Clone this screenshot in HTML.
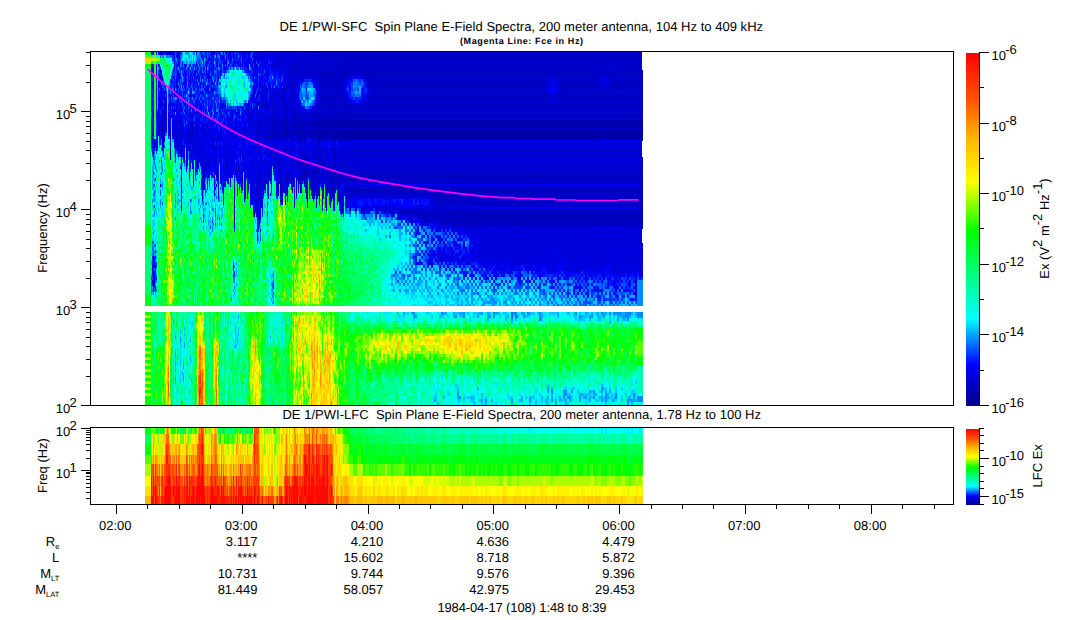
<!DOCTYPE html>
<html><head><meta charset="utf-8"><title>DE 1/PWI Spin Plane E-Field Spectra</title>
<style>html,body{margin:0;padding:0;background:#fff;overflow:hidden}svg{display:block}</style></head>
<body>
<svg width="1083" height="620" viewBox="0 0 1083 620" font-family="Liberation Sans, Arial, Helvetica, sans-serif" font-size="13" fill="#000" shape-rendering="crispEdges">
<rect width="1083" height="620" fill="#fff"/>
<!--DATA-->
<rect x="151" y="130" width="492" height="10" fill="#0000a8"/>
<rect x="151" y="120" width="492" height="8" fill="#0000b0"/>
<rect x="151" y="74" width="492" height="2" fill="#0000b8"/>
<rect x="151" y="84" width="492" height="2" fill="#0000b8"/>
<rect x="151" y="95" width="492" height="2" fill="#0000b8"/>
<rect x="151" y="105" width="492" height="2" fill="#0000b8"/>
<rect x="151" y="115" width="492" height="2" fill="#0000b8"/>
<rect x="151" y="150" width="491" height="1" fill="#0000c0"/>
<rect x="151" y="155" width="491" height="1" fill="#0000c0"/>
<rect x="151" y="165" width="492" height="1" fill="#0000c0"/>
<rect x="151" y="176" width="492" height="1" fill="#0000c0"/>
<rect x="151" y="190" width="492" height="1" fill="#0000c0"/>
<rect x="151" y="196" width="492" height="1" fill="#0000c0"/>
<rect x="151" y="209" width="492" height="17" fill="#0000c0"/>
<rect x="151" y="52" width="491" height="18" fill="#0000c8"/>
<rect x="151" y="70" width="492" height="4" fill="#0000c8"/>
<rect x="151" y="76" width="492" height="3" fill="#0000c8"/>
<rect x="151" y="80" width="492" height="4" fill="#0000c8"/>
<rect x="151" y="86" width="492" height="4" fill="#0000c8"/>
<rect x="151" y="91" width="492" height="4" fill="#0000c8"/>
<rect x="151" y="97" width="492" height="3" fill="#0000c8"/>
<rect x="151" y="101" width="492" height="4" fill="#0000c8"/>
<rect x="151" y="107" width="492" height="3" fill="#0000c8"/>
<rect x="151" y="111" width="492" height="4" fill="#0000c8"/>
<rect x="151" y="117" width="492" height="2" fill="#0000c8"/>
<rect x="151" y="128" width="492" height="2" fill="#0000c8"/>
<rect x="151" y="170" width="492" height="6" fill="#0000c8"/>
<rect x="151" y="177" width="492" height="7" fill="#0000c8"/>
<rect x="151" y="185" width="492" height="5" fill="#0000c8"/>
<rect x="151" y="191" width="492" height="5" fill="#0000c8"/>
<rect x="151" y="197" width="492" height="10" fill="#0000c8"/>
<rect x="151" y="146" width="491" height="4" fill="#0000d8"/>
<rect x="151" y="151" width="491" height="4" fill="#0000d8"/>
<rect x="151" y="156" width="491" height="1" fill="#0000d8"/>
<rect x="151" y="229" width="491" height="14" fill="#0000d8"/>
<rect x="151" y="79" width="492" height="1" fill="#0000d8"/>
<rect x="151" y="90" width="492" height="1" fill="#0000d8"/>
<rect x="151" y="100" width="492" height="1" fill="#0000d8"/>
<rect x="151" y="110" width="492" height="1" fill="#0000d8"/>
<rect x="151" y="119" width="492" height="1" fill="#0000d8"/>
<rect x="151" y="157" width="492" height="1" fill="#0000d8"/>
<rect x="151" y="158" width="492" height="7" fill="#0000d8"/>
<rect x="151" y="166" width="492" height="4" fill="#0000d8"/>
<rect x="151" y="226" width="492" height="3" fill="#0000d8"/>
<rect x="151" y="243" width="492" height="63" fill="#0000d8"/>
<rect x="151" y="141" width="491" height="5" fill="#0000e7"/>
<rect x="151" y="140" width="492" height="1" fill="#0000e7"/>
<rect x="151" y="207" width="492" height="2" fill="#0000ef"/>
<rect x="151" y="184" width="492" height="1" fill="#00f"/>
<path stroke="#000089" stroke-width="1" fill="none" d="M162.5 130v3M318.5 136v3"/>
<path stroke="#000091" stroke-width="1" fill="none" d="M335.5 136v3"/>
<path stroke="#009" stroke-width="1" fill="none" d="M326.5 136v3M338.5 196v3"/>
<path stroke="#0000a1" stroke-width="1" fill="none" d="M170.5 133v3M190.5 130v3M261.5 181v3M286.5 133v3M300.5 175v3M303.5 175v3M306.5 187v3M318.5 130v3M319.5 121v3M319.5 136v3M326.5 133v3M332.5 187v3M334.5 136v3M335.5 133v3M335.5 154v3M335.5 163v3M335.5 172v3M335.5 178v3M338.5 172v3M339.5 133v3M340.5 133v3"/>
<path stroke="#0000a8" stroke-width="1" fill="none" d="M153.5 280v3M161.5 121v3M226.5 160v3M280.5 187v3M291.5 154v3M304.5 154v3M304.5 175v6M309.5 163v3M318.5 124v3M319.5 124v3M324.5 163v3M326.5 127v3M331.5 121v3M332.5 178v3M332.5 193v3M335.5 160v3M335.5 166v3M335.5 190v3M338.5 181v3M341.5 211v3"/>
<path stroke="#0000b0" stroke-width="1" fill="none" d="M153.5 262v3M161.5 115v3M161.5 133v3M162.5 118v3M162.5 127v3M164.5 115v3M182.5 133v3M192.5 127v3M201.5 169v3M203.5 178v3M207.5 130v3M207.5 184v3M226.5 163v3M241.5 187v3M256.5 175v3M261.5 175v3M261.5 190v3M262.5 103v3M268.5 136v3M271.5 130v3M274.5 130v3M278.5 160v3M279.5 133v3M280.5 136v3M281.5 160v3M281.5 184v3M281.5 193v3M282.5 133v3M285.5 133v3M286.5 115v3M286.5 127v3M287.5 148v3M291.5 163v3M293.5 178v3M297.5 136v3M299.5 130v3M299.5 160v3M300.5 130v6M300.5 181v3M301.5 133v3M304.5 163v6M305.5 130v3M306.5 172v3M309.5 130v3M309.5 175v6M310.5 130v3M311.5 133v3M311.5 190v3M312.5 172v3M312.5 193v3M313.5 139v3M313.5 196v3M315.5 175v3M316.5 157v3M316.5 172v3M317.5 133v3M318.5 142v3M321.5 103v3M322.5 115v3M323.5 73v3M323.5 193v3M324.5 130v3M324.5 151v3M325.5 130v3M325.5 202v3M327.5 136v3M330.5 187v3M332.5 169v6M332.5 181v3M333.5 130v3M333.5 154v3M335.5 175v3M335.5 181v3M336.5 130v3M336.5 175v3M337.5 133v3M338.5 190v6M339.5 199v3M340.5 160v6M343.5 154v3"/>
<path stroke="#0000b0" stroke-width="2" fill="none" d="M346 133v3"/>
<path stroke="#0000b8" stroke-width="1" fill="none" d="M161.5 100v3M161.5 118v3M161.5 124v3M162.5 136v3M170.5 130v3M176.5 136v3M182.5 130v3M189.5 145v3M190.5 127v3M192.5 133v3M196.5 130v3M196.5 139v3M196.5 160v3M208.5 157v3M211.5 100v3M231.5 133v3M232.5 127v3M236.5 169v3M242.5 178v3M249.5 124v6M259.5 130v3M259.5 151v3M261.5 184v3M267.5 172v3M271.5 121v9M272.5 112v6M272.5 127v3M274.5 121v3M275.5 130v3M277.5 100v3M280.5 97v3M281.5 127v3M281.5 157v3M281.5 181v3M282.5 127v6M284.5 106v3M284.5 133v3M285.5 106v3M285.5 127v3M286.5 106v3M286.5 124v3M286.5 148v3M288.5 130v3M288.5 172v3M289.5 124v3M290.5 73v3M290.5 121v3M291.5 76v3M291.5 91v3M291.5 121v3M291.5 136v3M291.5 160v3M291.5 166v3M291.5 178v3M293.5 130v9M293.5 175v3M294.5 82v3M294.5 97v3M294.5 112v3M294.5 127v3M295.5 130v3M295.5 160v3M296.5 82v3M297.5 139v3M298.5 130v3M298.5 136v3M299.5 121v3M299.5 127v3M299.5 133v3M300.5 115v3M300.5 136v3M300.5 151v3M301.5 73v3M301.5 136v3M302.5 127v3M302.5 133v3M302.5 139v3M302.5 169v3M303.5 154v3M303.5 163v6M304.5 121v3M304.5 127v6M304.5 136v3M306.5 190v3M307.5 121v3M307.5 130v3M308.5 121v3M308.5 136v3M308.5 151v3M308.5 169v3M309.5 169v3M310.5 121v3M311.5 121v3M312.5 133v3M312.5 178v3M312.5 187v3M313.5 73v3M313.5 169v6M314.5 130v3M314.5 178v3M315.5 187v3M316.5 130v9M316.5 163v3M317.5 124v3M317.5 130v3M318.5 127v3M318.5 145v3M318.5 157v3M318.5 163v3M319.5 82v3M319.5 196v3M321.5 76v3M321.5 82v3M321.5 133v3M322.5 136v3M322.5 148v3M322.5 181v3M323.5 76v3M323.5 85v3M323.5 121v3M323.5 130v3M323.5 136v3M323.5 187v6M324.5 106v3M324.5 160v3M324.5 166v3M326.5 187v3M326.5 193v3M327.5 103v3M327.5 118v3M327.5 130v3M329.5 124v3M329.5 133v3M329.5 199v3M330.5 91v3M330.5 103v3M330.5 133v3M330.5 193v3M331.5 55v3M331.5 133v3M332.5 76v3M332.5 124v3M332.5 154v3M332.5 163v3M332.5 175v3M332.5 190v3M333.5 133v3M334.5 139v3M334.5 196v3M335.5 127v3M335.5 151v3M335.5 157v3M335.5 169v3M336.5 133v3M336.5 181v3M337.5 163v3M337.5 199v3M338.5 175v3M338.5 184v6M338.5 199v3M339.5 127v3M339.5 190v3M340.5 127v3M341.5 139v3M341.5 196v3M341.5 202v3M342.5 115v3M342.5 127v3M343.5 163v3M343.5 196v3M344.5 136v3"/>
<path stroke="#0000b8" stroke-width="2" fill="none" d="M376 211v3M422 217v3M436 217v3M444 214v3M452 211v3M452 217v3M454 211v3M454 217v3M462 217v3M464 220v6M466 214v3M468 214v3"/>
<path stroke="#0000c0" stroke-width="1" fill="none" d="M153.5 265v3M153.5 283v3M160.5 52v3M161.5 127v3M162.5 142v3M163.5 124v3M164.5 136v3M177.5 109v3M180.5 145v3M181.5 133v3M181.5 148v12M181.5 166v3M188.5 133v3M190.5 112v3M196.5 151v3M196.5 169v3M202.5 160v3M209.5 136v3M212.5 145v3M220.5 172v3M226.5 157v3M227.5 139v3M241.5 184v3M242.5 163v3M243.5 160v3M249.5 106v6M249.5 121v3M249.5 133v3M249.5 154v3M251.5 109v3M251.5 121v3M251.5 181v3M252.5 148v3M252.5 163v3M252.5 181v3M256.5 139v3M257.5 232v3M258.5 124v3M258.5 130v3M258.5 148v3M259.5 154v3M259.5 163v3M260.5 142v3M261.5 121v3M261.5 169v3M264.5 184v3M265.5 136v3M266.5 136v3M266.5 151v3M266.5 160v3M267.5 121v3M268.5 118v9M269.5 136v3M271.5 133v6M272.5 97v3M272.5 154v3M273.5 124v3M273.5 169v3M274.5 109v6M274.5 148v3M275.5 91v3M275.5 118v3M275.5 136v3M276.5 121v3M277.5 97v3M277.5 130v3M277.5 169v3M278.5 133v3M279.5 121v6M279.5 148v3M279.5 154v3M280.5 166v3M281.5 163v3M282.5 136v3M282.5 199v3M284.5 121v3M284.5 130v3M285.5 118v3M285.5 130v3M285.5 136v3M285.5 199v6M286.5 100v3M286.5 109v6M286.5 139v3M287.5 127v3M288.5 133v3M288.5 178v3M289.5 133v3M290.5 133v3M291.5 61v3M291.5 79v3M291.5 88v3M291.5 133v3M291.5 175v3M292.5 130v3M292.5 136v3M293.5 181v3M294.5 70v3M294.5 118v3M294.5 139v3M296.5 70v3M296.5 181v3M297.5 118v3M297.5 124v3M297.5 160v3M298.5 139v3M298.5 160v3M299.5 124v3M299.5 136v3M300.5 118v3M300.5 148v3M300.5 163v3M300.5 187v3M301.5 55v3M301.5 118v6M301.5 187v3M302.5 121v3M302.5 151v3M302.5 166v3M302.5 178v3M303.5 130v3M303.5 148v3M303.5 160v3M304.5 124v3M304.5 133v3M304.5 160v3M304.5 169v3M304.5 181v3M305.5 124v3M305.5 133v6M306.5 121v3M306.5 136v3M306.5 160v3M306.5 169v3M307.5 124v3M308.5 124v3M308.5 130v3M308.5 166v3M309.5 121v3M309.5 151v9M309.5 187v3M312.5 136v3M312.5 163v3M313.5 133v3M314.5 124v3M314.5 136v3M314.5 154v3M314.5 175v3M314.5 184v3M315.5 124v3M315.5 136v3M315.5 163v3M316.5 121v6M316.5 181v3M317.5 52v3M317.5 136v3M318.5 148v3M318.5 154v3M318.5 169v3M319.5 58v3M319.5 139v3M320.5 124v3M322.5 160v3M322.5 184v3M323.5 52v3M323.5 67v3M323.5 124v3M324.5 133v3M324.5 157v3M324.5 175v3M326.5 67v6M326.5 76v6M326.5 139v3M326.5 148v3M326.5 169v3M326.5 199v3M327.5 91v3M327.5 139v3M327.5 169v3M328.5 76v3M328.5 130v3M328.5 136v3M329.5 163v3M329.5 169v6M330.5 88v3M330.5 136v3M330.5 184v3M331.5 91v3M331.5 109v3M331.5 136v3M331.5 169v3M332.5 133v3M332.5 148v3M333.5 148v3M333.5 184v3M334.5 148v3M334.5 160v12M335.5 148v3M336.5 172v3M337.5 136v3M337.5 154v3M338.5 76v3M338.5 139v3M338.5 163v3M339.5 139v3M339.5 157v3M339.5 166v3M339.5 181v3M341.5 88v3M341.5 199v3M342.5 208v3M343.5 208v3"/>
<path stroke="#0000c0" stroke-width="2" fill="none" d="M346 163v3M350 73v3M406 211v3M412 214v3M416 214v3M426 211v3M436 220v3M440 259v3M444 247v3M446 220v3M454 220v3M464 217v3M466 211v3M466 217v6M578 268v3M598 73v3M606 73v3"/>
<path stroke="#0000c8" stroke-width="1" fill="none" d="M155.5 265v6M158.5 121v3M159.5 130v3M161.5 94v3M161.5 130v3M162.5 121v3M162.5 133v3M163.5 130v3M164.5 124v3M165.5 106v3M165.5 124v6M170.5 118v3M170.5 136v3M173.5 121v3M175.5 127v3M175.5 136v3M176.5 109v3M176.5 121v6M176.5 130v6M176.5 145v3M178.5 133v3M179.5 118v3M179.5 136v3M180.5 136v6M181.5 160v6M186.5 160v3M187.5 118v3M187.5 130v3M188.5 136v3M189.5 151v3M189.5 163v3M190.5 82v3M190.5 124v3M190.5 133v3M190.5 160v3M192.5 139v3M192.5 145v3M194.5 148v3M195.5 130v3M195.5 151v3M196.5 127v3M196.5 136v3M196.5 145v3M197.5 139v3M198.5 85v3M199.5 124v3M201.5 160v3M202.5 157v3M202.5 163v3M203.5 130v3M203.5 157v9M206.5 157v3M207.5 148v3M207.5 166v6M208.5 160v3M208.5 175v3M209.5 130v6M211.5 124v3M211.5 133v3M212.5 136v6M212.5 157v3M213.5 145v6M215.5 163v3M215.5 169v3M216.5 151v3M216.5 160v3M220.5 160v3M227.5 127v3M227.5 133v3M231.5 136v3M231.5 148v6M231.5 169v3M234.5 205v3M236.5 166v3M242.5 151v3M242.5 166v3M243.5 157v3M246.5 133v3M246.5 169v3M249.5 103v3M249.5 118v3M249.5 130v3M249.5 142v3M249.5 148v6M249.5 169v3M252.5 124v3M252.5 160v3M252.5 184v3M253.5 103v3M254.5 121v3M256.5 124v3M256.5 133v3M256.5 148v3M257.5 220v3M257.5 226v3M258.5 121v3M258.5 127v3M258.5 133v6M259.5 106v3M259.5 124v3M259.5 157v3M259.5 208v3M260.5 124v3M260.5 133v6M261.5 124v9M263.5 130v3M264.5 124v3M265.5 133v3M266.5 139v3M266.5 169v3M267.5 73v3M267.5 106v6M267.5 115v3M267.5 136v3M268.5 103v3M268.5 127v3M268.5 133v3M268.5 139v3M268.5 151v3M269.5 121v6M269.5 130v3M270.5 115v3M270.5 124v3M270.5 133v3M271.5 163v3M272.5 121v6M272.5 130v3M272.5 136v3M272.5 148v3M273.5 133v3M273.5 166v3M274.5 106v3M274.5 115v6M274.5 124v6M274.5 136v6M274.5 145v3M274.5 163v3M275.5 94v3M275.5 100v3M275.5 109v3M275.5 124v6M275.5 133v3M275.5 151v3M275.5 157v3M276.5 133v3M277.5 94v3M277.5 127v3M277.5 145v3M277.5 163v3M278.5 121v9M278.5 136v3M278.5 166v3M279.5 106v3M279.5 118v3M279.5 127v3M279.5 142v3M280.5 94v3M280.5 127v3M280.5 184v3M281.5 94v3M281.5 124v3M281.5 130v6M281.5 151v3M281.5 169v3M282.5 100v3M282.5 169v3M283.5 106v3M283.5 157v3M284.5 88v3M284.5 94v3M284.5 103v3M284.5 115v3M284.5 124v3M285.5 115v3M285.5 145v3M287.5 115v3M287.5 130v9M287.5 154v3M287.5 160v3M288.5 124v6M288.5 136v3M289.5 85v3M289.5 118v3M289.5 136v3M289.5 160v3M290.5 85v3M290.5 94v3M290.5 106v3M290.5 115v3M290.5 136v3M291.5 106v6M291.5 118v3M291.5 151v3M291.5 157v3M292.5 118v12M292.5 133v3M292.5 160v6M293.5 94v3M293.5 166v3M293.5 184v3M294.5 79v3M294.5 85v3M294.5 100v3M294.5 115v3M294.5 163v3M295.5 73v3M295.5 94v3M295.5 121v9M295.5 169v3M296.5 115v3M296.5 130v3M297.5 127v3M297.5 133v3M297.5 151v3M297.5 163v3M298.5 115v3M298.5 133v3M298.5 163v9M299.5 73v3M299.5 106v3M299.5 115v3M299.5 139v3M299.5 166v3M300.5 121v3M300.5 127v3M300.5 139v3M300.5 157v3M300.5 184v3M301.5 127v3M301.5 163v3M302.5 115v3M302.5 136v3M302.5 154v6M303.5 73v3M303.5 124v3M303.5 133v6M303.5 145v3M303.5 157v3M303.5 169v3M304.5 73v3M304.5 115v3M304.5 142v3M304.5 157v3M305.5 115v3M306.5 130v6M306.5 163v6M306.5 196v3M307.5 73v3M307.5 115v3M307.5 127v3M307.5 133v3M308.5 73v3M308.5 115v3M308.5 127v3M308.5 133v3M309.5 115v3M309.5 127v3M309.5 133v3M310.5 73v3M310.5 124v3M310.5 184v3M311.5 73v3M311.5 115v3M311.5 127v3M311.5 136v3M311.5 163v3M311.5 169v3M312.5 73v3M312.5 169v3M313.5 163v3M314.5 127v3M314.5 133v3M314.5 166v3M315.5 148v3M315.5 160v3M315.5 169v3M315.5 184v3M316.5 73v3M316.5 106v3M316.5 154v3M316.5 169v3M317.5 73v3M317.5 106v6M317.5 115v3M317.5 157v3M318.5 103v3M318.5 139v3M318.5 166v3M319.5 85v3M319.5 94v3M319.5 106v3M319.5 145v3M320.5 82v3M320.5 106v3M320.5 139v3M321.5 73v3M321.5 109v3M322.5 73v3M322.5 82v3M322.5 103v3M322.5 163v3M322.5 205v3M323.5 103v3M324.5 73v3M324.5 94v3M324.5 154v3M325.5 94v3M325.5 106v3M325.5 115v3M325.5 160v3M326.5 103v3M326.5 205v3M328.5 73v3M328.5 106v3M328.5 115v3M328.5 127v3M328.5 160v3M328.5 166v3M329.5 94v3M329.5 115v3M329.5 127v3M329.5 151v3M331.5 82v6M332.5 103v3M332.5 118v3M332.5 157v3M332.5 166v3M333.5 94v3M333.5 151v3M333.5 163v6M334.5 73v3M334.5 85v3M334.5 94v3M334.5 157v3M335.5 184v3M336.5 73v3M336.5 94v3M336.5 106v3M336.5 184v3M337.5 115v3M338.5 169v3M339.5 103v3M340.5 82v3M341.5 82v3M341.5 166v3M342.5 73v3M342.5 82v3M342.5 205v3M343.5 106v3M343.5 151v3M343.5 157v6M343.5 166v3M344.5 73v3M344.5 106v3M344.5 115v3"/>
<path stroke="#0000c8" stroke-width="2" fill="none" d="M346 196v3M352 73v3M352 106v3M354 73v3M356 106v3M358 73v3M362 73v3M362 103v3M366 76v3M370 82v6M370 94v3M392 211v3M398 214v3M400 211v3M404 214v3M408 211v3M412 217v6M418 214v3M422 220v3M424 211v3M426 220v3M428 211v3M428 217v3M430 220v3M432 196v3M432 211v6M434 214v3M436 208v3M438 211v3M438 217v6M442 214v6M444 211v3M444 229v3M446 196v3M446 214v3M446 223v3M448 196v3M448 214v3M448 223v3M456 214v3M460 220v6M462 196v3M466 199v6M476 208v3M548 94v3M556 94v3M558 94v3M560 82v6M568 268v3M598 85v3M600 73v3M600 85v3M604 265v3M608 73v3M608 85v3M610 82v3M612 268v3M614 265v3"/>
<path stroke="#0000d0" stroke-width="1" fill="none" d="M158.5 115v3M158.5 124v3M159.5 127v3M161.5 76v3M161.5 88v3M161.5 136v3M162.5 109v3M162.5 115v3M162.5 145v3M163.5 112v3M163.5 127v3M163.5 142v3M164.5 127v6M166.5 121v3M166.5 127v3M170.5 103v3M170.5 145v3M172.5 127v3M172.5 133v3M173.5 124v3M173.5 133v3M174.5 76v3M174.5 109v3M175.5 121v3M175.5 139v3M177.5 133v6M178.5 94v3M178.5 127v3M179.5 55v3M179.5 127v6M180.5 133v3M181.5 121v3M181.5 145v3M181.5 199v3M183.5 124v3M183.5 154v3M185.5 133v3M186.5 166v6M187.5 124v3M188.5 79v3M188.5 142v3M188.5 148v3M189.5 130v9M189.5 160v3M189.5 169v3M190.5 136v6M190.5 154v3M191.5 124v3M192.5 124v3M192.5 136v3M193.5 121v3M195.5 121v3M195.5 127v3M195.5 136v3M195.5 154v3M195.5 163v3M196.5 106v3M196.5 124v3M196.5 163v6M197.5 130v3M197.5 142v3M198.5 148v3M199.5 136v6M201.5 91v3M201.5 136v3M201.5 142v6M201.5 157v3M202.5 124v3M202.5 133v3M203.5 133v3M203.5 145v3M203.5 151v3M203.5 169v3M203.5 184v3M204.5 130v3M204.5 166v3M205.5 127v6M206.5 163v3M207.5 160v3M208.5 148v3M208.5 163v3M209.5 121v3M212.5 130v3M213.5 127v3M213.5 139v3M214.5 163v3M214.5 175v3M214.5 187v6M216.5 142v3M216.5 172v3M217.5 130v3M217.5 175v3M218.5 145v3M220.5 127v3M220.5 133v6M223.5 172v3M223.5 190v3M225.5 148v3M226.5 148v3M226.5 169v6M227.5 130v3M227.5 142v3M227.5 157v3M228.5 181v3M229.5 52v3M229.5 133v6M229.5 148v3M230.5 133v3M231.5 139v3M231.5 160v3M231.5 166v3M233.5 163v3M234.5 142v3M234.5 202v3M234.5 223v3M236.5 124v3M236.5 175v3M237.5 190v3M238.5 163v3M239.5 118v3M239.5 127v3M239.5 181v3M239.5 187v3M242.5 130v9M242.5 142v3M242.5 154v6M244.5 124v3M244.5 178v3M244.5 196v3M245.5 130v3M245.5 166v3M246.5 115v3M246.5 130v3M246.5 172v3M249.5 136v6M249.5 163v3M251.5 103v3M251.5 130v3M251.5 136v3M251.5 160v3M251.5 187v3M251.5 199v3M252.5 127v15M252.5 166v3M252.5 175v3M253.5 163v3M254.5 61v3M254.5 214v3M255.5 64v3M256.5 118v3M256.5 127v6M256.5 136v3M256.5 145v3M257.5 106v3M257.5 112v3M257.5 118v9M257.5 130v3M257.5 136v3M257.5 145v3M257.5 151v3M258.5 175v3M258.5 196v3M259.5 118v3M259.5 142v6M259.5 172v6M259.5 187v6M260.5 64v3M260.5 85v3M260.5 121v3M260.5 130v3M260.5 139v3M260.5 166v3M260.5 175v3M260.5 184v6M261.5 97v3M261.5 136v3M262.5 85v3M263.5 85v3M263.5 121v3M264.5 94v3M264.5 115v3M264.5 130v3M264.5 136v3M264.5 175v3M264.5 187v3M265.5 61v3M265.5 94v3M265.5 106v3M265.5 121v12M265.5 157v3M266.5 103v3M266.5 148v3M267.5 52v3M267.5 58v3M267.5 76v3M267.5 103v3M267.5 127v3M267.5 145v3M267.5 184v3M268.5 175v3M269.5 118v3M269.5 172v3M270.5 55v3M270.5 94v3M270.5 106v3M270.5 118v3M270.5 130v3M271.5 55v3M271.5 148v3M272.5 103v6M272.5 139v3M273.5 121v3M273.5 151v3M274.5 67v3M274.5 91v3M274.5 157v3M275.5 52v3M275.5 61v3M275.5 115v3M275.5 121v3M275.5 139v3M276.5 64v3M276.5 112v3M276.5 127v6M277.5 118v9M277.5 133v6M278.5 97v3M278.5 115v3M278.5 130v3M278.5 175v3M278.5 187v3M279.5 112v6M279.5 139v3M279.5 166v3M279.5 175v3M280.5 55v3M280.5 67v3M280.5 106v6M280.5 121v3M280.5 130v3M280.5 190v3M280.5 199v3M281.5 103v3M281.5 118v6M281.5 136v9M282.5 91v6M282.5 139v6M282.5 172v3M282.5 181v3M282.5 193v6M282.5 202v3M283.5 73v3M283.5 85v3M283.5 94v3M283.5 103v3M283.5 115v3M283.5 121v3M283.5 130v3M284.5 52v3M284.5 67v3M284.5 190v3M285.5 103v3M285.5 193v6M286.5 82v6M286.5 91v3M286.5 145v3M286.5 190v3M287.5 52v3M287.5 61v3M287.5 85v3M287.5 91v3M287.5 103v6M287.5 118v9M287.5 172v3M288.5 64v3M288.5 73v6M288.5 85v3M288.5 118v3M288.5 151v3M289.5 73v3M289.5 94v15M289.5 115v3M289.5 121v3M289.5 127v3M289.5 139v3M289.5 151v3M289.5 175v3M290.5 103v3M290.5 118v3M290.5 124v9M290.5 178v3M291.5 58v3M291.5 82v3M291.5 103v3M291.5 139v3M291.5 172v3M292.5 64v3M292.5 85v3M292.5 94v3M292.5 106v3M292.5 115v3M292.5 166v3M292.5 175v3M293.5 82v3M293.5 103v6M293.5 127v3M293.5 142v3M294.5 73v3M294.5 106v3M294.5 136v3M294.5 202v3M295.5 55v9M295.5 133v3M296.5 61v3M296.5 73v3M296.5 85v3M296.5 103v3M296.5 127v3M296.5 133v6M296.5 157v3M297.5 70v3M297.5 103v3M297.5 115v3M297.5 121v3M297.5 157v3M297.5 175v3M298.5 118v3M298.5 124v6M298.5 187v3M299.5 112v3M299.5 118v3M299.5 145v3M299.5 178v3M300.5 70v3M300.5 106v3M300.5 178v3M301.5 70v3M301.5 76v3M301.5 115v3M302.5 67v3M302.5 73v3M302.5 118v3M302.5 160v3M302.5 175v3M302.5 181v3M303.5 115v6M303.5 127v3M304.5 139v3M304.5 151v3M305.5 61v3M305.5 112v3M305.5 118v3M305.5 187v3M306.5 67v3M306.5 73v3M306.5 124v6M306.5 178v3M306.5 184v3M307.5 58v3M307.5 64v6M307.5 193v3M308.5 112v3M308.5 157v3M308.5 163v3M309.5 112v3M310.5 70v3M310.5 112v9M310.5 127v3M310.5 133v6M310.5 172v3M310.5 178v6M311.5 112v3M311.5 118v3M311.5 157v3M312.5 58v3M312.5 76v3M312.5 118v3M312.5 181v3M313.5 52v3M313.5 76v3M313.5 118v3M313.5 184v3M313.5 193v3M313.5 199v3M314.5 67v9M314.5 115v3M314.5 196v3M315.5 70v9M315.5 178v3M316.5 64v3M316.5 82v3M316.5 103v3M316.5 160v3M317.5 67v3M317.5 76v3M317.5 85v3M317.5 166v3M317.5 190v3M318.5 61v3M318.5 106v3M318.5 175v3M319.5 70v3M319.5 151v3M319.5 160v3M319.5 172v3M320.5 67v3M320.5 103v3M321.5 70v3M321.5 151v3M321.5 175v3M322.5 61v9M322.5 85v3M322.5 145v3M322.5 175v3M322.5 190v3M322.5 202v3M323.5 106v3M323.5 112v3M323.5 169v6M324.5 82v6M324.5 112v3M324.5 178v3M325.5 52v6M325.5 97v3M326.5 97v3M326.5 106v3M326.5 166v3M326.5 175v3M326.5 184v3M327.5 52v12M327.5 157v3M327.5 190v3M328.5 61v3M328.5 112v3M328.5 118v3M328.5 175v3M329.5 91v3M329.5 103v6M329.5 118v3M329.5 136v3M329.5 166v3M330.5 58v6M330.5 76v3M330.5 166v3M330.5 190v3M331.5 190v3M332.5 160v3M333.5 118v3M333.5 208v3M334.5 52v3M335.5 142v3M336.5 58v3M336.5 157v3M337.5 187v12M337.5 202v3M338.5 52v3M338.5 58v3M338.5 64v3M338.5 118v3M338.5 151v3M340.5 64v3M340.5 196v3M341.5 145v3M341.5 172v3M341.5 190v3M342.5 85v3M342.5 91v3M342.5 145v3M342.5 166v3M342.5 199v3M343.5 61v3M343.5 178v3M343.5 190v3M344.5 82v6M344.5 94v6M344.5 103v3"/>
<path stroke="#0000d0" stroke-width="2" fill="none" d="M346 97v3M346 139v3M346 148v3M346 166v6M346 187v3M346 193v3M346 199v3M348 76v3M348 100v3M348 160v3M348 169v15M348 187v6M348 196v3M350 169v3M350 196v3M352 103v3M352 193v3M354 103v3M356 193v3M358 193v3M360 73v3M360 103v3M360 193v3M362 193v3M364 193v3M364 211v3M366 100v3M366 193v3M368 79v6M368 94v6M368 193v3M368 208v3M370 91v3M370 196v3M372 193v6M374 181v3M374 193v3M376 193v3M382 193v3M382 211v3M384 211v3M386 208v3M388 193v3M392 196v3M400 193v3M402 193v3M406 214v3M410 193v3M410 214v6M412 193v3M414 193v3M416 193v3M418 196v3M420 193v3M420 217v3M422 208v3M426 193v3M430 193v3M432 217v6M434 202v3M434 220v3M438 202v3M440 205v3M440 223v3M442 223v3M442 256v3M444 241v3M446 202v3M446 208v3M452 205v3M452 259v3M456 226v3M458 202v3M462 226v3M464 202v9M476 229v3M486 265v3M512 262v6M546 82v6M546 91v3M548 76v3M550 76v3M550 97v3M552 97v3M554 76v3M554 97v3M554 262v3M556 76v3M556 97v3M558 76v3M558 85v3M576 265v6M578 262v3M586 265v3M592 265v3M598 76v3M598 82v3M600 82v3M602 73v3M602 85v3M604 73v3M604 85v3M606 85v3M608 82v3M614 268v3M620 271v3M624 262v3M628 265v3M636 265v6M636 274v3M638 265v3M640 265v9"/>
<path stroke="#0000d8" stroke-width="1" fill="none" d="M153.5 256v3M158.5 109v3M158.5 118v3M159.5 76v3M159.5 85v3M159.5 106v3M160.5 70v3M160.5 100v3M161.5 73v3M161.5 85v3M161.5 106v3M162.5 139v3M163.5 136v3M164.5 94v3M164.5 100v3M164.5 106v3M164.5 133v3M165.5 103v3M165.5 109v6M165.5 118v3M166.5 115v6M169.5 103v3M169.5 130v6M170.5 106v3M170.5 154v6M172.5 52v3M172.5 115v3M173.5 127v3M174.5 112v3M174.5 136v3M175.5 115v3M175.5 130v6M175.5 148v3M176.5 118v3M176.5 139v3M176.5 148v3M177.5 106v3M177.5 139v6M178.5 121v3M178.5 136v3M178.5 145v3M179.5 124v3M180.5 127v3M181.5 118v3M181.5 130v3M181.5 169v3M181.5 187v3M182.5 121v3M182.5 136v3M182.5 145v3M183.5 100v3M186.5 136v3M186.5 163v3M187.5 112v3M187.5 133v6M187.5 142v3M188.5 130v3M188.5 145v3M189.5 112v3M189.5 172v3M190.5 85v3M190.5 100v3M190.5 115v3M191.5 115v3M191.5 130v3M191.5 139v3M192.5 121v3M192.5 166v3M193.5 130v3M193.5 181v3M194.5 136v3M194.5 154v3M195.5 145v3M195.5 172v6M196.5 112v3M196.5 133v3M196.5 154v3M197.5 115v3M197.5 127v3M197.5 154v3M198.5 79v3M199.5 121v3M199.5 133v3M201.5 121v3M201.5 130v3M201.5 163v3M202.5 130v3M202.5 136v6M202.5 154v3M202.5 172v3M202.5 181v3M202.5 190v3M203.5 82v3M203.5 121v6M203.5 136v6M203.5 172v3M203.5 181v3M205.5 175v3M206.5 136v3M206.5 142v3M206.5 154v3M207.5 127v3M207.5 154v3M207.5 163v3M208.5 76v3M208.5 154v3M209.5 127v3M209.5 139v3M210.5 130v3M210.5 136v3M211.5 97v3M211.5 106v3M211.5 121v3M211.5 139v3M211.5 154v3M212.5 133v3M213.5 64v3M213.5 70v3M213.5 136v3M213.5 154v3M214.5 52v3M214.5 136v3M214.5 145v6M216.5 145v3M216.5 163v3M216.5 169v3M217.5 103v3M217.5 136v3M218.5 136v3M218.5 187v6M219.5 109v3M219.5 133v3M220.5 130v3M220.5 145v3M221.5 103v3M221.5 130v3M221.5 163v3M223.5 121v3M223.5 175v3M223.5 199v3M224.5 139v3M225.5 103v3M225.5 121v3M225.5 175v3M226.5 145v3M226.5 154v3M227.5 106v3M227.5 118v3M227.5 124v3M227.5 136v3M227.5 172v3M228.5 178v3M229.5 154v3M230.5 118v3M230.5 124v3M231.5 112v3M231.5 118v3M231.5 130v3M231.5 145v3M231.5 154v3M231.5 163v3M232.5 118v3M232.5 145v3M233.5 115v3M234.5 133v6M234.5 169v3M234.5 181v3M234.5 190v3M234.5 208v3M236.5 52v3M236.5 130v3M236.5 154v3M237.5 139v3M238.5 115v3M239.5 115v3M239.5 130v3M239.5 184v3M240.5 64v3M240.5 136v3M242.5 139v3M242.5 148v3M242.5 172v3M242.5 181v3M243.5 163v3M244.5 133v3M244.5 139v3M244.5 148v3M245.5 178v3M245.5 193v6M246.5 109v3M246.5 124v3M246.5 136v3M246.5 175v3M247.5 52v3M247.5 154v3M247.5 169v3M248.5 112v3M248.5 184v3M249.5 115v3M249.5 145v3M249.5 175v3M250.5 106v3M250.5 112v6M251.5 97v3M251.5 106v3M251.5 115v6M251.5 124v3M251.5 184v3M251.5 193v3M252.5 115v3M252.5 145v3M252.5 154v3M252.5 190v3M253.5 112v3M253.5 196v3M254.5 64v3M254.5 70v3M254.5 91v6M254.5 136v3M254.5 205v3M255.5 175v3M255.5 205v3M256.5 94v3M256.5 100v6M256.5 112v6M256.5 142v3M256.5 172v3M256.5 184v3M256.5 193v3M257.5 52v9M257.5 103v3M257.5 109v3M257.5 127v3M257.5 133v3M257.5 187v6M257.5 208v3M257.5 214v3M257.5 223v3M258.5 139v3M258.5 178v3M258.5 184v3M258.5 208v3M258.5 214v3M259.5 73v3M259.5 85v9M259.5 97v3M259.5 109v3M259.5 115v3M259.5 133v3M259.5 178v6M260.5 55v3M260.5 82v3M260.5 91v3M260.5 103v3M260.5 127v3M260.5 145v6M260.5 169v3M260.5 178v6M261.5 91v3M261.5 109v3M261.5 115v6M261.5 142v3M261.5 163v3M261.5 178v3M261.5 199v3M262.5 55v3M262.5 91v3M262.5 97v3M262.5 115v9M262.5 136v3M262.5 196v3M263.5 52v3M263.5 58v3M263.5 97v3M263.5 115v3M263.5 124v3M263.5 136v3M263.5 187v6M264.5 91v3M264.5 121v3M264.5 127v3M264.5 181v3M265.5 73v3M265.5 118v3M265.5 175v3M265.5 187v3M266.5 118v6M266.5 130v6M266.5 154v3M266.5 178v3M267.5 70v3M267.5 82v3M267.5 88v3M267.5 112v3M267.5 130v6M267.5 154v3M268.5 58v3M268.5 67v3M268.5 100v3M268.5 109v3M268.5 115v3M268.5 142v3M268.5 154v3M268.5 184v3M269.5 91v3M269.5 97v6M269.5 127v3M270.5 58v3M270.5 91v3M270.5 100v6M270.5 121v3M270.5 136v3M270.5 169v6M271.5 142v3M271.5 154v3M271.5 169v3M271.5 178v3M271.5 184v3M272.5 118v3M272.5 163v3M273.5 55v3M273.5 61v3M273.5 130v3M273.5 163v3M274.5 52v3M274.5 172v3M275.5 58v3M275.5 97v3M275.5 106v3M275.5 172v3M276.5 91v3M276.5 103v6M276.5 115v3M276.5 124v3M276.5 154v3M276.5 193v3M277.5 178v3M277.5 190v3M278.5 64v3M278.5 91v3M278.5 106v3M278.5 118v3M278.5 163v3M278.5 169v6M278.5 184v3M279.5 58v3M279.5 64v3M279.5 94v3M279.5 145v3M279.5 169v6M280.5 61v3M280.5 70v3M280.5 88v3M280.5 124v3M280.5 172v3M280.5 196v3M281.5 52v6M281.5 70v3M281.5 145v3M282.5 58v3M282.5 64v6M282.5 148v3M282.5 190v3M283.5 55v6M283.5 67v3M283.5 82v3M283.5 88v3M283.5 124v6M283.5 133v3M283.5 175v6M284.5 55v6M284.5 73v3M284.5 85v3M284.5 100v3M284.5 127v3M284.5 136v6M284.5 145v6M284.5 163v3M284.5 178v3M285.5 55v3M285.5 82v3M285.5 109v3M285.5 139v3M285.5 154v3M285.5 172v3M285.5 184v3M286.5 64v6M287.5 55v3M287.5 70v3M287.5 79v3M287.5 109v3M287.5 139v3M287.5 163v3M287.5 175v3M287.5 187v3M288.5 67v3M288.5 79v6M288.5 88v3M288.5 100v6M288.5 115v3M288.5 169v3M288.5 181v6M289.5 70v3M289.5 88v3M289.5 112v3M290.5 67v6M290.5 79v3M290.5 91v3M290.5 181v3M291.5 73v3M291.5 100v3M291.5 142v3M291.5 169v3M292.5 55v3M292.5 61v3M292.5 67v3M292.5 82v3M292.5 91v3M292.5 103v3M292.5 139v3M292.5 154v3M292.5 169v6M293.5 64v3M293.5 73v3M293.5 85v3M293.5 91v3M293.5 100v3M293.5 112v9M294.5 55v3M294.5 148v3M295.5 91v3M295.5 103v6M295.5 115v3M295.5 139v3M295.5 163v3M295.5 175v3M296.5 76v3M296.5 88v3M296.5 94v6M296.5 112v3M296.5 118v3M296.5 163v3M296.5 184v3M297.5 61v3M297.5 67v3M297.5 79v6M297.5 109v6M297.5 154v3M297.5 172v3M297.5 178v3M298.5 52v6M298.5 61v3M298.5 76v3M298.5 109v3M298.5 172v3M299.5 55v3M299.5 64v6M300.5 73v3M300.5 109v3M300.5 145v3M300.5 172v3M301.5 109v6M301.5 139v3M302.5 70v3M302.5 76v3M302.5 109v3M302.5 142v3M302.5 163v3M303.5 76v3M303.5 178v3M304.5 64v3M304.5 70v3M304.5 148v3M305.5 52v3M305.5 64v3M305.5 127v3M305.5 169v6M305.5 181v3M306.5 52v6M306.5 61v3M306.5 112v9M306.5 139v3M306.5 175v3M306.5 181v3M307.5 136v3M307.5 172v6M308.5 58v15M308.5 118v3M308.5 172v3M309.5 61v3M309.5 76v3M309.5 118v3M310.5 55v9M310.5 67v3M310.5 142v3M310.5 169v3M310.5 187v3M311.5 52v3M311.5 58v3M311.5 67v3M311.5 76v3M311.5 148v3M311.5 181v6M312.5 52v6M312.5 61v3M312.5 109v3M312.5 148v3M312.5 154v3M312.5 175v3M312.5 184v3M314.5 52v3M314.5 61v3M314.5 76v3M314.5 106v3M314.5 112v3M314.5 118v3M314.5 139v3M314.5 148v3M314.5 169v3M315.5 55v3M315.5 64v6M315.5 79v3M315.5 106v3M315.5 118v3M315.5 142v3M315.5 154v3M315.5 181v3M316.5 52v3M316.5 76v6M316.5 184v6M316.5 199v3M317.5 61v3M317.5 79v6M317.5 88v3M317.5 100v6M317.5 142v3M317.5 169v3M317.5 178v3M318.5 58v3M318.5 67v6M318.5 76v3M318.5 82v6M318.5 94v3M318.5 181v3M318.5 193v3M319.5 109v3M319.5 202v3M320.5 64v3M320.5 91v3M320.5 109v3M320.5 118v3M320.5 172v3M321.5 67v3M321.5 136v3M321.5 181v3M322.5 52v3M323.5 139v3M323.5 178v3M324.5 58v3M324.5 64v3M324.5 79v3M324.5 88v3M325.5 58v3M325.5 175v3M325.5 181v3M326.5 172v3M326.5 181v3M327.5 148v3M327.5 178v3M328.5 157v3M329.5 175v3M329.5 190v3M330.5 55v3M330.5 64v3M331.5 67v3M331.5 163v3M331.5 175v3M332.5 109v3M333.5 181v3M334.5 61v6M334.5 190v3M334.5 202v3M335.5 139v3M336.5 55v3M336.5 88v3M336.5 109v3M336.5 154v3M336.5 163v3M337.5 88v3M337.5 169v3M337.5 181v3M338.5 55v3M338.5 61v3M338.5 148v3M338.5 178v3M339.5 112v3M339.5 148v3M339.5 187v3M340.5 154v3M340.5 169v3M340.5 175v3M340.5 181v3M340.5 193v3M340.5 199v3M341.5 154v3M341.5 169v3M341.5 178v6M341.5 187v3M342.5 169v9M342.5 181v3M342.5 190v3M342.5 202v3M343.5 88v3M343.5 142v3M343.5 175v3M343.5 193v3M343.5 211v6M344.5 79v3M344.5 100v3M344.5 172v3"/>
<path stroke="#0000d8" stroke-width="2" fill="none" d="M346 79v3M346 94v3M346 157v3M346 205v3M348 148v3M348 154v3M350 76v3M350 100v3M350 208v3M356 73v3M356 103v3M358 103v3M360 196v3M362 208v3M364 76v3M364 100v3M364 196v3M366 79v3M366 97v3M366 208v3M368 85v3M376 214v3M378 208v3M380 196v3M380 208v3M384 196v3M384 208v3M386 196v3M388 196v3M388 208v3M394 208v3M398 196v3M402 211v3M404 196v3M406 196v3M408 208v3M412 196v3M412 208v3M414 196v3M414 208v3M416 217v3M418 208v3M420 196v3M424 208v3M424 220v3M426 196v3M428 196v3M428 223v3M430 196v3M430 202v6M432 199v3M432 259v3M434 205v3M438 205v6M440 208v3M440 253v3M442 208v3M442 238v3M444 259v3M446 154v3M446 256v3M448 208v3M448 256v3M450 250v3M450 256v3M452 253v3M454 205v3M458 226v3M460 205v6M462 205v3M464 256v3M466 226v3M466 232v3M468 259v3M470 208v3M470 259v3M474 238v3M482 262v3M488 265v3M494 262v3M500 265v3M506 268v3M514 262v3M518 262v3M528 268v3M532 262v6M534 262v3M540 271v3M546 88v3M548 79v9M550 94v3M550 262v3M552 76v3M552 94v3M558 79v6M558 91v3M560 88v3M566 268v3M568 265v3M578 271v3M586 262v3M590 262v3M594 268v3M598 79v3M598 139v3M598 268v3M600 76v3M602 76v3M602 82v3M602 268v3M606 82v3M608 76v3M610 79v3M612 271v3M614 262v3M614 274v3M616 262v3M618 262v3M620 265v3M626 262v3M628 262v3M628 268v3M632 271v3M640 274v3M642 262v6"/>
<path stroke="#0000e0" stroke-width="1" fill="none" d="M158.5 112v3M158.5 127v3M159.5 79v6M159.5 97v3M159.5 115v3M159.5 124v3M160.5 73v6M161.5 97v3M161.5 109v6M162.5 100v6M163.5 109v3M163.5 115v3M163.5 133v3M163.5 139v3M164.5 109v3M165.5 100v3M166.5 103v3M166.5 130v3M167.5 52v3M168.5 52v3M168.5 121v6M169.5 115v3M169.5 124v3M170.5 115v3M170.5 127v3M170.5 139v3M170.5 148v3M171.5 115v3M173.5 130v3M174.5 67v3M174.5 94v3M174.5 121v3M174.5 133v3M174.5 142v3M176.5 103v3M176.5 115v3M176.5 127v3M177.5 73v3M177.5 88v6M177.5 118v3M177.5 130v3M177.5 145v3M178.5 52v3M178.5 112v3M178.5 130v3M178.5 139v6M178.5 154v3M179.5 52v3M180.5 124v3M180.5 148v3M181.5 124v3M181.5 139v3M181.5 175v3M182.5 124v6M182.5 148v9M183.5 82v3M183.5 94v3M183.5 148v3M184.5 136v3M185.5 136v6M186.5 133v3M188.5 124v3M188.5 139v3M189.5 139v3M189.5 148v3M189.5 166v3M190.5 76v3M190.5 109v3M190.5 121v3M190.5 142v3M190.5 148v3M190.5 163v3M191.5 121v3M191.5 136v3M192.5 112v3M192.5 148v3M193.5 139v3M194.5 130v3M195.5 112v3M195.5 118v3M195.5 133v3M195.5 139v3M195.5 148v3M195.5 169v3M196.5 100v3M196.5 118v3M196.5 157v3M197.5 151v3M198.5 121v3M198.5 136v3M199.5 109v3M199.5 127v3M199.5 148v3M199.5 154v3M199.5 160v3M200.5 136v6M200.5 154v3M200.5 163v3M201.5 112v3M201.5 127v3M201.5 148v3M202.5 142v3M202.5 148v6M202.5 169v3M202.5 178v3M202.5 196v3M203.5 85v3M203.5 127v3M203.5 142v3M204.5 136v3M204.5 169v3M205.5 52v3M205.5 112v3M205.5 124v3M205.5 154v3M205.5 163v3M205.5 169v3M206.5 76v3M206.5 115v3M206.5 124v3M206.5 145v9M206.5 172v3M207.5 115v3M207.5 124v3M207.5 133v6M208.5 58v3M208.5 169v3M209.5 76v3M209.5 145v3M210.5 115v3M210.5 121v3M211.5 76v3M211.5 112v3M211.5 130v3M211.5 151v3M211.5 166v3M211.5 172v6M212.5 151v3M212.5 169v6M213.5 85v3M213.5 94v3M213.5 130v3M213.5 142v3M214.5 103v3M214.5 112v3M214.5 133v3M215.5 148v3M216.5 148v3M216.5 154v6M217.5 121v3M217.5 139v3M217.5 148v3M218.5 181v6M219.5 136v6M220.5 103v9M220.5 148v3M220.5 154v3M220.5 163v3M221.5 136v3M221.5 160v3M221.5 175v3M222.5 106v3M222.5 154v3M223.5 55v3M223.5 154v3M223.5 160v6M223.5 169v3M223.5 178v6M223.5 202v3M225.5 112v3M225.5 139v3M225.5 145v3M225.5 154v3M225.5 172v3M225.5 181v3M226.5 139v3M227.5 121v3M227.5 148v3M228.5 124v3M228.5 145v3M228.5 154v3M228.5 175v3M229.5 127v3M229.5 142v3M230.5 52v3M230.5 142v3M232.5 130v6M232.5 139v3M232.5 163v3M233.5 121v3M233.5 136v3M233.5 154v3M233.5 274v3M234.5 160v3M234.5 172v9M234.5 184v6M234.5 193v3M234.5 199v3M235.5 127v3M235.5 133v3M235.5 172v3M236.5 112v3M236.5 127v3M236.5 136v6M236.5 151v3M237.5 124v6M237.5 154v3M237.5 172v3M237.5 187v3M238.5 109v3M238.5 172v3M239.5 109v6M239.5 136v6M240.5 52v3M240.5 61v3M240.5 133v3M240.5 148v3M241.5 139v3M242.5 127v3M242.5 169v3M242.5 184v3M243.5 55v3M244.5 109v3M244.5 163v3M244.5 175v3M244.5 181v3M244.5 187v6M245.5 154v3M245.5 163v3M245.5 190v3M246.5 139v3M246.5 154v3M246.5 163v3M247.5 58v3M247.5 106v3M247.5 133v6M247.5 166v3M248.5 103v6M248.5 115v3M248.5 154v3M248.5 175v3M248.5 181v3M248.5 187v3M249.5 55v3M250.5 133v3M250.5 154v3M250.5 172v3M250.5 190v3M251.5 112v3M251.5 127v3M251.5 139v3M251.5 145v3M251.5 163v6M251.5 172v9M252.5 109v3M252.5 121v3M252.5 151v3M252.5 187v3M253.5 97v3M253.5 109v3M253.5 115v3M253.5 124v3M253.5 154v3M253.5 160v3M253.5 178v3M254.5 109v3M254.5 118v3M254.5 124v3M254.5 130v3M254.5 139v3M254.5 181v3M254.5 193v3M254.5 208v3M255.5 61v3M255.5 67v3M255.5 73v3M255.5 88v3M255.5 178v6M255.5 190v3M255.5 199v3M255.5 208v3M256.5 82v3M256.5 178v3M256.5 190v3M256.5 202v6M257.5 178v3M257.5 199v3M257.5 217v3M258.5 55v3M258.5 118v3M258.5 142v3M258.5 172v3M258.5 199v3M258.5 211v3M258.5 217v3M259.5 52v3M259.5 61v3M259.5 70v3M259.5 79v6M259.5 127v3M259.5 136v6M259.5 184v3M259.5 199v3M260.5 58v3M260.5 94v3M260.5 106v3M260.5 172v3M261.5 61v3M261.5 85v3M261.5 100v3M261.5 112v3M261.5 133v3M261.5 148v3M261.5 157v3M261.5 193v3M262.5 58v3M262.5 79v6M262.5 112v3M262.5 124v3M262.5 130v6M262.5 163v3M262.5 178v3M263.5 55v3M263.5 94v3M263.5 100v3M263.5 112v3M263.5 127v3M263.5 193v3M264.5 52v3M264.5 88v3M264.5 100v3M264.5 106v9M264.5 133v3M264.5 160v3M265.5 55v3M265.5 67v3M265.5 82v3M265.5 88v3M265.5 100v3M265.5 109v3M265.5 169v3M265.5 178v3M266.5 70v3M266.5 88v6M266.5 97v3M266.5 109v3M266.5 115v3M266.5 124v3M267.5 55v3M267.5 79v3M267.5 100v3M267.5 118v3M267.5 124v3M267.5 148v3M267.5 178v3M267.5 187v3M268.5 55v3M268.5 73v3M268.5 88v3M268.5 148v3M268.5 163v3M269.5 88v3M269.5 94v3M269.5 103v3M269.5 175v3M270.5 127v3M270.5 163v3M270.5 178v3M271.5 58v3M271.5 139v3M272.5 52v3M272.5 88v9M273.5 52v3M273.5 94v6M273.5 103v3M273.5 118v3M273.5 127v3M273.5 157v3M274.5 61v3M274.5 142v3M274.5 169v3M275.5 67v6M275.5 88v3M275.5 103v3M276.5 61v3M276.5 148v3M276.5 157v3M276.5 163v3M276.5 169v3M277.5 58v3M277.5 82v3M277.5 157v3M277.5 172v3M277.5 181v3M278.5 55v3M278.5 94v3M278.5 103v3M278.5 112v3M278.5 139v3M278.5 154v3M278.5 178v3M278.5 190v3M279.5 103v3M279.5 163v3M280.5 64v3M280.5 73v3M280.5 115v6M280.5 133v3M280.5 163v3M280.5 193v3M281.5 67v3M281.5 85v6M281.5 106v3M281.5 112v3M282.5 52v3M282.5 70v6M282.5 97v3M282.5 103v3M282.5 112v3M282.5 151v3M282.5 157v6M282.5 166v3M282.5 175v6M282.5 184v3M283.5 61v3M283.5 76v3M283.5 109v6M283.5 118v3M283.5 136v3M283.5 154v3M283.5 184v3M284.5 82v3M284.5 109v3M284.5 181v3M285.5 52v3M285.5 61v6M285.5 175v3M286.5 73v3M286.5 94v6M286.5 154v3M286.5 172v3M286.5 181v3M286.5 187v3M287.5 73v3M287.5 88v3M287.5 112v3M287.5 178v3M287.5 196v3M288.5 52v9M288.5 94v3M288.5 121v3M288.5 157v3M289.5 52v9M289.5 64v3M289.5 76v3M289.5 82v3M289.5 91v3M289.5 163v3M290.5 163v6M290.5 175v3M292.5 76v3M292.5 100v3M292.5 109v3M292.5 187v3M293.5 55v3M293.5 61v3M293.5 67v3M293.5 79v3M293.5 109v3M293.5 139v3M293.5 148v3M293.5 154v3M293.5 172v3M294.5 52v3M294.5 61v3M294.5 88v3M294.5 154v3M294.5 160v3M294.5 199v3M295.5 88v3M295.5 109v3M295.5 136v3M295.5 172v3M296.5 58v3M296.5 79v3M296.5 106v6M296.5 169v3M296.5 190v3M297.5 58v3M297.5 64v3M297.5 76v3M297.5 106v3M297.5 148v3M298.5 79v3M298.5 103v6M298.5 148v6M298.5 178v9M299.5 52v3M299.5 58v3M299.5 103v3M299.5 163v3M300.5 52v3M300.5 61v9M300.5 79v3M300.5 154v3M300.5 160v3M301.5 79v3M301.5 166v3M301.5 181v3M303.5 52v9M303.5 64v9M303.5 109v3M304.5 76v3M304.5 118v3M305.5 76v3M305.5 139v3M305.5 148v3M305.5 154v3M306.5 76v3M307.5 76v3M307.5 109v3M307.5 139v3M307.5 160v6M307.5 190v3M307.5 199v3M308.5 148v3M308.5 175v3M310.5 64v3M310.5 76v3M310.5 154v3M310.5 175v3M311.5 109v3M311.5 154v3M313.5 79v3M313.5 148v3M313.5 166v3M314.5 109v3M314.5 181v3M315.5 82v3M315.5 139v3M315.5 157v3M315.5 172v3M315.5 190v3M317.5 94v6M317.5 139v3M317.5 163v3M318.5 52v6M318.5 73v3M318.5 88v6M319.5 148v3M319.5 181v3M319.5 187v3M319.5 199v3M320.5 154v3M320.5 163v3M321.5 148v3M321.5 157v6M321.5 169v6M321.5 178v3M322.5 142v3M322.5 208v3M323.5 163v3M323.5 181v3M324.5 148v3M324.5 172v3M325.5 154v3M325.5 163v3M325.5 169v3M325.5 178v3M325.5 187v3M327.5 172v3M328.5 151v3M328.5 169v3M328.5 190v3M330.5 148v3M330.5 199v3M330.5 205v3M331.5 187v3M332.5 139v3M333.5 169v6M333.5 178v3M333.5 196v3M334.5 178v6M334.5 187v3M334.5 193v3M337.5 139v3M337.5 157v3M339.5 151v3M340.5 142v3M340.5 148v3M340.5 178v3M340.5 202v3M342.5 139v3M342.5 148v3M343.5 199v3M344.5 91v3M344.5 151v6M641.5 235v8"/>
<path stroke="#0000e0" stroke-width="2" fill="none" d="M346 82v3M346 184v3M348 97v3M348 157v3M348 184v3M348 199v6M350 205v3M352 196v3M354 196v3M356 196v3M356 208v3M358 196v3M362 76v3M362 196v3M364 184v3M366 82v3M366 196v3M368 88v6M368 196v3M372 208v3M374 196v3M376 196v3M378 196v3M382 196v3M386 205v3M388 211v3M390 196v3M394 196v3M394 205v3M394 211v3M396 196v3M398 217v3M400 196v3M400 205v3M400 217v3M402 196v3M410 196v3M414 214v3M416 196v3M416 223v3M422 196v3M422 223v3M424 196v3M426 223v3M430 199v3M430 259v3M432 202v6M432 253v3M436 223v3M438 256v3M440 226v6M440 235v3M440 247v3M442 253v3M444 253v3M448 205v3M448 247v3M450 205v3M450 223v6M452 229v3M454 229v3M456 205v3M456 229v3M456 256v3M458 232v3M458 262v3M462 229v3M462 262v3M464 229v3M464 235v3M464 244v6M470 247v3M470 262v3M472 226v3M472 232v3M472 247v6M472 259v3M474 229v3M474 241v3M474 265v3M476 232v3M478 229v3M478 235v3M480 226v3M480 232v3M480 238v3M480 265v3M482 232v6M482 241v3M482 247v3M482 253v3M484 226v9M484 238v9M484 250v3M484 256v3M486 226v3M486 232v3M486 241v3M486 247v3M486 253v3M488 226v3M488 232v3M488 244v3M488 256v3M490 226v6M490 235v6M490 244v9M490 262v3M490 268v3M492 226v3M492 232v9M492 244v3M492 250v3M492 256v3M492 265v3M494 229v3M494 235v3M494 241v9M494 253v3M496 226v3M496 232v3M496 244v3M496 250v3M498 229v3M498 235v3M498 241v12M498 262v3M498 268v3M498 274v3M500 226v3M500 247v6M500 262v3M502 229v3M502 241v9M502 253v3M502 268v3M504 226v3M504 238v3M504 244v3M504 250v3M504 256v3M504 265v3M506 229v3M506 235v3M506 247v3M506 253v3M506 259v3M508 226v9M508 244v3M508 250v3M508 256v3M510 229v3M510 241v3M510 253v3M510 259v3M510 271v3M512 232v9M512 244v3M512 250v3M512 256v3M512 271v3M514 226v6M514 238v6M514 247v3M514 253v9M516 226v3M516 238v3M516 250v3M516 256v3M518 229v3M518 241v3M518 253v3M518 259v3M520 226v12M520 244v3M520 250v3M520 262v3M522 235v3M522 241v3M522 247v9M524 226v3M524 232v9M524 244v3M524 250v3M524 256v3M524 262v3M526 235v3M526 241v3M526 247v3M526 253v3M528 226v3M528 232v3M528 238v9M528 250v3M528 256v3M530 235v3M530 241v3M530 247v3M530 253v3M530 262v3M532 238v3M532 250v3M532 256v3M534 226v6M534 241v6M534 253v3M536 226v9M536 238v3M536 244v3M536 256v3M536 265v6M538 184v3M538 229v9M538 247v3M538 253v3M538 262v3M540 232v9M540 244v3M540 250v3M542 247v3M542 259v6M544 226v3M544 235v6M544 244v3M544 250v6M546 241v3M546 247v3M546 253v3M548 91v3M548 226v6M548 241v6M550 85v3M550 229v3M550 235v3M550 247v6M550 259v3M550 268v3M552 85v3M552 226v15M552 247v3M552 253v12M554 79v6M554 94v3M554 226v6M554 235v3M554 241v3M554 247v3M554 253v3M554 259v3M556 79v6M556 91v3M556 229v6M556 238v3M556 244v12M556 259v3M556 265v6M558 229v3M558 235v3M558 241v3M558 250v15M560 229v18M560 250v6M560 271v3M562 229v3M562 235v3M562 241v6M562 253v3M564 226v3M564 232v6M564 244v9M564 256v3M564 268v3M566 229v3M566 238v6M566 247v3M566 253v6M566 262v3M568 226v3M568 238v3M568 244v3M568 250v3M568 256v9M568 277v3M570 235v3M570 241v3M570 247v9M570 259v6M570 268v3M572 232v3M572 250v3M572 265v3M574 235v3M574 241v3M574 247v3M574 253v3M576 232v3M576 238v3M576 244v3M576 253v3M576 271v3M578 229v3M578 247v3M578 253v3M578 259v3M580 238v9M580 250v3M580 256v3M580 265v3M582 226v3M582 250v6M582 259v6M584 226v3M584 232v3M584 244v3M584 250v3M584 256v9M586 229v3M586 235v3M586 241v6M586 253v3M586 259v3M588 226v3M588 238v3M588 244v3M588 250v9M588 265v3M588 271v3M590 235v3M590 241v3M590 247v3M590 265v3M592 232v3M592 238v21M592 262v3M592 268v3M594 229v3M594 235v3M594 241v3M594 247v3M594 253v3M594 259v3M596 226v3M596 232v6M596 241v9M596 256v3M598 226v6M598 235v3M598 241v3M598 253v3M600 79v3M600 250v6M600 259v6M600 271v3M602 79v3M602 229v3M602 241v3M602 247v6M602 256v3M604 76v3M604 82v3M604 226v12M604 241v6M604 253v3M604 268v3M606 76v6M606 253v3M606 262v3M608 79v3M608 244v3M608 250v3M608 256v3M610 226v6M610 235v3M610 241v3M610 247v3M610 253v9M612 226v3M612 232v9M612 244v6M612 256v3M612 262v3M614 229v3M614 235v3M614 247v3M616 226v3M616 232v3M616 244v3M616 250v3M616 268v6M618 226v3M618 235v3M618 250v6M618 259v3M620 226v3M620 238v3M620 250v9M620 268v3M622 229v3M622 235v3M622 241v3M622 247v3M622 253v3M622 262v9M622 274v3M624 226v3M624 247v6M624 256v6M624 265v3M624 271v3M626 235v3M626 253v3M626 259v3M626 268v3M628 226v9M628 238v3M628 244v3M628 250v9M628 271v3M630 229v3M630 241v3M630 253v3M630 259v3M632 244v3M632 250v6M632 262v3M632 268v3M634 229v3M634 241v3M634 247v3M634 253v9M636 232v3M636 241v3M636 247v3M636 262v3M638 229v9M638 241v3M638 247v9M638 259v3M640 229v3M640 238v3M640 262v3M642 243v1M642 259v3"/>
<path stroke="#0000e7" stroke-width="1" fill="none" d="M152.5 115v3M152.5 265v3M152.5 280v3M153.5 145v3M153.5 154v3M153.5 277v3M153.5 286v3M157.5 133v3M158.5 130v3M159.5 103v3M160.5 67v3M160.5 82v3M160.5 106v3M160.5 127v3M160.5 184v3M161.5 91v3M162.5 52v3M162.5 94v3M163.5 52v3M163.5 121v3M164.5 121v3M165.5 130v3M168.5 106v3M169.5 118v3M170.5 100v3M173.5 118v3M174.5 55v3M174.5 85v3M174.5 103v3M174.5 115v3M174.5 130v3M174.5 139v3M174.5 145v3M175.5 118v3M176.5 82v6M176.5 91v3M176.5 100v3M177.5 70v3M177.5 76v6M177.5 85v3M177.5 148v3M178.5 61v3M178.5 73v3M178.5 85v3M178.5 124v3M179.5 73v6M179.5 88v3M179.5 94v3M179.5 121v3M179.5 133v3M179.5 151v3M180.5 154v3M181.5 103v3M181.5 127v3M181.5 136v3M181.5 178v3M181.5 184v3M181.5 205v6M182.5 109v3M182.5 139v3M183.5 112v3M184.5 154v3M185.5 103v9M185.5 115v9M185.5 130v3M186.5 73v3M187.5 106v3M187.5 121v3M187.5 139v3M189.5 154v3M190.5 91v9M190.5 106v3M190.5 145v3M191.5 103v3M191.5 127v3M191.5 148v3M192.5 109v3M192.5 115v3M193.5 133v3M193.5 151v3M193.5 169v3M193.5 175v3M194.5 109v3M194.5 145v3M194.5 151v3M195.5 103v3M195.5 115v3M195.5 160v3M195.5 166v3M197.5 76v3M197.5 82v3M197.5 88v3M197.5 94v3M197.5 109v3M197.5 148v3M198.5 118v3M198.5 145v3M198.5 154v6M199.5 100v6M199.5 130v3M199.5 145v3M200.5 115v3M200.5 130v3M200.5 145v3M201.5 103v3M201.5 109v3M201.5 118v3M201.5 139v3M201.5 172v3M202.5 127v3M202.5 184v3M202.5 193v3M202.5 199v3M203.5 94v3M203.5 115v3M203.5 154v3M204.5 127v3M204.5 133v3M204.5 139v3M204.5 145v3M204.5 163v3M204.5 175v3M205.5 157v3M205.5 166v3M206.5 55v3M206.5 139v3M207.5 172v3M208.5 115v3M208.5 145v3M208.5 151v3M209.5 163v3M210.5 52v3M210.5 61v3M210.5 127v3M210.5 133v3M210.5 145v3M211.5 61v3M211.5 70v3M211.5 82v3M211.5 91v3M211.5 115v3M211.5 148v3M212.5 118v9M212.5 160v3M212.5 166v3M213.5 52v3M213.5 61v3M213.5 67v3M213.5 124v3M213.5 157v6M213.5 166v6M214.5 109v3M214.5 115v3M214.5 181v6M215.5 127v3M215.5 133v3M215.5 139v3M215.5 151v6M216.5 139v3M217.5 160v3M217.5 169v6M217.5 178v3M218.5 133v3M218.5 154v3M218.5 172v3M218.5 193v3M219.5 115v3M219.5 130v3M219.5 145v6M219.5 154v6M220.5 55v3M220.5 124v3M220.5 169v3M221.5 70v3M221.5 112v3M221.5 127v3M221.5 139v3M221.5 148v3M221.5 154v6M222.5 103v3M222.5 115v3M222.5 136v3M222.5 148v3M222.5 169v3M223.5 130v3M223.5 136v3M223.5 184v3M223.5 196v3M224.5 58v6M224.5 106v3M224.5 121v9M224.5 133v3M224.5 151v6M224.5 166v3M225.5 61v3M225.5 67v3M225.5 151v3M225.5 163v3M225.5 169v3M226.5 55v3M226.5 61v3M226.5 130v3M226.5 175v3M227.5 154v3M227.5 163v3M228.5 118v3M228.5 130v3M228.5 136v3M228.5 160v6M228.5 172v3M229.5 130v3M229.5 139v3M229.5 145v3M229.5 160v3M230.5 55v6M230.5 109v3M230.5 130v3M230.5 148v9M230.5 163v3M230.5 172v3M230.5 181v3M231.5 115v3M231.5 121v3M231.5 127v3M231.5 172v6M232.5 109v3M232.5 121v3M232.5 136v3M232.5 154v6M233.5 52v6M233.5 112v3M233.5 145v3M233.5 169v3M234.5 214v3M234.5 271v3M235.5 109v3M235.5 124v3M235.5 136v3M235.5 145v6M236.5 61v3M236.5 121v3M236.5 145v6M236.5 163v3M236.5 172v3M237.5 112v3M237.5 148v3M237.5 169v3M238.5 136v6M238.5 166v6M239.5 52v3M239.5 124v3M239.5 166v6M240.5 127v3M240.5 157v3M240.5 169v6M240.5 178v3M241.5 106v3M241.5 112v3M241.5 121v3M241.5 130v9M241.5 178v3M242.5 55v3M242.5 115v3M242.5 145v3M243.5 112v3M243.5 127v3M243.5 139v3M243.5 145v3M243.5 154v3M243.5 166v3M244.5 52v3M244.5 61v3M244.5 112v3M244.5 118v3M244.5 136v3M244.5 151v3M244.5 157v3M244.5 184v3M244.5 193v3M244.5 199v3M245.5 64v3M245.5 109v3M245.5 121v6M245.5 133v9M245.5 145v3M245.5 160v3M245.5 172v3M246.5 145v3M247.5 67v3M247.5 118v3M247.5 163v3M247.5 178v3M247.5 184v6M248.5 64v3M248.5 118v6M248.5 136v3M248.5 163v3M249.5 160v3M249.5 178v3M250.5 118v6M250.5 127v6M250.5 136v3M250.5 148v3M250.5 166v6M250.5 178v6M250.5 187v3M250.5 196v3M251.5 133v3M251.5 196v3M252.5 55v3M252.5 100v3M252.5 157v3M252.5 196v3M253.5 52v3M253.5 58v3M253.5 121v3M253.5 133v3M253.5 166v3M253.5 172v3M253.5 181v3M253.5 199v6M254.5 73v3M254.5 85v6M254.5 97v6M254.5 112v3M254.5 127v3M254.5 133v3M254.5 163v3M254.5 196v3M255.5 52v6M255.5 85v3M255.5 91v3M255.5 106v3M255.5 154v3M255.5 163v3M255.5 169v3M255.5 193v3M256.5 55v6M256.5 64v3M256.5 97v3M256.5 106v6M256.5 151v3M257.5 64v3M257.5 82v3M257.5 97v3M257.5 139v3M257.5 154v6M257.5 166v9M257.5 238v3M258.5 103v3M258.5 112v3M258.5 154v3M258.5 166v3M258.5 190v3M258.5 202v3M259.5 64v3M259.5 193v6M259.5 202v3M259.5 223v3M260.5 52v3M260.5 67v3M260.5 97v3M260.5 109v3M260.5 118v3M260.5 154v3M260.5 163v3M260.5 199v3M260.5 214v3M261.5 52v9M261.5 82v3M261.5 88v3M261.5 94v3M261.5 103v3M261.5 139v3M261.5 154v3M261.5 202v6M262.5 52v3M262.5 61v3M262.5 76v3M262.5 88v3M262.5 94v3M262.5 109v3M262.5 127v3M262.5 148v3M262.5 157v3M262.5 172v3M262.5 187v3M262.5 199v3M263.5 76v3M263.5 106v3M263.5 118v3M263.5 133v3M263.5 139v3M263.5 178v6M264.5 58v3M264.5 67v3M264.5 79v3M264.5 85v3M264.5 163v6M265.5 52v3M265.5 64v3M265.5 91v3M265.5 103v3M265.5 145v6M265.5 160v3M265.5 166v3M265.5 181v6M266.5 61v3M266.5 67v3M266.5 73v9M266.5 85v3M266.5 157v3M266.5 166v3M266.5 181v3M267.5 91v3M268.5 64v3M268.5 70v3M268.5 145v3M268.5 166v3M268.5 190v6M269.5 55v3M269.5 64v3M269.5 85v3M269.5 106v3M269.5 133v3M269.5 139v3M269.5 163v3M269.5 169v3M269.5 178v3M270.5 64v3M270.5 88v3M270.5 97v3M270.5 145v6M271.5 64v3M271.5 94v6M271.5 106v3M271.5 112v3M271.5 118v3M271.5 151v3M271.5 172v3M271.5 181v3M272.5 61v3M272.5 67v3M272.5 151v3M273.5 64v6M273.5 91v3M273.5 115v3M273.5 136v6M273.5 148v3M273.5 154v3M273.5 286v3M274.5 88v3M275.5 55v3M275.5 73v3M275.5 112v3M276.5 52v3M276.5 67v3M276.5 94v3M276.5 100v3M276.5 118v3M276.5 151v3M276.5 172v3M276.5 184v6M277.5 55v3M277.5 64v3M277.5 79v3M277.5 85v6M277.5 148v3M277.5 187v3M277.5 196v3M278.5 100v3M279.5 52v6M279.5 61v3M279.5 88v3M279.5 151v3M279.5 157v3M279.5 181v3M280.5 79v9M280.5 91v3M280.5 112v3M280.5 151v9M280.5 169v3M280.5 175v3M281.5 148v3M282.5 145v3M283.5 52v3M283.5 70v3M283.5 148v6M283.5 169v3M284.5 64v3M284.5 76v6M284.5 91v3M284.5 97v3M284.5 154v3M284.5 160v3M284.5 169v3M285.5 58v3M285.5 79v3M285.5 85v6M285.5 151v3M285.5 163v3M286.5 76v3M287.5 58v3M287.5 64v3M287.5 100v3M287.5 184v3M287.5 193v3M287.5 199v3M288.5 109v3M288.5 148v3M288.5 163v3M289.5 61v3M289.5 67v3M289.5 79v3M289.5 154v3M289.5 166v3M289.5 178v3M290.5 82v3M290.5 139v3M290.5 151v12M290.5 169v3M291.5 55v3M291.5 184v6M292.5 73v3M292.5 88v3M292.5 157v3M292.5 184v3M293.5 70v3M293.5 76v3M293.5 88v3M293.5 145v3M294.5 94v3M294.5 181v3M295.5 148v3M295.5 154v3M296.5 52v6M296.5 100v3M296.5 139v3M296.5 160v3M297.5 52v6M297.5 73v3M297.5 85v6M297.5 97v6M298.5 82v3M298.5 154v3M298.5 190v3M299.5 79v3M299.5 148v3M299.5 157v3M299.5 172v3M299.5 181v3M300.5 55v6M300.5 103v3M300.5 190v3M301.5 106v3M301.5 154v6M301.5 190v3M302.5 79v3M302.5 148v3M303.5 61v3M303.5 139v3M304.5 109v3M304.5 145v3M304.5 184v3M305.5 145v3M305.5 178v3M306.5 109v3M307.5 145v3M307.5 169v3M307.5 181v3M307.5 196v3M307.5 202v3M308.5 109v3M309.5 145v3M309.5 190v3M310.5 139v3M310.5 157v3M311.5 55v3M311.5 151v3M311.5 166v3M311.5 172v3M312.5 139v3M312.5 160v3M312.5 166v3M313.5 106v3M313.5 145v3M313.5 151v3M313.5 157v3M314.5 79v3M314.5 151v3M316.5 97v3M317.5 91v3M317.5 148v3M318.5 97v3M318.5 151v3M319.5 175v3M319.5 193v3M320.5 151v3M320.5 160v3M320.5 175v3M321.5 154v3M322.5 172v3M322.5 178v3M322.5 193v3M323.5 151v3M324.5 139v3M324.5 181v3M325.5 139v3M325.5 151v3M325.5 205v3M326.5 151v6M328.5 181v3M329.5 160v3M329.5 178v3M329.5 187v3M330.5 169v3M331.5 193v6M332.5 196v3M333.5 145v3M333.5 157v3M333.5 205v3M334.5 205v3M336.5 160v3M336.5 187v3M337.5 151v3M337.5 166v3M339.5 163v3M339.5 202v6M340.5 187v3M340.5 205v3M341.5 163v3M343.5 169v3M343.5 187v3M344.5 88v3"/>
<path stroke="#0000e7" stroke-width="2" fill="none" d="M350 202v3M352 76v3M356 205v3M364 205v3M366 85v3M366 205v3M368 205v3M370 205v3M372 205v3M376 205v3M380 205v3M384 205v3M386 211v3M390 205v3M390 211v3M392 205v3M396 205v3M402 214v3M406 220v3M408 196v3M408 217v3M410 220v3M412 223v3M418 217v3M420 205v3M422 205v3M422 226v3M428 205v3M428 259v3M430 250v3M432 262v3M434 253v3M438 262v3M440 250v3M440 256v3M442 226v3M442 250v3M448 253v3M452 226v3M452 247v6M452 256v3M456 235v3M456 253v3M456 259v3M458 238v3M458 244v3M458 253v9M460 229v3M460 247v3M460 259v3M462 232v3M462 256v3M464 241v3M466 229v3M466 262v3M468 232v6M470 226v6M470 235v3M470 244v3M470 256v3M472 253v3M472 265v3M474 235v3M474 244v9M476 241v3M478 268v3M480 250v3M480 256v3M482 259v3M482 268v3M484 265v3M486 259v3M486 268v3M488 238v3M490 259v3M492 259v3M494 259v3M494 268v3M496 259v6M496 271v3M496 277v3M498 259v3M500 271v3M504 271v3M506 256v3M508 271v3M514 268v3M516 262v3M518 268v3M520 271v3M522 259v3M526 259v3M526 265v6M528 262v3M530 259v3M534 259v3M534 268v3M536 262v3M536 271v3M538 259v3M540 277v3M544 271v3M548 262v6M550 79v6M550 265v3M552 268v6M554 85v3M554 268v3M556 262v3M556 271v3M558 88v3M560 262v6M562 259v6M562 268v3M568 271v3M572 262v3M572 268v3M574 265v6M576 277v3M580 262v3M580 268v6M582 265v6M586 274v3M586 280v3M588 262v3M588 268v3M588 283v3M590 274v3M592 271v3M594 265v3M596 262v6M598 271v3M602 262v6M602 274v3M604 79v3M604 271v3M608 262v6M612 265v3M614 271v3M616 277v3M618 265v3M618 271v3M618 280v3M620 262v3M620 277v3M626 265v3M630 268v3M630 274v3M632 265v3M634 262v3M634 268v3M638 262v3M642 268v3M642 274v3"/>
<path stroke="#0000ef" stroke-width="1" fill="none" d="M151.5 67v3M151.5 79v3M151.5 88v3M151.5 94v3M151.5 136v3M152.5 151v3M153.5 82v3M153.5 133v3M153.5 148v3M154.5 142v3M154.5 277v6M155.5 256v3M155.5 286v3M156.5 70v3M156.5 97v3M156.5 142v3M156.5 148v3M157.5 145v3M158.5 106v3M159.5 73v3M159.5 100v3M159.5 109v3M159.5 133v6M160.5 79v3M160.5 85v12M160.5 103v3M160.5 118v3M160.5 133v3M161.5 70v3M162.5 76v3M162.5 97v3M163.5 103v3M163.5 118v3M163.5 148v6M164.5 103v3M164.5 118v3M164.5 139v3M165.5 52v3M165.5 91v3M165.5 115v3M165.5 121v3M166.5 106v3M166.5 124v3M168.5 112v3M168.5 133v3M169.5 52v3M169.5 100v3M169.5 109v6M171.5 103v3M172.5 109v3M172.5 121v3M172.5 130v3M173.5 55v3M173.5 70v3M174.5 124v6M175.5 103v3M175.5 109v3M175.5 145v3M175.5 151v6M176.5 79v3M176.5 94v3M176.5 142v3M177.5 55v3M177.5 82v3M177.5 94v3M177.5 103v3M177.5 112v6M177.5 121v3M177.5 127v3M178.5 55v6M178.5 64v3M178.5 70v3M178.5 100v6M178.5 115v3M179.5 67v3M179.5 82v3M179.5 103v3M179.5 109v3M179.5 139v3M180.5 109v3M180.5 121v3M180.5 130v3M181.5 115v3M181.5 193v3M182.5 118v3M183.5 103v3M183.5 115v3M183.5 157v3M185.5 79v3M185.5 88v3M185.5 124v6M186.5 124v3M186.5 145v6M186.5 154v3M187.5 103v3M187.5 115v3M187.5 151v3M188.5 67v3M188.5 127v3M189.5 121v6M190.5 79v3M190.5 157v3M191.5 118v3M191.5 133v3M191.5 151v6M192.5 154v3M192.5 163v3M193.5 124v3M193.5 136v3M193.5 163v3M193.5 178v3M193.5 184v3M194.5 82v3M194.5 106v3M194.5 112v3M194.5 121v3M194.5 127v3M194.5 139v3M195.5 67v3M195.5 124v3M196.5 109v3M196.5 142v3M196.5 148v3M197.5 100v3M197.5 121v3M197.5 133v6M197.5 145v3M197.5 163v6M198.5 76v3M198.5 124v3M198.5 130v3M198.5 139v3M199.5 112v3M200.5 85v3M200.5 103v3M200.5 121v3M200.5 148v3M201.5 70v3M201.5 76v3M201.5 115v3M201.5 133v3M201.5 154v3M202.5 76v3M202.5 145v3M202.5 166v3M202.5 187v3M203.5 76v3M203.5 91v3M203.5 118v3M203.5 148v3M204.5 73v3M204.5 124v3M204.5 142v3M204.5 154v6M204.5 172v3M204.5 181v3M204.5 187v3M205.5 118v3M205.5 133v3M205.5 145v3M205.5 190v3M206.5 61v3M206.5 67v3M206.5 85v3M206.5 133v3M208.5 85v3M208.5 106v3M208.5 121v3M208.5 142v3M208.5 166v3M209.5 58v3M209.5 64v12M209.5 82v3M209.5 124v3M209.5 148v3M209.5 154v6M209.5 166v3M210.5 76v3M210.5 109v3M210.5 124v3M210.5 151v3M210.5 169v3M211.5 67v3M211.5 85v3M211.5 103v3M211.5 136v3M211.5 145v3M212.5 82v3M212.5 127v3M212.5 142v3M213.5 88v3M213.5 121v3M213.5 133v3M214.5 88v3M214.5 97v3M214.5 130v3M214.5 157v6M214.5 166v3M214.5 178v3M215.5 121v3M215.5 187v3M216.5 55v3M216.5 127v3M216.5 166v3M216.5 184v3M217.5 115v3M217.5 154v6M217.5 166v3M217.5 181v3M218.5 139v3M218.5 169v3M218.5 175v3M219.5 124v3M219.5 160v3M220.5 70v3M220.5 115v3M220.5 139v3M220.5 166v3M220.5 175v3M221.5 58v3M221.5 100v3M221.5 145v3M221.5 151v3M221.5 169v6M222.5 118v3M222.5 175v3M223.5 52v3M223.5 61v6M223.5 103v3M223.5 133v3M223.5 145v6M224.5 67v3M224.5 109v3M224.5 136v3M224.5 145v3M224.5 163v3M224.5 169v6M225.5 52v3M225.5 70v3M225.5 142v3M225.5 157v3M226.5 178v3M227.5 109v3M227.5 115v3M227.5 151v3M227.5 175v6M228.5 55v3M228.5 64v3M228.5 127v3M228.5 133v3M228.5 148v3M228.5 169v3M229.5 55v3M229.5 106v3M229.5 115v3M229.5 151v3M229.5 169v3M230.5 121v3M230.5 136v3M230.5 145v3M230.5 160v3M230.5 166v6M230.5 178v3M230.5 184v3M233.5 58v6M233.5 109v3M233.5 124v6M233.5 133v3M233.5 148v3M233.5 265v3M234.5 127v6M234.5 139v3M234.5 151v3M234.5 163v3M235.5 151v3M235.5 163v3M236.5 115v3M236.5 133v3M236.5 142v3M236.5 157v3M237.5 121v3M237.5 130v9M237.5 157v3M237.5 163v3M237.5 175v6M238.5 58v6M238.5 112v3M238.5 130v3M238.5 175v6M239.5 121v3M239.5 133v3M239.5 175v6M240.5 121v3M240.5 130v3M240.5 139v3M240.5 145v3M240.5 154v3M241.5 124v3M241.5 148v3M241.5 172v3M242.5 52v3M242.5 118v6M243.5 109v3M243.5 124v3M243.5 130v3M243.5 136v3M243.5 142v3M243.5 148v3M243.5 169v3M244.5 55v3M244.5 64v3M244.5 121v3M244.5 127v6M244.5 169v3M245.5 55v3M245.5 61v3M245.5 106v3M245.5 118v3M245.5 127v3M245.5 151v3M245.5 175v3M245.5 184v3M246.5 148v6M247.5 112v6M247.5 127v3M247.5 151v3M247.5 175v3M247.5 181v3M247.5 196v3M248.5 58v6M248.5 67v3M248.5 100v3M248.5 124v3M248.5 130v3M248.5 169v6M250.5 61v3M250.5 175v3M250.5 184v3M250.5 193v3M251.5 58v3M251.5 169v3M252.5 61v3M252.5 67v3M252.5 76v3M252.5 97v3M252.5 112v3M252.5 118v3M252.5 169v6M252.5 193v3M252.5 199v6M253.5 55v3M253.5 61v3M253.5 139v3M253.5 145v9M253.5 169v3M253.5 175v3M253.5 208v3M254.5 52v3M254.5 58v3M254.5 67v3M254.5 106v3M254.5 115v3M254.5 151v3M254.5 172v9M254.5 199v3M255.5 82v3M255.5 97v3M255.5 103v3M255.5 124v3M255.5 136v3M255.5 145v3M255.5 172v3M255.5 187v3M256.5 70v6M256.5 121v3M256.5 166v3M256.5 208v6M257.5 67v3M257.5 73v9M257.5 85v3M257.5 94v3M257.5 148v3M257.5 163v3M258.5 58v3M258.5 163v3M258.5 205v3M259.5 58v3M259.5 100v3M260.5 70v3M260.5 76v3M260.5 115v3M260.5 217v3M261.5 64v3M261.5 76v3M261.5 106v3M261.5 160v3M261.5 166v3M262.5 64v3M262.5 70v6M262.5 154v3M262.5 166v6M262.5 175v3M262.5 184v3M262.5 193v3M262.5 202v3M263.5 79v3M263.5 169v3M263.5 184v3M264.5 55v3M264.5 61v6M264.5 73v3M264.5 82v3M264.5 118v3M264.5 139v3M264.5 151v3M265.5 85v3M265.5 97v3M265.5 115v3M265.5 139v3M265.5 163v3M266.5 52v9M266.5 64v3M266.5 100v3M266.5 106v3M266.5 112v3M266.5 142v6M266.5 172v3M267.5 139v3M267.5 163v3M267.5 169v3M268.5 85v3M268.5 112v3M268.5 160v3M268.5 172v3M268.5 178v3M269.5 73v3M269.5 115v3M269.5 151v6M269.5 166v3M270.5 139v3M271.5 52v3M271.5 67v3M271.5 100v6M271.5 157v3M271.5 187v6M272.5 55v3M272.5 64v3M272.5 82v6M272.5 160v3M273.5 88v3M273.5 106v3M273.5 112v3M274.5 160v3M274.5 166v3M274.5 175v3M275.5 76v3M275.5 169v3M275.5 175v3M276.5 58v3M276.5 88v3M276.5 139v3M276.5 178v3M276.5 190v3M277.5 61v3M277.5 67v3M277.5 76v3M277.5 139v3M277.5 154v3M277.5 184v3M278.5 67v3M278.5 88v3M278.5 148v3M279.5 70v6M279.5 85v3M279.5 178v3M280.5 145v3M281.5 61v3M281.5 73v3M281.5 100v3M282.5 106v3M282.5 154v3M283.5 79v3M283.5 139v3M283.5 163v3M283.5 187v6M284.5 151v3M284.5 166v3M284.5 172v6M285.5 67v3M285.5 76v3M285.5 142v3M286.5 157v3M286.5 163v3M286.5 169v3M286.5 184v3M287.5 76v3M287.5 94v6M287.5 145v3M288.5 97v3M288.5 142v3M288.5 154v3M289.5 148v3M292.5 145v3M294.5 151v3M294.5 157v3M294.5 166v6M294.5 175v6M294.5 196v3M295.5 145v3M296.5 91v3M296.5 142v3M296.5 148v3M296.5 172v3M297.5 94v3M298.5 85v3M298.5 94v3M298.5 100v3M301.5 82v3M301.5 145v3M301.5 151v3M301.5 184v3M305.5 166v3M305.5 175v3M306.5 148v6M307.5 148v6M307.5 166v3M307.5 178v3M307.5 184v3M309.5 193v3M310.5 109v3M311.5 139v9M314.5 142v3M315.5 103v3M316.5 85v6M316.5 145v3M317.5 145v3M317.5 151v3M317.5 172v3M318.5 184v3M319.5 184v3M320.5 145v3M321.5 145v3M321.5 184v3M323.5 148v3M323.5 160v3M324.5 169v3M325.5 184v3M326.5 157v6M327.5 160v6M328.5 184v3M330.5 145v3M330.5 157v3M330.5 163v3M331.5 154v6M331.5 199v3M336.5 139v3M336.5 145v6M336.5 166v3M338.5 145v3M339.5 145v3M340.5 184v3M340.5 190v3M342.5 193v3M343.5 205v3"/>
<path stroke="#0000ef" stroke-width="2" fill="none" d="M346 85v3M348 79v3M348 94v3M348 142v3M354 205v3M358 76v3M358 205v3M362 97v6M362 211v3M364 97v3M366 94v3M368 211v3M370 208v3M378 205v3M382 205v3M386 199v6M388 205v3M390 202v3M396 208v3M398 205v3M400 214v3M402 205v3M402 217v3M404 205v3M406 205v3M408 214v3M410 205v3M414 205v3M416 205v3M418 205v3M418 232v3M420 199v3M420 259v3M426 205v3M428 235v3M430 253v6M430 262v3M432 265v3M434 238v3M434 244v3M436 235v3M436 253v3M436 259v3M438 223v9M438 238v3M438 250v3M440 238v6M444 226v3M444 250v3M446 244v3M446 259v3M448 229v3M448 259v3M448 265v3M450 247v3M454 250v3M454 256v3M456 244v6M460 244v3M460 250v6M462 259v3M462 268v3M464 253v3M466 256v3M470 232v3M472 241v3M472 256v3M472 271v3M478 238v6M478 247v3M478 253v3M478 259v3M486 262v3M494 271v3M496 268v3M496 274v3M500 268v3M502 262v3M502 274v3M504 262v3M504 274v3M506 262v6M508 262v3M510 268v3M520 265v3M520 274v3M532 271v3M538 265v12M540 262v3M540 268v3M542 265v3M542 274v3M544 262v6M546 262v6M548 88v3M550 91v3M552 82v3M552 91v3M554 265v3M556 85v6M558 268v3M558 274v3M564 262v6M564 271v3M566 265v3M568 283v3M570 265v3M584 268v3M586 271v3M586 277v3M586 286v3M590 268v6M592 277v3M596 271v3M600 277v3M602 289v3M604 277v3M606 274v3M608 277v3M610 262v3M610 268v3M616 280v3M618 274v3M622 271v3M628 277v3M628 283v3M630 265v3M630 280v3M634 265v3M634 271v3M634 286v3M636 280v3M638 268v3"/>
<path stroke="#0000f7" stroke-width="1" fill="none" d="M151.5 70v3M151.5 76v3M151.5 82v6M151.5 91v3M151.5 100v3M151.5 109v3M151.5 118v6M152.5 82v3M152.5 109v3M152.5 133v9M153.5 52v3M153.5 67v3M153.5 73v3M153.5 79v3M153.5 85v3M153.5 109v3M153.5 142v3M153.5 151v3M153.5 157v3M153.5 271v3M154.5 139v3M154.5 274v3M155.5 142v3M156.5 76v3M156.5 112v3M156.5 130v3M156.5 145v3M157.5 130v3M157.5 142v3M158.5 85v3M158.5 97v3M158.5 103v3M159.5 52v3M159.5 70v3M159.5 112v3M159.5 139v3M160.5 121v3M160.5 136v3M161.5 52v3M162.5 82v3M162.5 91v3M162.5 112v3M162.5 148v3M163.5 97v3M164.5 97v3M166.5 94v6M166.5 109v3M168.5 130v3M169.5 94v3M170.5 112v3M170.5 124v3M171.5 52v3M172.5 112v3M173.5 91v3M173.5 109v3M173.5 136v3M174.5 61v6M174.5 88v3M176.5 106v3M176.5 112v3M177.5 52v3M177.5 64v3M178.5 118v3M179.5 64v3M179.5 79v3M179.5 106v3M179.5 112v6M179.5 142v6M180.5 115v6M181.5 106v3M181.5 142v3M182.5 115v3M183.5 91v3M183.5 127v3M183.5 136v3M184.5 64v3M184.5 70v3M184.5 76v3M184.5 91v3M184.5 127v3M184.5 139v3M184.5 145v6M184.5 157v6M185.5 82v3M185.5 91v3M185.5 97v3M186.5 79v3M186.5 139v3M187.5 109v3M187.5 148v3M187.5 154v3M187.5 160v6M188.5 82v3M188.5 115v3M189.5 118v3M189.5 142v3M189.5 157v3M189.5 175v3M190.5 88v3M190.5 166v3M191.5 73v3M191.5 91v3M192.5 76v3M193.5 82v3M193.5 112v3M193.5 127v3M193.5 142v6M193.5 157v3M194.5 76v3M194.5 97v3M195.5 85v3M195.5 94v3M195.5 142v3M196.5 64v3M196.5 79v3M196.5 91v3M196.5 121v3M197.5 85v3M197.5 103v6M197.5 112v3M197.5 118v3M197.5 124v3M197.5 157v3M198.5 103v3M198.5 112v3M198.5 127v3M198.5 160v3M199.5 70v3M199.5 76v3M199.5 82v3M199.5 94v3M199.5 118v3M200.5 82v3M200.5 106v9M200.5 127v3M201.5 55v3M201.5 73v3M201.5 79v3M201.5 106v3M201.5 124v3M201.5 178v3M201.5 184v3M203.5 67v6M203.5 79v3M203.5 109v3M204.5 118v3M204.5 151v3M204.5 178v3M204.5 184v3M205.5 100v3M205.5 136v3M206.5 88v3M206.5 130v3M207.5 85v3M207.5 139v3M207.5 157v3M207.5 175v3M208.5 73v3M208.5 79v3M208.5 88v6M208.5 103v3M208.5 124v3M208.5 130v6M208.5 172v3M209.5 85v3M209.5 91v3M209.5 118v3M209.5 181v3M210.5 106v3M210.5 118v3M210.5 148v3M210.5 154v6M210.5 163v6M211.5 52v3M211.5 118v3M211.5 127v3M211.5 142v3M211.5 163v3M212.5 52v3M212.5 88v3M212.5 148v3M212.5 154v3M212.5 175v3M213.5 55v3M213.5 73v3M213.5 163v3M214.5 106v3M214.5 124v3M214.5 139v3M214.5 169v6M215.5 67v3M215.5 109v3M215.5 130v3M215.5 136v3M215.5 145v3M215.5 166v3M216.5 61v3M216.5 136v3M216.5 178v3M217.5 64v3M217.5 127v3M217.5 133v3M218.5 148v3M218.5 163v3M218.5 196v3M219.5 52v3M220.5 73v3M220.5 112v3M220.5 181v3M221.5 106v3M221.5 166v3M223.5 100v3M223.5 115v3M223.5 124v3M223.5 142v3M224.5 115v3M224.5 148v3M224.5 160v3M224.5 178v6M225.5 124v3M225.5 136v3M225.5 160v3M226.5 52v3M226.5 58v3M226.5 67v3M226.5 133v6M227.5 112v3M228.5 52v3M228.5 121v3M228.5 151v3M228.5 166v3M229.5 124v3M229.5 172v3M230.5 112v6M230.5 139v3M231.5 124v3M232.5 115v3M232.5 148v3M232.5 169v6M233.5 139v3M233.5 151v3M234.5 52v3M234.5 61v3M234.5 109v3M234.5 157v3M235.5 61v3M235.5 112v3M235.5 118v6M235.5 130v3M235.5 154v6M236.5 160v3M237.5 145v3M238.5 64v3M238.5 142v3M238.5 148v9M238.5 181v3M239.5 55v3M239.5 148v3M240.5 55v3M240.5 115v3M240.5 124v3M240.5 163v3M240.5 175v3M241.5 118v3M241.5 142v3M241.5 163v3M241.5 169v3M241.5 175v3M241.5 181v3M242.5 112v3M243.5 52v3M243.5 106v3M243.5 115v6M243.5 133v3M244.5 58v3M244.5 67v3M244.5 145v3M244.5 154v3M244.5 166v3M244.5 172v3M245.5 52v3M245.5 70v3M245.5 142v3M245.5 169v3M245.5 187v3M246.5 103v3M246.5 112v3M246.5 121v3M246.5 127v3M246.5 142v3M246.5 160v3M247.5 64v3M247.5 103v3M247.5 109v3M247.5 121v3M247.5 130v3M247.5 148v3M247.5 190v3M248.5 55v3M248.5 70v3M248.5 127v3M248.5 145v9M248.5 160v3M248.5 178v3M249.5 52v3M249.5 58v6M250.5 52v3M250.5 97v6M250.5 145v3M250.5 163v3M250.5 199v3M251.5 64v3M251.5 100v3M251.5 154v3M252.5 73v3M252.5 94v3M252.5 178v3M253.5 67v3M253.5 79v3M253.5 91v6M253.5 118v3M253.5 136v3M253.5 157v3M253.5 190v3M253.5 205v3M253.5 211v3M254.5 142v3M254.5 169v3M254.5 187v6M255.5 58v3M255.5 70v3M255.5 79v3M255.5 100v3M255.5 112v3M255.5 121v3M255.5 130v6M255.5 151v3M255.5 157v3M255.5 196v3M255.5 202v3M256.5 67v3M256.5 76v3M256.5 85v3M256.5 163v3M256.5 196v3M256.5 214v3M257.5 61v3M257.5 91v3M257.5 142v3M257.5 160v3M257.5 175v3M257.5 181v6M258.5 52v3M258.5 61v3M258.5 91v6M258.5 115v3M259.5 55v3M259.5 205v3M259.5 211v3M259.5 217v6M260.5 79v3M260.5 151v3M260.5 160v3M260.5 208v6M261.5 70v6M261.5 79v3M262.5 67v3M262.5 181v3M262.5 205v3M263.5 64v6M263.5 91v3M263.5 103v3M263.5 151v3M263.5 160v6M264.5 97v3M264.5 142v3M264.5 157v3M264.5 169v3M265.5 79v3M265.5 154v3M266.5 127v3M266.5 175v3M267.5 202v3M268.5 157v3M268.5 169v3M268.5 181v3M268.5 187v3M269.5 52v3M269.5 145v6M270.5 85v3M270.5 112v3M270.5 154v6M270.5 193v3M271.5 88v6M271.5 115v3M271.5 160v3M272.5 58v3M273.5 58v3M273.5 100v3M273.5 142v3M273.5 172v3M274.5 70v3M274.5 76v3M274.5 82v3M275.5 85v3M276.5 109v3M276.5 175v3M276.5 181v3M277.5 52v3M277.5 70v3M277.5 175v3M278.5 70v3M278.5 109v3M279.5 67v3M280.5 139v6M280.5 148v3M281.5 82v3M282.5 82v3M283.5 145v3M284.5 61v3M284.5 157v3M284.5 184v6M285.5 157v6M286.5 193v3M288.5 106v3M288.5 112v3M288.5 145v3M288.5 166v3M292.5 142v3M293.5 151v3M294.5 142v3M296.5 151v3M296.5 175v3M297.5 91v3M298.5 88v3M298.5 142v3M299.5 82v3M299.5 100v3M299.5 169v3M301.5 142v3M303.5 79v3M303.5 106v3M305.5 109v3M305.5 151v3M305.5 190v3M306.5 142v6M307.5 142v3M307.5 157v3M308.5 76v3M308.5 145v3M312.5 79v3M312.5 106v3M313.5 82v6M314.5 82v6M316.5 100v3M317.5 175v3M317.5 193v3M319.5 166v3M320.5 166v3M320.5 178v6M321.5 142v3M323.5 145v3M323.5 184v3M326.5 142v3M327.5 145v3M327.5 166v3M327.5 184v3M328.5 148v3M329.5 139v3M329.5 148v3M329.5 202v3M330.5 160v3M333.5 139v6M334.5 145v3M334.5 184v3M334.5 208v3M337.5 142v3M338.5 166v3M339.5 208v3M342.5 211v3M344.5 193v3"/>
<path stroke="#0000f7" stroke-width="2" fill="none" d="M346 91v3M350 199v3M354 76v3M356 199v6M360 76v3M360 100v3M362 94v3M362 205v3M364 94v3M368 202v3M372 202v3M374 199v6M378 199v3M380 199v3M390 199v3M392 202v3M392 214v3M404 199v3M404 217v3M408 205v3M412 199v3M412 205v3M416 220v3M418 220v3M418 226v3M420 202v3M424 205v3M424 223v3M424 229v3M424 253v3M426 232v3M428 253v3M428 262v3M432 226v6M432 241v3M432 247v6M434 223v6M434 250v3M436 229v3M438 235v3M440 265v3M442 262v3M444 256v3M446 238v3M446 253v3M446 262v3M446 268v3M448 226v3M450 232v3M450 244v3M454 232v3M454 238v3M454 244v3M454 259v3M454 268v3M456 241v3M458 229v3M460 232v3M460 265v3M462 238v3M464 265v3M464 271v3M466 247v3M466 274v3M468 253v3M472 238v3M474 253v3M474 259v3M476 238v3M476 247v3M476 253v3M476 259v3M478 262v3M480 271v3M484 262v3M486 274v6M488 262v3M488 271v3M490 274v3M492 262v3M492 271v3M494 274v3M494 280v3M496 265v3M498 265v3M502 280v3M508 265v3M510 265v3M510 274v3M512 268v3M514 265v3M516 268v3M516 274v3M518 265v3M518 277v3M520 277v3M528 271v3M528 277v3M530 265v6M546 268v3M548 268v3M550 88v3M550 271v3M550 280v3M552 79v3M554 91v3M554 274v3M558 265v3M558 277v3M560 277v3M562 265v3M566 274v6M570 274v3M574 271v6M576 286v3M578 274v3M578 280v3M580 277v3M582 274v3M584 271v3M586 292v3M596 268v3M596 274v3M600 268v3M600 289v3M602 280v3M604 274v3M606 265v6M608 268v6M608 286v3M610 265v3M610 274v6M610 292v3M614 280v9M616 274v3M616 283v3M616 289v3M618 286v3M622 280v3M622 286v3M624 268v3M624 274v3M626 271v3M630 271v3M634 280v3M634 292v3M636 271v3M636 277v3M636 283v3M640 277v3M642 271v3"/>
<path stroke="#00f" stroke-width="1" fill="none" d="M151.5 52v3M151.5 64v3M151.5 73v3M151.5 97v3M151.5 103v6M151.5 124v3M152.5 67v6M152.5 94v3M152.5 100v6M152.5 112v3M152.5 124v3M152.5 142v3M152.5 268v3M153.5 112v6M153.5 139v3M153.5 274v3M153.5 289v3M154.5 145v3M155.5 145v3M156.5 64v6M156.5 88v6M156.5 103v3M156.5 133v3M156.5 277v3M157.5 112v12M157.5 136v6M158.5 64v3M158.5 94v3M158.5 133v3M159.5 67v3M159.5 121v3M160.5 97v3M160.5 115v3M160.5 124v3M160.5 130v3M164.5 91v3M165.5 88v3M166.5 100v3M166.5 112v3M168.5 115v6M169.5 88v3M169.5 121v3M169.5 127v3M170.5 52v3M170.5 79v3M170.5 94v6M171.5 79v6M172.5 73v3M172.5 103v3M172.5 124v3M173.5 52v3M173.5 115v3M174.5 91v3M174.5 106v3M174.5 118v3M175.5 100v3M175.5 142v3M176.5 55v3M177.5 124v3M178.5 76v3M178.5 109v3M178.5 148v3M179.5 61v3M180.5 91v3M180.5 97v3M180.5 103v6M181.5 67v3M181.5 109v3M182.5 67v3M183.5 130v6M183.5 145v3M184.5 79v9M184.5 103v3M184.5 115v3M184.5 133v3M185.5 67v3M185.5 73v3M185.5 85v3M185.5 94v3M186.5 70v3M186.5 82v3M186.5 91v3M186.5 112v3M186.5 118v3M186.5 130v3M186.5 151v3M187.5 88v3M187.5 100v3M187.5 127v3M188.5 73v6M189.5 64v3M189.5 127v3M190.5 70v6M191.5 67v3M191.5 94v3M191.5 142v3M192.5 100v3M192.5 118v3M192.5 157v3M193.5 73v3M193.5 94v6M193.5 115v3M193.5 148v3M193.5 166v3M193.5 172v3M194.5 70v6M194.5 88v3M194.5 157v3M195.5 73v3M195.5 100v3M195.5 106v3M195.5 157v3M196.5 52v3M196.5 70v3M196.5 76v3M196.5 103v3M197.5 67v3M197.5 97v3M198.5 88v3M198.5 133v3M198.5 142v3M198.5 166v3M199.5 64v3M199.5 79v3M199.5 106v3M199.5 115v3M200.5 70v3M200.5 97v3M201.5 67v3M201.5 82v3M202.5 100v3M202.5 106v3M203.5 55v9M203.5 103v3M203.5 112v3M204.5 115v3M204.5 148v3M205.5 55v3M205.5 61v3M205.5 91v6M205.5 109v3M205.5 139v3M205.5 148v3M206.5 64v3M206.5 70v6M206.5 79v3M206.5 97v3M206.5 109v3M207.5 61v3M207.5 88v6M207.5 121v3M207.5 187v3M208.5 97v3M208.5 109v3M208.5 118v3M208.5 127v3M208.5 136v6M209.5 79v3M209.5 109v6M209.5 169v3M209.5 178v3M210.5 139v3M211.5 55v6M211.5 88v3M211.5 169v3M212.5 73v3M212.5 91v3M212.5 103v3M212.5 163v3M213.5 58v3M214.5 79v6M214.5 121v3M214.5 127v3M214.5 154v3M215.5 58v3M216.5 64v3M216.5 124v3M216.5 130v6M217.5 61v3M217.5 76v9M217.5 94v3M217.5 112v3M217.5 142v6M217.5 151v3M217.5 163v3M218.5 103v3M218.5 130v3M218.5 178v3M219.5 64v3M219.5 106v3M219.5 112v3M219.5 118v6M219.5 142v3M220.5 64v3M220.5 151v3M221.5 133v3M221.5 178v6M222.5 55v3M222.5 109v3M222.5 139v3M222.5 151v3M222.5 163v6M222.5 187v3M223.5 58v3M223.5 106v3M223.5 139v3M224.5 55v3M224.5 64v3M224.5 118v3M224.5 175v3M224.5 184v3M225.5 130v6M226.5 64v3M226.5 109v12M226.5 142v3M227.5 169v3M228.5 139v3M229.5 61v3M229.5 118v6M229.5 157v3M229.5 163v3M229.5 175v3M230.5 61v3M230.5 127v3M230.5 157v3M230.5 175v3M231.5 109v3M232.5 112v3M232.5 142v3M232.5 175v3M233.5 130v3M233.5 172v3M234.5 121v3M234.5 148v3M234.5 154v3M234.5 166v3M235.5 139v3M235.5 169v3M236.5 118v3M237.5 55v3M237.5 61v3M237.5 142v3M237.5 184v3M238.5 121v9M238.5 133v3M238.5 145v3M239.5 154v3M239.5 172v3M240.5 142v3M240.5 151v3M240.5 160v3M241.5 115v3M241.5 127v3M241.5 151v3M241.5 166v3M242.5 61v6M242.5 109v3M243.5 121v3M244.5 103v3M244.5 115v3M244.5 142v3M245.5 103v3M245.5 112v3M245.5 181v3M246.5 55v12M246.5 70v3M246.5 106v3M246.5 166v3M247.5 61v3M247.5 139v3M247.5 157v6M247.5 172v3M248.5 133v3M250.5 58v3M250.5 64v3M250.5 139v3M250.5 157v3M250.5 202v3M251.5 142v3M251.5 148v3M252.5 64v3M253.5 70v9M253.5 127v3M254.5 82v3M254.5 148v3M254.5 154v9M255.5 109v3M255.5 118v3M255.5 127v3M255.5 148v3M255.5 160v3M256.5 79v3M256.5 88v3M256.5 154v3M257.5 100v3M258.5 67v3M258.5 100v3M258.5 109v3M258.5 220v3M259.5 67v3M259.5 76v3M259.5 112v3M259.5 214v3M260.5 229v3M262.5 139v9M262.5 151v3M263.5 70v3M263.5 88v3M263.5 142v3M263.5 148v3M263.5 166v3M263.5 172v6M264.5 76v3M264.5 145v6M265.5 58v3M265.5 112v3M266.5 94v3M267.5 67v3M267.5 151v3M267.5 160v3M267.5 166v3M267.5 193v3M268.5 76v3M268.5 82v3M269.5 70v3M269.5 82v3M269.5 157v6M270.5 61v3M270.5 67v3M271.5 70v3M273.5 70v6M273.5 145v3M274.5 73v3M274.5 178v3M275.5 64v3M275.5 82v3M276.5 70v3M276.5 85v3M276.5 97v3M276.5 160v3M278.5 193v3M279.5 82v3M281.5 76v3M282.5 163v3M283.5 172v3M284.5 142v3M285.5 73v3M287.5 82v3M288.5 139v3M288.5 160v3M292.5 79v3M294.5 172v3M294.5 184v3M294.5 190v3M294.5 205v3M295.5 157v3M296.5 154v3M297.5 142v3M298.5 91v3M299.5 85v6M302.5 106v3M307.5 154v3M309.5 109v3M310.5 145v3M310.5 166v3M311.5 79v3M312.5 196v3M315.5 85v3M317.5 184v3M319.5 190v3M320.5 142v3M323.5 142v3M323.5 157v3M324.5 142v3M325.5 142v3M327.5 142v3M327.5 151v3M328.5 142v3M329.5 184v3M330.5 154v3M331.5 151v3M334.5 199v3M336.5 151v3M337.5 184v3M342.5 187v3"/>
<path stroke="#00f" stroke-width="2" fill="none" d="M348 82v3M348 205v3M350 79v3M350 85v6M352 97v6M352 199v9M354 100v3M354 199v6M356 76v3M356 97v3M362 88v6M364 79v3M366 199v6M372 199v3M374 205v3M378 202v3M378 211v3M380 202v3M392 199v3M394 202v3M396 202v3M398 199v6M400 202v3M404 202v3M406 199v6M408 199v6M410 199v6M412 202v3M414 220v3M416 199v6M416 262v3M418 229v3M418 262v3M420 220v6M426 199v3M426 241v6M426 250v3M428 241v3M432 223v3M432 238v3M434 232v3M434 256v3M438 247v3M438 253v3M446 232v3M448 241v3M450 259v6M452 235v3M454 241v3M454 262v3M460 226v3M460 235v6M460 262v3M464 232v3M464 274v3M466 271v3M468 256v3M468 262v3M470 238v6M470 253v3M470 268v3M470 274v3M472 274v3M474 268v3M476 244v3M476 256v3M480 262v3M480 277v3M484 271v3M488 277v3M492 277v3M502 265v3M504 268v3M510 280v3M512 277v3M516 265v3M518 280v3M520 268v3M532 268v3M532 277v3M534 265v3M534 274v3M534 280v3M540 274v3M540 283v3M542 268v3M544 274v3M546 280v3M548 271v3M552 88v3M552 277v3M554 88v3M554 271v3M554 280v3M556 283v3M560 268v3M562 274v3M564 277v3M566 271v3M568 274v3M568 292v3M570 271v3M572 271v3M574 289v6M576 283v3M578 286v3M578 292v3M580 286v6M588 292v6M592 274v3M592 283v3M594 271v3M594 280v3M598 295v3M602 271v3M608 283v3M610 271v3M614 292v3M616 286v3M616 295v3M620 274v3M620 283v3M620 289v3M624 289v3M626 286v6M628 274v3M628 289v3M630 283v3M634 274v3M636 286v3M636 292v6M638 271v3"/>
<path stroke="#000fff" stroke-width="1" fill="none" d="M151.5 130v3M151.5 139v3M152.5 64v3M152.5 73v3M152.5 85v3M152.5 97v3M152.5 127v6M152.5 145v6M152.5 256v3M152.5 271v6M152.5 283v3M153.5 70v3M153.5 88v6M153.5 103v3M153.5 118v6M153.5 127v3M153.5 259v3M154.5 259v3M154.5 265v3M155.5 139v3M155.5 178v3M155.5 271v3M156.5 52v3M156.5 73v3M156.5 85v3M156.5 109v3M156.5 115v3M157.5 127v3M158.5 52v3M158.5 88v3M158.5 100v3M159.5 91v6M159.5 118v3M160.5 139v6M161.5 79v3M161.5 160v3M162.5 79v3M162.5 106v3M163.5 88v6M164.5 85v3M166.5 52v3M166.5 91v3M168.5 127v3M169.5 91v3M170.5 109v3M170.5 121v3M171.5 76v3M171.5 91v6M171.5 109v3M172.5 97v3M172.5 106v3M172.5 118v3M172.5 136v3M173.5 76v3M173.5 82v6M173.5 103v3M173.5 112v3M174.5 52v3M174.5 70v3M174.5 82v3M175.5 94v3M175.5 157v6M176.5 67v3M177.5 97v3M178.5 151v3M179.5 91v3M179.5 148v3M180.5 76v3M180.5 112v3M180.5 166v3M181.5 94v6M181.5 112v3M182.5 61v3M183.5 73v3M183.5 97v3M183.5 121v3M183.5 139v3M183.5 151v3M184.5 73v3M184.5 130v3M184.5 151v3M185.5 76v3M185.5 100v3M186.5 64v3M186.5 76v3M186.5 106v6M186.5 127v3M188.5 70v3M188.5 94v3M188.5 118v6M189.5 79v3M189.5 85v3M189.5 94v3M189.5 109v3M189.5 115v3M191.5 79v3M191.5 88v3M191.5 145v3M192.5 79v3M192.5 94v3M192.5 103v6M193.5 67v3M193.5 79v3M193.5 85v6M193.5 103v6M194.5 94v3M194.5 133v3M195.5 70v3M195.5 76v3M196.5 61v3M196.5 82v3M197.5 70v6M197.5 169v3M198.5 67v3M198.5 73v3M198.5 97v3M198.5 109v3M198.5 115v3M198.5 163v3M199.5 91v3M200.5 91v3M200.5 133v3M201.5 52v3M201.5 97v3M201.5 187v3M202.5 55v3M202.5 73v3M202.5 91v3M202.5 112v3M202.5 121v3M203.5 100v3M203.5 106v3M203.5 187v3M204.5 82v3M204.5 88v3M204.5 106v3M204.5 121v3M205.5 88v3M205.5 103v3M205.5 115v3M205.5 121v3M206.5 91v3M206.5 103v3M206.5 121v3M206.5 127v3M207.5 73v6M207.5 145v3M208.5 61v3M208.5 70v3M208.5 100v3M209.5 55v3M209.5 94v3M209.5 175v3M209.5 184v3M210.5 58v3M210.5 94v3M210.5 142v3M210.5 160v3M211.5 64v3M211.5 73v3M211.5 79v3M211.5 94v3M212.5 55v3M212.5 64v3M212.5 106v3M213.5 76v3M213.5 91v3M214.5 118v3M214.5 151v3M214.5 193v3M215.5 76v3M215.5 94v3M215.5 106v3M215.5 112v6M215.5 172v3M216.5 52v3M216.5 58v3M216.5 94v3M216.5 112v3M217.5 58v3M217.5 67v9M217.5 97v3M217.5 106v3M217.5 124v3M218.5 70v9M218.5 97v3M218.5 118v3M218.5 124v3M218.5 151v3M218.5 166v3M220.5 67v3M220.5 97v6M220.5 121v3M221.5 55v3M221.5 61v3M221.5 115v6M221.5 142v3M221.5 184v3M222.5 124v3M222.5 130v6M222.5 142v6M222.5 157v3M222.5 178v3M222.5 184v3M223.5 67v3M223.5 127v3M224.5 103v3M224.5 130v3M224.5 157v3M225.5 106v6M226.5 124v6M227.5 181v3M228.5 109v3M231.5 55v6M231.5 106v3M232.5 64v3M232.5 124v3M233.5 64v3M233.5 142v3M233.5 268v3M234.5 55v3M234.5 118v3M235.5 166v3M236.5 55v3M237.5 52v3M237.5 115v6M237.5 160v3M237.5 166v3M238.5 106v3M238.5 160v3M239.5 58v3M239.5 64v3M239.5 142v3M239.5 151v3M241.5 52v3M242.5 58v3M242.5 124v3M243.5 58v6M244.5 160v3M245.5 58v3M245.5 148v3M246.5 52v3M246.5 118v3M246.5 157v3M247.5 142v6M248.5 157v3M249.5 70v3M249.5 97v3M250.5 70v3M250.5 124v3M250.5 142v3M251.5 61v3M251.5 73v3M251.5 94v3M251.5 157v3M251.5 202v3M252.5 88v3M253.5 85v6M253.5 130v3M253.5 184v6M254.5 79v3M254.5 166v3M254.5 184v3M254.5 202v3M255.5 76v3M255.5 115v3M255.5 139v3M257.5 205v3M258.5 70v3M258.5 82v3M258.5 88v3M258.5 223v6M260.5 205v3M262.5 208v3M263.5 61v3M263.5 109v3M263.5 154v3M264.5 154v3M267.5 142v3M267.5 157v3M268.5 52v3M268.5 196v3M269.5 58v3M269.5 67v3M269.5 109v6M270.5 73v3M270.5 82v3M271.5 109v3M272.5 70v3M273.5 79v6M273.5 109v3M274.5 79v3M275.5 79v3M276.5 73v3M277.5 73v3M278.5 73v3M278.5 79v3M279.5 76v3M280.5 76v3M280.5 100v3M281.5 202v3M282.5 79v3M283.5 181v3M284.5 70v3M288.5 91v3M294.5 187v3M294.5 193v3M295.5 142v3M297.5 145v3M298.5 97v3M300.5 100v3M303.5 142v3M305.5 184v3M310.5 106v3M311.5 193v3M314.5 103v3M315.5 97v3M316.5 94v3M317.5 196v3M320.5 169v3M323.5 154v3M323.5 166v3M327.5 193v3M328.5 145v3M329.5 145v3M342.5 184v3"/>
<path stroke="#000fff" stroke-width="2" fill="none" d="M346 88v3M348 91v3M350 97v3M352 79v3M358 199v6M360 199v3M360 205v3M362 199v3M364 88v6M364 199v6M368 199v3M370 199v3M376 202v3M382 199v6M384 199v6M388 199v6M388 214v3M394 214v3M396 199v3M396 211v3M400 199v3M406 217v3M416 232v3M416 259v3M418 199v3M420 253v3M420 262v3M422 199v6M422 250v3M422 256v3M422 262v3M424 199v6M424 241v3M424 265v3M426 202v3M428 199v6M428 247v3M428 265v3M432 235v3M432 256v3M436 226v3M438 259v3M444 265v3M446 247v3M448 235v3M448 250v3M450 253v3M450 268v3M454 253v3M456 265v3M458 247v3M462 250v3M466 253v3M466 259v3M474 274v3M476 268v3M476 277v3M482 274v3M488 268v3M490 265v3M494 265v3M502 271v3M508 268v3M518 274v3M520 280v3M522 268v3M522 274v3M524 265v3M526 280v3M530 280v3M536 277v3M542 271v3M546 271v3M548 277v3M550 286v3M552 280v3M554 286v3M558 271v3M558 280v3M558 286v3M560 283v3M574 280v3M574 286v3M580 283v3M582 280v3M582 286v3M584 277v3M588 277v3M588 289v3M594 274v3M594 286v6M596 277v3M596 289v3M598 280v3M598 286v6M600 295v3M606 271v3M608 280v3M610 280v3M612 274v3M612 280v6M618 295v3M626 274v3M626 280v3M628 295v3M632 274v3M632 289v3M632 298v3M636 289v3"/>
<path stroke="#001fff" stroke-width="1" fill="none" d="M151.5 115v3M151.5 127v3M152.5 52v3M152.5 88v6M152.5 121v3M152.5 262v3M153.5 64v3M153.5 94v3M153.5 124v3M153.5 130v3M154.5 148v3M154.5 256v3M155.5 250v3M155.5 262v3M156.5 79v3M156.5 94v3M156.5 100v3M156.5 106v3M156.5 118v3M156.5 127v3M156.5 139v3M156.5 262v3M157.5 124v3M158.5 73v3M158.5 82v3M158.5 91v3M162.5 88v3M163.5 94v3M164.5 52v3M168.5 103v3M169.5 97v3M169.5 106v3M170.5 85v3M171.5 88v3M171.5 112v3M172.5 58v3M172.5 79v6M172.5 94v3M172.5 100v3M173.5 58v3M174.5 58v3M174.5 79v3M175.5 79v3M175.5 91v3M176.5 52v3M176.5 61v6M176.5 76v3M176.5 88v3M178.5 79v3M178.5 97v3M180.5 73v3M180.5 85v3M180.5 94v3M181.5 91v3M182.5 82v3M182.5 91v3M182.5 106v3M183.5 118v3M183.5 160v3M184.5 67v3M184.5 97v3M184.5 109v3M184.5 118v3M185.5 64v3M185.5 70v3M185.5 112v3M186.5 103v3M188.5 85v3M188.5 112v3M189.5 82v3M189.5 103v3M189.5 178v3M190.5 118v3M190.5 199v3M191.5 76v3M191.5 82v3M191.5 106v3M191.5 112v3M192.5 70v6M193.5 109v3M193.5 118v3M193.5 154v3M194.5 79v3M194.5 85v3M195.5 79v6M196.5 97v3M196.5 115v3M197.5 91v3M198.5 94v3M198.5 100v3M199.5 73v3M199.5 85v3M200.5 73v3M200.5 124v3M202.5 94v3M202.5 103v3M203.5 73v3M203.5 220v3M204.5 67v3M204.5 94v3M205.5 97v3M205.5 106v3M206.5 112v3M206.5 118v3M207.5 58v3M207.5 118v3M208.5 52v3M209.5 97v9M210.5 64v9M210.5 97v3M210.5 112v3M211.5 109v3M212.5 58v3M212.5 67v6M212.5 79v3M212.5 100v3M212.5 220v3M213.5 100v3M213.5 118v3M213.5 175v3M214.5 100v3M215.5 73v3M215.5 85v6M215.5 103v3M216.5 100v3M216.5 121v3M217.5 52v3M217.5 88v3M218.5 58v3M218.5 79v3M218.5 127v3M218.5 157v6M219.5 73v3M219.5 94v3M220.5 52v3M220.5 76v3M220.5 118v3M221.5 64v3M222.5 58v6M222.5 121v3M222.5 160v3M222.5 172v3M222.5 181v3M223.5 70v3M223.5 112v3M224.5 70v3M224.5 100v3M225.5 118v3M225.5 184v3M228.5 58v3M228.5 115v3M229.5 58v3M229.5 109v6M231.5 52v3M231.5 61v3M232.5 52v6M234.5 58v3M234.5 64v3M234.5 112v3M234.5 124v3M235.5 55v6M235.5 64v3M236.5 58v3M236.5 106v3M236.5 178v3M237.5 109v3M237.5 151v3M237.5 193v3M239.5 61v3M239.5 145v3M239.5 157v9M240.5 166v3M240.5 181v3M241.5 145v3M241.5 154v3M242.5 106v3M247.5 55v3M247.5 70v3M247.5 124v3M248.5 139v3M249.5 73v3M249.5 181v3M250.5 109v3M251.5 67v6M252.5 79v3M253.5 82v3M253.5 142v3M253.5 193v3M255.5 142v3M255.5 184v3M258.5 85v3M258.5 157v3M261.5 67v3M262.5 190v3M263.5 82v3M263.5 145v3M263.5 157v3M265.5 70v3M265.5 76v3M267.5 64v3M267.5 214v3M269.5 61v3M269.5 79v3M270.5 76v3M271.5 61v3M271.5 79v3M272.5 73v3M272.5 79v3M273.5 85v3M275.5 178v3M278.5 76v3M278.5 82v6M289.5 181v3M299.5 97v3M300.5 82v3M304.5 106v3M305.5 79v3M308.5 139v3M309.5 79v3M309.5 196v3M310.5 151v3M320.5 184v3M321.5 187v3M323.5 196v3M336.5 142v3M340.5 211v3M341.5 214v3"/>
<path stroke="#001fff" stroke-width="2" fill="none" d="M346 208v3M348 85v3M350 82v3M350 91v6M356 100v3M358 97v6M360 79v3M360 97v3M360 202v3M360 208v3M362 202v3M364 85v3M364 214v3M366 91v3M366 211v3M370 202v3M376 199v3M394 199v3M400 223v3M402 202v3M408 223v3M414 199v6M414 217v3M414 226v3M414 256v3M416 229v3M416 235v3M416 256v3M422 235v3M424 235v3M426 259v3M430 223v6M434 262v3M436 241v3M436 256v3M442 247v3M444 244v3M446 250v3M452 241v3M460 271v3M462 253v3M464 262v3M464 277v3M466 238v3M468 250v3M472 244v3M472 262v3M472 277v3M474 262v3M476 271v3M482 265v3M482 280v3M484 274v6M486 280v3M492 268v3M492 283v3M494 286v3M504 283v3M506 271v3M506 280v3M516 271v3M516 283v3M518 271v3M520 283v3M522 265v3M522 280v3M524 277v3M528 280v3M538 286v3M544 268v3M544 283v3M552 283v6M560 289v3M562 286v3M568 289v3M570 283v3M572 274v3M576 295v3M580 274v3M582 292v3M584 283v3M584 289v3M588 274v3M592 289v6M596 286v3M598 274v3M598 292v3M598 298v3M600 274v3M600 298v3M602 292v3M604 295v3M606 286v3M608 274v3M610 283v3M610 295v3M614 277v3M616 292v3M618 277v3M620 280v3M624 295v3M630 286v9M630 298v3M632 277v3M636 298v3M638 274v3"/>
<path stroke="#002eff" stroke-width="1" fill="none" d="M151.5 133v3M151.5 142v6M151.5 277v3M152.5 76v6M152.5 106v3M152.5 118v3M152.5 259v3M153.5 76v3M153.5 100v3M153.5 106v3M153.5 172v3M153.5 253v3M153.5 268v3M154.5 205v3M154.5 262v3M155.5 274v6M155.5 289v3M156.5 82v3M156.5 121v6M156.5 136v3M156.5 265v3M157.5 148v3M158.5 79v3M159.5 64v3M160.5 109v6M163.5 82v3M163.5 106v3M164.5 145v3M165.5 85v3M168.5 94v3M168.5 109v3M168.5 136v3M171.5 85v3M171.5 100v3M172.5 76v3M172.5 91v3M173.5 67v3M173.5 100v3M173.5 106v3M175.5 64v3M175.5 82v6M175.5 106v3M176.5 70v6M177.5 151v3M178.5 91v3M178.5 106v3M179.5 58v3M179.5 100v3M180.5 52v3M180.5 67v6M180.5 88v3M180.5 100v3M181.5 79v6M182.5 64v3M182.5 73v3M182.5 85v3M182.5 100v3M183.5 67v6M183.5 76v6M183.5 88v3M183.5 106v3M183.5 142v3M184.5 88v3M184.5 100v3M184.5 121v3M185.5 145v3M186.5 85v6M186.5 97v3M186.5 115v3M187.5 73v3M188.5 103v3M188.5 109v3M189.5 67v6M189.5 76v3M189.5 91v3M189.5 100v3M189.5 106v3M190.5 64v3M191.5 97v6M191.5 160v3M192.5 67v3M192.5 82v6M193.5 64v3M193.5 70v3M193.5 160v3M194.5 64v3M194.5 103v3M194.5 115v3M194.5 124v3M195.5 64v3M196.5 85v3M197.5 64v3M198.5 58v3M198.5 91v3M198.5 106v3M199.5 61v3M200.5 52v3M200.5 64v6M200.5 88v3M200.5 118v3M201.5 61v3M201.5 94v3M201.5 100v3M202.5 58v3M202.5 82v6M202.5 109v3M202.5 115v6M203.5 64v3M203.5 214v3M204.5 79v3M204.5 85v3M204.5 97v6M204.5 109v3M205.5 64v3M205.5 73v6M205.5 82v6M206.5 52v3M206.5 58v3M206.5 100v3M206.5 175v3M207.5 64v3M207.5 70v3M207.5 82v3M207.5 97v3M207.5 112v3M208.5 55v3M208.5 82v3M208.5 94v3M209.5 106v3M210.5 79v3M210.5 85v9M210.5 100v6M210.5 172v3M212.5 61v3M212.5 94v3M212.5 112v3M213.5 82v3M213.5 109v3M213.5 115v3M214.5 64v6M214.5 73v3M215.5 52v3M215.5 79v3M215.5 97v3M215.5 124v3M215.5 142v3M215.5 211v3M216.5 73v3M216.5 82v3M216.5 88v6M216.5 115v6M217.5 85v3M218.5 52v3M218.5 100v3M218.5 142v3M219.5 61v3M219.5 70v3M219.5 82v3M219.5 103v3M219.5 127v3M220.5 58v6M221.5 67v3M221.5 73v3M221.5 109v3M221.5 124v3M222.5 127v3M222.5 190v3M223.5 109v3M224.5 112v3M225.5 100v3M225.5 127v3M226.5 121v3M227.5 52v9M227.5 67v3M227.5 103v3M228.5 67v3M229.5 64v3M230.5 67v3M231.5 64v3M232.5 61v3M233.5 67v3M233.5 106v3M233.5 262v3M235.5 106v3M235.5 115v3M236.5 64v3M237.5 58v3M237.5 64v3M237.5 106v3M238.5 52v3M238.5 118v3M238.5 157v3M239.5 106v3M240.5 58v3M240.5 67v3M240.5 106v3M240.5 118v3M241.5 55v6M241.5 64v3M241.5 109v3M241.5 157v6M241.5 190v3M242.5 67v3M243.5 64v3M245.5 67v3M245.5 115v3M246.5 67v3M249.5 100v3M250.5 73v6M250.5 94v3M250.5 103v3M252.5 85v3M252.5 91v3M254.5 103v3M255.5 211v3M258.5 76v6M258.5 229v3M259.5 94v3M260.5 61v3M260.5 88v3M262.5 211v3M263.5 73v3M265.5 190v3M267.5 211v3M268.5 61v3M268.5 79v3M268.5 91v9M270.5 70v3M270.5 79v3M271.5 73v6M271.5 82v3M273.5 76v3M276.5 76v3M279.5 79v3M282.5 85v3M296.5 196v3M299.5 91v3M300.5 88v3M301.5 85v3M302.5 82v3M304.5 79v3M305.5 85v3M306.5 79v6M306.5 88v3M307.5 79v6M307.5 97v3M308.5 79v3M309.5 106v3M310.5 79v3M311.5 106v3M314.5 100v3M315.5 88v3M315.5 100v3M315.5 193v3M316.5 91v3"/>
<path stroke="#002eff" stroke-width="2" fill="none" d="M352 82v3M352 88v3M360 82v3M360 211v3M364 82v3M366 88v3M370 211v3M374 208v3M376 217v3M380 214v3M382 220v3M386 214v3M396 271v3M402 199v3M402 220v3M408 220v3M416 253v3M418 202v3M418 238v3M418 244v3M418 253v3M420 232v3M420 241v3M420 247v3M422 238v3M422 244v3M428 226v3M428 238v3M436 247v6M438 244v3M440 244v3M440 268v3M442 229v3M444 232v6M446 229v3M448 262v3M452 262v3M452 271v3M454 247v3M456 250v3M456 271v3M458 250v3M458 274v3M460 256v3M462 247v3M462 271v3M464 250v3M466 235v3M468 247v3M468 271v3M476 262v3M478 265v3M480 283v3M486 271v3M496 283v3M498 271v3M498 283v6M500 283v3M510 286v3M524 268v3M526 286v3M528 283v3M534 271v3M534 286v3M536 283v3M540 286v3M544 289v3M546 274v3M548 274v3M550 274v3M552 274v3M556 274v3M556 289v3M562 271v3M562 292v3M564 274v3M564 283v3M564 289v3M568 295v3M572 277v3M576 274v3M578 277v3M578 298v3M582 271v3M584 274v3M584 295v3M586 298v3M592 295v3M594 277v3M598 277v3M602 277v3M604 298v3M606 292v3M606 298v3M610 298v3M612 277v3M612 289v3M614 298v3M618 283v3M618 298v3M622 292v9M624 277v3M626 277v3M628 280v3M628 286v3M634 277v3M634 298v3M642 277v3"/>
<path stroke="#004dff" stroke-width="1" fill="none" d="M151.5 112v3M151.5 283v3M152.5 277v3M153.5 97v3M153.5 136v3M153.5 232v3M153.5 241v3M154.5 184v3M154.5 193v3M154.5 211v3M154.5 244v3M154.5 286v3M155.5 166v3M155.5 244v3M155.5 280v3M156.5 151v3M157.5 109v3M158.5 70v3M160.5 190v3M161.5 172v3M162.5 85v3M162.5 169v3M162.5 202v3M163.5 79v3M163.5 85v3M163.5 100v3M163.5 154v3M164.5 82v3M164.5 88v3M165.5 94v3M165.5 133v3M168.5 91v3M168.5 97v3M169.5 136v3M170.5 82v3M171.5 55v3M171.5 106v3M172.5 55v3M172.5 85v3M173.5 73v3M173.5 79v3M173.5 88v3M173.5 94v6M174.5 73v3M174.5 100v3M175.5 52v3M175.5 58v6M175.5 67v9M177.5 61v3M177.5 67v3M178.5 88v3M179.5 97v3M179.5 154v3M180.5 55v9M180.5 82v3M181.5 52v3M181.5 64v3M181.5 76v3M181.5 100v3M182.5 70v3M182.5 88v3M182.5 94v6M182.5 112v3M183.5 85v3M184.5 94v3M184.5 106v3M184.5 112v3M184.5 124v3M186.5 100v3M187.5 67v6M187.5 79v3M187.5 85v3M187.5 91v3M187.5 97v3M188.5 97v3M188.5 106v3M189.5 88v3M189.5 97v3M190.5 103v3M191.5 70v3M192.5 64v3M193.5 76v3M194.5 52v3M194.5 100v3M194.5 118v3M195.5 88v6M196.5 67v3M196.5 73v3M196.5 88v3M196.5 94v3M197.5 172v3M198.5 61v3M199.5 52v3M199.5 58v3M199.5 88v3M199.5 169v3M200.5 76v3M200.5 94v3M200.5 100v3M201.5 85v3M202.5 52v3M202.5 67v3M202.5 88v3M202.5 97v3M203.5 52v3M203.5 88v3M203.5 97v3M203.5 208v3M204.5 52v6M204.5 64v3M204.5 70v3M204.5 112v3M205.5 70v3M205.5 79v3M205.5 193v3M206.5 106v3M207.5 52v3M207.5 94v3M207.5 100v6M208.5 64v6M209.5 61v3M209.5 211v3M210.5 55v3M210.5 82v3M210.5 226v3M212.5 85v3M213.5 97v3M213.5 103v6M214.5 55v6M214.5 76v3M214.5 85v3M214.5 94v3M215.5 61v3M215.5 91v3M215.5 181v3M215.5 208v3M215.5 214v3M216.5 67v6M216.5 76v3M216.5 85v3M216.5 97v3M216.5 106v3M216.5 196v3M217.5 55v3M217.5 100v3M217.5 118v3M218.5 61v6M218.5 91v6M218.5 106v6M218.5 115v3M219.5 58v3M219.5 76v3M219.5 217v3M220.5 187v3M221.5 97v3M221.5 121v3M221.5 223v3M222.5 67v6M222.5 112v3M223.5 97v3M223.5 118v3M224.5 73v3M225.5 58v3M225.5 64v3M226.5 70v3M228.5 106v3M230.5 64v3M230.5 106v3M232.5 106v3M233.5 118v3M234.5 229v3M234.5 274v3M235.5 160v3M235.5 175v3M236.5 109v3M238.5 67v3M240.5 109v3M240.5 184v3M241.5 61v3M241.5 67v3M243.5 67v3M244.5 70v3M247.5 73v3M248.5 73v6M248.5 190v3M250.5 55v3M250.5 85v3M250.5 205v3M251.5 52v3M251.5 76v9M251.5 91v3M252.5 52v3M252.5 70v3M252.5 106v3M253.5 64v3M253.5 214v3M254.5 76v3M256.5 61v3M256.5 91v3M257.5 88v3M258.5 97v3M260.5 73v3M260.5 220v3M260.5 235v6M262.5 214v3M263.5 196v3M264.5 70v3M266.5 82v3M267.5 85v3M267.5 205v3M269.5 76v3M270.5 181v3M271.5 85v3M272.5 283v3M273.5 280v6M273.5 292v3M276.5 196v3M280.5 202v3M282.5 76v3M299.5 94v3M301.5 94v6M301.5 103v3M302.5 97v3M302.5 103v3M303.5 100v3M305.5 82v3M305.5 94v6M306.5 85v3M306.5 91v9M307.5 94v3M307.5 106v3M307.5 205v3M308.5 97v3M312.5 82v3M312.5 103v3M313.5 103v3M315.5 94v3"/>
<path stroke="#004dff" stroke-width="2" fill="none" d="M348 88v3M350 211v3M352 85v3M352 94v3M354 79v3M354 94v6M354 208v3M356 211v3M358 79v3M358 88v3M362 79v3M362 85v3M366 217v3M380 211v3M380 217v3M384 214v3M386 220v3M390 214v3M392 217v3M396 217v3M396 226v3M398 223v3M398 280v3M400 271v3M404 223v3M404 274v3M406 226v3M410 232v3M412 229v3M412 265v3M414 232v3M414 244v3M414 253v3M414 259v6M416 241v3M416 247v6M416 265v3M418 223v3M418 250v3M422 268v3M426 256v3M426 268v3M428 256v3M430 232v3M430 244v6M430 268v3M434 229v3M434 259v3M436 271v3M440 262v3M440 271v6M442 232v3M442 241v6M444 238v3M448 244v3M448 274v6M450 229v3M450 241v3M450 274v3M454 265v3M454 277v3M456 262v3M458 277v3M458 283v3M462 235v3M462 244v3M462 280v3M464 238v3M466 265v3M468 244v3M468 265v3M468 277v3M468 283v3M470 265v3M470 280v3M472 283v3M474 280v3M476 265v3M476 283v3M478 286v3M478 292v3M480 268v3M482 271v3M486 286v3M490 271v3M490 280v3M490 286v3M494 289v6M496 289v3M500 274v3M504 289v3M508 283v6M512 274v3M512 289v3M514 271v6M514 286v3M516 286v3M518 283v6M520 286v6M522 283v6M524 271v3M524 283v3M526 271v3M528 274v3M528 286v3M530 286v3M532 274v3M532 283v3M536 274v3M536 289v3M540 289v3M542 280v3M544 292v3M546 283v3M550 292v3M552 295v3M554 292v6M558 292v3M560 274v3M560 295v3M562 298v3M566 292v3M568 280v3M568 301v3M570 292v3M570 298v3M572 283v3M572 295v3M578 283v3M580 280v3M580 301v3M582 277v3M584 280v3M584 301v3M586 283v3M586 301v5M588 280v3M588 301v3M590 277v3M590 301v3M594 292v3M594 298v3M596 280v3M596 295v3M598 301v3M600 280v3M600 301v3M602 283v6M602 304v2M604 280v3M604 301v3M606 277v3M606 283v3M608 298v3M610 301v3M612 295v9M614 289v3M616 298v6M618 289v3M620 301v3M622 277v3M624 280v9M624 301v3M626 283v3M628 301v3M630 277v3M632 280v6M632 301v3M634 289v3M636 301v3M638 277v3"/>
<path stroke="#006cff" stroke-width="1" fill="none" d="M151.5 148v3M151.5 274v3M151.5 280v3M151.5 289v3M152.5 154v3M152.5 199v3M152.5 241v3M152.5 247v3M152.5 289v3M153.5 184v3M153.5 193v3M153.5 247v6M154.5 151v3M154.5 157v6M154.5 190v3M154.5 268v3M154.5 289v3M155.5 148v3M155.5 208v3M155.5 259v3M155.5 292v3M156.5 169v3M156.5 274v3M156.5 289v3M158.5 76v3M159.5 88v3M160.5 55v3M160.5 193v3M160.5 202v3M161.5 139v3M161.5 148v3M161.5 163v3M161.5 184v3M163.5 55v3M166.5 55v3M167.5 55v3M168.5 88v3M168.5 100v3M169.5 55v3M169.5 82v6M170.5 55v3M170.5 88v6M171.5 97v3M172.5 70v3M172.5 88v3M173.5 61v3M173.5 178v3M174.5 97v3M175.5 55v3M175.5 76v3M175.5 199v3M175.5 217v3M176.5 151v3M179.5 85v3M180.5 79v3M180.5 339v3M181.5 88v3M182.5 103v3M183.5 64v3M183.5 109v3M184.5 163v3M186.5 121v3M187.5 76v3M187.5 94v3M187.5 166v3M188.5 88v3M188.5 154v3M189.5 55v3M189.5 61v3M189.5 73v3M190.5 169v3M190.5 211v3M191.5 85v3M191.5 211v3M192.5 88v3M193.5 52v3M193.5 100v3M194.5 91v3M195.5 97v3M195.5 109v3M195.5 196v3M196.5 172v3M197.5 55v9M197.5 79v3M198.5 199v3M199.5 55v3M199.5 67v3M199.5 97v3M200.5 55v9M200.5 79v3M201.5 64v3M201.5 88v3M201.5 193v3M202.5 64v3M203.5 196v3M203.5 202v3M203.5 217v3M204.5 76v3M204.5 91v3M204.5 103v3M205.5 58v3M205.5 67v3M205.5 178v3M205.5 184v6M205.5 202v3M206.5 202v3M207.5 55v3M207.5 79v3M209.5 52v3M209.5 88v3M210.5 73v3M212.5 97v3M212.5 115v3M212.5 208v3M212.5 217v3M212.5 226v3M213.5 172v3M213.5 208v3M213.5 223v3M214.5 70v3M215.5 64v3M215.5 70v3M215.5 100v3M215.5 118v3M215.5 193v3M215.5 223v3M216.5 79v3M217.5 91v3M217.5 217v3M218.5 82v3M218.5 112v3M218.5 199v3M219.5 55v3M219.5 97v3M219.5 199v3M220.5 82v3M220.5 94v3M222.5 52v3M222.5 100v3M224.5 52v3M224.5 76v3M224.5 97v3M225.5 115v3M226.5 106v3M227.5 61v6M228.5 112v3M231.5 298v3M232.5 58v3M233.5 277v3M234.5 106v3M234.5 115v3M234.5 265v3M234.5 286v3M235.5 52v3M236.5 67v3M237.5 67v3M243.5 103v3M244.5 106v3M245.5 100v3M246.5 73v3M246.5 100v3M249.5 94v3M250.5 79v3M250.5 91v3M251.5 55v3M251.5 85v6M252.5 58v3M252.5 103v3M255.5 94v3M256.5 229v3M257.5 241v3M258.5 64v3M258.5 73v3M259.5 226v3M264.5 190v3M267.5 220v6M273.5 271v3M273.5 277v3M273.5 301v3M274.5 85v3M276.5 79v3M281.5 79v3M300.5 85v3M300.5 91v6M301.5 91v3M302.5 94v3M303.5 82v6M303.5 103v3M303.5 181v3M304.5 82v6M304.5 100v6M305.5 88v3M305.5 106v3M307.5 85v3M308.5 82v3M308.5 94v3M308.5 106v3M311.5 82v3M313.5 91v3M313.5 100v3M314.5 91v6M315.5 91v3"/>
<path stroke="#006cff" stroke-width="2" fill="none" d="M346 211v3M348 211v3M352 91v3M352 208v3M354 82v3M354 88v6M356 79v3M356 85v6M356 94v3M358 82v6M358 94v3M358 208v3M360 94v3M362 82v3M364 217v3M372 214v3M374 211v3M382 214v3M386 217v3M390 235v3M394 226v3M394 274v3M398 226v3M400 226v3M400 289v3M402 226v3M402 274v3M404 277v3M404 283v3M406 229v3M406 268v3M406 280v3M408 274v3M410 268v3M410 274v3M412 256v3M412 271v3M414 235v3M414 268v3M414 277v3M416 226v3M416 244v3M416 268v6M420 238v3M420 271v3M420 277v3M424 226v3M424 256v6M426 226v6M426 253v3M426 262v3M428 250v3M430 238v3M432 271v3M434 235v3M434 268v3M436 232v3M436 244v3M436 262v3M438 232v3M438 241v3M438 271v3M438 286v3M440 232v3M440 283v3M442 235v3M444 262v3M444 271v3M446 235v3M446 274v3M446 286v3M448 232v3M448 283v3M450 235v6M450 265v3M452 232v3M452 244v3M454 280v3M456 232v3M456 238v3M456 277v3M456 283v3M458 235v3M458 241v3M458 265v3M458 280v3M458 286v3M458 292v3M460 241v3M460 277v3M462 241v3M462 265v3M462 289v3M464 268v3M464 289v3M466 268v3M466 286v3M466 292v3M468 238v3M468 286v3M472 268v3M472 289v3M474 292v3M476 289v3M478 271v3M480 295v3M482 286v3M484 268v3M486 292v3M488 274v3M488 289v3M492 274v3M492 289v3M498 292v3M502 286v3M502 292v3M506 274v3M508 274v3M512 312v6M516 289v6M516 315v3M522 271v3M524 274v3M524 289v3M526 274v3M526 292v3M528 289v3M530 271v3M530 298v3M534 292v3M540 292v6M540 318v3M542 289v6M546 292v6M548 301v3M550 277v3M550 298v3M552 301v3M554 277v3M554 298v3M554 304v2M556 277v3M558 304v2M562 277v3M564 295v3M566 280v3M566 298v3M568 286v3M570 277v3M574 277v3M574 304v2M576 280v3M576 289v6M576 301v5M578 289v3M580 304v2M582 283v3M582 304v2M584 286v3M584 304v2M588 286v3M590 283v9M590 304v2M592 280v3M592 301v3M594 304v2M596 283v3M598 283v3M598 304v2M600 283v6M602 295v3M604 283v9M606 280v3M610 286v6M610 304v2M612 286v3M614 304v2M616 396v3M618 292v3M618 304v2M620 286v3M620 292v3M622 283v3M624 292v3M626 292v3M628 292v3M630 304v2M632 286v3M632 292v3M634 283v3"/>
<path stroke="#008bff" stroke-width="1" fill="none" d="M151.5 286v3M151.5 292v3M152.5 244v3M152.5 250v6M153.5 163v3M153.5 175v3M153.5 208v3M153.5 220v3M153.5 229v3M153.5 292v3M154.5 154v3M154.5 178v3M154.5 196v6M154.5 214v3M154.5 250v3M155.5 190v3M155.5 283v3M156.5 250v3M156.5 280v3M157.5 241v3M159.5 145v3M159.5 160v3M160.5 199v3M161.5 82v3M161.5 142v3M161.5 157v3M161.5 166v3M162.5 166v3M162.5 184v3M166.5 88v3M166.5 133v3M168.5 55v3M173.5 139v3M174.5 154v3M175.5 88v3M175.5 193v3M175.5 205v3M175.5 336v3M175.5 351v6M175.5 363v3M175.5 378v3M176.5 97v3M177.5 154v3M177.5 175v3M177.5 199v3M178.5 82v3M178.5 193v3M179.5 70v3M179.5 199v3M180.5 64v3M181.5 58v3M181.5 70v3M181.5 85v3M181.5 402v3M182.5 52v3M182.5 79v3M182.5 163v3M182.5 372v3M183.5 61v3M183.5 366v3M183.5 375v6M184.5 345v3M185.5 52v3M185.5 160v6M186.5 52v3M186.5 61v3M186.5 67v3M187.5 52v3M187.5 61v3M188.5 64v3M188.5 151v3M188.5 157v3M190.5 208v3M190.5 357v3M191.5 61v6M191.5 109v3M191.5 187v3M192.5 97v3M193.5 58v6M195.5 178v3M196.5 55v3M196.5 178v3M197.5 52v3M198.5 55v3M198.5 64v3M198.5 70v3M198.5 82v3M199.5 181v3M199.5 208v3M200.5 205v3M200.5 217v3M201.5 220v3M202.5 70v3M202.5 202v3M203.5 190v3M203.5 211v3M203.5 226v3M204.5 61v3M206.5 181v3M206.5 190v3M207.5 106v6M208.5 178v3M208.5 223v3M209.5 115v3M210.5 232v3M211.5 178v3M212.5 76v3M212.5 109v3M212.5 229v3M214.5 196v3M215.5 178v3M215.5 184v3M215.5 217v3M216.5 103v3M216.5 109v3M217.5 109v3M217.5 214v3M218.5 55v3M218.5 67v3M218.5 85v6M218.5 121v3M219.5 67v3M219.5 88v6M219.5 100v3M219.5 163v3M219.5 196v3M219.5 223v3M220.5 88v6M221.5 52v3M221.5 208v3M222.5 64v3M222.5 97v3M222.5 214v3M223.5 76v3M224.5 94v3M225.5 97v3M226.5 85v3M226.5 100v3M227.5 70v3M228.5 61v3M228.5 70v3M228.5 103v3M230.5 103v3M231.5 67v3M233.5 103v3M233.5 280v3M234.5 277v6M234.5 292v3M235.5 327v3M236.5 262v3M236.5 283v3M237.5 339v3M238.5 55v3M238.5 315v3M240.5 112v3M241.5 103v3M242.5 190v3M243.5 70v3M244.5 82v3M244.5 100v3M246.5 178v3M248.5 91v3M249.5 76v3M250.5 67v3M250.5 82v3M258.5 106v3M258.5 235v6M259.5 241v3M260.5 232v3M267.5 196v3M267.5 217v3M271.5 193v3M271.5 283v3M271.5 298v3M272.5 274v3M272.5 286v6M272.5 295v3M273.5 274v3M273.5 298v3M300.5 97v3M301.5 88v3M301.5 100v3M302.5 85v3M303.5 91v6M304.5 91v6M305.5 91v3M306.5 106v3M307.5 91v3M307.5 100v3M308.5 85v3M308.5 91v3M308.5 100v3M308.5 178v3M309.5 82v6M309.5 103v3M310.5 82v6M310.5 103v3M311.5 103v3M312.5 100v3M313.5 88v3M313.5 94v3M314.5 97v3M324.5 184v3"/>
<path stroke="#008bff" stroke-width="2" fill="none" d="M348 208v3M350 214v3M354 85v3M356 82v3M358 91v3M362 214v6M366 214v3M368 214v3M370 214v6M370 223v3M372 211v3M388 217v3M390 220v3M390 226v3M392 223v3M392 274v3M392 283v3M394 289v3M396 277v3M398 220v3M398 274v3M400 220v3M400 277v3M400 283v3M402 277v6M406 232v3M406 289v3M408 229v3M408 265v3M408 277v3M408 283v3M410 238v3M410 244v3M410 253v12M410 280v3M412 235v3M412 241v3M412 253v3M412 283v3M414 271v6M414 280v3M414 312v3M416 277v3M416 315v3M418 271v3M418 283v3M422 229v3M422 274v3M424 250v3M424 262v3M426 238v3M426 247v3M426 265v3M426 271v6M426 280v9M428 229v6M428 289v3M430 229v3M430 235v3M430 241v3M430 277v3M430 292v3M432 232v3M432 274v3M432 295v3M434 247v3M436 277v3M438 292v3M442 265v3M442 274v3M442 289v3M442 312v3M446 241v3M446 265v3M446 280v3M448 238v3M452 238v3M452 265v3M452 283v3M454 235v3M454 271v3M456 315v3M458 298v3M458 393v3M460 286v6M460 396v3M462 286v3M462 292v3M464 283v3M464 312v6M466 244v3M466 298v3M468 241v3M468 289v3M470 271v3M470 286v3M472 292v6M472 301v3M474 286v3M478 274v3M478 315v3M480 274v3M482 298v3M484 301v5M486 399v3M488 280v3M488 295v3M488 301v3M490 301v3M490 315v3M492 295v6M494 298v8M494 312v6M496 301v3M498 277v3M500 277v3M504 277v3M504 301v3M506 277v3M506 292v3M506 301v3M512 301v3M512 318v3M512 399v3M514 277v3M514 292v3M514 298v3M514 312v3M516 277v3M516 312v3M518 292v3M520 295v3M520 301v3M522 292v3M524 315v3M526 298v3M528 292v6M528 312v3M530 274v3M530 304v2M530 399v3M532 289v3M534 277v3M536 295v3M536 301v3M538 298v3M540 280v3M540 301v5M540 312v6M542 277v3M542 298v3M544 277v3M544 295v3M546 277v3M546 298v3M548 280v3M548 304v2M548 387v3M552 390v3M552 399v3M554 283v3M556 280v3M556 286v3M556 301v3M558 283v3M558 289v3M560 280v3M560 286v3M562 283v3M562 289v3M562 295v3M562 304v2M564 301v3M564 390v9M566 283v3M566 304v2M566 390v6M568 396v3M570 280v3M570 289v3M570 304v2M570 396v3M572 280v3M572 301v3M572 390v3M574 283v3M576 312v3M580 292v3M580 315v3M580 396v3M582 289v3M584 292v3M586 289v3M586 396v3M590 280v3M590 292v3M590 298v3M590 390v3M592 286v3M592 315v3M594 283v3M594 295v3M594 390v3M594 396v3M596 292v3M600 292v3M602 298v3M602 312v3M602 387v3M602 399v3M604 315v3M606 289v3M606 304v2M606 393v9M608 289v3M610 312v3M610 390v3M612 292v3M612 304v2M614 295v3M614 312v3M616 312v3M616 393v3M618 301v3M618 312v3M618 318v3M620 298v3M620 312v3M622 289v3M624 298v3M624 315v3M626 312v6M628 312v9M628 399v6M630 295v3M630 312v3M632 399v3M634 393v6M638 280v26M638 312v6M638 396v6M640 280v26M640 312v6M640 396v6M642 280v26M642 312v6M642 396v6"/>
<path stroke="#0af" stroke-width="1" fill="none" d="M151.5 262v3M152.5 166v6M152.5 175v15M152.5 286v3M152.5 292v3M153.5 160v3M153.5 169v3M153.5 178v3M153.5 199v3M153.5 205v3M153.5 214v3M153.5 244v3M154.5 163v6M154.5 172v3M154.5 223v3M154.5 253v3M155.5 157v3M155.5 163v3M155.5 187v3M155.5 199v3M155.5 238v3M155.5 247v3M155.5 253v3M155.5 295v3M156.5 175v3M156.5 202v3M156.5 211v3M156.5 256v3M158.5 67v3M158.5 208v3M160.5 178v6M160.5 205v3M161.5 55v3M161.5 145v3M162.5 55v3M162.5 151v6M162.5 181v3M162.5 187v3M162.5 196v3M164.5 142v3M164.5 157v3M168.5 85v3M172.5 139v3M173.5 321v3M174.5 148v6M175.5 97v3M175.5 112v3M175.5 196v3M175.5 202v3M175.5 357v6M175.5 366v6M175.5 375v3M175.5 381v3M176.5 58v3M176.5 169v3M177.5 190v3M177.5 196v3M177.5 202v3M177.5 357v3M178.5 67v3M178.5 157v3M178.5 202v3M179.5 181v3M180.5 163v3M180.5 178v3M180.5 330v3M180.5 336v3M180.5 363v3M180.5 378v3M181.5 55v3M181.5 61v3M181.5 73v3M181.5 211v3M182.5 55v3M182.5 76v3M182.5 157v3M182.5 190v3M183.5 360v6M184.5 61v3M184.5 166v3M184.5 327v3M184.5 333v3M184.5 342v3M186.5 58v3M186.5 94v3M187.5 64v3M187.5 82v3M187.5 205v3M187.5 363v3M188.5 52v3M188.5 100v3M188.5 202v3M189.5 52v3M189.5 181v3M189.5 375v3M189.5 390v3M190.5 61v3M190.5 184v3M190.5 205v3M190.5 339v3M191.5 55v3M191.5 199v3M191.5 378v3M192.5 91v3M192.5 187v3M193.5 91v3M194.5 61v3M194.5 67v3M195.5 61v3M196.5 58v3M198.5 202v3M199.5 163v3M199.5 211v3M200.5 166v3M200.5 187v3M201.5 58v3M201.5 175v3M201.5 190v3M202.5 79v3M203.5 193v3M203.5 199v3M203.5 229v3M204.5 214v3M205.5 208v3M205.5 220v3M206.5 82v3M206.5 94v3M206.5 178v3M206.5 226v3M207.5 67v3M208.5 112v3M208.5 202v3M208.5 220v3M209.5 187v3M209.5 205v3M209.5 220v3M209.5 226v3M210.5 220v6M212.5 199v3M212.5 205v3M213.5 112v3M213.5 181v3M214.5 91v3M214.5 199v3M215.5 220v3M215.5 226v3M216.5 190v3M217.5 184v3M217.5 223v3M219.5 205v3M219.5 220v3M220.5 85v3M221.5 94v3M221.5 187v3M221.5 196v6M221.5 217v3M221.5 229v3M222.5 73v3M223.5 205v3M225.5 55v3M225.5 85v3M226.5 76v3M226.5 82v3M226.5 97v3M226.5 103v3M227.5 100v3M228.5 184v3M229.5 67v3M229.5 103v3M230.5 100v3M231.5 295v3M231.5 369v3M232.5 67v3M233.5 70v3M233.5 271v3M233.5 289v3M234.5 67v3M235.5 97v3M235.5 324v3M235.5 330v3M235.5 339v3M235.5 345v3M236.5 100v3M236.5 268v6M236.5 345v3M237.5 342v3M238.5 327v3M238.5 333v3M239.5 103v3M239.5 190v3M240.5 103v3M242.5 70v3M242.5 76v3M244.5 85v3M245.5 199v3M248.5 97v3M249.5 67v3M249.5 79v3M249.5 85v3M254.5 217v3M255.5 220v3M260.5 226v3M264.5 211v3M265.5 205v3M266.5 232v3M267.5 199v3M267.5 229v3M270.5 199v3M270.5 336v3M271.5 289v3M272.5 76v3M272.5 166v3M272.5 280v3M272.5 292v3M272.5 301v3M273.5 235v3M273.5 295v3M275.5 295v3M276.5 82v3M297.5 181v3M299.5 184v3M302.5 91v3M303.5 88v3M303.5 97v3M304.5 88v3M305.5 100v3M306.5 100v3M306.5 199v3M307.5 103v3M309.5 91v9M310.5 94v6M311.5 85v3M311.5 91v6M311.5 100v3M312.5 85v3M312.5 94v3M314.5 88v3M326.5 211v3M343.5 217v3M344.5 202v3"/>
<path stroke="#0af" stroke-width="2" fill="none" d="M356 91v3M356 214v3M360 85v9M366 229v3M368 220v3M372 217v6M382 226v3M386 235v3M390 217v3M392 277v3M394 217v3M394 223v3M394 268v3M396 274v3M396 280v3M398 268v3M400 229v12M402 232v3M404 265v3M404 312v3M406 262v3M408 289v3M410 226v3M410 250v3M410 286v3M412 289v3M412 312v3M414 223v3M414 286v6M414 315v3M416 283v3M416 289v3M418 259v3M418 280v3M418 286v3M420 226v6M420 256v3M420 280v6M420 289v3M422 232v3M422 241v3M422 253v3M422 259v3M422 280v3M422 292v3M424 232v3M424 277v3M424 289v3M426 235v3M428 244v3M428 295v3M430 286v3M432 244v3M432 289v3M434 241v3M434 399v3M436 238v3M436 268v3M436 399v3M438 265v3M438 280v3M438 402v3M440 315v3M442 268v3M444 312v3M444 396v3M446 295v3M446 312v3M448 268v3M448 289v3M448 295v3M450 286v3M450 292v3M452 268v3M452 286v6M452 295v3M454 286v3M454 292v3M454 312v6M456 280v3M458 304v2M458 390v3M458 396v3M460 268v3M460 312v3M462 301v5M462 312v3M466 241v3M466 280v6M466 304v2M468 295v3M468 301v3M470 304v2M472 298v3M472 396v3M474 271v3M474 298v3M474 304v2M474 402v3M476 292v3M478 298v3M478 387v3M480 280v3M480 312v3M480 399v3M482 304v2M482 312v3M482 393v3M482 399v3M486 298v6M486 402v3M488 312v9M490 295v6M492 301v5M492 399v3M494 277v3M496 280v3M496 295v3M496 312v3M498 298v3M498 312v3M500 301v5M502 277v3M506 298v3M506 304v2M506 318v3M508 277v3M508 295v3M508 304v2M508 315v3M510 277v3M510 292v9M512 280v6M512 295v3M512 402v3M514 304v2M516 280v3M516 301v3M516 318v3M518 304v2M518 315v3M520 304v2M520 399v3M522 298v3M522 304v2M522 312v3M522 396v6M524 301v3M524 312v3M526 277v3M526 304v2M530 312v3M530 396v3M532 301v3M534 298v3M534 304v2M536 402v3M538 277v6M542 283v3M542 304v2M542 315v3M542 396v3M544 280v3M544 286v3M544 298v3M546 289v3M546 399v3M548 286v6M548 390v3M548 396v3M550 283v3M552 289v3M552 387v3M552 393v6M554 289v3M556 399v6M558 312v6M560 304v2M560 396v6M562 280v3M564 280v3M564 286v3M566 286v6M566 295v3M566 399v6M568 304v2M568 312v3M570 286v3M570 399v3M572 289v3M574 295v6M578 295v3M578 301v3M580 295v6M580 318v3M580 393v3M580 399v3M582 295v9M582 315v3M582 393v3M584 298v3M584 396v3M586 295v3M586 312v3M588 298v3M590 295v3M590 315v6M590 396v6M592 298v3M592 304v2M592 312v3M594 393v3M596 304v2M596 393v3M598 312v6M600 304v2M600 318v3M600 396v3M602 301v3M602 384v3M602 390v3M602 396v3M604 292v3M604 304v2M604 312v3M606 295v3M606 312v3M606 390v3M608 292v3M608 393v6M610 321v3M612 399v3M614 301v3M614 399v3M616 304v2M618 315v3M620 295v3M620 304v2M620 315v3M622 301v5M622 312v6M624 312v3M624 318v3M626 295v3M626 304v2M628 298v3M628 304v2M630 315v3M630 396v6M632 295v3M632 312v3M632 402v3M634 295v3M634 304v2M634 399v3M636 312v3M636 399v3"/>
<path stroke="#00c9ff" stroke-width="1" fill="none" d="M151.5 235v3M151.5 244v3M151.5 250v6M151.5 259v3M151.5 268v3M152.5 172v3M152.5 202v6M152.5 214v3M152.5 226v3M152.5 238v3M153.5 166v3M153.5 181v3M153.5 187v6M153.5 196v3M153.5 223v3M153.5 238v3M154.5 181v3M155.5 154v3M155.5 193v6M155.5 229v3M155.5 241v3M156.5 181v3M156.5 235v3M156.5 253v3M156.5 268v6M156.5 286v3M157.5 52v3M157.5 64v45M158.5 190v3M159.5 166v3M160.5 172v3M160.5 187v3M161.5 199v3M162.5 73v3M162.5 163v3M162.5 208v9M164.5 154v3M164.5 163v3M164.5 169v3M169.5 142v3M171.5 73v3M171.5 118v3M171.5 142v3M172.5 61v3M173.5 318v3M173.5 324v3M174.5 160v3M174.5 205v3M175.5 208v3M175.5 333v3M175.5 348v3M176.5 157v3M176.5 181v3M177.5 211v3M177.5 238v3M177.5 348v3M177.5 354v3M177.5 363v3M178.5 199v3M178.5 208v3M179.5 187v3M180.5 157v3M180.5 175v3M180.5 184v3M180.5 199v3M180.5 205v3M180.5 333v3M180.5 342v6M180.5 354v9M180.5 375v3M180.5 381v3M181.5 390v3M181.5 399v3M182.5 196v3M183.5 381v3M185.5 58v6M186.5 172v3M187.5 184v3M187.5 372v3M188.5 55v3M189.5 58v3M190.5 58v3M190.5 67v3M190.5 321v3M190.5 336v3M190.5 360v3M191.5 58v3M191.5 202v3M191.5 390v3M192.5 52v3M192.5 61v3M192.5 321v6M193.5 55v3M193.5 196v3M193.5 244v3M194.5 55v3M195.5 58v3M195.5 187v3M198.5 52v3M198.5 193v3M199.5 166v3M199.5 175v3M199.5 199v6M199.5 217v3M201.5 202v3M202.5 61v3M202.5 205v3M203.5 205v3M203.5 232v3M204.5 58v3M204.5 208v6M204.5 217v3M205.5 196v3M205.5 205v3M205.5 217v3M206.5 187v3M207.5 199v3M208.5 214v6M208.5 229v3M209.5 214v3M210.5 187v3M210.5 199v3M210.5 217v3M211.5 202v6M212.5 178v3M212.5 196v3M212.5 223v3M213.5 79v3M213.5 184v3M213.5 190v6M213.5 199v3M213.5 211v3M214.5 61v3M215.5 55v3M215.5 82v3M215.5 202v6M216.5 187v3M216.5 193v3M217.5 226v3M218.5 208v9M219.5 181v3M219.5 208v3M219.5 214v3M220.5 79v3M220.5 190v3M221.5 79v3M221.5 211v6M221.5 324v3M222.5 208v6M223.5 73v3M224.5 88v6M224.5 187v3M225.5 73v3M225.5 79v3M225.5 94v3M225.5 187v3M227.5 97v3M228.5 76v3M229.5 70v3M230.5 321v3M230.5 333v3M232.5 178v3M233.5 73v3M233.5 97v3M233.5 259v3M233.5 315v3M234.5 94v3M234.5 295v3M234.5 345v3M235.5 94v3M235.5 274v3M235.5 289v3M235.5 304v2M235.5 333v3M235.5 342v3M236.5 103v3M236.5 274v3M236.5 336v3M237.5 103v3M237.5 274v3M237.5 321v3M237.5 330v3M237.5 336v3M238.5 79v3M240.5 342v3M242.5 321v3M243.5 76v3M243.5 100v3M244.5 76v3M244.5 202v3M247.5 88v3M248.5 79v3M248.5 94v3M249.5 64v3M249.5 91v3M250.5 88v3M252.5 82v3M256.5 217v3M259.5 232v3M264.5 193v3M264.5 202v6M265.5 214v3M267.5 208v3M268.5 280v3M268.5 292v3M270.5 196v3M270.5 274v3M271.5 211v3M271.5 274v9M271.5 292v3M272.5 211v3M273.5 199v3M273.5 205v3M273.5 214v3M273.5 229v6M273.5 330v3M273.5 339v6M275.5 327v3M277.5 199v3M282.5 321v3M282.5 336v3M287.5 202v3M302.5 88v3M302.5 100v3M304.5 97v3M306.5 103v3M307.5 88v3M308.5 103v3M310.5 91v3M311.5 88v3M312.5 88v6M316.5 208v3M319.5 205v3"/>
<path stroke="#00c9ff" stroke-width="2" fill="none" d="M360 214v6M364 223v3M368 217v3M370 220v3M374 214v12M378 214v3M378 220v6M378 229v6M380 223v3M380 238v3M382 217v3M384 217v3M384 223v3M386 226v3M388 220v6M390 232v3M392 220v3M392 280v3M392 289v3M394 220v3M394 286v3M396 214v3M396 223v3M396 268v3M396 283v3M398 265v3M398 277v3M398 286v3M398 312v3M400 315v3M402 262v3M402 268v6M402 286v3M404 289v3M404 315v3M406 223v3M406 238v3M406 244v3M406 250v3M406 274v3M406 286v3M406 292v3M408 292v3M408 312v3M410 223v3M410 229v3M412 244v3M412 262v3M412 268v3M412 292v6M414 229v3M414 292v3M414 304v2M414 318v3M416 295v3M418 235v3M418 256v3M418 265v3M420 250v3M420 265v3M422 286v3M424 244v6M424 295v3M426 298v3M426 304v2M428 286v3M428 301v3M428 312v3M430 265v3M430 301v3M432 268v3M432 301v3M432 315v3M434 265v3M434 280v6M434 298v3M434 304v2M434 396v3M436 265v3M436 289v3M436 301v5M436 393v6M438 268v3M438 304v2M440 295v3M440 301v3M442 304v2M442 315v3M442 375v3M444 268v3M444 289v6M446 271v3M446 277v3M446 292v3M446 298v8M448 271v3M448 301v3M448 315v3M448 393v3M450 271v3M450 277v3M450 304v2M452 298v3M452 304v2M454 274v3M454 298v3M454 304v2M456 268v3M456 295v9M456 312v3M456 384v3M458 268v6M458 295v3M458 301v3M458 312v3M458 387v3M458 399v3M460 295v3M460 304v2M460 315v3M460 399v3M462 274v6M462 298v3M462 315v3M464 286v3M464 295v3M464 396v6M468 268v3M468 298v3M468 304v2M468 312v3M468 396v3M470 318v3M470 396v3M472 286v3M472 399v3M474 277v3M474 312v6M474 396v6M476 274v3M476 301v3M476 312v3M478 277v6M478 312v3M480 292v3M482 277v3M482 283v3M482 289v3M482 396v3M482 402v3M484 280v3M484 298v3M486 396v3M488 283v3M490 277v3M490 312v3M494 283v3M496 298v3M496 304v2M496 402v3M498 280v3M500 280v3M500 286v6M500 315v3M504 280v3M504 295v6M504 304v2M504 312v3M506 312v6M508 280v3M508 289v3M508 298v3M508 393v3M510 396v3M512 286v3M512 304v2M512 321v3M512 396v3M514 280v6M514 289v3M514 301v3M520 393v3M522 277v3M526 283v3M526 289v3M526 315v3M526 396v3M528 315v3M530 277v3M530 402v3M532 280v3M532 298v3M532 312v3M532 396v3M534 312v3M534 396v3M536 280v3M536 286v3M536 390v3M536 399v3M538 283v3M538 312v3M540 393v3M542 286v3M542 312v3M542 318v3M542 399v3M544 301v5M546 286v3M546 301v5M546 402v3M548 283v3M548 292v3M548 384v3M548 399v6M550 289v3M550 301v5M550 312v3M552 292v3M552 312v3M554 301v3M554 312v3M556 292v9M556 304v2M556 312v3M558 295v3M558 301v3M560 292v3M560 298v3M562 301v3M562 399v3M564 292v3M564 304v2M564 399v3M566 301v3M566 387v3M568 298v3M568 393v3M568 402v3M570 295v3M570 301v3M570 393v3M572 286v3M572 292v3M572 304v2M572 387v3M572 396v6M574 301v3M574 312v6M574 387v3M576 298v3M576 315v6M578 304v2M578 390v3M580 312v3M582 318v3M584 315v6M584 393v3M586 315v3M586 393v3M586 402v3M588 304v2M588 312v6M588 393v3M588 399v3M590 393v3M592 390v3M592 396v3M594 301v3M596 298v6M596 312v3M596 399v3M598 318v3M598 399v3M600 315v3M600 390v3M602 315v3M602 393v3M604 387v3M604 396v6M606 301v3M606 387v3M606 402v3M608 295v3M608 304v2M608 399v3M610 315v6M610 387v3M610 396v3M612 393v6M614 315v3M614 396v3M616 387v6M622 318v3M622 387v3M622 396v6M624 304v2M626 298v6M626 318v3M626 393v3M628 396v3M630 301v3M632 304v2M632 390v6M634 301v3M634 390v3M636 304v2M636 315v3M636 381v3M636 393v3"/>
<path stroke="#00e8ff" stroke-width="1" fill="none" d="M151.5 238v6M151.5 265v3M151.5 271v3M151.5 295v3M152.5 160v3M152.5 193v6M152.5 220v6M152.5 232v6M153.5 235v3M153.5 295v3M154.5 187v3M154.5 202v3M154.5 247v3M155.5 169v3M155.5 184v3M155.5 205v3M156.5 160v9M156.5 172v3M156.5 214v3M156.5 241v3M156.5 259v3M157.5 151v3M157.5 244v3M157.5 253v3M157.5 262v3M158.5 136v3M158.5 154v3M158.5 202v3M158.5 214v3M159.5 187v3M159.5 202v3M160.5 64v3M160.5 175v3M161.5 175v3M161.5 190v3M162.5 172v3M162.5 199v3M162.5 205v3M163.5 193v3M165.5 55v3M173.5 163v3M173.5 327v3M175.5 178v3M175.5 372v3M175.5 384v3M176.5 363v3M176.5 390v3M177.5 184v3M177.5 208v3M177.5 214v3M177.5 333v3M177.5 342v6M177.5 360v3M178.5 190v3M178.5 372v3M178.5 393v3M178.5 402v3M179.5 190v3M179.5 327v3M180.5 190v3M180.5 351v3M180.5 369v6M181.5 378v3M181.5 387v3M181.5 393v3M182.5 184v6M182.5 369v3M182.5 375v3M183.5 58v3M183.5 169v3M183.5 372v3M184.5 58v3M184.5 199v3M184.5 330v3M184.5 336v6M184.5 348v3M184.5 369v3M185.5 148v3M185.5 166v3M185.5 375v3M186.5 187v3M186.5 399v3M187.5 55v6M187.5 360v3M188.5 58v3M188.5 91v3M188.5 169v3M188.5 175v3M188.5 187v3M189.5 187v3M189.5 363v3M189.5 378v3M189.5 387v3M190.5 55v3M190.5 202v3M190.5 333v3M190.5 354v3M190.5 363v3M190.5 381v3M191.5 52v3M191.5 169v3M191.5 208v3M191.5 360v3M191.5 381v6M192.5 169v3M192.5 211v3M193.5 187v6M193.5 202v3M194.5 166v3M194.5 175v3M195.5 181v3M196.5 202v3M196.5 211v3M197.5 175v3M198.5 208v3M199.5 196v3M199.5 220v3M200.5 172v3M201.5 199v3M201.5 217v3M202.5 226v3M203.5 223v3M203.5 235v3M204.5 193v3M204.5 205v3M204.5 220v3M205.5 181v3M205.5 214v3M205.5 223v3M206.5 196v3M206.5 208v3M206.5 214v3M207.5 190v3M208.5 208v3M210.5 229v3M211.5 223v3M211.5 229v3M212.5 184v9M212.5 211v6M213.5 214v3M214.5 220v3M215.5 190v3M215.5 196v6M215.5 229v6M216.5 202v3M216.5 226v3M217.5 187v3M217.5 196v6M217.5 211v3M218.5 205v3M218.5 217v6M219.5 79v3M219.5 85v3M219.5 190v6M221.5 82v3M221.5 91v3M222.5 85v3M222.5 193v3M222.5 205v3M223.5 91v6M223.5 214v6M223.5 351v3M226.5 73v3M227.5 76v3M228.5 79v3M230.5 76v3M230.5 187v3M230.5 324v3M231.5 79v3M231.5 103v3M231.5 372v3M231.5 378v3M231.5 384v6M232.5 76v3M233.5 91v3M233.5 321v3M234.5 91v3M234.5 262v3M234.5 283v3M234.5 289v3M234.5 301v3M234.5 342v3M235.5 277v3M235.5 298v6M235.5 315v6M235.5 336v3M236.5 333v3M236.5 339v3M237.5 70v3M237.5 85v3M237.5 271v3M237.5 315v6M237.5 333v3M238.5 70v3M238.5 76v3M238.5 82v3M238.5 103v3M238.5 318v3M238.5 330v3M238.5 342v3M239.5 67v3M239.5 94v3M240.5 91v3M241.5 76v3M241.5 94v3M241.5 345v6M242.5 94v3M242.5 100v6M243.5 79v18M244.5 79v3M244.5 91v3M245.5 73v3M247.5 76v3M247.5 199v3M252.5 205v3M254.5 232v3M255.5 226v3M256.5 220v6M256.5 232v3M256.5 238v3M258.5 232v3M259.5 229v3M259.5 238v3M260.5 223v3M264.5 199v3M265.5 220v3M266.5 193v3M266.5 199v3M268.5 211v3M269.5 193v3M269.5 202v3M269.5 214v3M269.5 292v6M270.5 205v3M270.5 268v6M270.5 283v3M270.5 289v3M271.5 235v3M272.5 298v3M272.5 304v2M273.5 289v3M274.5 283v3M275.5 268v3M275.5 280v3M275.5 318v6M275.5 330v6M282.5 318v3M305.5 103v3M308.5 88v3M309.5 88v3M310.5 88v3M310.5 100v3M311.5 97v3M312.5 97v3M313.5 97v3M335.5 193v3M342.5 214v3M344.5 196v3"/>
<path stroke="#00e8ff" stroke-width="2" fill="none" d="M346 214v3M350 226v3M354 211v3M356 217v3M358 214v3M364 318v3M366 220v6M366 232v3M368 229v3M368 312v3M370 226v3M374 315v3M376 220v3M378 217v3M378 226v3M378 235v3M380 220v3M380 232v3M382 223v3M384 220v3M384 312v3M386 223v3M386 312v3M386 318v3M388 226v3M388 235v3M388 283v3M388 318v3M390 277v3M390 283v3M390 301v3M390 312v3M392 229v3M394 271v3M394 277v3M394 283v3M396 220v3M396 229v3M396 295v3M398 229v9M398 271v3M398 292v3M398 315v6M400 259v9M400 274v3M400 280v3M400 292v3M400 301v3M400 318v3M402 223v3M402 235v3M402 256v3M402 265v3M402 318v3M404 220v3M404 238v6M404 280v3M406 235v3M406 247v3M406 253v3M406 271v3M406 283v3M406 312v3M408 253v3M408 262v3M408 268v3M408 280v3M408 295v3M410 235v3M410 247v3M410 265v3M410 292v3M410 298v3M412 226v3M412 238v3M412 259v3M412 274v9M412 286v3M412 298v3M414 250v3M414 283v3M414 295v6M416 238v3M416 286v3M416 304v2M416 312v3M418 241v3M418 247v3M418 268v3M418 301v5M420 235v3M420 244v3M420 268v3M420 295v3M422 247v3M422 265v3M422 271v3M422 283v3M422 289v3M422 295v3M422 304v2M424 238v3M424 268v6M424 283v3M424 301v3M426 277v3M426 312v3M426 390v3M428 274v12M428 292v3M428 304v2M430 271v6M430 280v3M430 289v3M430 295v6M430 304v2M430 312v3M432 277v9M432 304v2M432 318v3M434 292v3M434 375v3M434 384v6M436 274v3M436 286v3M436 295v3M436 390v3M438 274v6M438 283v3M438 289v3M438 295v3M438 312v3M438 387v3M440 277v3M440 286v9M440 298v3M440 304v2M440 312v3M440 318v3M442 277v3M442 295v3M444 295v3M444 315v3M444 393v3M446 402v3M448 390v3M450 283v3M450 289v3M450 384v3M450 399v3M452 274v3M452 280v3M454 283v3M454 396v3M456 274v3M456 286v9M456 304v2M456 387v3M458 289v3M458 384v3M458 402v3M460 274v3M460 283v3M460 292v3M460 298v6M462 283v3M464 280v3M464 292v3M464 301v5M464 384v3M464 393v3M464 402v3M466 277v3M466 295v3M466 301v3M466 396v3M468 274v3M468 292v3M470 277v3M470 283v3M470 292v6M470 315v3M470 399v3M472 280v3M472 304v2M472 393v3M474 289v3M474 393v3M476 280v3M476 286v3M476 304v2M476 402v3M478 283v3M478 301v5M478 390v6M480 289v3M480 298v3M482 292v3M482 301v3M482 387v3M484 283v15M484 399v6M486 283v3M486 312v3M488 286v3M488 292v3M488 304v2M488 321v3M488 399v3M490 283v3M490 304v2M492 280v3M492 286v3M492 292v3M492 318v3M492 402v3M494 295v3M496 286v3M496 292v3M496 381v6M496 393v3M498 289v3M498 301v5M498 399v3M500 295v6M500 312v3M502 283v3M502 304v2M502 384v3M504 286v3M504 292v3M506 283v6M508 292v3M508 312v3M508 396v3M510 289v3M510 304v2M510 399v3M512 292v3M512 298v3M514 295v3M514 315v3M516 304v2M518 289v3M518 312v3M518 399v3M520 292v3M520 298v3M520 312v3M522 295v3M524 280v3M524 298v3M524 304v2M524 318v3M526 295v3M526 301v3M526 312v3M526 387v3M526 393v3M528 396v3M528 402v3M530 283v3M530 289v3M530 315v6M532 286v3M532 295v3M532 399v3M534 283v3M534 289v3M534 295v3M534 315v3M534 393v3M536 292v3M536 304v2M536 387v3M538 289v9M538 304v2M538 315v3M538 399v3M540 298v3M540 399v6M542 295v3M542 301v3M542 402v3M544 312v6M544 399v3M546 312v6M546 396v3M548 295v6M548 312v3M548 393v3M550 295v3M550 315v3M552 298v3M552 304v2M554 315v3M554 390v3M554 399v3M556 318v3M556 393v6M558 298v3M558 393v6M560 301v3M562 396v3M562 402v3M564 298v3M564 312v3M564 387v3M566 312v3M566 396v3M568 387v3M570 312v6M572 298v3M572 393v3M576 396v6M578 315v6M578 387v3M578 393v3M580 321v3M580 390v3M582 312v3M582 396v3M584 312v3M584 321v3M584 399v3M586 318v3M586 390v3M586 399v3M588 396v3M590 312v3M592 378v3M592 393v3M592 399v3M594 312v3M596 396v3M598 396v3M600 312v3M600 399v3M604 318v3M604 381v3M604 390v3M608 301v3M608 312v3M610 381v6M612 312v3M614 318v3M614 393v3M616 384v3M616 399v3M618 321v3M626 390v3M628 390v3M630 393v3M632 315v3M632 381v6M632 396v3M634 312v6M636 378v3M636 387v6M636 396v3M638 318v3M640 318v3M642 318v3M530 428v6M602 428v6M606 428v6M628 428v6M632 428v6M640 428v6"/>
<path stroke="#00fffb" stroke-width="1" fill="none" d="M151.5 175v3M151.5 193v3M151.5 202v3M151.5 214v3M151.5 232v3M151.5 247v3M151.5 256v3M152.5 157v3M152.5 190v3M152.5 211v3M152.5 295v3M153.5 211v3M153.5 217v3M154.5 208v3M154.5 220v3M154.5 226v3M154.5 238v6M155.5 160v3M155.5 172v3M155.5 223v6M155.5 232v3M156.5 154v6M156.5 217v3M156.5 238v3M156.5 283v3M156.5 292v3M157.5 208v6M159.5 154v3M159.5 163v3M159.5 196v3M160.5 154v3M160.5 196v3M161.5 187v3M162.5 193v3M164.5 55v3M164.5 181v3M164.5 205v3M166.5 58v3M167.5 58v3M167.5 88v60M168.5 58v3M169.5 58v3M170.5 58v3M171.5 58v3M173.5 64v3M173.5 142v3M174.5 169v3M174.5 336v3M174.5 345v6M174.5 399v6M175.5 175v3M175.5 187v3M175.5 315v3M175.5 330v3M175.5 339v3M175.5 387v3M175.5 393v3M176.5 154v3M176.5 196v3M176.5 375v3M177.5 157v3M177.5 172v3M177.5 321v3M177.5 336v6M177.5 351v3M177.5 366v3M178.5 175v6M178.5 184v6M178.5 205v3M178.5 366v3M178.5 396v3M179.5 196v3M179.5 202v6M179.5 321v3M180.5 169v3M180.5 181v3M180.5 187v3M180.5 193v6M180.5 348v3M181.5 220v3M181.5 315v3M181.5 366v3M181.5 375v3M181.5 381v3M182.5 199v3M183.5 55v3M183.5 357v3M183.5 384v3M183.5 396v3M184.5 321v6M184.5 366v3M184.5 372v9M185.5 55v3M185.5 172v3M185.5 199v3M185.5 208v3M185.5 244v3M185.5 348v3M185.5 393v3M186.5 229v3M186.5 381v6M186.5 396v3M186.5 402v3M187.5 175v3M187.5 187v3M187.5 339v3M188.5 61v3M188.5 193v3M188.5 214v3M189.5 184v3M189.5 196v3M189.5 202v9M189.5 336v3M189.5 360v3M189.5 366v3M189.5 372v3M190.5 318v3M190.5 327v3M190.5 342v3M190.5 378v3M191.5 193v3M191.5 333v3M191.5 345v3M191.5 363v3M191.5 375v3M191.5 393v3M192.5 202v3M192.5 327v3M193.5 241v3M194.5 58v3M195.5 52v6M195.5 193v3M196.5 175v3M196.5 193v3M199.5 178v3M199.5 214v3M200.5 181v3M200.5 190v6M200.5 199v3M200.5 220v3M202.5 211v3M202.5 229v3M204.5 190v3M204.5 196v6M205.5 199v3M205.5 226v3M206.5 184v3M206.5 193v3M206.5 241v3M207.5 196v3M207.5 217v3M207.5 223v3M208.5 184v3M208.5 190v3M208.5 205v3M208.5 211v3M209.5 208v3M209.5 217v3M210.5 184v3M210.5 202v3M210.5 208v3M211.5 220v3M212.5 193v3M213.5 196v3M213.5 217v3M214.5 208v3M214.5 217v3M216.5 199v3M216.5 208v3M217.5 235v3M218.5 223v6M219.5 187v3M219.5 211v3M219.5 226v3M220.5 196v3M221.5 76v3M221.5 85v6M221.5 205v3M221.5 321v3M222.5 82v3M222.5 91v3M222.5 202v3M222.5 226v3M223.5 88v3M223.5 348v3M225.5 82v3M226.5 396v3M227.5 73v3M229.5 100v3M229.5 330v6M230.5 70v3M230.5 318v3M230.5 330v3M231.5 262v3M231.5 301v3M232.5 82v3M232.5 103v3M232.5 262v3M233.5 76v6M233.5 283v3M233.5 292v3M233.5 298v3M234.5 259v3M234.5 268v3M234.5 336v6M235.5 67v3M235.5 88v3M235.5 100v6M235.5 259v6M235.5 292v3M235.5 321v3M236.5 91v3M236.5 97v3M236.5 265v3M236.5 315v3M236.5 330v3M236.5 342v3M237.5 79v3M237.5 312v3M237.5 327v3M237.5 345v3M238.5 85v3M238.5 100v3M238.5 312v3M238.5 336v6M239.5 91v3M240.5 88v3M241.5 70v3M241.5 91v3M241.5 327v3M242.5 91v3M242.5 324v3M244.5 73v3M245.5 94v6M247.5 79v3M247.5 97v6M248.5 88v3M249.5 82v3M255.5 214v3M256.5 226v3M256.5 235v3M256.5 241v3M258.5 244v3M263.5 214v3M263.5 226v3M264.5 196v3M264.5 220v3M264.5 226v3M265.5 208v6M265.5 217v3M268.5 199v3M268.5 220v3M268.5 298v3M269.5 181v3M269.5 190v3M269.5 208v3M269.5 283v9M270.5 187v3M270.5 214v3M270.5 226v3M270.5 286v3M270.5 298v6M270.5 321v3M271.5 220v3M271.5 271v3M271.5 301v3M272.5 208v3M272.5 214v3M273.5 175v3M273.5 196v3M273.5 223v3M273.5 238v3M273.5 268v3M273.5 333v6M274.5 298v3M274.5 318v3M275.5 283v3M275.5 336v3M282.5 333v3M282.5 339v3M284.5 193v3M285.5 205v3M290.5 184v3M292.5 193v3M304.5 187v3M309.5 100v3M332.5 238v3M337.5 205v3"/>
<path stroke="#00fffb" stroke-width="2" fill="none" d="M348 214v3M350 217v3M352 211v3M352 315v3M356 220v3M360 220v6M360 312v3M364 220v3M364 315v3M366 226v3M368 223v3M370 229v6M372 226v3M372 232v3M374 226v3M374 312v3M374 318v3M376 223v6M376 315v3M378 244v3M378 312v3M380 226v6M382 232v3M382 286v3M382 292v3M382 312v3M384 226v6M386 277v3M386 295v3M386 301v3M388 238v3M388 271v3M388 280v3M388 292v3M388 315v3M390 280v3M392 226v3M392 259v3M392 265v9M392 286v3M394 229v3M394 244v3M394 262v3M394 292v3M396 232v9M396 244v3M396 265v3M396 286v3M398 238v3M398 298v3M400 241v3M400 250v6M400 268v3M400 286v3M400 295v3M402 259v3M402 283v3M402 292v3M402 304v2M402 312v3M402 393v3M404 226v12M404 247v3M404 256v9M404 268v6M404 286v3M404 292v3M404 298v6M406 241v3M406 256v6M406 265v3M406 277v3M406 298v8M406 315v3M408 226v3M408 232v6M408 241v3M408 259v3M408 271v3M408 286v3M408 301v3M408 318v3M408 393v3M410 241v3M410 271v3M410 277v3M410 283v3M410 289v3M410 304v2M412 232v3M412 247v6M412 301v5M414 238v6M414 247v3M414 265v3M414 301v3M416 274v3M416 280v3M416 292v3M416 301v3M416 318v3M418 274v6M418 289v3M418 396v6M420 274v3M420 286v3M420 292v3M420 301v3M420 312v3M420 384v3M422 277v3M422 298v6M422 312v3M422 318v3M424 274v3M424 280v3M424 286v3M424 292v3M424 312v3M426 289v9M426 301v3M428 268v6M428 298v3M428 399v6M430 283v3M432 286v3M432 292v3M432 298v3M432 312v3M432 321v3M434 271v3M434 289v3M434 312v3M434 318v3M434 378v6M434 390v3M434 402v3M436 280v6M436 292v3M436 312v3M436 384v6M438 298v6M438 315v3M440 280v3M440 378v3M440 384v3M442 271v3M442 280v9M442 298v6M444 277v12M444 301v5M446 283v3M446 289v3M446 315v3M448 280v3M448 286v3M448 292v3M448 298v3M448 304v2M448 312v3M448 396v3M450 280v3M450 295v9M450 312v6M450 387v3M452 277v3M452 292v3M452 301v3M452 312v3M452 390v3M454 289v3M454 295v3M454 301v3M454 393v3M456 399v3M458 381v3M460 280v3M460 393v3M460 402v3M462 295v3M462 318v3M464 298v3M466 289v3M466 315v3M466 381v3M468 280v3M468 315v3M468 393v3M470 289v3M470 298v3M470 312v3M470 393v3M470 402v3M472 315v3M472 378v6M472 390v3M472 402v3M474 283v3M474 295v3M474 301v3M474 318v3M476 295v6M478 289v3M478 295v3M478 318v3M480 286v3M480 301v5M480 315v3M480 387v3M480 396v3M480 402v3M482 295v3M482 318v3M482 378v3M482 390v3M484 318v3M486 289v3M486 295v3M486 304v2M486 390v3M488 298v3M490 292v3M496 315v3M498 295v3M498 315v3M500 292v3M502 295v3M502 301v3M502 318v3M502 393v3M504 315v3M504 393v3M504 402v3M506 289v3M506 295v3M506 393v6M508 301v3M510 301v3M510 378v3M510 393v3M514 318v3M516 295v6M518 295v9M518 396v3M520 315v3M520 396v3M520 402v3M522 289v3M522 301v3M522 315v3M522 378v3M522 393v3M524 286v3M524 292v6M524 321v3M524 396v6M526 402v3M528 298v8M528 318v3M530 295v3M530 301v3M532 292v3M532 304v2M532 393v3M534 301v3M534 399v3M536 298v3M536 312v3M538 301v3M538 396v3M540 321v3M540 384v3M540 390v3M540 396v3M542 393v3M544 378v3M544 387v6M546 390v3M548 315v3M550 396v3M552 315v3M552 384v3M552 402v3M554 393v3M556 315v3M558 390v3M560 312v3M560 318v3M562 315v3M562 387v3M566 318v3M568 315v3M568 381v3M568 390v3M568 399v3M572 318v3M574 318v3M574 390v3M574 396v3M574 402v3M576 393v3M578 312v3M578 384v3M580 402v3M586 381v9M588 318v3M590 387v3M592 318v3M592 375v3M592 387v3M594 399v3M596 315v3M596 384v3M596 390v3M596 402v3M598 393v3M598 402v3M600 387v3M600 393v3M600 402v3M602 402v3M604 393v3M606 315v3M606 384v3M608 315v3M610 393v3M610 399v3M612 315v3M614 390v3M616 402v3M618 387v6M618 396v3M618 402v3M620 390v3M620 396v6M622 393v3M624 321v3M626 402v3M628 393v3M630 402v3M632 318v3M632 387v3M634 318v3M636 375v3M638 402v3M640 402v3M642 402v3M542 428v6M548 428v6M552 428v6M560 428v6M570 428v6M572 428v6M580 428v6M582 428v6M586 428v6M594 428v6M596 428v6M604 428v6M608 428v6M616 428v6M618 428v6M620 428v6M622 428v6M626 428v6M630 428v6M634 428v6M638 428v6"/>
<path stroke="#00ffeb" stroke-width="1" fill="none" d="M151.5 151v3M151.5 178v3M151.5 187v3M151.5 208v3M151.5 226v3M151.5 298v3M152.5 208v3M152.5 217v3M153.5 55v3M153.5 202v3M153.5 301v3M154.5 217v3M154.5 232v3M155.5 151v3M155.5 175v3M155.5 181v3M155.5 214v3M156.5 199v3M156.5 226v3M156.5 232v3M156.5 247v3M157.5 226v3M157.5 235v6M157.5 265v3M157.5 271v3M158.5 55v3M158.5 139v3M158.5 187v3M158.5 205v3M159.5 55v3M159.5 157v3M159.5 172v6M159.5 184v3M159.5 190v3M160.5 145v3M160.5 163v3M160.5 169v3M160.5 211v3M161.5 67v3M161.5 151v6M161.5 342v3M162.5 160v3M162.5 178v3M163.5 184v3M164.5 151v3M164.5 160v3M164.5 166v3M165.5 82v3M166.5 136v3M170.5 76v3M171.5 136v3M173.5 145v3M173.5 169v3M173.5 181v3M173.5 333v9M174.5 166v3M174.5 184v3M174.5 211v3M174.5 390v3M175.5 181v6M175.5 214v3M175.5 223v3M175.5 318v3M175.5 327v3M176.5 160v3M176.5 345v3M176.5 393v3M177.5 163v3M177.5 178v6M177.5 193v3M177.5 369v3M178.5 339v6M178.5 360v3M178.5 399v3M179.5 193v3M179.5 214v3M179.5 318v3M179.5 324v3M179.5 330v3M179.5 363v3M179.5 387v3M179.5 402v3M180.5 321v3M180.5 327v3M180.5 366v3M180.5 384v3M181.5 214v3M181.5 333v3M181.5 372v3M181.5 396v3M182.5 58v3M182.5 166v6M182.5 366v3M183.5 52v3M183.5 163v3M183.5 330v3M183.5 336v3M183.5 369v3M184.5 55v3M184.5 172v3M184.5 190v9M184.5 318v3M184.5 351v6M185.5 151v3M185.5 157v3M185.5 169v3M185.5 193v3M185.5 211v3M185.5 345v3M185.5 363v3M186.5 55v3M186.5 181v3M186.5 241v3M186.5 351v3M186.5 366v3M186.5 390v3M187.5 199v3M187.5 348v3M188.5 327v3M188.5 387v3M189.5 190v3M189.5 339v3M189.5 381v6M190.5 52v3M190.5 196v3M190.5 214v3M190.5 324v3M190.5 330v3M191.5 166v3M191.5 181v6M191.5 190v3M191.5 220v3M191.5 336v3M191.5 357v3M191.5 366v6M192.5 55v6M192.5 184v3M192.5 315v3M193.5 229v3M196.5 184v3M196.5 196v3M196.5 208v3M197.5 178v3M197.5 184v3M198.5 175v3M198.5 211v3M198.5 244v3M199.5 172v3M199.5 205v3M199.5 223v3M200.5 196v3M200.5 208v3M201.5 196v3M201.5 205v3M201.5 214v3M201.5 229v3M202.5 217v3M203.5 241v3M204.5 223v3M205.5 211v3M205.5 229v3M206.5 199v3M206.5 223v3M207.5 208v3M208.5 187v3M208.5 196v3M209.5 193v3M209.5 199v3M209.5 384v3M210.5 175v3M210.5 205v3M211.5 187v3M211.5 196v3M212.5 202v3M213.5 187v3M213.5 205v3M213.5 226v3M214.5 214v3M215.5 175v3M216.5 181v3M216.5 205v3M216.5 217v3M217.5 190v3M217.5 208v3M217.5 229v3M218.5 202v3M219.5 172v3M219.5 184v3M219.5 202v3M220.5 205v3M220.5 211v3M220.5 226v3M221.5 202v3M221.5 220v3M221.5 235v3M222.5 76v3M222.5 196v3M222.5 223v3M222.5 324v3M223.5 208v3M224.5 79v3M225.5 76v3M225.5 351v3M225.5 387v6M226.5 79v3M226.5 94v3M226.5 321v3M226.5 384v6M226.5 399v3M227.5 94v3M228.5 73v3M228.5 88v3M228.5 97v3M229.5 76v3M230.5 91v3M230.5 97v3M230.5 327v3M230.5 339v6M231.5 76v3M231.5 91v6M231.5 292v3M231.5 366v3M232.5 79v3M232.5 295v3M232.5 318v3M233.5 82v3M233.5 286v3M233.5 339v3M234.5 70v9M234.5 97v3M234.5 321v3M235.5 91v3M235.5 271v3M235.5 348v3M235.5 354v3M236.5 70v3M236.5 318v3M237.5 289v3M238.5 97v3M238.5 184v3M238.5 324v3M238.5 345v3M239.5 262v3M240.5 70v3M240.5 345v3M241.5 97v6M241.5 336v3M241.5 342v3M242.5 73v3M243.5 73v3M244.5 88v3M244.5 94v3M244.5 387v3M245.5 76v3M246.5 76v6M246.5 94v3M248.5 82v6M254.5 220v3M254.5 235v3M255.5 238v3M257.5 244v3M259.5 235v3M260.5 247v3M261.5 208v3M261.5 238v3M264.5 214v3M265.5 196v3M265.5 202v3M265.5 238v3M266.5 184v3M266.5 235v3M267.5 232v3M268.5 208v3M268.5 217v3M268.5 274v3M269.5 205v3M269.5 298v6M269.5 312v3M269.5 336v3M270.5 184v3M270.5 190v3M270.5 229v3M270.5 235v3M270.5 280v3M270.5 318v3M270.5 330v6M271.5 295v3M272.5 277v3M273.5 187v3M273.5 217v3M273.5 304v2M273.5 321v3M274.5 280v3M274.5 286v3M275.5 301v3M275.5 315v3M275.5 324v3M275.5 339v6M276.5 327v6M278.5 196v3M278.5 315v3M278.5 321v3M279.5 324v3M280.5 324v3M280.5 330v3M282.5 324v3M291.5 190v3M293.5 187v3M295.5 178v3M298.5 193v3M337.5 211v6M338.5 202v3M338.5 214v3M344.5 208v3"/>
<path stroke="#00ffeb" stroke-width="2" fill="none" d="M346 217v3M348 223v3M350 220v6M350 318v3M352 223v9M352 318v3M354 217v3M354 229v3M354 318v3M358 211v3M358 217v3M360 226v3M362 232v3M362 312v3M364 232v3M364 312v3M366 315v3M370 315v3M372 223v3M372 229v3M374 229v6M380 235v3M382 229v3M384 244v3M386 229v3M386 271v3M386 280v3M388 286v3M388 304v2M390 262v3M390 268v6M390 286v6M390 295v3M390 304v2M392 232v9M392 295v3M392 301v3M392 312v6M394 232v3M394 238v3M394 280v3M394 298v3M394 312v3M394 402v3M396 247v3M396 256v3M398 241v9M398 262v3M398 283v3M398 289v3M400 244v6M400 256v3M400 298v3M400 304v2M400 312v3M400 321v3M402 229v3M402 238v9M402 250v6M402 289v3M402 298v6M402 396v3M404 244v3M404 250v6M404 295v3M404 304v2M406 295v3M406 381v3M408 247v3M408 298v3M408 304v2M410 295v3M410 301v3M410 312v3M412 315v6M416 298v3M418 292v9M418 393v3M418 402v3M420 298v3M420 304v2M420 390v9M422 378v3M424 298v3M424 304v2M424 315v3M424 384v3M424 399v3M428 315v6M430 321v3M432 393v3M434 274v6M434 286v3M434 301v3M436 298v3M438 399v3M440 375v3M440 381v3M440 387v3M442 292v3M444 274v3M444 387v3M444 399v6M446 393v3M446 399v3M448 318v3M448 375v3M448 384v3M448 399v3M450 396v3M452 315v3M452 387v3M452 399v3M456 390v3M456 396v3M456 402v3M464 387v6M466 312v3M466 384v6M466 393v3M466 399v3M468 318v3M468 399v3M470 301v3M470 381v3M472 312v3M472 384v6M474 387v6M476 315v3M476 390v6M478 396v3M480 390v3M482 315v3M482 321v3M482 375v3M482 384v3M484 315v3M484 381v6M484 390v3M486 315v3M490 289v3M492 387v3M492 396v3M494 384v12M496 318v3M496 390v3M496 396v3M498 396v3M498 402v3M500 396v3M500 402v3M502 289v3M502 298v3M502 402v3M508 381v3M510 283v3M510 312v6M510 384v9M512 393v3M516 321v3M518 318v6M520 390v3M522 318v3M526 318v3M526 390v3M528 387v3M528 399v3M530 292v3M530 393v3M532 315v3M532 387v6M536 393v6M538 393v3M540 381v3M542 321v3M544 318v3M544 393v3M546 393v3M550 399v3M552 318v3M552 381v3M554 396v3M554 402v3M564 315v3M566 315v3M572 315v3M572 321v3M574 381v6M574 393v3M576 321v3M576 375v3M576 384v3M580 387v3M582 321v3M584 402v3M586 378v3M588 402v3M594 315v3M594 387v3M596 387v3M600 384v3M604 384v3M604 402v3M606 381v3M608 384v9M608 402v3M612 384v3M612 390v3M612 402v3M614 402v3M616 315v3M618 393v3M620 318v3M620 381v9M622 384v3M622 390v3M622 402v3M626 321v3M628 387v3M630 390v3M632 378v3M634 378v3M634 387v3M634 402v3M636 318v3M500 428v6M508 428v6M510 428v6M512 428v6M518 428v6M520 428v6M522 428v6M526 428v6M528 428v6M532 428v6M534 428v6M536 428v6M538 428v6M540 428v6M546 428v6M550 428v6M554 428v6M556 428v6M558 428v6M564 428v6M566 428v6M574 428v6M576 428v6M578 428v6M584 428v6M588 428v6M590 428v6M598 428v6M600 428v6M610 428v6M612 428v6M614 428v6M624 428v6M636 428v6"/>
<path stroke="#00ffdb" stroke-width="1" fill="none" d="M151.5 55v3M151.5 154v3M151.5 163v3M151.5 169v3M151.5 181v6M151.5 196v3M151.5 205v3M151.5 211v3M152.5 55v3M152.5 163v3M152.5 229v3M153.5 226v3M153.5 304v2M154.5 169v3M154.5 175v3M154.5 292v3M155.5 202v3M155.5 298v6M156.5 55v3M156.5 178v3M156.5 190v3M156.5 223v3M156.5 229v3M156.5 298v3M157.5 175v3M157.5 196v3M157.5 202v6M157.5 217v3M157.5 232v3M157.5 268v3M157.5 277v3M158.5 142v3M158.5 157v3M158.5 181v6M158.5 193v6M158.5 324v3M159.5 148v3M159.5 178v6M160.5 214v3M160.5 220v3M160.5 229v3M160.5 238v3M160.5 339v3M161.5 193v3M161.5 205v3M161.5 345v3M162.5 70v3M162.5 157v3M162.5 175v3M163.5 76v3M163.5 163v6M163.5 321v3M164.5 79v3M164.5 190v3M165.5 79v3M165.5 196v3M166.5 139v3M166.5 145v3M167.5 148v3M168.5 82v3M168.5 145v3M169.5 145v3M170.5 61v3M171.5 61v3M171.5 70v3M171.5 139v3M172.5 64v3M172.5 142v6M173.5 154v6M173.5 315v3M173.5 342v3M173.5 402v3M174.5 157v3M174.5 163v3M174.5 190v3M174.5 351v6M174.5 360v3M174.5 387v3M174.5 393v3M175.5 211v3M175.5 312v3M175.5 345v3M175.5 390v3M175.5 396v6M176.5 163v6M176.5 172v3M176.5 178v3M176.5 366v3M176.5 378v3M177.5 160v3M177.5 205v3M177.5 223v3M177.5 235v3M177.5 315v3M177.5 324v3M177.5 330v3M177.5 372v3M178.5 169v6M178.5 181v3M178.5 196v3M178.5 363v3M178.5 375v3M178.5 381v3M179.5 178v3M179.5 184v3M179.5 208v3M179.5 366v3M180.5 160v3M180.5 172v3M180.5 202v3M180.5 324v3M181.5 318v3M181.5 363v3M182.5 172v3M182.5 348v9M182.5 360v6M182.5 378v6M183.5 175v6M183.5 211v3M183.5 289v3M183.5 327v3M183.5 333v3M183.5 339v3M183.5 345v9M183.5 387v3M183.5 399v6M184.5 52v3M184.5 169v3M184.5 175v3M184.5 205v3M184.5 312v3M184.5 357v3M185.5 154v3M185.5 175v3M185.5 187v3M185.5 321v3M185.5 351v3M185.5 366v3M185.5 372v3M186.5 178v3M186.5 199v6M186.5 223v3M186.5 342v3M186.5 354v3M186.5 387v3M186.5 393v3M187.5 202v3M187.5 211v3M187.5 318v3M187.5 330v3M187.5 357v3M187.5 375v3M187.5 390v3M188.5 160v6M188.5 181v3M188.5 318v3M188.5 324v3M188.5 348v6M188.5 357v6M188.5 390v3M188.5 396v6M189.5 199v3M189.5 369v3M190.5 178v3M190.5 187v3M190.5 193v3M190.5 217v3M190.5 223v3M190.5 315v3M190.5 345v3M190.5 396v3M191.5 163v3M191.5 178v3M191.5 205v3M191.5 217v3M191.5 253v3M191.5 339v6M191.5 348v3M191.5 354v3M191.5 387v3M192.5 172v3M192.5 178v6M192.5 318v3M192.5 360v3M193.5 193v3M193.5 208v3M193.5 232v3M194.5 163v3M194.5 172v3M194.5 184v3M194.5 199v3M194.5 205v3M195.5 190v3M196.5 187v6M196.5 205v3M198.5 169v3M198.5 178v6M198.5 223v3M199.5 184v6M199.5 193v3M199.5 232v3M200.5 169v3M200.5 214v3M201.5 208v3M201.5 223v3M202.5 223v3M203.5 238v3M204.5 202v3M207.5 202v3M207.5 336v6M208.5 181v3M208.5 226v3M208.5 265v3M209.5 202v3M209.5 223v3M209.5 378v6M210.5 178v3M210.5 190v6M210.5 211v3M210.5 235v3M211.5 181v3M211.5 193v3M211.5 199v3M211.5 211v3M211.5 217v3M212.5 181v3M212.5 244v3M213.5 178v3M213.5 202v3M213.5 220v3M214.5 202v3M214.5 211v3M217.5 205v3M217.5 220v3M220.5 193v3M220.5 202v3M220.5 345v3M222.5 79v3M222.5 88v3M222.5 94v3M222.5 369v6M223.5 79v3M223.5 223v9M223.5 342v3M223.5 354v3M224.5 82v3M224.5 226v3M224.5 321v3M225.5 214v3M225.5 354v3M225.5 384v3M226.5 91v3M226.5 318v3M226.5 351v6M226.5 381v3M226.5 393v3M227.5 79v6M227.5 88v6M227.5 372v3M228.5 82v3M228.5 94v3M229.5 88v9M229.5 327v3M229.5 402v3M230.5 73v3M230.5 88v3M230.5 295v3M230.5 315v3M230.5 336v3M230.5 345v3M231.5 97v3M231.5 274v3M231.5 289v3M231.5 327v3M231.5 339v3M231.5 375v3M231.5 381v3M232.5 70v3M232.5 91v3M232.5 271v3M232.5 292v3M232.5 298v3M232.5 315v3M232.5 324v6M232.5 345v3M233.5 94v3M233.5 175v3M233.5 301v3M233.5 312v3M233.5 318v3M233.5 342v3M233.5 390v6M234.5 82v3M234.5 318v3M234.5 324v3M234.5 333v3M234.5 348v3M235.5 76v3M235.5 85v3M235.5 268v3M235.5 280v6M235.5 295v3M235.5 351v3M236.5 85v3M236.5 94v3M236.5 280v3M236.5 321v9M236.5 348v3M237.5 76v3M237.5 100v3M237.5 280v3M237.5 292v3M237.5 324v3M238.5 73v3M238.5 91v6M238.5 280v6M239.5 70v3M239.5 85v3M239.5 97v3M239.5 324v9M239.5 372v3M239.5 402v3M240.5 76v3M240.5 85v3M240.5 97v3M240.5 339v3M241.5 79v3M241.5 315v3M241.5 330v6M242.5 333v3M243.5 172v3M244.5 97v3M244.5 390v3M245.5 79v3M246.5 82v3M246.5 91v3M247.5 82v3M247.5 94v3M251.5 205v3M254.5 226v3M255.5 217v3M261.5 232v3M263.5 211v3M263.5 220v6M263.5 229v3M264.5 208v3M264.5 229v6M265.5 199v3M265.5 226v3M266.5 187v3M266.5 205v3M266.5 220v3M266.5 226v3M266.5 268v3M266.5 274v3M267.5 226v3M267.5 274v3M267.5 390v3M268.5 202v3M268.5 214v3M268.5 289v3M268.5 295v3M268.5 339v3M269.5 199v3M269.5 211v3M269.5 268v3M269.5 277v3M269.5 330v3M269.5 339v3M270.5 208v3M270.5 217v3M270.5 223v3M270.5 339v3M270.5 396v3M271.5 217v3M271.5 223v3M271.5 229v6M271.5 238v3M271.5 286v3M271.5 304v2M271.5 315v3M271.5 324v3M272.5 181v3M272.5 190v3M272.5 202v6M272.5 268v3M273.5 178v3M273.5 184v3M273.5 202v3M273.5 211v3M273.5 226v3M274.5 268v6M274.5 304v2M274.5 321v6M275.5 277v3M275.5 286v3M275.5 292v3M275.5 298v3M275.5 304v2M275.5 312v3M276.5 315v9M276.5 333v3M276.5 339v6M278.5 312v3M278.5 318v3M278.5 324v3M278.5 333v3M279.5 184v3M279.5 330v6M282.5 315v3M282.5 330v3M282.5 342v3M288.5 187v3M336.5 190v3M337.5 220v3M344.5 199v3M344.5 205v3M344.5 214v3M344.5 220v3M344.5 226v3"/>
<path stroke="#00ffdb" stroke-width="2" fill="none" d="M346 223v3M348 217v6M350 229v6M350 315v3M352 217v3M352 232v3M352 312v3M354 214v3M354 312v3M356 232v3M356 238v3M358 220v3M358 226v6M360 229v12M362 220v3M362 229v3M364 226v3M366 235v6M366 318v3M368 226v3M368 232v3M368 315v3M370 312v3M372 238v3M372 384v3M374 235v3M374 298v3M374 321v3M376 229v9M376 312v3M378 238v6M382 235v3M382 265v3M382 280v6M382 298v3M382 315v3M384 235v9M384 268v3M384 274v3M384 280v12M384 301v3M386 232v3M386 283v9M386 315v3M388 229v6M388 241v3M388 262v3M388 268v3M388 274v6M388 295v3M388 301v3M388 312v3M390 223v3M390 238v3M390 244v3M390 292v3M390 315v6M392 241v9M392 292v3M392 304v2M392 318v3M392 402v3M394 256v3M394 265v3M394 301v3M394 315v3M396 253v3M396 259v6M396 289v6M396 301v5M398 253v6M398 295v3M398 301v5M398 381v3M400 396v3M402 247v3M402 295v3M402 315v3M402 390v3M404 378v3M404 396v6M406 384v6M408 244v3M408 250v3M408 256v3M408 315v3M408 321v3M410 315v9M410 384v3M410 393v3M412 393v3M414 321v3M414 381v3M418 312v3M418 387v3M420 315v6M422 315v3M424 378v6M424 396v3M426 387v3M428 393v3M430 315v3M432 384v6M432 396v9M434 295v3M434 321v3M434 393v3M436 375v6M438 396v3M442 381v3M444 298v3M444 318v6M446 387v6M448 387v3M448 402v3M450 372v3M450 402v3M452 318v6M452 384v3M452 393v6M452 402v3M454 318v3M454 399v6M456 378v6M458 315v6M458 375v3M460 387v6M462 387v3M462 402v3M464 375v9M466 390v3M468 378v3M468 390v3M468 402v3M472 375v3M474 321v3M474 384v3M476 387v3M476 396v6M478 399v6M484 312v3M484 387v3M484 396v3M486 393v3M490 318v3M490 381v3M490 396v6M492 312v3M492 378v3M492 393v3M494 318v3M494 396v9M496 378v3M498 378v3M498 393v3M500 318v3M500 393v3M500 399v3M502 312v6M502 381v3M502 387v3M502 396v3M506 375v3M508 318v3M508 390v3M508 402v3M514 390v3M516 390v9M518 393v3M518 402v3M522 381v6M522 390v3M522 402v3M524 390v3M524 402v3M526 384v3M526 399v3M528 390v6M530 384v3M532 318v3M532 402v3M534 402v3M536 315v3M536 384v3M538 390v3M538 402v3M540 387v3M544 402v3M546 318v3M550 393v3M554 318v3M556 390v3M558 318v3M558 387v3M558 399v3M560 315v3M560 393v3M562 312v3M562 318v3M562 384v3M562 390v6M564 384v3M564 402v3M566 384v3M568 318v3M568 384v3M570 318v6M570 390v3M570 402v3M574 378v3M576 387v6M578 381v3M578 396v3M578 402v3M582 384v9M582 399v3M584 384v9M586 321v3M588 390v3M590 402v3M592 381v6M592 402v3M594 318v6M594 402v3M598 375v3M598 390v3M600 378v3M602 381v3M604 321v3M604 378v3M608 318v3M610 378v3M612 321v3M612 378v6M612 387v3M618 399v3M620 393v3M622 375v3M624 381v12M624 396v6M626 381v9M628 381v6M630 318v3M634 375v3M634 381v6M636 384v3M636 402v3M638 393v3M640 393v3M642 393v3M484 428v6M488 428v6M492 428v6M496 428v6M498 428v6M502 428v6M506 428v6M514 428v6M516 428v6M524 428v6M544 428v6M562 428v6M568 428v6M592 428v6M642 428v6"/>
<path stroke="#00ffc2" stroke-width="1" fill="none" d="M151.5 160v3M151.5 172v3M151.5 199v3M151.5 223v3M151.5 229v3M152.5 301v3M153.5 298v3M153.5 318v6M154.5 295v3M155.5 211v3M155.5 220v3M155.5 235v3M155.5 312v3M155.5 330v6M156.5 187v3M156.5 193v6M156.5 205v6M156.5 220v3M156.5 244v3M157.5 160v3M157.5 166v3M157.5 172v3M157.5 190v3M157.5 199v3M157.5 220v3M157.5 229v3M157.5 259v3M157.5 274v3M158.5 145v9M158.5 160v6M158.5 211v3M158.5 217v3M158.5 229v6M158.5 318v6M159.5 151v3M159.5 169v3M159.5 193v3M159.5 205v9M159.5 330v3M160.5 208v3M160.5 235v3M160.5 250v3M160.5 327v3M160.5 336v3M161.5 169v3M161.5 181v3M161.5 196v3M161.5 202v3M161.5 211v3M161.5 324v3M162.5 67v3M162.5 190v3M162.5 217v3M163.5 73v3M163.5 169v6M163.5 178v6M163.5 208v3M163.5 318v3M163.5 324v6M164.5 148v3M164.5 202v3M164.5 208v3M164.5 214v3M165.5 139v3M165.5 184v3M167.5 61v3M167.5 82v6M168.5 139v3M169.5 61v3M169.5 79v3M170.5 70v6M171.5 145v3M172.5 67v3M172.5 321v3M172.5 333v3M172.5 342v3M172.5 357v3M172.5 384v3M173.5 148v6M173.5 160v3M173.5 172v3M173.5 184v3M173.5 193v3M173.5 312v3M173.5 330v3M174.5 175v3M174.5 181v3M174.5 193v3M174.5 199v6M174.5 208v3M174.5 214v3M174.5 333v3M174.5 339v6M174.5 357v3M174.5 363v9M174.5 384v3M174.5 396v3M175.5 169v6M175.5 190v3M175.5 220v3M175.5 226v3M175.5 235v3M175.5 321v3M175.5 342v3M175.5 402v3M176.5 175v3M176.5 348v6M176.5 372v3M177.5 166v6M177.5 217v3M177.5 226v3M177.5 244v3M177.5 375v9M178.5 163v6M178.5 211v3M178.5 333v3M178.5 345v6M178.5 357v3M178.5 369v3M179.5 169v9M179.5 315v3M179.5 333v3M179.5 339v3M179.5 369v12M179.5 390v12M180.5 312v3M180.5 318v3M181.5 217v3M181.5 238v3M181.5 336v3M181.5 354v3M181.5 369v3M181.5 384v3M182.5 175v3M182.5 181v3M182.5 193v3M182.5 211v3M182.5 274v3M182.5 336v6M182.5 345v3M182.5 357v3M183.5 202v9M183.5 312v6M183.5 342v3M183.5 354v3M184.5 178v9M184.5 315v3M184.5 360v6M184.5 381v3M184.5 396v3M185.5 184v3M185.5 190v3M185.5 205v3M185.5 214v3M185.5 241v3M185.5 324v3M185.5 333v3M185.5 339v3M185.5 354v3M185.5 360v3M185.5 369v3M185.5 378v3M186.5 175v3M186.5 345v3M186.5 369v3M186.5 375v3M187.5 169v3M187.5 193v6M187.5 315v3M187.5 321v9M187.5 336v3M187.5 345v3M187.5 351v3M187.5 366v6M187.5 393v3M188.5 166v3M188.5 178v3M188.5 184v3M188.5 208v6M188.5 321v3M188.5 333v6M188.5 354v3M188.5 363v3M188.5 375v3M188.5 384v3M189.5 193v3M189.5 241v3M189.5 321v6M189.5 330v6M189.5 348v3M189.5 357v3M189.5 393v3M189.5 399v6M190.5 348v6M190.5 366v6M190.5 384v6M191.5 172v6M191.5 214v3M191.5 318v3M191.5 330v3M191.5 351v3M191.5 372v3M191.5 402v3M192.5 175v3M192.5 193v3M192.5 199v3M192.5 208v3M192.5 312v3M192.5 336v3M192.5 345v3M192.5 357v3M193.5 318v3M193.5 345v6M193.5 384v3M193.5 396v3M194.5 160v3M194.5 187v3M194.5 196v3M194.5 211v3M194.5 241v3M194.5 298v3M195.5 381v3M196.5 181v3M196.5 199v3M196.5 238v6M196.5 286v3M197.5 181v3M197.5 187v9M197.5 202v3M197.5 214v3M197.5 232v3M197.5 238v3M198.5 205v3M198.5 241v3M198.5 268v3M199.5 190v3M199.5 226v3M199.5 241v3M200.5 202v3M201.5 211v3M204.5 226v6M206.5 205v3M206.5 211v3M206.5 232v3M206.5 238v3M207.5 205v3M207.5 250v3M207.5 342v3M208.5 199v3M208.5 232v3M208.5 324v3M208.5 339v3M208.5 357v3M208.5 402v3M209.5 190v3M209.5 229v3M209.5 238v3M209.5 387v3M210.5 181v3M210.5 196v3M210.5 214v3M210.5 241v6M210.5 369v3M211.5 184v3M211.5 208v3M211.5 244v3M211.5 289v3M211.5 318v6M211.5 357v3M211.5 366v9M211.5 381v6M211.5 396v3M212.5 235v3M212.5 241v3M214.5 205v3M214.5 226v3M216.5 211v3M216.5 220v3M217.5 193v3M217.5 202v3M218.5 232v3M220.5 184v3M220.5 199v3M220.5 214v3M220.5 336v3M220.5 342v3M220.5 363v3M220.5 390v3M220.5 396v6M221.5 226v3M221.5 333v6M221.5 345v3M222.5 199v3M222.5 217v6M222.5 321v3M222.5 327v3M222.5 366v3M222.5 375v3M223.5 82v3M223.5 211v3M223.5 336v3M223.5 345v3M223.5 357v3M223.5 366v6M223.5 375v3M224.5 85v3M224.5 205v3M224.5 220v3M224.5 235v3M224.5 312v3M224.5 318v3M224.5 324v3M225.5 91v3M225.5 223v3M225.5 339v3M225.5 348v3M225.5 366v3M225.5 381v3M225.5 393v12M226.5 88v3M226.5 181v3M226.5 265v3M226.5 345v3M226.5 372v3M226.5 390v3M227.5 375v3M227.5 381v3M228.5 91v3M228.5 339v3M228.5 360v12M229.5 73v3M229.5 97v3M229.5 178v3M229.5 268v3M229.5 321v6M229.5 336v3M229.5 369v3M230.5 79v3M230.5 94v3M230.5 312v3M230.5 348v3M230.5 372v3M231.5 82v3M231.5 100v3M231.5 259v3M231.5 277v3M231.5 304v2M231.5 312v3M231.5 324v3M231.5 336v3M231.5 348v3M231.5 363v3M232.5 100v3M232.5 274v3M232.5 286v6M232.5 301v3M232.5 312v3M232.5 321v3M232.5 330v9M232.5 342v3M233.5 85v6M233.5 256v3M233.5 304v2M233.5 324v3M233.5 333v6M233.5 375v3M233.5 387v3M234.5 85v3M234.5 103v3M234.5 298v3M234.5 312v6M234.5 327v6M234.5 351v6M235.5 70v3M235.5 265v3M235.5 312v3M235.5 357v3M236.5 76v6M236.5 88v3M236.5 277v3M236.5 286v12M236.5 301v3M236.5 312v3M236.5 351v3M236.5 387v3M237.5 73v3M237.5 82v3M237.5 91v9M237.5 262v3M237.5 268v3M237.5 354v3M238.5 262v3M238.5 321v3M239.5 73v3M239.5 100v3M239.5 312v3M239.5 321v3M239.5 336v3M239.5 369v3M239.5 387v3M239.5 393v3M239.5 399v3M240.5 82v3M240.5 100v3M240.5 348v3M240.5 360v3M240.5 387v3M240.5 396v9M241.5 82v3M241.5 312v3M241.5 324v3M241.5 339v3M242.5 79v3M242.5 85v3M242.5 97v3M242.5 199v3M242.5 327v3M242.5 336v3M242.5 342v3M243.5 315v3M245.5 82v6M245.5 91v3M245.5 324v3M246.5 85v3M246.5 366v6M246.5 378v3M246.5 402v3M247.5 85v3M247.5 91v3M247.5 348v9M249.5 88v3M253.5 250v3M254.5 223v3M254.5 247v3M255.5 223v3M255.5 229v3M255.5 241v3M256.5 244v3M257.5 247v6M258.5 241v3M259.5 283v3M260.5 241v3M260.5 250v3M260.5 259v3M260.5 274v3M261.5 211v3M261.5 220v3M262.5 217v3M263.5 199v9M263.5 283v3M264.5 217v3M264.5 223v3M264.5 289v3M265.5 232v3M266.5 190v3M266.5 217v3M266.5 229v3M266.5 298v3M267.5 268v6M267.5 289v6M267.5 387v3M268.5 271v3M268.5 277v3M268.5 286v3M268.5 304v2M268.5 330v3M268.5 369v3M269.5 184v3M269.5 196v3M269.5 223v6M269.5 265v3M269.5 271v3M269.5 280v3M269.5 304v2M269.5 315v3M269.5 333v3M270.5 202v3M270.5 262v3M270.5 277v3M270.5 292v6M270.5 315v3M270.5 324v6M271.5 196v3M271.5 202v6M271.5 268v3M271.5 312v3M271.5 318v6M271.5 336v3M272.5 172v3M272.5 187v3M272.5 220v3M272.5 229v3M272.5 315v6M272.5 339v3M273.5 190v6M273.5 208v3M273.5 220v3M273.5 259v3M273.5 318v3M273.5 324v3M273.5 345v3M274.5 196v3M274.5 232v3M274.5 274v6M274.5 295v3M274.5 301v3M274.5 327v3M274.5 336v3M275.5 289v3M276.5 312v3M276.5 324v3M276.5 402v3M278.5 336v3M279.5 318v6M279.5 336v6M280.5 312v3M280.5 327v3M280.5 339v9M281.5 372v6M282.5 312v3M282.5 327v3M282.5 345v3M284.5 330v3M286.5 196v3M286.5 208v3M290.5 274v3M298.5 238v3M305.5 193v3M318.5 196v3M321.5 196v3M328.5 193v3M332.5 241v3M334.5 211v3M335.5 229v3M337.5 208v3M337.5 229v3M338.5 208v3M339.5 211v3M342.5 217v6M342.5 226v3M343.5 223v6M343.5 312v9M344.5 211v3M344.5 229v3M344.5 238v3"/>
<path stroke="#00ffc2" stroke-width="2" fill="none" d="M346 220v3M346 226v6M346 312v3M348 232v3M350 241v3M352 214v3M354 220v9M354 315v3M354 378v3M356 223v9M356 312v6M358 232v3M362 223v6M362 315v3M364 229v3M364 238v6M366 241v6M366 253v3M366 265v3M366 312v3M368 238v9M368 283v3M368 289v3M370 235v12M370 318v3M372 235v3M372 244v3M372 301v3M372 312v6M374 238v3M374 295v3M376 238v6M376 271v3M378 315v3M380 244v6M380 265v3M382 238v12M382 274v3M382 289v3M382 295v3M382 301v5M382 318v3M382 378v3M384 232v3M384 256v3M384 262v6M384 277v3M384 292v3M384 298v3M384 315v3M384 375v3M386 238v6M386 265v3M386 274v3M386 292v3M386 298v3M386 304v2M388 244v3M388 253v3M388 289v3M388 298v3M390 229v3M390 241v3M390 247v3M390 256v6M390 265v3M390 274v3M390 298v3M390 321v3M390 393v3M392 262v3M392 298v3M394 235v3M394 241v3M394 247v9M394 259v3M394 295v3M394 304v2M394 318v3M394 387v3M394 393v3M394 399v3M396 241v3M396 250v3M396 318v3M398 250v3M398 259v3M398 321v3M398 390v3M400 393v3M400 399v3M402 321v3M402 399v6M404 318v3M404 384v3M406 318v3M406 378v3M406 396v6M408 238v3M408 384v3M408 390v3M410 324v3M412 399v3M414 378v3M416 384v6M418 315v3M418 384v3M418 390v3M420 375v3M420 381v3M420 399v3M424 387v3M424 402v3M426 315v3M426 384v3M426 393v3M426 402v3M428 321v3M428 378v3M428 384v3M428 390v3M428 396v3M430 318v3M430 390v3M432 375v6M432 390v3M434 315v3M434 372v3M436 315v6M436 381v3M436 402v3M438 384v3M438 393v3M442 318v6M442 372v3M442 378v3M442 396v3M444 375v3M444 381v6M444 390v3M446 381v6M446 396v3M448 321v3M448 378v6M450 318v3M450 375v9M454 321v3M454 387v6M456 318v3M456 375v3M456 393v3M458 378v3M460 321v3M460 375v3M460 381v3M462 384v3M466 402v3M468 321v3M468 375v3M470 321v3M470 378v3M470 384v9M472 318v3M476 318v6M478 384v3M480 318v3M480 384v3M480 393v3M484 321v3M486 381v3M486 387v3M488 381v9M488 396v3M488 402v3M490 384v6M492 315v3M492 384v3M492 390v3M494 375v6M496 321v3M496 387v3M496 399v3M498 318v3M500 384v3M500 390v3M502 321v3M502 390v3M502 399v3M504 318v3M504 390v3M504 396v3M506 321v3M506 378v3M506 384v9M506 399v3M508 375v6M508 399v3M510 375v3M510 381v3M510 402v3M512 390v3M514 321v3M514 387v3M514 393v3M514 399v6M516 378v9M516 399v3M518 390v3M520 318v3M520 381v9M522 387v3M524 393v3M526 378v6M528 381v6M530 387v3M534 384v3M534 390v3M536 381v3M538 318v3M538 384v6M542 390v3M544 375v3M544 384v3M544 396v3M546 321v3M546 381v3M548 318v3M548 381v3M550 390v3M552 321v3M552 378v3M556 381v9M558 381v6M558 402v3M560 387v6M560 402v3M564 318v3M566 378v3M570 384v3M572 312v3M572 372v3M572 381v6M574 399v3M576 378v6M578 399v3M580 324v3M580 375v3M580 381v6M582 324v3M584 372v3M584 381v3M586 375v3M588 378v6M588 387v3M590 321v3M590 372v12M596 318v6M596 381v3M598 321v3M598 378v3M598 387v3M600 321v3M602 318v3M604 375v3M606 372v9M608 321v3M608 375v3M608 381v3M610 324v3M612 372v6M614 321v3M616 318v3M616 381v3M618 378v3M618 384v3M620 378v3M622 321v3M624 393v3M624 402v3M628 321v3M628 378v3M630 321v3M630 387v3M634 321v3M634 372v3M636 372v3M638 321v6M640 321v6M642 321v6M452 428v6M454 428v6M456 428v6M458 428v6M466 428v6M468 428v6M470 428v6M474 428v6M478 428v6M480 428v6M482 428v6M486 428v6M490 428v6M494 428v6M504 428v6M618 434v10M628 434v10M630 434v10M632 434v10"/>
<path stroke="#0fa" stroke-width="1" fill="none" d="M151.5 157v3M151.5 166v3M151.5 190v3M151.5 217v6M151.5 301v5M152.5 298v3M153.5 312v6M153.5 333v6M154.5 229v3M154.5 235v3M154.5 298v3M154.5 339v6M155.5 217v3M155.5 304v2M155.5 315v3M155.5 321v3M155.5 327v3M156.5 333v3M157.5 154v3M157.5 163v3M157.5 178v3M157.5 184v3M157.5 193v3M157.5 247v3M157.5 256v3M157.5 283v3M157.5 292v3M157.5 336v3M157.5 342v3M158.5 172v3M158.5 199v3M158.5 247v3M158.5 277v3M158.5 315v3M159.5 214v3M159.5 333v9M160.5 151v3M160.5 160v3M160.5 166v3M160.5 223v3M160.5 324v3M160.5 330v6M161.5 64v3M161.5 229v3M161.5 333v3M161.5 390v3M162.5 64v3M162.5 235v3M163.5 70v3M163.5 157v3M163.5 199v3M163.5 220v3M163.5 315v3M163.5 336v3M164.5 70v3M164.5 76v3M164.5 172v9M164.5 184v6M164.5 211v3M164.5 321v6M165.5 76v3M165.5 142v3M165.5 187v9M165.5 205v6M166.5 61v3M166.5 79v9M166.5 142v3M166.5 151v3M166.5 244v3M168.5 61v3M168.5 76v6M168.5 142v3M169.5 70v3M169.5 76v3M169.5 139v3M170.5 64v6M171.5 64v6M171.5 130v6M171.5 151v3M172.5 330v3M172.5 354v3M172.5 363v12M172.5 378v3M172.5 393v3M173.5 175v3M173.5 190v3M173.5 208v3M174.5 172v3M174.5 217v6M174.5 372v3M175.5 163v3M175.5 232v3M175.5 247v3M175.5 295v3M175.5 324v3M176.5 184v6M176.5 333v6M176.5 342v3M176.5 354v3M176.5 360v3M176.5 369v3M176.5 381v3M176.5 396v3M176.5 402v3M177.5 220v3M177.5 229v3M177.5 312v3M177.5 318v3M177.5 327v3M178.5 160v3M178.5 330v3M178.5 336v3M178.5 378v3M178.5 384v6M179.5 157v3M179.5 166v3M179.5 217v6M179.5 244v3M179.5 312v3M179.5 336v3M179.5 342v6M179.5 354v6M179.5 381v6M180.5 211v6M180.5 220v3M180.5 226v3M180.5 315v3M180.5 387v6M181.5 292v3M181.5 298v3M181.5 312v3M181.5 321v3M181.5 327v6M181.5 342v3M181.5 357v3M182.5 160v3M182.5 178v3M182.5 202v3M182.5 262v3M182.5 333v3M182.5 342v3M182.5 384v3M182.5 393v3M183.5 166v3M183.5 184v6M183.5 199v3M183.5 223v3M183.5 244v3M183.5 274v6M183.5 295v3M183.5 301v5M183.5 321v3M183.5 393v3M184.5 202v3M184.5 208v6M184.5 301v3M184.5 384v6M184.5 399v3M185.5 178v3M185.5 235v6M185.5 336v3M185.5 342v3M185.5 357v3M185.5 402v3M186.5 193v6M186.5 205v3M186.5 211v3M186.5 247v3M186.5 318v3M186.5 348v3M186.5 378v3M187.5 181v3M187.5 190v3M187.5 208v3M187.5 217v3M187.5 232v3M187.5 244v3M187.5 342v3M187.5 354v3M187.5 378v3M188.5 190v3M188.5 196v3M188.5 205v3M188.5 220v3M188.5 312v6M188.5 330v3M188.5 339v6M188.5 366v9M188.5 378v6M188.5 393v3M188.5 402v3M189.5 223v6M189.5 327v3M189.5 342v3M189.5 351v6M189.5 396v3M190.5 175v3M190.5 190v3M190.5 220v3M190.5 295v3M190.5 312v3M190.5 372v6M190.5 393v3M190.5 399v3M191.5 196v3M191.5 312v6M191.5 321v3M191.5 327v3M191.5 396v6M192.5 196v3M192.5 205v3M192.5 217v3M192.5 238v3M192.5 262v3M192.5 330v6M192.5 348v3M192.5 354v3M192.5 363v3M192.5 372v3M192.5 399v6M193.5 205v3M193.5 226v3M193.5 315v3M193.5 333v3M193.5 351v9M193.5 366v6M193.5 381v3M193.5 399v6M194.5 169v3M194.5 178v6M194.5 208v3M194.5 214v3M194.5 229v3M194.5 342v3M194.5 348v3M194.5 360v3M195.5 184v3M195.5 202v3M195.5 229v3M195.5 265v3M195.5 277v3M195.5 324v3M196.5 214v3M196.5 220v3M196.5 232v6M196.5 247v3M196.5 295v3M196.5 301v3M197.5 199v3M197.5 205v3M197.5 235v3M197.5 241v3M197.5 247v3M197.5 253v3M198.5 172v3M198.5 190v3M198.5 226v3M199.5 238v3M199.5 244v3M199.5 283v3M200.5 178v3M200.5 184v3M200.5 211v3M200.5 226v3M201.5 226v3M201.5 253v3M201.5 271v3M201.5 289v3M202.5 208v3M202.5 214v3M202.5 244v3M203.5 262v3M204.5 321v3M205.5 333v3M205.5 345v3M206.5 217v6M206.5 247v3M206.5 298v3M207.5 214v3M207.5 220v3M207.5 226v6M207.5 345v6M208.5 193v3M208.5 321v3M208.5 327v6M209.5 369v3M209.5 375v3M209.5 390v3M210.5 238v3M211.5 214v3M211.5 226v3M211.5 232v3M211.5 315v3M211.5 324v6M211.5 363v3M211.5 375v3M211.5 399v3M212.5 232v3M212.5 238v3M212.5 247v6M213.5 232v3M214.5 223v3M214.5 229v3M214.5 292v3M215.5 238v3M215.5 244v3M216.5 223v3M217.5 232v3M218.5 229v3M219.5 175v6M219.5 229v3M220.5 208v3M220.5 223v3M220.5 339v3M220.5 348v9M220.5 366v9M220.5 402v3M221.5 193v3M221.5 327v6M222.5 283v3M222.5 298v3M222.5 315v6M222.5 354v3M222.5 378v3M223.5 85v3M223.5 333v3M223.5 339v3M223.5 360v6M223.5 372v3M223.5 378v3M224.5 229v6M224.5 247v3M224.5 315v3M224.5 333v6M225.5 88v3M225.5 202v3M225.5 208v3M225.5 217v3M225.5 226v3M225.5 330v3M225.5 360v3M225.5 378v3M226.5 211v3M226.5 324v3M226.5 339v3M226.5 348v3M226.5 378v3M226.5 402v3M227.5 85v3M227.5 184v3M227.5 384v9M228.5 289v3M228.5 295v3M228.5 327v6M228.5 342v6M228.5 351v6M229.5 250v6M229.5 259v3M229.5 271v3M229.5 312v3M229.5 318v3M229.5 339v12M229.5 366v3M230.5 265v3M230.5 369v3M230.5 375v3M230.5 390v3M231.5 70v6M231.5 178v3M231.5 280v3M231.5 286v3M231.5 315v6M231.5 330v6M231.5 342v6M231.5 351v6M231.5 360v3M232.5 97v3M232.5 265v3M232.5 283v3M232.5 339v3M232.5 402v3M233.5 295v3M233.5 327v6M233.5 360v3M234.5 79v3M234.5 100v3M234.5 256v3M234.5 378v3M234.5 393v6M235.5 73v3M235.5 79v6M235.5 286v3M235.5 360v9M235.5 387v3M235.5 396v3M236.5 73v3M236.5 82v3M236.5 181v3M236.5 187v3M236.5 208v3M236.5 259v3M236.5 298v3M236.5 396v6M237.5 277v3M237.5 283v6M237.5 301v3M237.5 348v6M237.5 393v6M237.5 402v3M238.5 88v3M238.5 217v3M238.5 256v3M238.5 268v6M238.5 292v3M238.5 375v3M238.5 384v3M239.5 315v6M239.5 333v3M239.5 375v6M239.5 384v3M239.5 390v3M240.5 94v3M240.5 277v3M240.5 321v6M240.5 330v9M240.5 363v3M240.5 384v3M240.5 390v6M241.5 321v3M241.5 363v3M241.5 378v3M242.5 88v3M242.5 312v3M242.5 318v3M242.5 330v3M242.5 339v3M242.5 345v6M242.5 399v6M243.5 318v9M243.5 336v3M243.5 357v3M243.5 378v3M243.5 393v3M244.5 318v3M244.5 336v3M244.5 348v3M244.5 360v3M244.5 378v9M245.5 226v3M245.5 321v3M246.5 97v3M246.5 360v3M246.5 399v3M247.5 312v3M247.5 336v6M247.5 357v3M249.5 339v6M253.5 238v3M254.5 238v9M255.5 232v6M255.5 244v3M257.5 262v3M259.5 277v3M259.5 292v3M259.5 298v3M260.5 244v3M260.5 253v3M260.5 268v6M260.5 277v6M260.5 289v3M261.5 223v3M261.5 235v3M262.5 226v3M264.5 280v3M265.5 193v3M265.5 223v3M265.5 229v3M265.5 292v3M266.5 202v3M266.5 366v3M266.5 381v3M266.5 396v3M267.5 256v3M267.5 381v3M267.5 396v9M268.5 205v3M268.5 226v6M268.5 262v3M268.5 301v3M268.5 336v3M268.5 342v3M268.5 372v3M268.5 384v3M268.5 402v3M269.5 187v3M269.5 220v3M269.5 232v3M269.5 238v3M269.5 262v3M269.5 321v6M269.5 342v3M270.5 232v3M270.5 304v2M270.5 312v3M270.5 342v3M270.5 351v3M270.5 399v3M271.5 199v3M271.5 214v3M271.5 327v3M271.5 333v3M271.5 339v6M272.5 169v3M272.5 175v6M272.5 184v3M272.5 196v3M272.5 217v3M272.5 232v3M272.5 271v3M272.5 321v12M272.5 336v3M272.5 342v3M273.5 181v3M273.5 265v3M273.5 312v6M273.5 327v3M273.5 348v3M274.5 184v3M274.5 226v3M274.5 289v3M274.5 312v6M274.5 330v6M274.5 339v3M275.5 253v3M276.5 336v3M276.5 399v3M277.5 318v18M278.5 327v3M279.5 315v3M279.5 327v3M280.5 315v9M281.5 315v9M281.5 369v3M281.5 378v3M283.5 336v3M283.5 357v3M284.5 321v3M284.5 327v3M284.5 333v3M284.5 342v3M288.5 318v3M289.5 298v3M289.5 312v3M291.5 229v3M295.5 181v3M298.5 241v3M300.5 193v3M302.5 184v3M310.5 190v3M313.5 202v3M327.5 196v3M327.5 241v3M329.5 232v3M330.5 208v3M332.5 208v3M333.5 241v3M333.5 259v3M335.5 211v3M337.5 217v3M337.5 226v3M337.5 268v3M338.5 205v3M339.5 229v3M340.5 214v3M340.5 312v3M341.5 220v3M342.5 223v3M342.5 229v6M343.5 238v3M344.5 223v3M344.5 235v3M344.5 244v6"/>
<path stroke="#0fa" stroke-width="2" fill="none" d="M348 226v6M348 238v3M348 244v3M350 238v3M350 312v3M352 220v3M352 238v6M354 241v3M356 241v3M356 247v3M358 223v3M358 241v3M358 259v3M358 312v3M358 321v3M360 241v6M360 315v6M362 238v9M364 235v3M364 250v6M364 298v3M364 321v3M364 369v3M366 271v3M368 235v3M368 301v3M370 247v3M370 265v3M370 304v2M370 390v3M370 396v3M372 241v3M372 247v3M372 262v3M372 318v6M372 387v3M374 241v9M374 277v3M374 283v3M374 301v3M374 381v6M376 253v3M376 259v3M376 289v3M376 298v3M376 318v3M378 253v3M378 268v6M378 277v6M378 289v3M378 298v8M378 321v3M380 256v6M380 274v6M380 301v3M380 396v3M382 259v3M382 268v6M382 277v3M382 321v3M382 375v3M384 247v6M384 271v3M384 295v3M384 304v2M384 318v3M384 378v3M384 387v6M386 244v9M386 256v9M386 378v9M386 396v6M388 247v3M388 259v3M388 265v3M388 321v3M388 402v3M390 250v6M390 324v3M390 381v12M390 396v9M392 250v3M392 256v3M392 321v3M392 396v3M394 378v3M394 396v3M396 298v3M396 312v6M396 378v3M398 384v3M400 324v3M400 384v9M400 402v3M402 324v3M404 381v3M404 387v3M404 402v3M406 321v3M406 390v3M406 402v3M408 381v3M408 396v3M408 402v3M412 321v3M412 384v3M412 396v3M412 402v3M414 375v3M414 384v3M414 393v3M414 399v6M416 321v3M416 390v9M416 402v3M418 318v6M418 381v3M420 321v3M420 378v3M420 387v3M420 402v3M422 321v3M422 381v12M422 399v6M424 318v3M424 375v3M426 318v3M426 381v3M426 396v6M428 375v3M428 381v3M428 387v3M430 378v3M430 384v6M430 393v3M430 402v3M432 324v3M434 363v3M436 321v3M436 372v3M438 318v3M438 372v3M438 390v3M440 390v12M442 384v6M442 393v3M442 399v6M444 324v3M444 378v3M446 378v3M450 369v3M450 390v3M454 384v3M458 321v3M460 318v3M460 324v3M460 378v3M460 384v3M462 321v6M462 393v9M464 318v3M464 372v3M466 375v6M472 321v3M474 381v3M476 381v3M480 378v6M482 372v3M482 381v3M484 393v3M486 375v3M486 384v3M488 378v3M488 390v3M490 321v3M490 375v3M490 390v6M490 402v3M492 321v3M492 381v3M494 321v3M498 381v6M498 390v3M500 321v3M500 381v3M500 387v3M502 372v3M504 384v6M504 399v3M506 381v3M506 402v3M512 324v3M512 381v6M514 378v9M514 396v3M516 387v3M518 324v3M518 387v3M520 375v3M522 375v3M524 384v3M532 375v12M534 318v3M534 372v3M534 387v3M536 318v3M540 378v3M542 381v3M544 321v3M546 375v3M546 387v3M548 321v3M550 318v3M550 378v3M550 387v3M550 402v3M552 375v3M556 321v3M558 375v6M560 321v3M562 321v3M564 378v6M566 321v3M566 372v3M566 381v3M568 378v3M570 372v6M570 381v3M570 387v3M572 375v6M572 402v3M574 321v3M576 402v3M578 378v3M580 372v3M580 378v3M582 381v3M582 402v3M584 324v3M584 375v6M586 372v3M588 384v3M590 384v3M592 372v3M594 372v15M596 375v6M598 372v3M598 384v3M600 372v6M602 321v3M604 327v3M604 372v3M606 318v3M606 369v3M610 375v3M610 402v3M612 318v3M616 378v3M618 375v3M618 381v3M620 321v3M620 375v3M620 402v3M622 378v3M624 378v3M626 324v3M626 396v6M628 375v3M632 375v3M638 366v27M640 366v27M642 366v27M376 428v6M406 428v6M410 428v6M418 428v6M426 428v6M428 428v6M430 428v6M436 428v6M438 428v6M440 428v6M442 428v6M446 428v6M448 428v6M450 428v6M460 428v6M462 428v6M464 428v6M468 434v10M472 428v6M476 428v6M490 434v10M500 434v10M502 434v10M508 434v10M510 434v10M516 434v10M530 434v10M536 434v10M538 434v10M540 434v10M548 434v10M550 434v10M552 434v10M556 434v10M566 434v10M570 434v10M572 434v10M576 434v10M578 434v10M580 434v10M582 434v10M586 434v10M594 434v10M596 434v10M602 434v10M604 434v10M606 434v10M608 434v10M610 434v10M612 434v10M616 434v10M620 434v10M626 434v10M634 434v10M636 434v10M638 434v10M640 434v10"/>
<path stroke="#00ff92" stroke-width="1" fill="none" d="M152.5 304v2M153.5 324v3M153.5 330v3M153.5 339v3M154.5 301v5M154.5 345v3M155.5 324v3M155.5 342v6M156.5 295v3M156.5 304v2M156.5 342v3M157.5 55v3M157.5 181v3M157.5 187v3M157.5 223v3M157.5 250v3M157.5 280v3M157.5 312v6M157.5 324v3M157.5 339v3M158.5 166v3M158.5 175v3M158.5 220v6M158.5 244v3M158.5 280v3M158.5 292v3M158.5 304v2M158.5 327v3M158.5 336v6M159.5 199v3M159.5 217v3M159.5 232v3M159.5 277v3M159.5 292v3M159.5 312v6M159.5 321v9M159.5 342v3M160.5 217v3M160.5 226v3M160.5 271v3M160.5 280v3M160.5 292v6M160.5 312v12M160.5 342v3M161.5 178v3M161.5 208v3M161.5 238v3M161.5 336v6M161.5 348v3M161.5 387v3M162.5 220v6M162.5 241v3M162.5 250v3M162.5 312v6M162.5 327v3M163.5 67v3M163.5 190v3M163.5 211v3M163.5 330v3M163.5 342v3M164.5 67v3M164.5 73v3M164.5 193v9M164.5 217v3M164.5 223v3M164.5 318v3M165.5 70v6M165.5 136v3M165.5 211v6M165.5 244v3M167.5 79v3M169.5 64v3M169.5 73v3M170.5 160v3M171.5 327v3M172.5 324v6M172.5 345v3M172.5 375v3M172.5 396v3M173.5 166v3M173.5 351v3M173.5 360v3M173.5 399v3M174.5 178v3M174.5 187v3M174.5 196v3M174.5 226v3M174.5 235v3M174.5 312v9M174.5 330v3M174.5 375v3M174.5 381v3M175.5 229v3M175.5 238v3M175.5 286v3M175.5 292v3M175.5 301v3M176.5 193v3M176.5 199v3M176.5 208v3M176.5 217v3M176.5 265v3M176.5 318v3M176.5 327v6M176.5 339v3M176.5 357v3M176.5 384v6M176.5 399v3M177.5 187v3M177.5 241v3M177.5 247v3M178.5 244v3M178.5 312v3M178.5 318v9M178.5 354v3M178.5 390v3M179.5 160v3M179.5 211v3M179.5 241v3M179.5 247v3M179.5 360v3M180.5 208v3M180.5 232v3M180.5 238v3M180.5 295v3M180.5 393v6M181.5 229v3M181.5 235v3M181.5 244v3M181.5 324v3M181.5 345v3M181.5 360v3M182.5 205v6M182.5 217v3M182.5 238v3M182.5 390v3M182.5 396v3M183.5 172v3M183.5 181v3M183.5 193v3M183.5 262v3M183.5 271v3M183.5 280v6M183.5 318v3M183.5 324v3M183.5 390v3M184.5 187v3M184.5 229v3M184.5 235v3M184.5 244v3M184.5 298v3M184.5 304v2M184.5 393v3M185.5 181v3M185.5 202v3M185.5 247v6M185.5 330v3M185.5 384v3M185.5 390v3M185.5 399v3M186.5 184v3M186.5 190v3M186.5 232v3M186.5 250v3M186.5 312v3M186.5 327v3M186.5 333v3M186.5 339v3M186.5 357v3M186.5 372v3M187.5 178v3M187.5 214v3M187.5 312v3M187.5 333v3M187.5 381v6M187.5 402v3M188.5 172v3M188.5 199v3M188.5 217v3M188.5 238v6M188.5 345v3M189.5 214v3M189.5 220v3M189.5 229v3M189.5 238v3M189.5 318v3M189.5 345v3M190.5 172v3M190.5 286v6M190.5 298v3M190.5 390v3M190.5 402v3M191.5 223v12M191.5 238v3M191.5 244v3M191.5 265v3M191.5 283v3M191.5 324v3M192.5 190v3M192.5 220v3M192.5 226v3M192.5 232v6M192.5 339v3M192.5 366v6M192.5 375v3M192.5 387v6M193.5 220v3M193.5 235v6M193.5 247v3M193.5 321v3M193.5 339v6M193.5 360v3M193.5 390v6M194.5 193v3M194.5 202v3M194.5 238v3M194.5 244v3M194.5 265v3M194.5 271v3M194.5 289v9M194.5 312v6M194.5 324v3M194.5 345v3M194.5 357v3M194.5 399v3M195.5 199v3M195.5 205v3M195.5 226v3M195.5 241v3M195.5 268v3M195.5 312v3M195.5 327v3M195.5 372v9M196.5 226v6M196.5 271v3M196.5 283v3M196.5 292v3M197.5 196v3M197.5 208v6M197.5 226v6M197.5 244v3M197.5 250v3M198.5 184v6M198.5 196v3M198.5 217v6M198.5 253v3M198.5 262v3M199.5 247v6M200.5 223v3M200.5 301v5M202.5 220v3M203.5 244v9M203.5 286v3M205.5 232v3M205.5 271v3M205.5 336v6M205.5 348v3M206.5 244v3M206.5 295v3M206.5 318v6M206.5 330v9M206.5 342v3M207.5 193v3M207.5 232v3M207.5 241v6M207.5 253v3M207.5 274v3M207.5 280v3M207.5 289v3M207.5 301v3M207.5 318v3M207.5 333v3M207.5 351v3M207.5 360v3M208.5 342v9M208.5 375v3M208.5 381v6M208.5 399v3M209.5 196v3M209.5 280v3M209.5 372v3M209.5 402v3M211.5 235v9M211.5 247v3M211.5 283v3M211.5 295v6M211.5 312v3M211.5 336v3M211.5 354v3M211.5 378v3M212.5 333v6M213.5 244v3M213.5 274v6M214.5 232v3M215.5 235v3M216.5 214v3M216.5 229v3M218.5 238v3M218.5 256v3M219.5 166v3M219.5 232v3M220.5 217v3M220.5 357v3M220.5 378v6M220.5 393v3M221.5 190v3M221.5 232v3M221.5 241v3M222.5 229v6M222.5 271v6M222.5 312v3M222.5 336v3M222.5 351v3M222.5 390v9M223.5 220v3M223.5 268v3M224.5 199v6M224.5 208v3M224.5 217v3M224.5 223v3M224.5 304v2M224.5 369v6M224.5 396v3M225.5 205v3M225.5 211v3M225.5 357v3M225.5 369v3M225.5 375v3M226.5 196v3M226.5 217v3M226.5 262v3M226.5 268v3M226.5 280v3M226.5 289v3M226.5 333v6M226.5 342v3M226.5 357v9M226.5 369v3M226.5 375v3M227.5 315v3M227.5 324v3M227.5 336v6M227.5 357v9M227.5 369v3M227.5 378v3M227.5 396v3M228.5 85v3M228.5 100v3M228.5 253v3M228.5 336v3M228.5 348v3M228.5 357v3M228.5 372v3M228.5 378v3M228.5 384v6M229.5 79v6M229.5 262v3M229.5 274v3M229.5 301v5M230.5 85v3M230.5 286v3M230.5 301v5M230.5 378v6M230.5 387v3M231.5 88v3M231.5 283v3M231.5 357v3M231.5 390v3M232.5 85v6M232.5 94v3M232.5 268v3M232.5 277v6M232.5 304v2M232.5 384v6M233.5 100v3M233.5 345v3M233.5 372v3M233.5 384v3M233.5 399v6M234.5 88v3M234.5 241v3M234.5 304v2M234.5 357v3M234.5 381v9M235.5 372v6M235.5 384v3M235.5 390v3M235.5 399v6M236.5 205v3M236.5 220v3M236.5 304v2M236.5 360v3M236.5 384v3M236.5 390v6M236.5 402v3M237.5 88v3M237.5 214v3M237.5 223v3M237.5 259v3M237.5 265v3M237.5 369v3M237.5 390v3M237.5 399v3M238.5 274v3M238.5 304v2M238.5 348v3M238.5 363v3M238.5 378v6M238.5 387v3M238.5 396v3M239.5 76v9M239.5 88v3M239.5 256v3M239.5 265v3M239.5 292v3M239.5 342v12M240.5 73v3M240.5 79v3M240.5 271v3M240.5 318v3M240.5 327v3M240.5 351v3M240.5 357v3M240.5 366v3M240.5 381v3M241.5 73v3M241.5 88v3M241.5 277v3M241.5 298v3M241.5 318v3M241.5 360v3M241.5 375v3M241.5 387v6M241.5 396v3M242.5 82v3M242.5 247v3M242.5 315v3M242.5 357v3M242.5 396v3M243.5 175v3M243.5 202v3M243.5 268v3M243.5 327v3M243.5 345v12M243.5 381v3M243.5 396v3M244.5 292v3M244.5 298v3M244.5 315v3M244.5 327v3M244.5 333v3M244.5 351v3M244.5 369v3M244.5 393v3M245.5 333v6M245.5 354v3M245.5 393v3M245.5 399v3M246.5 381v12M247.5 333v3M247.5 342v6M249.5 345v3M253.5 247v3M254.5 283v3M255.5 265v3M255.5 274v3M255.5 280v3M256.5 283v3M256.5 295v3M256.5 301v3M257.5 253v3M257.5 286v3M258.5 250v3M258.5 292v3M259.5 244v3M259.5 295v3M259.5 301v3M260.5 265v3M260.5 283v3M260.5 295v3M261.5 214v6M261.5 229v3M261.5 259v3M261.5 274v3M262.5 220v3M262.5 277v3M263.5 208v3M263.5 217v3M263.5 232v6M263.5 301v3M264.5 235v9M264.5 292v6M264.5 304v2M265.5 235v3M265.5 354v3M265.5 393v3M266.5 196v3M266.5 223v3M266.5 271v3M266.5 280v3M266.5 304v2M266.5 312v3M266.5 321v6M266.5 336v3M266.5 342v3M266.5 369v3M266.5 384v3M267.5 235v3M267.5 286v3M267.5 298v3M267.5 321v3M267.5 333v3M267.5 378v3M267.5 384v3M267.5 393v3M268.5 223v3M268.5 265v3M268.5 283v3M268.5 333v3M268.5 354v3M268.5 381v3M268.5 390v6M269.5 274v3M269.5 318v3M269.5 327v3M269.5 345v3M270.5 211v3M270.5 220v3M270.5 247v3M270.5 256v3M270.5 265v3M270.5 354v3M270.5 363v9M270.5 402v3M271.5 208v3M271.5 330v3M271.5 390v3M272.5 193v3M272.5 199v3M272.5 223v6M272.5 312v3M272.5 333v3M272.5 345v3M273.5 250v3M273.5 262v3M273.5 351v3M273.5 375v3M273.5 393v3M274.5 205v3M274.5 217v9M274.5 238v3M274.5 244v3M274.5 384v3M275.5 181v3M275.5 202v3M275.5 232v3M275.5 271v6M275.5 345v3M277.5 292v3M277.5 312v6M278.5 330v3M279.5 312v3M279.5 342v3M280.5 298v3M280.5 333v6M280.5 348v3M281.5 351v3M282.5 205v3M283.5 333v3M283.5 339v9M284.5 318v3M284.5 324v3M284.5 384v3M284.5 393v3M285.5 390v3M285.5 402v3M287.5 217v3M287.5 330v6M288.5 321v3M288.5 336v3M289.5 211v3M289.5 235v3M289.5 244v3M289.5 253v3M289.5 327v6M290.5 247v6M290.5 318v3M290.5 324v3M292.5 199v3M293.5 193v3M293.5 238v3M303.5 187v3M303.5 211v3M309.5 199v3M312.5 199v3M314.5 199v3M314.5 223v3M317.5 208v3M317.5 217v3M318.5 217v3M320.5 187v3M321.5 190v3M322.5 211v3M323.5 241v3M325.5 208v3M327.5 262v3M331.5 247v3M332.5 217v3M332.5 223v3M332.5 232v3M333.5 211v3M334.5 250v3M335.5 196v3M335.5 217v3M335.5 235v3M338.5 220v6M339.5 238v3M339.5 250v3M340.5 226v3M340.5 315v9M341.5 223v3M341.5 232v6M342.5 238v3M342.5 259v3M343.5 220v3M343.5 235v3M343.5 250v3M343.5 321v3M344.5 217v3M344.5 232v3M344.5 241v3M228.5 428v6M230.5 428v6M237.5 428v6M243.5 428v6"/>
<path stroke="#00ff92" stroke-width="2" fill="none" d="M346 235v3M346 315v3M348 235v3M348 247v6M348 318v3M350 235v3M350 247v3M350 259v3M352 244v6M352 321v3M354 232v9M354 247v3M354 259v6M354 277v3M354 375v3M354 387v3M356 235v3M356 244v3M356 280v3M356 402v3M358 265v3M358 271v3M358 315v6M360 253v3M360 298v6M360 321v3M360 381v3M362 235v3M362 265v3M362 277v3M362 387v6M364 244v3M364 256v6M364 271v3M364 375v3M364 384v6M366 247v3M366 268v3M366 298v3M366 304v2M368 247v3M368 253v3M368 259v3M368 292v6M368 304v2M368 318v3M370 250v6M370 280v3M370 289v3M370 295v3M370 301v3M370 399v3M372 250v3M372 274v3M372 280v3M372 292v3M372 298v3M372 324v3M372 399v6M374 253v9M374 280v3M374 286v6M374 304v2M374 393v9M376 247v6M376 262v9M376 274v6M376 283v6M376 292v6M376 304v2M376 321v3M376 381v3M376 393v6M378 247v6M378 262v3M378 274v3M378 283v6M378 295v3M378 318v3M378 396v3M380 250v6M380 262v3M380 268v6M380 280v3M380 304v2M380 312v3M380 318v3M380 387v9M380 399v3M382 250v9M382 262v3M382 390v3M382 402v3M384 253v3M384 259v3M384 381v3M384 402v3M386 253v3M386 268v3M386 321v3M386 387v6M388 250v3M388 381v3M388 396v3M390 378v3M392 253v3M392 324v3M392 372v3M392 384v6M392 393v3M392 399v3M394 321v3M394 384v3M394 390v3M396 381v3M398 378v3M398 387v3M398 393v3M398 402v3M402 387v3M404 375v3M404 390v3M406 372v3M408 366v3M408 378v3M408 399v3M410 387v6M410 399v3M412 324v3M412 378v6M412 387v6M414 324v3M414 372v3M416 324v3M418 378v3M420 366v3M422 375v3M422 396v3M424 390v3M430 381v3M430 396v3M436 363v3M438 321v6M438 369v3M438 375v9M440 372v3M440 402v3M442 324v3M446 318v3M448 324v3M450 393v3M452 381v3M454 381v3M456 372v3M462 378v6M462 390v3M466 318v3M468 381v9M472 324v6M472 372v3M474 378v3M476 375v6M476 384v3M484 372v9M486 372v3M486 378v3M488 393v3M490 378v3M492 375v3M494 381v3M496 372v6M498 375v3M498 387v3M500 372v9M502 378v3M504 321v3M504 375v9M508 384v6M510 318v6M512 372v3M512 378v3M512 387v3M516 402v3M518 381v3M522 321v3M522 369v6M524 324v3M524 378v3M524 387v3M528 378v3M530 321v3M530 390v3M532 321v3M534 375v9M536 321v3M536 375v6M538 321v3M538 381v3M540 375v3M542 387v3M544 381v3M546 378v3M546 384v3M548 324v3M548 378v3M550 375v3M550 381v6M552 372v3M554 378v3M554 387v3M556 366v3M556 378v3M558 372v3M560 375v9M562 381v3M564 366v6M566 375v3M568 321v3M572 369v3M576 324v3M576 372v3M578 321v3M578 375v3M582 327v3M582 372v6M586 366v6M588 321v3M588 375v3M590 366v3M594 369v3M596 372v3M598 381v3M600 381v3M604 324v3M604 369v3M608 372v3M608 378v3M612 369v3M614 387v3M616 375v3M618 324v3M622 369v3M622 381v3M624 324v3M624 366v6M626 378v3M628 369v3M630 324v3M630 372v6M630 381v6M632 321v3M632 372v3M634 369v3M636 369v3M368 428v6M378 428v6M380 428v6M386 428v6M392 428v6M398 428v6M400 428v6M408 428v6M412 428v16M414 428v16M420 428v6M422 428v6M424 428v6M428 434v10M430 434v10M432 428v6M434 428v6M436 434v10M438 434v10M440 434v10M444 428v6M448 434v10M450 434v10M452 434v10M454 434v10M456 434v10M458 434v10M464 434v10M466 434v10M470 434v10M472 434v10M474 434v10M478 434v10M480 434v10M482 434v10M484 434v10M486 434v10M488 434v10M492 434v10M494 434v10M496 434v10M498 434v10M506 434v10M512 434v10M514 434v10M518 434v10M522 434v10M524 434v10M526 434v10M528 434v10M532 434v10M534 434v10M542 434v10M544 434v10M546 434v10M554 434v10M558 434v10M560 434v10M562 434v10M564 434v10M568 434v10M574 434v10M584 434v10M588 434v10M590 434v10M592 434v10M598 434v10M600 434v10M614 434v10M622 434v10M624 434v10M642 434v10"/>
<path stroke="#00ff79" stroke-width="1" fill="none" d="M152.5 312v9M152.5 336v3M153.5 327v3M153.5 342v3M154.5 336v3M154.5 348v9M155.5 318v3M155.5 336v6M156.5 301v3M156.5 318v3M156.5 345v3M157.5 169v3M157.5 304v2M157.5 345v3M158.5 169v3M158.5 238v6M158.5 271v3M158.5 283v3M158.5 312v3M158.5 330v6M158.5 342v3M159.5 244v3M159.5 256v3M159.5 280v6M159.5 304v2M159.5 318v3M159.5 345v3M159.5 399v3M160.5 61v3M160.5 148v3M160.5 157v3M160.5 241v9M160.5 256v3M160.5 298v3M161.5 241v3M161.5 259v3M161.5 277v3M161.5 301v3M161.5 318v3M161.5 327v3M161.5 369v6M161.5 378v3M161.5 393v3M162.5 244v3M162.5 324v3M162.5 336v3M163.5 160v3M163.5 175v3M163.5 187v3M163.5 202v6M163.5 339v3M164.5 235v3M164.5 301v3M164.5 336v3M165.5 145v3M165.5 178v3M165.5 202v3M165.5 217v3M165.5 280v3M165.5 292v3M166.5 70v3M166.5 76v3M166.5 148v3M166.5 163v3M167.5 73v3M168.5 73v3M169.5 67v3M171.5 121v3M171.5 127v3M171.5 148v3M171.5 154v3M171.5 396v6M172.5 154v3M172.5 315v6M172.5 336v6M172.5 360v3M172.5 381v3M172.5 390v3M173.5 196v3M173.5 345v6M174.5 247v6M174.5 324v6M174.5 378v3M175.5 166v3M175.5 265v6M176.5 202v6M176.5 211v3M176.5 247v3M176.5 262v3M176.5 271v3M177.5 232v3M177.5 384v6M178.5 214v6M178.5 327v3M178.5 351v3M179.5 223v3M179.5 232v6M179.5 301v3M179.5 348v3M180.5 235v3M180.5 399v6M181.5 223v6M181.5 232v3M181.5 241v3M181.5 286v3M181.5 295v3M181.5 339v3M181.5 351v3M182.5 214v3M182.5 226v3M182.5 247v3M182.5 253v6M182.5 265v6M182.5 312v3M182.5 387v3M183.5 196v3M183.5 214v3M183.5 235v3M183.5 241v3M183.5 256v3M183.5 298v3M184.5 277v3M184.5 390v3M184.5 402v3M185.5 196v3M185.5 220v3M185.5 226v3M185.5 312v6M185.5 381v3M185.5 387v3M185.5 396v3M186.5 208v3M186.5 214v3M186.5 286v6M186.5 315v3M186.5 321v6M186.5 330v3M186.5 336v3M186.5 363v3M187.5 172v3M187.5 220v3M187.5 238v6M187.5 292v6M187.5 396v6M188.5 223v3M188.5 244v6M188.5 268v3M188.5 274v3M188.5 301v3M189.5 211v3M189.5 247v3M189.5 312v6M190.5 181v3M190.5 277v3M191.5 235v3M191.5 259v3M191.5 274v3M191.5 280v3M192.5 214v3M192.5 223v3M192.5 271v3M192.5 280v3M192.5 342v3M192.5 351v3M192.5 378v9M192.5 393v3M193.5 199v3M193.5 211v3M193.5 223v3M193.5 286v3M193.5 312v3M193.5 324v3M193.5 330v3M193.5 363v3M193.5 372v9M193.5 387v3M194.5 190v3M194.5 232v6M194.5 259v3M194.5 327v3M194.5 363v3M194.5 396v3M195.5 208v3M195.5 223v3M195.5 235v6M195.5 244v3M195.5 315v3M195.5 360v9M196.5 223v3M196.5 256v3M196.5 280v3M196.5 304v2M197.5 220v6M197.5 262v6M198.5 229v3M198.5 235v3M198.5 247v3M198.5 265v3M198.5 271v6M199.5 256v3M199.5 268v3M200.5 280v3M200.5 295v3M201.5 235v3M201.5 241v3M201.5 247v3M201.5 262v3M201.5 301v3M202.5 238v3M204.5 256v3M204.5 318v3M204.5 324v3M205.5 327v6M206.5 229v3M206.5 235v3M206.5 268v3M206.5 292v3M206.5 304v2M206.5 324v6M206.5 345v3M207.5 211v3M207.5 235v6M207.5 259v3M207.5 295v3M207.5 304v2M207.5 315v3M207.5 321v3M207.5 354v6M208.5 235v21M208.5 259v3M208.5 274v3M208.5 312v9M208.5 336v3M208.5 351v6M208.5 360v3M208.5 372v3M208.5 378v3M208.5 393v6M209.5 232v3M209.5 339v6M209.5 360v9M209.5 393v3M210.5 250v3M210.5 348v6M210.5 366v3M210.5 372v3M210.5 387v3M211.5 253v3M211.5 268v3M211.5 277v3M211.5 304v2M211.5 330v6M211.5 345v6M211.5 360v3M211.5 387v9M211.5 402v3M212.5 256v3M212.5 312v6M212.5 324v3M212.5 330v3M213.5 229v3M213.5 241v3M213.5 247v3M213.5 289v9M213.5 321v3M214.5 286v3M215.5 241v3M216.5 235v3M216.5 289v3M216.5 295v3M216.5 304v2M217.5 241v3M218.5 241v3M218.5 247v3M219.5 241v3M219.5 262v3M219.5 399v6M220.5 220v3M220.5 321v9M220.5 333v3M220.5 360v3M220.5 375v3M220.5 384v3M221.5 265v3M221.5 318v3M221.5 348v9M221.5 369v3M222.5 304v2M222.5 330v6M222.5 339v3M222.5 357v3M222.5 363v3M222.5 387v3M223.5 244v3M223.5 330v3M223.5 396v3M224.5 190v3M224.5 238v3M224.5 274v3M224.5 283v3M224.5 330v3M224.5 339v3M224.5 348v3M224.5 378v3M224.5 387v3M224.5 399v6M225.5 190v3M225.5 333v6M225.5 345v3M225.5 363v3M226.5 202v3M226.5 208v3M226.5 214v3M226.5 226v3M226.5 256v6M226.5 312v6M227.5 190v3M227.5 214v3M227.5 280v3M227.5 333v3M227.5 342v3M227.5 354v3M227.5 366v3M227.5 393v3M228.5 244v3M228.5 280v3M228.5 286v3M228.5 312v3M228.5 333v3M228.5 375v3M228.5 381v3M229.5 85v3M229.5 265v3M229.5 280v3M229.5 298v3M229.5 315v3M229.5 351v6M229.5 372v3M229.5 378v6M229.5 390v3M229.5 399v3M230.5 82v3M230.5 268v3M230.5 274v3M230.5 283v3M230.5 289v3M230.5 351v3M230.5 357v3M230.5 393v9M231.5 85v3M231.5 220v3M231.5 235v6M231.5 256v3M231.5 265v6M231.5 321v3M232.5 256v6M232.5 348v3M232.5 390v12M233.5 178v6M233.5 190v3M233.5 229v3M233.5 238v3M233.5 250v3M233.5 348v3M233.5 363v6M233.5 378v6M233.5 396v3M234.5 250v3M234.5 369v3M234.5 375v3M235.5 178v3M235.5 238v3M235.5 244v3M235.5 369v3M235.5 381v3M235.5 393v3M236.5 190v6M236.5 226v3M236.5 247v3M236.5 354v3M236.5 363v3M236.5 369v3M236.5 375v9M237.5 196v3M237.5 202v3M237.5 211v3M237.5 232v3M237.5 295v3M237.5 304v2M237.5 357v3M237.5 387v3M238.5 208v6M238.5 226v3M238.5 277v3M238.5 298v6M238.5 360v3M238.5 369v6M238.5 390v3M238.5 399v3M239.5 304v2M239.5 339v3M239.5 381v3M239.5 396v3M240.5 187v3M240.5 268v3M240.5 369v3M240.5 378v3M241.5 351v6M241.5 366v3M241.5 399v3M242.5 193v3M242.5 214v3M242.5 229v3M242.5 244v3M242.5 250v3M242.5 256v3M242.5 277v3M242.5 283v3M242.5 369v6M242.5 384v3M242.5 393v3M243.5 97v3M243.5 196v3M243.5 214v3M243.5 312v3M243.5 330v6M243.5 339v6M243.5 360v3M243.5 366v9M243.5 384v9M243.5 399v3M244.5 312v3M244.5 321v6M244.5 330v3M244.5 339v3M244.5 345v3M244.5 357v3M244.5 372v3M244.5 396v9M245.5 312v3M245.5 342v6M245.5 360v3M245.5 402v3M246.5 88v3M246.5 268v3M246.5 330v3M246.5 357v3M246.5 363v3M246.5 372v3M246.5 393v3M247.5 324v3M247.5 360v3M247.5 366v3M249.5 184v3M249.5 232v3M249.5 250v3M249.5 348v3M250.5 247v3M250.5 277v3M250.5 286v3M250.5 295v3M251.5 238v3M252.5 298v3M253.5 232v3M254.5 229v3M254.5 274v3M254.5 292v3M254.5 301v3M255.5 271v3M256.5 259v3M257.5 259v3M257.5 268v3M257.5 274v3M258.5 247v3M258.5 283v3M258.5 304v2M259.5 286v3M259.5 304v2M260.5 262v3M261.5 226v3M261.5 241v9M261.5 262v3M261.5 280v6M261.5 289v3M261.5 301v5M262.5 229v9M262.5 298v3M263.5 268v3M263.5 393v3M264.5 265v3M264.5 324v3M264.5 348v3M264.5 357v3M264.5 378v6M265.5 312v3M265.5 330v3M265.5 384v3M265.5 396v6M266.5 208v9M266.5 238v3M266.5 259v3M266.5 283v9M266.5 315v3M266.5 333v3M266.5 339v3M266.5 345v9M266.5 357v3M266.5 363v3M266.5 378v3M266.5 387v3M266.5 393v3M267.5 262v3M267.5 277v6M267.5 301v3M267.5 324v9M267.5 336v6M267.5 375v3M268.5 268v3M268.5 315v3M268.5 324v6M268.5 357v3M268.5 387v3M269.5 259v3M269.5 348v3M269.5 390v3M270.5 241v3M270.5 345v3M270.5 357v3M270.5 375v6M270.5 393v3M271.5 226v3M271.5 262v6M271.5 375v3M272.5 378v3M273.5 256v3M273.5 354v9M273.5 372v3M273.5 378v9M273.5 396v3M274.5 181v3M274.5 187v3M274.5 214v3M274.5 235v3M274.5 247v3M274.5 265v3M274.5 292v3M274.5 342v3M274.5 387v9M274.5 399v3M275.5 187v6M275.5 211v3M275.5 226v6M275.5 235v3M275.5 259v3M275.5 265v3M276.5 289v3M276.5 301v5M276.5 345v3M276.5 390v3M276.5 396v3M277.5 253v3M277.5 265v3M277.5 283v3M277.5 342v3M277.5 396v3M278.5 274v3M278.5 339v3M278.5 399v3M279.5 265v3M279.5 399v3M280.5 289v3M280.5 351v3M280.5 357v3M280.5 366v3M280.5 393v6M280.5 402v3M281.5 292v3M281.5 298v3M281.5 312v3M281.5 324v3M281.5 330v6M281.5 381v6M281.5 393v3M282.5 348v3M282.5 357v3M282.5 402v3M283.5 193v3M283.5 250v3M283.5 321v3M283.5 387v3M284.5 336v6M284.5 357v3M284.5 372v6M284.5 387v6M284.5 396v3M285.5 280v3M285.5 295v3M285.5 336v3M285.5 393v3M286.5 199v3M286.5 211v3M286.5 289v3M286.5 321v3M286.5 333v15M286.5 393v3M286.5 399v3M287.5 238v3M287.5 283v3M287.5 312v6M287.5 321v9M287.5 336v3M288.5 274v6M288.5 315v3M288.5 333v3M289.5 232v3M289.5 324v3M289.5 339v6M289.5 348v3M290.5 238v9M290.5 289v3M290.5 321v3M290.5 396v6M291.5 205v3M291.5 217v3M291.5 223v3M291.5 232v3M291.5 250v9M293.5 190v3M294.5 208v3M298.5 232v3M301.5 193v3M303.5 193v3M303.5 205v3M307.5 232v3M310.5 226v3M311.5 211v3M314.5 217v3M316.5 241v3M318.5 223v3M320.5 223v3M321.5 217v3M323.5 232v3M325.5 220v3M325.5 235v3M325.5 247v3M327.5 259v3M327.5 268v3M328.5 304v2M329.5 205v3M329.5 241v3M332.5 202v3M332.5 211v6M332.5 235v3M332.5 244v3M332.5 259v3M332.5 265v12M333.5 232v6M334.5 247v3M335.5 199v3M335.5 208v3M335.5 223v3M335.5 244v3M336.5 208v3M336.5 292v3M337.5 223v3M337.5 253v3M337.5 262v3M337.5 277v3M337.5 289v3M337.5 295v3M338.5 217v3M338.5 226v3M338.5 298v3M339.5 214v15M339.5 235v3M339.5 247v3M339.5 265v3M339.5 280v3M340.5 223v3M340.5 250v3M340.5 271v3M340.5 277v3M340.5 295v3M340.5 324v3M341.5 217v3M341.5 226v3M341.5 253v3M341.5 312v3M342.5 235v3M342.5 256v3M343.5 229v3M343.5 241v3M343.5 268v3M343.5 324v6M343.5 369v9M343.5 399v3M344.5 253v3M182.5 428v6M218.5 428v6M219.5 428v6M225.5 428v6M226.5 428v6M227.5 428v6M229.5 428v6M241.5 428v6M244.5 428v6M248.5 428v6"/>
<path stroke="#00ff79" stroke-width="2" fill="none" d="M146 70v153M146 247v45M148 70v153M148 247v45M150 70v153M150 247v45M346 232v3M346 244v3M346 292v3M346 318v6M346 384v3M348 241v3M348 253v3M348 312v6M348 321v3M350 253v3M350 265v3M350 274v3M350 321v3M350 372v3M350 396v3M352 235v3M352 253v3M352 277v6M352 289v3M352 301v3M352 327v3M352 390v3M354 244v3M354 250v9M354 265v3M354 274v3M354 321v3M354 369v3M354 384v3M354 393v6M356 250v3M356 265v6M356 298v6M356 318v6M358 235v6M358 244v12M358 262v3M358 268v3M358 274v9M358 304v2M360 247v6M360 271v3M360 280v3M360 304v2M360 378v3M362 247v6M362 268v6M362 292v14M362 327v3M362 381v6M364 247v3M364 265v6M364 286v3M364 295v3M364 378v6M366 259v3M366 280v3M366 289v3M366 295v3M366 301v3M366 372v3M366 387v3M368 250v3M368 256v3M368 262v6M368 271v9M368 321v3M368 402v3M370 256v6M370 268v3M370 274v3M370 292v3M370 321v6M370 384v6M372 265v3M372 271v3M372 295v3M372 304v2M372 327v3M372 366v3M372 390v3M372 396v3M374 250v3M374 292v3M374 375v6M374 387v6M376 244v3M376 301v3M376 399v3M378 256v3M378 265v3M378 381v3M378 387v6M380 241v3M380 283v18M380 315v3M380 384v3M380 402v3M382 381v3M382 393v9M384 321v3M384 372v3M384 384v3M384 399v3M386 324v3M388 256v3M388 378v3M388 384v9M388 399v3M390 375v3M392 327v3M392 369v3M392 381v3M394 375v3M394 381v3M396 324v3M396 375v3M396 384v9M396 399v3M398 324v3M398 375v3M398 399v3M402 375v3M402 384v3M404 321v6M404 393v3M406 375v3M406 393v3M408 375v3M408 387v3M410 375v9M410 396v3M414 387v6M414 396v3M416 327v3M416 381v3M416 399v3M420 369v6M422 324v3M422 393v3M424 372v3M424 393v3M426 321v6M428 324v3M430 324v3M430 399v3M432 381v3M434 324v3M436 369v3M438 327v3M440 321v3M442 369v3M442 390v3M444 372v3M446 324v3M448 372v3M450 321v3M452 324v3M452 369v3M452 375v6M454 324v3M454 372v3M456 321v3M456 369v3M462 375v3M464 321v3M464 369v3M466 372v3M470 372v6M472 369v3M474 375v3M476 324v3M478 375v6M480 321v3M482 369v3M484 324v3M486 318v3M488 369v9M490 324v3M492 372v3M494 369v6M496 324v3M496 369v3M498 372v3M502 324v3M506 369v3M508 321v3M508 372v3M510 372v3M512 375v3M514 369v3M514 375v3M516 324v3M516 366v3M516 375v3M518 372v6M518 384v3M520 369v6M520 378v3M524 381v3M526 375v3M528 321v3M530 381v3M532 348v6M532 363v3M536 324v3M536 372v3M538 324v3M538 375v3M540 324v3M540 330v3M540 336v3M540 372v3M542 375v6M544 324v3M544 369v6M548 327v3M548 333v3M552 363v3M552 369v3M554 321v3M554 381v3M556 369v6M562 369v3M562 375v6M564 321v3M564 372v3M568 372v3M570 324v3M570 378v3M572 324v3M572 366v3M574 375v3M578 363v3M578 369v6M580 369v3M582 378v3M584 327v3M584 363v3M586 324v6M586 351v3M588 324v3M588 372v3M590 363v3M590 369v3M592 321v3M594 360v3M596 324v3M598 324v3M602 324v3M602 378v3M604 366v3M606 366v3M608 366v3M610 333v3M610 366v3M612 324v3M614 375v12M616 321v3M616 372v3M618 366v9M620 324v3M622 372v3M624 372v6M628 324v3M628 372v3M630 378v3M632 369v3M634 324v3M636 321v3M372 428v6M382 428v6M384 428v6M390 428v6M396 434v10M400 434v10M402 428v6M404 434v10M406 434v10M408 434v10M410 434v10M416 428v16M418 434v10M420 434v10M422 434v10M424 434v10M426 434v10M432 434v10M434 434v10M442 434v10M444 434v10M446 434v10M460 434v10M462 434v10M476 434v10M504 434v10M520 434v10"/>
<path stroke="#00ff61" stroke-width="1" fill="none" d="M151.5 312v3M151.5 339v3M151.5 372v3M152.5 321v6M152.5 333v3M152.5 342v3M152.5 399v3M154.5 136v3M154.5 312v3M154.5 321v3M154.5 357v3M154.5 378v3M154.5 387v3M155.5 136v3M155.5 348v3M156.5 184v3M156.5 330v3M156.5 336v6M157.5 214v3M157.5 286v3M157.5 295v3M157.5 318v6M157.5 327v9M158.5 226v3M158.5 235v3M158.5 250v3M158.5 256v3M158.5 265v3M158.5 301v3M158.5 387v3M159.5 223v6M159.5 268v3M159.5 286v6M159.5 298v3M159.5 348v6M159.5 363v9M159.5 381v3M160.5 232v3M160.5 262v6M160.5 283v3M160.5 289v3M160.5 304v2M160.5 399v3M161.5 61v3M161.5 217v3M161.5 223v3M161.5 232v3M161.5 250v3M161.5 312v6M161.5 321v3M161.5 330v3M161.5 366v3M161.5 375v3M161.5 381v6M161.5 402v3M162.5 61v3M162.5 226v9M162.5 318v6M162.5 330v6M163.5 64v3M163.5 196v3M163.5 298v3M163.5 312v3M163.5 345v3M163.5 369v3M163.5 378v3M164.5 64v3M164.5 238v6M164.5 247v3M164.5 312v6M164.5 327v3M164.5 333v3M164.5 339v6M165.5 64v6M165.5 154v3M165.5 163v3M165.5 175v3M165.5 181v3M165.5 199v3M165.5 220v6M165.5 229v3M165.5 235v6M165.5 250v3M165.5 286v3M166.5 67v3M166.5 73v3M166.5 169v3M166.5 181v6M167.5 70v3M167.5 76v3M168.5 70v3M169.5 148v3M171.5 163v3M171.5 169v3M171.5 175v6M171.5 190v3M171.5 330v3M171.5 342v6M171.5 390v6M172.5 148v6M172.5 169v3M172.5 205v3M172.5 312v3M172.5 387v3M172.5 399v6M173.5 187v3M173.5 199v3M173.5 205v3M173.5 220v3M173.5 354v6M173.5 369v3M173.5 387v3M173.5 393v3M174.5 223v3M174.5 232v3M174.5 271v3M174.5 321v3M175.5 241v6M175.5 274v3M175.5 283v3M175.5 304v2M176.5 190v3M176.5 214v3M176.5 229v3M176.5 259v3M176.5 315v3M177.5 277v3M177.5 295v6M177.5 390v9M178.5 223v6M178.5 235v3M178.5 241v3M178.5 292v3M178.5 315v3M179.5 259v3M179.5 280v3M179.5 298v3M179.5 304v2M179.5 351v3M180.5 217v3M180.5 229v3M180.5 241v3M180.5 304v2M181.5 301v5M181.5 348v3M182.5 223v3M182.5 232v3M182.5 271v3M182.5 277v3M182.5 292v3M182.5 301v3M182.5 330v3M182.5 399v6M183.5 190v3M183.5 220v3M183.5 232v3M183.5 238v3M183.5 250v6M183.5 286v3M183.5 292v3M184.5 238v3M184.5 286v3M184.5 292v3M185.5 217v3M185.5 232v3M185.5 318v3M185.5 327v3M186.5 262v3M186.5 268v3M186.5 360v3M187.5 223v3M187.5 229v3M187.5 265v3M187.5 274v3M187.5 387v3M188.5 229v3M188.5 259v6M188.5 271v3M188.5 280v3M188.5 289v3M188.5 304v2M189.5 232v3M189.5 250v3M189.5 259v6M190.5 226v6M190.5 265v3M190.5 280v3M190.5 292v3M191.5 262v3M191.5 277v3M192.5 229v3M192.5 241v3M192.5 250v6M193.5 327v3M193.5 336v3M194.5 321v3M194.5 330v6M194.5 339v3M194.5 351v6M194.5 366v6M194.5 375v6M194.5 387v9M194.5 402v3M195.5 211v3M195.5 232v3M195.5 247v6M195.5 259v3M195.5 271v3M195.5 318v6M195.5 333v3M195.5 369v3M195.5 384v3M196.5 217v3M196.5 244v3M196.5 274v6M196.5 289v3M197.5 217v3M197.5 256v6M197.5 277v3M197.5 283v3M198.5 214v3M198.5 232v3M198.5 250v3M198.5 277v9M198.5 289v3M199.5 229v3M199.5 274v3M199.5 295v3M200.5 175v3M200.5 229v3M200.5 235v3M200.5 286v3M200.5 292v3M201.5 238v3M201.5 244v3M201.5 268v3M201.5 274v9M201.5 298v3M202.5 232v3M202.5 247v3M202.5 253v3M202.5 268v3M203.5 256v6M203.5 268v9M203.5 295v3M204.5 259v3M204.5 265v3M204.5 274v3M204.5 327v3M205.5 250v3M205.5 283v6M205.5 315v3M205.5 342v3M206.5 283v6M206.5 312v6M206.5 339v3M206.5 348v3M207.5 247v3M207.5 268v6M207.5 298v3M207.5 312v3M207.5 324v6M207.5 363v3M208.5 262v3M208.5 268v3M208.5 283v3M208.5 295v3M208.5 363v9M208.5 387v3M209.5 277v3M209.5 286v6M209.5 295v6M209.5 304v2M209.5 312v3M209.5 318v3M209.5 336v3M209.5 345v3M209.5 357v3M209.5 399v3M210.5 247v3M210.5 259v3M210.5 315v3M210.5 330v3M210.5 345v3M210.5 354v12M210.5 375v12M210.5 396v3M211.5 250v3M211.5 262v6M211.5 280v3M211.5 301v3M211.5 342v3M211.5 351v3M212.5 265v3M212.5 271v6M212.5 318v6M212.5 327v3M213.5 238v3M213.5 256v3M213.5 298v3M213.5 312v3M213.5 333v3M214.5 241v9M214.5 289v3M215.5 250v6M215.5 265v3M215.5 271v3M215.5 283v3M215.5 289v3M215.5 295v3M215.5 304v2M216.5 232v3M216.5 283v6M216.5 292v3M216.5 298v3M217.5 304v2M218.5 253v3M218.5 259v6M219.5 169v3M219.5 235v3M219.5 247v3M219.5 312v6M219.5 330v6M219.5 381v3M219.5 396v3M220.5 229v6M220.5 247v3M220.5 265v3M220.5 312v9M220.5 330v3M220.5 387v3M221.5 244v3M221.5 342v3M221.5 357v3M221.5 399v3M222.5 235v6M222.5 259v12M222.5 277v6M222.5 286v12M222.5 301v3M222.5 342v3M222.5 360v3M222.5 381v6M223.5 232v6M223.5 250v3M223.5 259v3M223.5 274v6M223.5 318v12M223.5 384v9M223.5 399v3M224.5 193v3M224.5 211v3M224.5 241v6M224.5 250v6M224.5 271v3M224.5 280v3M224.5 298v3M224.5 327v3M224.5 342v3M224.5 360v9M224.5 381v6M224.5 393v3M225.5 220v3M225.5 229v3M225.5 312v3M225.5 324v6M225.5 342v3M226.5 193v3M226.5 205v3M226.5 220v3M226.5 286v3M226.5 304v2M226.5 327v6M226.5 366v3M227.5 187v3M227.5 298v3M227.5 312v3M227.5 351v3M227.5 399v6M228.5 187v6M228.5 199v3M228.5 217v3M228.5 226v3M228.5 238v3M228.5 277v3M228.5 292v3M228.5 298v6M228.5 318v9M228.5 393v6M229.5 223v3M229.5 229v6M229.5 238v3M229.5 283v3M229.5 292v3M229.5 357v9M229.5 375v3M230.5 238v3M230.5 292v3M230.5 354v3M230.5 360v3M230.5 384v3M230.5 402v3M231.5 211v3M231.5 226v3M231.5 241v3M231.5 253v3M231.5 271v3M231.5 396v3M232.5 357v3M232.5 369v6M233.5 235v3M233.5 244v3M233.5 357v3M233.5 369v3M234.5 232v3M234.5 238v3M234.5 247v3M234.5 360v6M234.5 390v3M234.5 399v6M235.5 232v3M235.5 247v3M235.5 378v3M236.5 184v3M236.5 214v3M236.5 223v3M236.5 229v3M236.5 357v3M236.5 372v3M237.5 217v6M237.5 238v3M237.5 256v3M237.5 298v3M237.5 366v3M237.5 378v3M238.5 214v3M238.5 250v3M238.5 265v3M238.5 286v3M238.5 295v3M238.5 351v9M238.5 366v3M238.5 393v3M238.5 402v3M239.5 268v3M239.5 286v3M239.5 366v3M240.5 286v3M240.5 292v3M240.5 298v6M240.5 312v3M240.5 354v3M241.5 85v3M241.5 229v3M241.5 274v3M241.5 292v3M241.5 304v2M241.5 357v3M241.5 369v6M241.5 393v3M241.5 402v3M242.5 208v6M242.5 217v3M242.5 223v6M242.5 238v3M242.5 253v3M242.5 259v3M242.5 274v3M242.5 280v3M242.5 351v6M243.5 205v3M243.5 271v3M243.5 301v3M243.5 375v3M244.5 274v3M244.5 342v3M244.5 354v3M244.5 375v3M245.5 88v3M245.5 229v3M245.5 235v3M245.5 315v3M245.5 327v3M245.5 339v3M245.5 348v6M245.5 357v3M245.5 396v3M246.5 214v3M246.5 336v6M246.5 345v12M246.5 375v3M247.5 315v3M247.5 321v3M247.5 327v6M247.5 363v3M247.5 381v3M247.5 393v12M248.5 199v3M248.5 226v3M248.5 244v3M248.5 271v3M248.5 327v3M248.5 345v3M248.5 390v3M249.5 226v3M249.5 238v3M249.5 256v3M249.5 277v3M249.5 304v2M249.5 312v6M249.5 327v6M249.5 336v3M249.5 351v3M249.5 360v3M250.5 208v3M250.5 271v3M250.5 298v3M251.5 220v12M251.5 235v3M251.5 244v3M251.5 271v3M252.5 208v3M253.5 217v3M253.5 241v6M254.5 256v3M254.5 262v3M254.5 268v3M254.5 280v3M255.5 253v3M255.5 268v3M255.5 283v3M256.5 247v3M256.5 253v3M256.5 277v3M256.5 286v3M256.5 292v3M256.5 304v2M257.5 256v3M257.5 289v6M257.5 301v5M258.5 286v6M258.5 298v3M259.5 247v3M259.5 274v3M259.5 280v3M260.5 256v3M260.5 292v3M260.5 298v3M261.5 250v3M261.5 286v3M261.5 292v3M261.5 298v3M262.5 223v3M262.5 265v3M262.5 271v3M262.5 280v3M262.5 286v3M262.5 301v3M262.5 357v6M262.5 381v3M262.5 390v3M263.5 262v3M263.5 274v3M263.5 280v3M263.5 286v3M263.5 295v3M263.5 304v2M263.5 354v3M263.5 402v3M264.5 298v3M264.5 327v3M264.5 360v3M264.5 372v3M264.5 384v3M265.5 286v3M265.5 315v6M265.5 324v6M265.5 333v3M265.5 351v3M265.5 357v3M266.5 241v3M266.5 247v9M266.5 277v3M266.5 292v3M266.5 301v3M266.5 318v3M266.5 327v6M266.5 360v3M266.5 372v6M267.5 238v3M267.5 244v9M267.5 259v3M267.5 283v3M267.5 295v3M267.5 312v3M267.5 342v9M267.5 363v3M267.5 369v6M268.5 232v9M268.5 259v3M268.5 312v3M268.5 318v6M268.5 345v3M268.5 351v3M268.5 360v3M268.5 366v3M268.5 378v3M268.5 396v6M269.5 217v3M269.5 229v3M269.5 235v3M269.5 241v3M269.5 256v3M269.5 357v3M269.5 402v3M270.5 238v3M270.5 259v3M270.5 348v3M270.5 360v3M270.5 384v6M271.5 241v3M271.5 259v3M271.5 348v3M272.5 235v3M272.5 348v3M272.5 366v3M272.5 375v3M272.5 387v6M273.5 241v3M273.5 247v3M273.5 363v9M273.5 387v6M274.5 190v3M274.5 199v6M274.5 229v3M274.5 241v3M274.5 262v3M274.5 396v3M274.5 402v3M275.5 223v3M275.5 241v3M275.5 393v3M276.5 280v3M276.5 295v3M276.5 393v3M277.5 250v3M277.5 256v3M277.5 262v3M277.5 268v3M277.5 280v3M277.5 289v3M277.5 339v3M278.5 271v3M278.5 277v3M278.5 283v6M278.5 298v3M278.5 304v2M278.5 342v3M278.5 390v3M279.5 262v3M279.5 277v3M279.5 345v3M279.5 402v3M280.5 256v3M280.5 277v3M280.5 283v6M280.5 304v2M280.5 354v3M280.5 360v3M280.5 369v6M280.5 384v3M281.5 336v9M281.5 348v3M281.5 354v3M281.5 360v3M281.5 366v3M281.5 396v3M282.5 277v3M282.5 360v3M282.5 366v3M282.5 378v9M282.5 396v6M283.5 256v3M283.5 292v3M283.5 312v9M283.5 324v9M283.5 348v3M283.5 354v3M283.5 369v3M283.5 378v6M283.5 390v6M284.5 265v3M284.5 315v3M284.5 345v3M284.5 354v3M284.5 360v3M284.5 378v6M284.5 399v6M285.5 277v3M285.5 283v6M285.5 301v5M285.5 312v6M285.5 345v3M285.5 369v9M285.5 381v3M286.5 202v3M286.5 214v3M286.5 301v3M286.5 312v9M286.5 351v6M286.5 360v3M286.5 396v3M287.5 208v3M287.5 318v3M287.5 345v3M288.5 190v3M288.5 262v3M288.5 286v12M288.5 312v3M288.5 324v3M288.5 330v3M288.5 339v3M288.5 360v3M288.5 381v3M289.5 184v3M289.5 229v3M289.5 256v3M289.5 315v3M289.5 345v3M289.5 354v9M290.5 253v3M290.5 259v3M290.5 277v3M290.5 312v3M290.5 327v3M290.5 402v3M291.5 202v3M291.5 208v6M291.5 220v3M291.5 226v3M291.5 244v3M291.5 274v3M291.5 280v6M291.5 378v3M291.5 387v3M292.5 205v3M293.5 196v3M293.5 202v3M293.5 211v3M293.5 244v3M295.5 187v3M295.5 226v3M295.5 259v3M298.5 199v3M298.5 208v3M298.5 235v3M298.5 244v3M300.5 199v3M300.5 211v3M300.5 217v3M301.5 205v3M303.5 208v3M303.5 238v3M304.5 190v12M304.5 205v3M304.5 244v3M305.5 241v3M306.5 202v3M306.5 226v3M311.5 196v3M312.5 220v3M312.5 232v3M313.5 208v6M314.5 208v3M314.5 226v3M314.5 238v6M315.5 196v3M316.5 223v3M316.5 238v3M317.5 199v6M317.5 232v3M318.5 202v3M318.5 208v3M319.5 214v3M319.5 223v3M321.5 199v3M323.5 229v3M323.5 244v3M325.5 211v3M325.5 223v3M325.5 232v3M327.5 250v3M327.5 256v3M327.5 271v3M328.5 196v3M329.5 238v3M329.5 244v3M330.5 217v3M332.5 199v3M332.5 229v3M332.5 247v3M332.5 253v3M332.5 262v3M332.5 283v3M334.5 256v3M334.5 280v3M335.5 214v3M335.5 247v3M335.5 256v3M336.5 196v3M336.5 202v6M336.5 277v3M336.5 286v3M336.5 295v3M337.5 232v3M337.5 238v3M337.5 256v3M337.5 274v3M338.5 211v3M338.5 235v3M340.5 220v3M340.5 238v3M340.5 259v9M340.5 304v2M341.5 238v6M341.5 262v3M341.5 286v3M341.5 315v3M342.5 244v6M342.5 262v3M342.5 268v6M343.5 232v3M343.5 247v3M343.5 256v3M343.5 336v3M343.5 354v3M343.5 360v3M343.5 366v3M343.5 381v3M343.5 396v3M344.5 250v3M344.5 271v3M344.5 312v9M175.5 428v6M220.5 428v6M222.5 428v6M232.5 428v6M239.5 428v6M242.5 428v6M249.5 428v6"/>
<path stroke="#00ff61" stroke-width="2" fill="none" d="M146 67v3M146 292v3M148 67v3M148 292v3M150 67v3M150 292v3M346 238v6M346 250v3M346 256v3M346 274v3M346 381v3M348 256v6M348 265v6M350 244v3M350 250v3M350 256v3M350 268v6M350 280v3M350 292v3M350 304v2M350 324v3M350 363v3M350 369v3M350 381v9M350 393v3M350 399v3M352 250v3M352 256v3M352 265v6M352 304v2M352 363v3M352 369v12M352 387v3M352 396v3M354 268v3M354 280v6M354 292v3M354 298v3M354 304v2M354 327v3M354 372v3M354 381v3M354 390v3M354 399v3M356 286v3M356 295v3M356 304v2M358 256v3M358 283v12M358 301v3M358 375v3M358 399v6M360 256v9M360 268v3M360 274v3M360 286v3M360 327v3M360 384v3M360 390v9M362 253v6M362 274v3M362 280v9M362 318v9M362 378v3M364 274v3M364 301v5M364 366v3M364 372v3M366 250v3M366 256v3M366 262v3M366 274v6M366 286v3M366 292v3M366 321v3M366 327v3M366 369v3M366 384v3M366 393v6M368 268v3M368 280v3M368 298v3M368 381v12M368 396v3M370 262v3M370 271v3M370 277v3M370 283v3M370 298v3M370 381v3M370 393v3M370 402v3M372 253v6M372 268v3M372 277v3M372 283v9M372 363v3M372 369v3M372 381v3M372 393v3M374 262v12M374 369v3M376 256v3M376 280v3M376 324v3M376 384v9M376 402v3M378 259v3M378 292v3M378 324v3M378 378v3M378 384v3M378 393v3M378 399v3M380 381v3M382 372v3M382 384v3M384 324v3M384 369v3M384 393v6M386 402v3M388 324v3M388 372v6M388 393v3M390 327v3M392 375v6M392 390v3M394 372v3M396 393v3M398 372v3M398 396v3M400 381v3M402 327v3M402 360v3M402 372v3M402 378v6M404 327v3M406 324v3M406 369v3M408 324v3M408 363v3M408 369v6M410 402v3M412 327v3M412 360v3M412 372v6M416 372v3M418 375v3M420 360v3M422 363v3M422 369v6M424 321v3M426 372v9M428 372v3M430 372v6M432 327v3M432 372v3M434 366v6M436 360v3M440 369v3M442 366v3M444 327v3M446 321v3M446 372v3M452 372v3M454 375v6M460 372v3M464 324v3M464 366v3M466 321v3M468 324v3M468 369v3M474 324v3M474 369v6M476 372v3M478 372v3M478 381v3M480 375v3M486 321v3M490 372v3M492 369v3M496 366v3M498 321v3M500 324v3M502 375v3M506 366v3M506 372v3M510 369v3M514 363v3M514 372v3M518 366v6M518 378v3M520 321v3M520 360v3M522 366v3M524 372v6M526 321v3M526 372v3M528 369v3M530 366v3M530 375v6M532 345v3M532 366v3M532 372v3M534 321v3M534 369v3M536 333v6M536 369v3M538 378v3M540 327v3M540 333v3M542 384v3M544 366v3M548 336v3M550 321v3M550 372v3M552 366v3M554 384v3M556 375v3M558 321v3M558 369v3M560 372v3M560 384v3M562 324v3M562 366v3M562 372v3M564 375v3M568 375v3M570 363v3M570 369v3M574 324v3M574 366v3M578 351v3M578 366v3M580 366v3M584 360v3M584 369v3M586 348v3M588 363v9M592 363v6M594 324v3M596 327v3M596 366v6M598 363v3M600 324v3M600 369v3M602 369v6M604 363v3M606 321v6M610 330v3M610 357v3M610 369v3M612 333v3M612 357v3M612 366v3M614 372v3M616 366v6M618 345v3M620 363v6M622 366v3M626 339v3M626 363v3M626 372v3M628 360v3M628 366v3M632 324v6M632 366v3M146 434v10M148 434v10M150 434v10M350 428v6M352 428v6M354 428v6M356 428v6M360 428v6M364 428v16M366 428v6M370 428v16M372 434v10M374 428v6M376 434v10M380 434v10M382 434v10M384 434v10M388 428v16M390 434v10M392 434v10M394 428v16M396 428v6M398 434v10M402 434v10M404 428v6M406 444v11M530 444v11M602 444v11M616 444v11M630 444v11"/>
<path stroke="#00ff49" stroke-width="1" fill="none" d="M151.5 315v6M151.5 336v3M151.5 342v9M151.5 369v3M151.5 375v3M152.5 61v3M152.5 327v3M152.5 345v3M152.5 357v3M152.5 366v6M152.5 381v6M152.5 396v3M152.5 402v3M154.5 327v9M154.5 360v3M154.5 369v3M154.5 375v3M154.5 384v3M155.5 381v3M156.5 312v6M156.5 321v3M156.5 348v3M156.5 360v3M156.5 366v3M157.5 157v3M157.5 289v3M157.5 369v6M157.5 381v3M158.5 61v3M158.5 178v3M158.5 253v3M158.5 259v3M158.5 274v3M158.5 295v6M158.5 345v3M158.5 396v6M159.5 61v3M159.5 220v3M159.5 229v3M159.5 235v6M159.5 295v3M159.5 301v3M159.5 360v3M159.5 384v3M159.5 402v3M160.5 58v3M160.5 268v3M160.5 286v3M160.5 345v3M160.5 366v3M160.5 381v6M160.5 396v3M161.5 58v3M161.5 235v3M161.5 268v3M161.5 286v3M161.5 292v3M161.5 357v9M161.5 399v3M162.5 58v3M162.5 256v3M162.5 265v6M162.5 274v3M162.5 286v3M162.5 339v3M163.5 58v6M163.5 217v3M163.5 223v6M163.5 232v3M163.5 241v6M163.5 265v3M163.5 289v3M163.5 295v3M163.5 301v5M163.5 333v3M163.5 366v3M163.5 390v6M163.5 399v3M164.5 58v6M164.5 226v3M164.5 298v3M164.5 304v2M164.5 345v3M165.5 58v6M165.5 160v3M165.5 166v3M165.5 172v3M165.5 232v3M165.5 241v3M165.5 265v6M165.5 274v3M165.5 295v3M165.5 304v2M166.5 166v3M166.5 172v3M166.5 178v3M166.5 190v3M166.5 241v3M167.5 67v3M167.5 154v3M168.5 64v6M168.5 148v3M171.5 124v3M171.5 166v3M171.5 339v3M171.5 363v3M171.5 387v3M172.5 157v3M172.5 178v6M172.5 196v9M172.5 265v3M172.5 348v6M173.5 202v3M173.5 223v3M173.5 232v3M173.5 250v3M173.5 363v3M173.5 372v3M173.5 384v3M173.5 390v3M174.5 229v3M174.5 238v3M174.5 262v3M174.5 268v3M175.5 253v3M175.5 280v3M175.5 289v3M176.5 220v3M176.5 232v3M176.5 256v3M176.5 268v3M176.5 304v2M177.5 271v3M177.5 283v6M177.5 292v3M177.5 301v5M177.5 399v6M178.5 220v3M178.5 229v3M178.5 247v3M178.5 301v5M179.5 226v3M179.5 238v3M179.5 253v6M180.5 223v3M180.5 244v3M180.5 286v6M180.5 298v6M181.5 247v9M181.5 289v3M182.5 259v3M182.5 286v6M182.5 298v3M182.5 315v3M182.5 327v3M183.5 217v3M183.5 226v6M183.5 247v3M183.5 259v3M183.5 268v3M184.5 220v3M184.5 226v3M184.5 241v3M184.5 250v3M184.5 280v6M184.5 289v3M184.5 295v3M185.5 223v3M185.5 256v3M185.5 262v3M186.5 220v3M186.5 235v3M186.5 256v3M186.5 274v9M186.5 292v6M186.5 304v2M187.5 226v3M187.5 253v3M187.5 262v3M187.5 268v6M187.5 283v3M188.5 226v3M188.5 232v3M188.5 256v3M188.5 265v3M188.5 283v3M188.5 292v3M189.5 217v3M189.5 235v3M189.5 253v3M190.5 238v3M190.5 253v3M190.5 271v3M190.5 301v3M191.5 247v3M191.5 268v3M191.5 289v3M191.5 304v2M192.5 283v3M192.5 301v5M192.5 396v3M193.5 214v3M193.5 250v3M193.5 256v3M193.5 295v6M193.5 304v2M194.5 217v6M194.5 247v6M194.5 256v3M194.5 283v3M194.5 318v3M194.5 372v3M194.5 381v6M195.5 214v3M195.5 256v3M195.5 262v3M195.5 274v3M195.5 330v3M195.5 336v6M195.5 348v3M195.5 396v9M196.5 250v3M196.5 298v3M197.5 268v6M197.5 280v3M197.5 286v3M198.5 256v6M198.5 295v3M198.5 304v2M199.5 259v9M199.5 298v6M200.5 241v3M200.5 265v3M200.5 289v3M201.5 250v3M201.5 256v3M201.5 292v6M202.5 241v3M202.5 250v3M202.5 271v3M202.5 286v9M203.5 253v3M203.5 277v3M203.5 304v2M204.5 232v3M204.5 241v3M204.5 247v3M204.5 253v3M204.5 268v6M204.5 298v3M204.5 304v2M204.5 312v6M205.5 235v3M205.5 274v3M205.5 280v3M205.5 312v3M205.5 318v6M206.5 253v3M206.5 265v3M206.5 271v12M206.5 289v3M206.5 301v3M206.5 351v3M206.5 363v3M206.5 381v3M207.5 277v3M207.5 283v6M207.5 330v3M207.5 375v3M207.5 390v3M207.5 396v6M208.5 280v3M208.5 286v3M208.5 298v3M208.5 333v3M208.5 390v3M209.5 235v3M209.5 250v3M209.5 259v3M209.5 268v3M209.5 292v3M209.5 315v3M209.5 321v3M209.5 351v3M209.5 396v3M210.5 256v3M210.5 265v3M210.5 280v3M210.5 286v3M210.5 312v3M210.5 321v9M210.5 333v12M210.5 393v3M211.5 190v3M211.5 259v3M211.5 274v3M211.5 292v3M212.5 253v3M212.5 268v3M212.5 381v3M213.5 253v3M213.5 262v3M213.5 268v3M213.5 283v3M213.5 301v3M213.5 327v6M214.5 250v3M214.5 274v3M214.5 295v11M215.5 259v6M215.5 274v3M215.5 280v3M215.5 292v3M216.5 280v3M217.5 244v6M217.5 318v3M218.5 235v3M218.5 250v3M218.5 268v3M218.5 321v6M219.5 244v3M219.5 277v3M219.5 292v3M219.5 304v2M219.5 318v12M219.5 336v3M219.5 357v6M219.5 378v3M219.5 390v6M220.5 235v3M220.5 241v3M220.5 268v3M220.5 301v3M221.5 259v3M221.5 312v6M221.5 339v3M221.5 363v6M221.5 372v3M221.5 402v3M222.5 244v3M222.5 250v9M222.5 345v3M222.5 399v3M223.5 262v6M223.5 271v3M223.5 286v6M223.5 301v5M223.5 315v3M223.5 381v3M223.5 393v3M224.5 214v3M224.5 259v3M224.5 345v3M224.5 351v3M224.5 357v3M224.5 375v3M224.5 390v3M225.5 193v6M225.5 238v3M225.5 298v3M225.5 304v2M225.5 321v3M225.5 372v3M226.5 184v6M226.5 223v3M226.5 271v3M226.5 283v3M227.5 196v3M227.5 205v3M227.5 247v3M227.5 283v3M227.5 295v3M227.5 301v5M227.5 318v3M227.5 327v3M227.5 345v6M228.5 196v3M228.5 220v3M228.5 229v3M228.5 274v3M228.5 304v2M228.5 315v3M228.5 390v3M229.5 220v3M229.5 244v3M229.5 256v3M229.5 277v3M229.5 289v3M229.5 384v6M229.5 393v3M230.5 241v3M230.5 250v3M230.5 259v6M230.5 366v3M231.5 223v3M231.5 250v3M231.5 393v3M232.5 73v3M232.5 193v3M232.5 226v3M232.5 363v6M232.5 375v6M233.5 208v6M233.5 247v3M234.5 366v3M234.5 372v3M235.5 196v3M235.5 235v3M235.5 250v3M235.5 256v3M236.5 196v6M236.5 211v3M236.5 217v3M236.5 238v6M236.5 253v6M236.5 366v3M237.5 199v3M237.5 208v3M237.5 235v3M237.5 241v3M237.5 247v6M237.5 384v3M238.5 202v3M238.5 220v6M238.5 289v3M239.5 199v3M239.5 259v3M239.5 280v3M239.5 295v3M239.5 360v6M240.5 259v6M240.5 274v3M240.5 283v3M240.5 304v2M240.5 315v3M240.5 372v6M241.5 250v3M241.5 256v3M241.5 268v3M241.5 286v3M241.5 381v6M242.5 196v3M242.5 202v3M242.5 232v6M242.5 241v3M242.5 262v9M242.5 301v5M242.5 360v3M242.5 366v3M242.5 381v3M242.5 387v6M243.5 211v3M243.5 220v3M243.5 229v6M243.5 262v3M243.5 283v3M243.5 292v3M243.5 304v2M243.5 363v3M243.5 402v3M244.5 235v3M244.5 259v3M244.5 265v6M244.5 277v6M244.5 304v2M244.5 363v6M245.5 205v3M245.5 211v3M245.5 217v3M245.5 318v3M245.5 330v3M245.5 363v3M245.5 372v3M245.5 390v3M246.5 181v3M246.5 223v3M246.5 262v3M246.5 271v6M246.5 318v3M246.5 327v3M246.5 333v3M246.5 396v3M247.5 205v3M247.5 369v3M247.5 390v3M248.5 220v3M248.5 283v3M248.5 295v3M248.5 312v3M248.5 336v3M248.5 342v3M248.5 363v6M248.5 372v3M248.5 378v3M248.5 387v3M249.5 199v3M249.5 205v3M249.5 214v3M249.5 220v3M249.5 229v3M249.5 241v3M249.5 247v3M249.5 286v3M249.5 333v3M249.5 354v6M250.5 250v9M250.5 262v3M250.5 268v3M250.5 274v3M250.5 289v3M251.5 232v3M251.5 247v6M251.5 283v3M251.5 304v2M252.5 235v3M252.5 277v3M252.5 304v2M253.5 220v3M253.5 235v3M253.5 253v3M253.5 318v6M254.5 250v3M254.5 298v3M254.5 304v2M254.5 312v3M255.5 259v3M255.5 277v3M255.5 286v3M255.5 295v3M255.5 304v2M255.5 345v3M256.5 250v3M256.5 262v6M256.5 280v3M256.5 289v3M257.5 265v3M257.5 298v3M258.5 253v6M258.5 271v12M258.5 339v3M259.5 250v3M259.5 265v3M259.5 289v3M259.5 312v3M260.5 286v3M261.5 271v3M261.5 277v3M261.5 295v3M261.5 324v3M261.5 402v3M262.5 241v3M262.5 256v3M262.5 268v3M262.5 274v3M262.5 292v3M262.5 345v3M262.5 369v6M262.5 384v3M262.5 393v3M263.5 238v3M263.5 256v3M263.5 277v3M263.5 289v6M263.5 327v3M263.5 336v6M263.5 351v3M263.5 372v3M263.5 396v3M264.5 247v3M264.5 286v3M264.5 301v3M264.5 312v6M264.5 330v6M264.5 342v6M264.5 351v3M264.5 363v9M264.5 375v3M264.5 393v3M264.5 402v3M265.5 250v3M265.5 277v9M265.5 298v3M265.5 304v2M265.5 321v3M265.5 342v3M265.5 360v3M265.5 369v6M265.5 387v6M265.5 402v3M266.5 244v3M266.5 256v3M266.5 295v3M266.5 354v3M266.5 399v3M267.5 253v3M267.5 304v2M267.5 315v6M267.5 357v6M267.5 366v3M268.5 375v3M269.5 363v9M269.5 375v3M269.5 381v3M269.5 387v3M269.5 399v3M270.5 244v3M270.5 253v3M270.5 372v3M270.5 390v3M271.5 247v3M271.5 256v3M271.5 345v3M271.5 366v3M271.5 384v6M271.5 393v3M272.5 265v3M272.5 351v3M272.5 357v6M272.5 381v6M272.5 393v6M273.5 244v3M273.5 253v3M273.5 399v3M274.5 208v6M274.5 250v3M274.5 363v3M274.5 381v3M275.5 184v3M275.5 199v3M275.5 220v3M275.5 250v3M275.5 256v3M275.5 262v3M275.5 399v6M276.5 199v3M276.5 271v9M276.5 283v3M276.5 366v3M276.5 384v6M277.5 238v3M277.5 247v3M277.5 271v3M277.5 336v3M277.5 345v3M277.5 357v3M277.5 393v3M277.5 399v3M278.5 241v3M278.5 259v3M278.5 265v3M278.5 295v3M278.5 301v3M278.5 345v3M278.5 381v3M278.5 393v3M278.5 402v3M279.5 304v2M279.5 357v3M279.5 375v6M279.5 396v3M280.5 262v3M280.5 295v3M280.5 363v3M281.5 259v3M281.5 268v3M281.5 283v3M281.5 327v3M281.5 345v3M281.5 357v3M281.5 363v3M281.5 387v6M282.5 259v3M282.5 265v3M282.5 283v3M282.5 304v2M282.5 354v3M282.5 363v3M282.5 369v3M282.5 393v3M283.5 265v3M283.5 271v3M283.5 280v3M283.5 360v6M283.5 372v6M283.5 384v3M284.5 312v3M284.5 348v3M284.5 363v3M284.5 369v3M285.5 274v3M285.5 292v3M285.5 298v3M285.5 318v6M285.5 333v3M285.5 342v3M285.5 351v6M285.5 378v3M285.5 399v3M286.5 253v3M286.5 304v2M286.5 348v3M286.5 357v3M286.5 363v6M286.5 384v3M287.5 220v3M287.5 229v3M287.5 271v3M287.5 289v3M287.5 301v5M287.5 339v6M287.5 369v3M288.5 205v3M288.5 253v3M288.5 259v3M288.5 298v8M288.5 357v3M288.5 378v3M288.5 384v3M289.5 193v3M289.5 220v3M289.5 226v3M289.5 241v3M289.5 247v3M289.5 268v3M289.5 295v3M289.5 301v3M289.5 321v3M289.5 333v3M289.5 351v3M289.5 372v3M290.5 193v3M290.5 223v6M290.5 256v3M290.5 292v3M290.5 315v3M291.5 193v3M291.5 199v3M291.5 214v3M291.5 238v6M291.5 247v3M291.5 265v9M291.5 277v3M291.5 289v3M291.5 324v3M291.5 330v3M291.5 342v3M291.5 363v3M291.5 381v6M292.5 214v3M293.5 199v3M293.5 205v6M293.5 235v3M293.5 256v6M293.5 295v3M295.5 208v6M295.5 238v6M298.5 211v3M300.5 196v3M300.5 205v3M301.5 202v3M301.5 208v3M302.5 187v3M302.5 196v3M303.5 214v3M303.5 220v3M304.5 232v3M305.5 220v3M306.5 208v3M306.5 214v3M306.5 229v3M306.5 402v3M307.5 208v3M308.5 181v3M308.5 211v3M309.5 241v3M310.5 199v3M310.5 205v3M311.5 214v6M312.5 217v3M314.5 220v3M314.5 229v9M316.5 217v3M316.5 235v3M317.5 220v3M318.5 226v6M319.5 226v3M319.5 232v9M319.5 244v3M320.5 217v3M320.5 235v9M321.5 208v3M321.5 223v3M321.5 235v3M322.5 345v3M323.5 199v3M323.5 235v6M324.5 199v3M324.5 220v3M324.5 292v6M324.5 304v2M325.5 244v3M325.5 295v3M326.5 277v3M327.5 205v3M327.5 244v3M327.5 253v3M327.5 265v3M327.5 274v6M327.5 283v3M329.5 217v3M329.5 223v6M329.5 247v6M332.5 226v3M332.5 256v3M332.5 304v2M333.5 244v3M334.5 223v3M334.5 235v3M334.5 262v3M334.5 271v3M335.5 202v6M335.5 226v3M335.5 232v3M335.5 312v3M336.5 199v3M336.5 238v3M336.5 256v3M336.5 283v3M337.5 244v3M337.5 259v3M337.5 280v6M337.5 292v3M337.5 298v6M337.5 318v3M338.5 295v3M338.5 301v5M338.5 312v6M339.5 232v3M339.5 241v6M339.5 286v3M340.5 229v6M340.5 247v3M340.5 253v3M340.5 268v3M340.5 286v3M340.5 327v3M341.5 229v3M341.5 244v6M341.5 259v3M341.5 283v3M341.5 301v3M341.5 318v3M341.5 330v3M341.5 399v3M342.5 241v3M342.5 265v3M342.5 274v3M342.5 286v3M342.5 292v3M342.5 304v2M342.5 312v3M342.5 345v3M343.5 262v6M343.5 292v3M343.5 301v3M343.5 339v3M343.5 345v9M343.5 357v3M343.5 363v3M343.5 384v3M343.5 393v3M343.5 402v3M344.5 262v9M344.5 274v6M344.5 295v3M344.5 301v3M160.5 428v6M171.5 428v6M180.5 428v6M181.5 428v6M184.5 428v6M188.5 428v6M235.5 428v6M246.5 428v6M250.5 428v6"/>
<path stroke="#00ff49" stroke-width="2" fill="none" d="M146 223v3M146 244v3M148 223v3M148 244v3M150 223v3M150 244v3M346 247v3M346 253v3M346 268v3M346 280v3M346 289v3M346 295v6M346 304v2M346 324v3M346 375v6M348 262v3M348 274v9M348 304v2M348 363v6M348 393v3M348 402v3M350 262v3M350 277v3M350 298v6M350 330v3M350 390v3M350 402v3M352 259v3M352 274v3M352 283v6M352 295v3M352 324v3M352 330v3M352 381v6M352 393v3M354 286v6M354 301v3M354 324v3M354 354v3M354 366v3M356 253v12M356 271v6M356 283v3M356 289v3M356 324v3M358 295v6M358 324v3M358 372v3M358 384v3M360 265v3M360 277v3M360 295v3M360 324v3M360 372v3M360 399v3M362 262v3M362 289v3M362 330v3M362 357v3M362 366v9M362 393v12M364 262v3M364 277v9M364 289v6M364 324v3M364 390v6M364 402v3M366 283v3M366 324v3M366 390v3M366 399v6M368 286v3M368 393v3M368 399v3M370 327v3M372 259v3M372 372v9M374 274v3M374 324v3M374 366v3M374 372v3M374 402v3M376 372v9M380 369v3M380 375v3M382 324v3M382 387v3M384 327v3M386 327v3M386 375v3M386 393v3M390 372v3M394 363v3M396 321v3M396 327v3M396 396v3M400 366v3M400 375v6M402 363v9M408 327v3M410 366v3M410 372v3M412 363v9M414 327v3M414 366v6M416 378v3M418 324v3M420 324v3M420 363v3M424 324v3M424 366v3M432 369v3M436 324v3M436 366v3M438 363v3M440 324v3M442 327v3M444 366v3M446 375v3M448 327v3M448 366v6M450 366v3M456 324v3M456 363v6M458 372v3M462 327v3M464 363v3M466 366v3M468 372v3M470 324v3M478 321v3M480 324v3M480 372v3M482 324v3M482 366v3M486 369v3M488 324v3M490 327v3M494 324v3M496 363v3M498 324v3M500 369v3M502 369v3M504 366v3M504 372v3M506 324v3M512 369v3M514 324v3M514 366v3M516 327v3M520 363v6M522 324v3M524 327v3M524 369v3M526 360v12M528 351v3M528 357v3M528 372v6M530 324v3M530 333v3M532 324v3M532 342v3M532 360v3M534 339v3M534 363v3M536 330v3M540 357v3M542 324v3M542 372v3M546 372v3M548 330v3M548 339v3M548 363v9M550 369v3M552 324v3M554 324v6M554 366v3M554 375v3M556 324v3M556 336v3M556 363v3M558 342v3M558 351v3M558 357v12M560 324v3M564 363v3M566 324v3M566 369v3M568 324v3M568 369v3M570 345v3M570 360v3M574 369v6M576 327v3M576 366v6M578 324v3M580 327v3M580 351v6M580 360v3M582 363v3M582 369v3M584 330v9M584 348v3M586 330v3M586 354v3M588 327v3M588 339v3M588 354v3M590 324v3M590 336v3M592 327v6M592 360v3M592 369v3M594 327v3M594 357v3M594 366v3M598 330v6M598 366v6M602 327v3M602 363v3M602 375v3M606 354v3M608 324v3M608 360v3M608 369v3M610 327v3M610 336v3M610 372v3M614 324v3M616 324v3M618 339v3M618 348v3M618 354v3M620 327v3M620 345v3M620 360v3M620 369v6M622 324v12M622 363v3M624 333v3M624 351v3M626 327v3M626 354v3M626 360v3M626 366v6M626 375v3M628 327v9M628 357v3M628 363v3M630 363v3M632 330v3M632 345v3M632 363v3M634 351v6M634 366v3M636 324v3M636 357v6M356 434v10M358 428v6M362 428v16M364 444v11M374 434v10M376 444v11M378 434v10M386 434v10M390 444v11M392 444v11M400 444v11M414 444v11M420 444v11M424 444v11M426 444v11M428 444v11M430 444v11M434 444v11M436 444v11M438 444v11M440 444v11M442 444v11M446 444v11M448 444v11M450 444v11M452 444v11M456 444v11M458 444v11M466 444v11M468 444v11M470 444v11M474 444v11M478 444v11M480 444v11M484 444v11M488 444v11M490 444v11M492 444v11M494 444v11M496 444v11M498 444v11M500 444v11M502 444v11M508 444v11M510 444v11M512 444v11M516 444v11M518 444v11M522 444v11M526 444v11M528 444v11M532 444v11M534 444v11M536 444v11M538 444v11M546 444v11M548 444v11M550 444v11M552 444v11M556 444v11M560 444v11M562 444v11M566 444v11M568 444v11M570 444v11M572 444v11M574 444v11M576 444v11M580 444v11M582 444v11M584 444v11M586 444v11M588 444v11M594 444v11M596 444v11M600 444v11M604 444v11M606 444v11M608 444v11M610 444v11M612 444v11M618 444v11M620 444v11M622 444v11M626 444v11M628 444v11M632 444v11M634 444v11M636 444v11M638 444v11M640 444v11"/>
<path stroke="#00ff31" stroke-width="1" fill="none" d="M151.5 61v3M151.5 324v6M151.5 351v6M151.5 378v6M152.5 330v3M152.5 339v3M152.5 348v3M152.5 360v6M152.5 372v9M152.5 387v9M153.5 61v3M153.5 369v3M154.5 315v3M154.5 324v3M154.5 363v6M154.5 381v3M154.5 396v6M155.5 357v3M155.5 369v3M155.5 378v3M156.5 61v3M156.5 324v6M156.5 357v3M156.5 363v3M156.5 369v3M156.5 390v3M157.5 301v3M157.5 357v6M157.5 366v3M157.5 375v6M157.5 384v3M158.5 262v3M158.5 268v3M158.5 286v6M158.5 363v3M158.5 372v6M158.5 384v3M159.5 241v3M159.5 247v6M159.5 265v3M159.5 271v6M159.5 354v3M159.5 372v6M159.5 387v3M160.5 274v3M160.5 378v3M160.5 393v3M160.5 402v3M161.5 214v3M161.5 271v3M161.5 280v3M161.5 289v3M161.5 295v3M161.5 304v2M161.5 396v3M162.5 259v3M162.5 271v3M162.5 292v3M162.5 298v6M162.5 357v6M163.5 214v3M163.5 238v3M163.5 247v3M163.5 268v3M163.5 274v3M163.5 357v3M163.5 372v6M163.5 381v9M163.5 396v3M164.5 232v3M164.5 289v3M164.5 295v3M164.5 330v3M165.5 247v3M165.5 256v9M165.5 301v3M165.5 312v3M166.5 160v3M166.5 175v3M166.5 187v3M166.5 193v3M166.5 238v3M166.5 253v3M166.5 277v3M167.5 64v3M167.5 172v3M167.5 178v3M167.5 184v3M167.5 265v3M167.5 277v3M168.5 172v3M168.5 190v3M169.5 163v3M169.5 175v3M169.5 193v3M170.5 163v3M170.5 360v6M170.5 375v3M170.5 381v3M170.5 390v3M171.5 187v3M171.5 193v6M171.5 253v3M171.5 312v3M171.5 324v3M171.5 333v6M171.5 348v3M171.5 354v3M171.5 360v3M171.5 384v3M171.5 402v3M172.5 160v3M172.5 166v3M172.5 172v6M172.5 187v3M172.5 193v3M172.5 208v3M172.5 214v6M172.5 226v3M173.5 214v3M173.5 375v9M173.5 396v3M174.5 241v6M174.5 280v3M174.5 289v6M174.5 298v3M174.5 304v2M175.5 298v3M176.5 226v3M176.5 238v3M176.5 280v3M176.5 312v3M177.5 250v9M178.5 238v3M178.5 256v3M178.5 262v3M178.5 268v3M178.5 277v6M178.5 295v3M179.5 163v3M179.5 229v3M179.5 250v3M179.5 262v3M179.5 268v3M179.5 292v3M180.5 247v9M180.5 265v3M180.5 292v3M182.5 220v3M182.5 241v6M182.5 250v3M182.5 280v6M182.5 304v2M182.5 318v3M183.5 265v3M184.5 217v3M184.5 223v3M184.5 232v3M184.5 268v3M185.5 229v3M185.5 259v3M185.5 298v3M185.5 304v2M186.5 217v3M186.5 244v3M186.5 265v3M186.5 271v3M186.5 283v3M186.5 298v3M187.5 247v3M187.5 256v3M187.5 280v3M187.5 286v3M187.5 301v5M188.5 277v3M189.5 244v3M189.5 265v3M189.5 277v3M189.5 283v3M190.5 250v3M191.5 286v3M191.5 295v9M192.5 247v3M192.5 277v3M192.5 286v3M193.5 217v3M193.5 253v3M193.5 283v3M193.5 292v3M193.5 301v3M194.5 223v6M194.5 262v3M194.5 280v3M194.5 301v5M194.5 336v3M195.5 217v6M195.5 280v3M195.5 289v3M195.5 342v6M195.5 351v3M195.5 357v3M196.5 259v3M196.5 265v3M196.5 312v3M196.5 333v3M196.5 363v6M197.5 295v3M197.5 304v2M198.5 286v3M198.5 301v3M199.5 235v3M199.5 271v3M199.5 277v6M199.5 289v6M200.5 232v3M200.5 238v3M200.5 244v3M200.5 259v3M200.5 277v3M200.5 283v3M200.5 298v3M201.5 232v3M201.5 259v3M201.5 265v3M201.5 283v6M202.5 262v3M202.5 274v6M202.5 304v2M203.5 265v3M203.5 280v3M203.5 298v3M204.5 235v3M204.5 262v3M204.5 301v3M204.5 333v3M205.5 244v6M205.5 253v6M205.5 265v3M205.5 298v3M205.5 324v3M205.5 354v6M205.5 366v3M206.5 250v3M206.5 256v9M206.5 354v3M206.5 360v3M206.5 372v3M206.5 378v3M206.5 384v6M207.5 256v3M207.5 292v3M207.5 366v3M207.5 372v3M207.5 393v3M207.5 402v3M208.5 277v3M208.5 289v6M208.5 301v3M209.5 241v3M209.5 265v3M209.5 301v3M209.5 324v6M209.5 333v3M209.5 348v3M209.5 354v3M210.5 268v6M210.5 277v3M210.5 390v3M210.5 399v3M211.5 256v3M211.5 339v3M212.5 262v3M212.5 304v2M212.5 339v3M212.5 360v3M212.5 366v3M212.5 375v3M212.5 393v3M213.5 235v3M213.5 265v3M213.5 271v3M213.5 280v3M213.5 286v3M213.5 304v2M213.5 318v3M213.5 324v3M213.5 336v3M214.5 235v3M214.5 277v3M214.5 315v9M215.5 268v3M215.5 298v6M216.5 241v9M216.5 253v3M216.5 274v3M216.5 301v3M216.5 324v6M217.5 238v3M217.5 250v3M217.5 256v3M217.5 271v3M217.5 277v3M218.5 244v3M218.5 265v3M218.5 271v3M218.5 277v3M218.5 286v3M218.5 301v5M218.5 312v3M218.5 327v6M218.5 336v3M219.5 250v3M219.5 268v6M219.5 280v3M219.5 289v3M219.5 342v3M219.5 363v3M219.5 384v3M220.5 244v3M220.5 250v15M221.5 250v3M221.5 262v3M221.5 274v9M221.5 295v3M221.5 301v5M221.5 360v3M221.5 396v3M222.5 247v3M222.5 348v3M222.5 402v3M223.5 238v3M223.5 247v3M223.5 256v3M223.5 312v3M223.5 402v3M224.5 196v3M224.5 262v3M224.5 277v3M224.5 295v3M224.5 354v3M225.5 199v3M225.5 235v3M225.5 247v3M225.5 265v3M225.5 315v6M226.5 190v3M226.5 199v3M226.5 229v6M226.5 274v3M226.5 292v3M227.5 220v3M227.5 226v6M227.5 244v3M227.5 330v3M228.5 193v3M228.5 205v6M228.5 232v3M228.5 271v3M228.5 283v3M228.5 402v3M229.5 196v6M229.5 205v6M229.5 286v3M229.5 295v3M230.5 205v3M230.5 223v6M230.5 247v3M230.5 253v3M230.5 271v3M230.5 280v3M230.5 298v3M230.5 363v3M231.5 187v3M231.5 208v3M231.5 399v6M232.5 181v3M232.5 235v6M232.5 351v3M232.5 360v3M232.5 381v3M233.5 187v3M233.5 196v3M233.5 220v3M233.5 232v3M233.5 241v3M233.5 351v6M234.5 235v3M234.5 244v3M234.5 253v3M235.5 181v3M235.5 223v3M235.5 241v3M235.5 253v3M236.5 232v6M236.5 244v3M236.5 250v3M237.5 205v3M237.5 226v3M237.5 253v3M237.5 363v3M237.5 372v6M237.5 381v3M238.5 187v3M238.5 199v3M238.5 205v3M238.5 238v6M239.5 193v3M239.5 301v3M239.5 354v6M240.5 208v3M240.5 226v3M240.5 235v3M240.5 265v3M240.5 280v3M240.5 289v3M241.5 214v3M241.5 235v3M241.5 241v6M241.5 259v3M241.5 271v3M241.5 295v3M242.5 220v3M242.5 271v3M242.5 286v3M242.5 295v6M242.5 363v3M243.5 193v3M243.5 208v3M243.5 223v3M243.5 277v3M243.5 298v3M244.5 211v3M244.5 226v3M244.5 241v3M244.5 253v6M244.5 271v3M244.5 283v3M244.5 289v3M244.5 301v3M245.5 208v3M245.5 220v6M245.5 238v3M245.5 250v3M245.5 259v3M245.5 289v3M245.5 369v3M245.5 384v6M246.5 184v6M246.5 193v3M246.5 202v6M246.5 250v3M246.5 256v6M246.5 312v3M246.5 324v3M246.5 342v3M247.5 211v6M247.5 304v2M247.5 318v3M247.5 378v3M247.5 384v6M248.5 223v3M248.5 241v3M248.5 250v3M248.5 265v3M248.5 277v3M248.5 286v3M248.5 292v3M248.5 304v2M248.5 315v3M248.5 330v3M248.5 339v3M248.5 348v3M248.5 357v6M248.5 369v3M248.5 375v3M248.5 384v3M248.5 393v3M249.5 196v3M249.5 235v3M249.5 262v3M249.5 271v6M249.5 283v3M249.5 295v3M249.5 363v6M250.5 217v3M250.5 229v3M250.5 238v3M250.5 283v3M250.5 301v3M250.5 324v3M251.5 211v3M251.5 253v3M251.5 295v3M251.5 333v3M252.5 226v3M252.5 253v6M252.5 265v3M252.5 271v6M252.5 280v6M253.5 223v9M253.5 256v3M253.5 262v6M253.5 301v5M254.5 259v3M254.5 277v3M254.5 286v6M254.5 295v3M255.5 247v3M255.5 256v3M255.5 262v3M255.5 289v6M255.5 327v3M256.5 271v3M256.5 298v3M257.5 283v3M258.5 259v3M258.5 265v6M258.5 301v3M259.5 259v6M260.5 301v3M261.5 265v6M261.5 312v3M261.5 321v3M261.5 345v3M262.5 238v3M262.5 244v9M262.5 259v6M262.5 289v3M262.5 295v3M262.5 304v2M262.5 354v3M262.5 378v3M262.5 387v3M262.5 396v6M263.5 247v3M263.5 265v3M263.5 357v6M263.5 399v3M264.5 250v3M264.5 259v6M264.5 268v6M264.5 277v3M264.5 318v6M264.5 336v3M264.5 354v3M264.5 387v6M264.5 396v6M265.5 262v3M265.5 289v3M265.5 301v3M265.5 336v6M265.5 363v6M266.5 262v6M266.5 390v3M267.5 241v3M268.5 250v3M268.5 348v3M269.5 244v3M269.5 250v3M269.5 354v3M269.5 372v3M269.5 378v3M269.5 393v6M270.5 250v3M270.5 381v3M271.5 253v3M271.5 351v3M271.5 357v3M271.5 363v3M271.5 369v3M271.5 378v6M271.5 396v3M271.5 402v3M272.5 259v6M272.5 354v3M272.5 363v3M272.5 369v3M272.5 399v3M273.5 402v3M274.5 253v3M274.5 259v3M274.5 360v3M274.5 366v3M274.5 375v3M275.5 214v6M275.5 238v3M275.5 244v6M275.5 348v9M275.5 369v3M276.5 202v9M276.5 217v3M276.5 223v3M276.5 286v3M276.5 292v3M276.5 298v3M276.5 348v3M276.5 354v3M276.5 360v6M276.5 369v3M277.5 202v3M277.5 232v6M277.5 274v3M277.5 301v3M277.5 348v3M277.5 360v3M277.5 381v6M277.5 402v3M278.5 238v3M278.5 262v3M278.5 280v3M278.5 292v3M278.5 348v6M278.5 378v3M278.5 384v6M278.5 396v3M279.5 187v3M279.5 196v3M279.5 256v6M279.5 298v3M279.5 354v3M279.5 363v6M279.5 384v12M280.5 268v6M280.5 280v3M280.5 375v9M280.5 387v6M280.5 399v3M281.5 271v3M281.5 399v3M282.5 211v3M282.5 226v3M282.5 244v3M282.5 268v3M282.5 274v3M282.5 351v3M282.5 387v3M283.5 247v3M283.5 253v3M283.5 274v3M283.5 289v3M283.5 295v6M283.5 366v3M283.5 396v3M283.5 402v3M284.5 247v3M284.5 256v3M284.5 366v3M285.5 217v3M285.5 265v3M285.5 271v3M285.5 289v3M285.5 324v3M285.5 348v3M285.5 357v6M285.5 366v3M285.5 384v6M285.5 396v3M286.5 205v3M286.5 226v3M286.5 232v3M286.5 241v3M286.5 250v3M286.5 259v3M286.5 265v3M286.5 274v6M286.5 286v3M286.5 292v3M286.5 369v15M286.5 390v3M286.5 402v3M287.5 214v3M287.5 247v3M287.5 256v3M287.5 274v6M287.5 292v9M287.5 360v3M287.5 366v3M287.5 372v3M287.5 378v3M287.5 390v3M288.5 199v3M288.5 247v3M288.5 256v3M288.5 327v3M288.5 363v3M288.5 375v3M288.5 387v3M289.5 199v3M289.5 205v3M289.5 238v3M289.5 250v3M289.5 265v3M289.5 286v6M289.5 304v2M289.5 318v3M289.5 336v3M289.5 363v3M289.5 378v3M290.5 199v3M290.5 232v6M290.5 265v6M290.5 304v2M290.5 387v3M291.5 235v3M291.5 262v3M291.5 301v5M291.5 312v3M291.5 345v3M291.5 360v3M291.5 369v9M291.5 396v6M292.5 196v3M292.5 256v3M292.5 280v3M292.5 384v12M293.5 214v3M293.5 229v6M293.5 253v3M293.5 262v3M293.5 268v3M293.5 277v3M293.5 289v3M293.5 301v3M294.5 211v3M294.5 241v3M295.5 220v6M295.5 244v3M295.5 271v3M296.5 199v3M296.5 271v3M297.5 187v3M297.5 223v3M298.5 196v3M298.5 202v3M298.5 214v3M298.5 220v6M298.5 229v3M298.5 259v3M299.5 238v3M300.5 229v3M301.5 199v3M302.5 241v3M302.5 250v3M303.5 184v3M303.5 196v6M303.5 223v3M303.5 369v3M304.5 202v3M304.5 223v3M304.5 238v3M305.5 196v3M305.5 202v3M305.5 211v3M305.5 217v3M305.5 223v3M305.5 244v3M306.5 205v3M306.5 238v3M307.5 235v3M308.5 187v3M308.5 217v3M309.5 202v12M309.5 223v3M309.5 244v3M310.5 238v9M311.5 199v6M311.5 223v3M312.5 202v9M312.5 214v3M312.5 229v3M313.5 205v3M313.5 229v3M314.5 205v3M314.5 211v6M315.5 208v6M315.5 232v3M316.5 211v6M316.5 220v3M316.5 226v3M316.5 244v3M317.5 205v3M317.5 211v6M317.5 226v3M318.5 205v3M318.5 211v3M318.5 220v3M318.5 235v3M318.5 241v3M319.5 208v6M319.5 229v3M319.5 241v3M320.5 205v3M321.5 232v3M321.5 253v6M322.5 217v3M322.5 244v3M322.5 304v2M322.5 348v3M323.5 217v3M323.5 226v3M323.5 256v3M324.5 217v3M324.5 312v3M325.5 214v6M325.5 226v3M325.5 241v3M325.5 250v3M325.5 256v3M326.5 214v3M326.5 232v3M326.5 241v3M326.5 247v3M326.5 259v3M326.5 286v6M326.5 304v2M327.5 235v3M327.5 247v3M327.5 280v3M327.5 301v3M328.5 211v6M328.5 232v3M329.5 235v3M329.5 253v3M331.5 202v3M331.5 259v3M331.5 277v3M331.5 283v3M332.5 205v3M332.5 220v3M332.5 250v3M332.5 280v3M333.5 229v3M333.5 250v3M333.5 289v3M334.5 214v6M334.5 226v3M334.5 232v3M334.5 253v3M334.5 259v3M334.5 265v6M334.5 277v3M334.5 304v2M335.5 220v3M335.5 238v6M335.5 271v3M336.5 217v3M336.5 235v3M336.5 241v3M336.5 247v3M336.5 271v3M336.5 312v6M336.5 327v3M337.5 235v3M337.5 247v3M337.5 286v3M337.5 312v3M337.5 321v3M338.5 229v3M338.5 244v3M338.5 283v12M338.5 330v3M339.5 256v6M339.5 268v3M339.5 277v3M339.5 292v3M339.5 312v6M339.5 372v3M340.5 217v3M340.5 235v3M340.5 241v6M340.5 256v3M340.5 283v3M340.5 378v3M341.5 289v6M341.5 354v6M341.5 372v3M341.5 393v6M341.5 402v3M342.5 250v6M342.5 277v9M342.5 289v3M342.5 301v3M342.5 315v3M342.5 342v3M342.5 357v3M342.5 375v6M342.5 384v3M343.5 244v3M343.5 271v3M343.5 304v2M343.5 333v3M343.5 378v3M343.5 387v3M344.5 256v6M344.5 286v6M344.5 298v3M344.5 304v2M344.5 390v3M344.5 396v3M158.5 428v6M163.5 428v6M190.5 428v6M191.5 428v6M224.5 428v6M227.5 434v10M234.5 428v6M236.5 428v6M240.5 428v6M245.5 428v6M251.5 428v6M335.5 428v6"/>
<path stroke="#00ff31" stroke-width="2" fill="none" d="M146 52v3M148 52v3M150 52v3M346 259v9M346 277v3M346 283v3M346 301v3M346 333v3M346 387v3M348 271v3M348 283v3M348 298v6M348 324v3M348 369v3M348 381v3M348 390v3M348 396v3M350 283v6M350 327v3M350 333v6M350 360v3M350 366v3M350 375v6M352 292v3M352 357v6M352 366v3M352 399v3M354 271v3M354 330v3M354 363v3M356 277v3M356 292v3M356 327v6M356 381v12M358 378v6M358 387v3M358 396v3M360 283v3M360 289v6M360 330v3M360 366v6M360 375v3M360 387v3M362 259v3M362 354v3M362 360v6M362 375v3M364 330v3M364 363v3M366 375v6M368 324v3M368 330v3M370 286v3M370 330v3M376 327v3M380 321v6M380 366v3M380 372v3M382 369v3M386 369v3M388 327v3M388 363v6M392 366v3M394 366v6M396 402v3M398 366v6M400 327v3M400 363v3M400 369v6M404 372v3M406 327v3M406 363v6M408 357v3M410 327v3M410 369v3M414 363v3M416 375v3M418 369v6M422 327v3M422 360v3M422 366v3M424 327v3M424 363v3M424 369v3M430 354v3M430 369v3M434 327v3M434 360v3M436 357v3M438 366v3M440 366v3M444 369v3M450 360v6M454 327v3M454 369v3M458 324v3M458 366v6M460 327v3M462 363v3M462 372v3M464 327v3M468 366v3M470 369v3M472 366v3M476 327v3M478 369v3M480 369v3M482 327v3M484 327v3M484 369v3M486 324v3M490 366v6M492 366v3M494 366v3M496 360v3M498 366v6M502 327v3M504 324v3M504 369v3M508 324v3M508 363v9M510 324v3M510 366v3M512 327v3M516 363v3M518 363v3M522 363v3M524 330v3M524 336v3M524 363v6M528 336v6M528 348v3M528 354v3M528 360v6M530 336v3M530 363v3M530 372v3M532 327v3M532 333v3M532 369v3M534 324v3M534 366v3M536 327v3M536 360v3M538 339v6M538 348v3M538 366v3M538 372v3M540 363v9M542 363v6M544 327v3M544 339v3M544 360v6M546 351v12M546 366v6M548 357v6M548 372v6M550 324v3M552 345v3M554 336v9M554 363v3M554 369v6M556 327v3M556 333v3M556 357v3M558 324v6M558 345v3M558 354v3M562 327v3M562 348v3M562 363v3M564 324v3M564 333v6M564 342v6M564 357v3M568 327v6M568 339v3M568 348v12M570 330v6M570 357v3M570 366v3M572 363v3M574 363v3M576 333v3M580 357v3M582 360v3M584 357v3M584 366v3M586 339v6M588 342v3M588 351v3M590 327v3M590 333v3M590 339v3M590 348v3M592 324v3M592 348v3M594 330v9M596 363v3M598 360v3M600 327v3M600 333v3M602 336v3M604 330v3M604 360v3M606 327v3M606 351v3M608 363v3M610 360v6M612 330v3M612 336v3M612 348v3M612 354v3M612 360v3M614 327v3M614 333v3M614 357v6M616 330v3M616 363v3M618 327v3M618 363v3M620 330v3M620 351v3M622 336v3M622 360v3M624 327v3M624 339v3M624 354v3M624 363v3M626 330v3M626 351v3M626 357v3M628 345v3M628 354v3M630 336v3M630 357v3M630 366v6M632 339v6M632 348v3M634 327v3M634 348v3M634 360v3M636 363v6M350 434v10M352 434v10M354 434v10M356 444v11M358 434v10M366 434v10M368 434v21M372 444v11M380 444v11M382 444v11M384 444v11M388 444v11M394 444v11M396 444v20M398 444v11M408 444v11M410 444v11M412 444v11M414 455v9M416 444v11M422 444v11M432 444v11M444 444v11M450 455v9M454 444v11M460 444v11M462 444v11M464 444v11M472 444v11M474 455v9M476 444v11M480 455v9M482 444v11M484 455v9M486 444v11M500 455v9M504 444v11M506 444v11M514 444v11M520 444v11M524 444v11M540 444v11M542 444v11M544 444v11M552 455v9M554 444v11M558 444v11M564 444v11M578 444v11M590 444v11M592 444v11M598 444v11M602 455v9M614 444v11M624 444v11M628 455v9M630 455v9M642 444v11"/>
<path stroke="#00ff18" stroke-width="1" fill="none" d="M151.5 321v3M151.5 330v6M151.5 357v12M151.5 384v9M152.5 351v6M153.5 345v12M153.5 366v3M153.5 378v3M153.5 390v3M154.5 318v3M154.5 372v3M154.5 390v3M155.5 351v6M155.5 360v9M155.5 384v3M155.5 396v3M156.5 351v6M156.5 387v3M157.5 61v3M157.5 298v3M157.5 348v3M157.5 354v3M157.5 396v3M158.5 348v3M158.5 360v3M158.5 390v3M159.5 396v3M160.5 253v3M160.5 301v3M160.5 351v3M160.5 369v3M160.5 375v3M160.5 387v3M161.5 220v3M161.5 226v3M161.5 244v3M161.5 262v3M161.5 298v3M162.5 247v3M162.5 262v3M162.5 277v3M162.5 283v3M162.5 342v6M162.5 366v3M162.5 375v6M163.5 229v3M163.5 262v3M163.5 271v3M163.5 283v3M163.5 354v3M163.5 360v3M164.5 220v3M164.5 244v3M164.5 250v6M164.5 259v3M164.5 265v3M164.5 271v3M164.5 277v3M164.5 348v6M164.5 399v3M165.5 151v3M165.5 157v3M165.5 169v3M166.5 64v3M166.5 154v6M166.5 199v9M166.5 232v6M166.5 250v3M166.5 304v2M167.5 187v3M167.5 241v3M167.5 304v2M168.5 163v3M168.5 169v3M168.5 187v3M169.5 157v6M169.5 166v3M169.5 172v3M170.5 166v3M170.5 378v3M170.5 384v3M170.5 393v3M171.5 172v3M171.5 315v6M171.5 351v3M171.5 366v3M172.5 229v3M172.5 238v3M172.5 271v3M173.5 211v3M173.5 217v3M173.5 366v3M174.5 256v6M174.5 274v6M174.5 286v3M175.5 250v3M176.5 241v6M176.5 277v3M176.5 283v3M177.5 259v3M177.5 265v3M177.5 274v3M177.5 289v3M178.5 232v3M178.5 253v3M178.5 271v6M178.5 298v3M179.5 265v3M179.5 271v6M179.5 283v9M180.5 268v3M180.5 274v3M180.5 283v3M181.5 256v3M181.5 262v3M181.5 268v9M182.5 235v3M182.5 321v6M184.5 214v3M184.5 247v3M184.5 256v3M184.5 262v3M184.5 271v3M185.5 253v3M185.5 268v6M185.5 277v3M185.5 283v9M185.5 295v3M186.5 226v3M186.5 238v3M186.5 259v3M186.5 301v3M187.5 235v3M187.5 250v3M187.5 259v3M188.5 235v3M188.5 250v6M188.5 298v3M189.5 256v3M189.5 268v3M189.5 286v3M189.5 292v3M189.5 298v3M189.5 304v2M190.5 232v6M190.5 241v3M190.5 247v3M190.5 268v3M190.5 274v3M190.5 304v2M191.5 250v3M191.5 271v3M191.5 292v3M192.5 274v3M192.5 289v3M192.5 295v6M193.5 289v3M194.5 253v3M194.5 274v6M195.5 283v3M195.5 292v3M195.5 304v2M195.5 390v3M196.5 262v3M196.5 342v3M196.5 354v3M196.5 360v3M196.5 375v3M197.5 289v6M197.5 301v3M198.5 238v3M198.5 292v3M199.5 253v3M199.5 304v2M200.5 253v3M200.5 268v9M201.5 304v2M202.5 235v3M202.5 295v6M203.5 289v3M204.5 244v3M204.5 277v6M204.5 286v3M204.5 295v3M205.5 238v6M205.5 262v3M205.5 268v3M205.5 277v3M205.5 289v3M205.5 295v3M205.5 301v5M205.5 351v3M205.5 360v6M205.5 369v6M205.5 381v3M206.5 357v3M206.5 366v6M206.5 375v3M207.5 378v3M207.5 387v3M208.5 256v3M208.5 271v3M208.5 304v2M209.5 247v3M209.5 256v3M209.5 283v3M209.5 330v3M210.5 262v3M210.5 295v3M210.5 304v2M210.5 318v3M211.5 271v3M211.5 286v3M212.5 283v3M212.5 301v3M212.5 342v9M212.5 354v6M212.5 363v3M212.5 369v3M212.5 378v3M212.5 384v3M212.5 396v6M213.5 315v3M214.5 238v3M214.5 256v3M214.5 271v3M214.5 280v3M214.5 312v3M214.5 324v3M215.5 247v3M215.5 256v3M215.5 277v3M215.5 286v3M216.5 321v3M216.5 330v3M217.5 268v3M217.5 274v3M217.5 286v6M217.5 315v3M217.5 321v3M218.5 283v3M218.5 289v6M218.5 381v3M219.5 238v3M219.5 301v3M219.5 339v3M219.5 375v3M219.5 387v3M220.5 238v3M220.5 271v3M220.5 304v2M221.5 247v3M221.5 256v3M221.5 283v3M221.5 292v3M221.5 298v3M221.5 381v3M221.5 390v6M222.5 241v3M223.5 241v3M223.5 253v3M223.5 280v6M224.5 256v3M224.5 268v3M224.5 286v9M224.5 301v3M225.5 232v3M225.5 244v3M225.5 250v3M225.5 268v3M225.5 274v3M225.5 301v3M226.5 244v3M226.5 277v3M226.5 295v3M227.5 193v3M227.5 208v6M227.5 217v3M227.5 223v3M227.5 232v3M227.5 238v6M227.5 250v6M227.5 286v3M227.5 292v3M228.5 214v3M228.5 223v3M228.5 235v3M228.5 241v3M228.5 250v3M228.5 262v3M228.5 399v3M229.5 214v6M229.5 247v3M229.5 396v3M230.5 196v3M230.5 214v3M230.5 232v3M230.5 256v3M231.5 193v3M231.5 205v3M231.5 232v3M231.5 244v3M232.5 196v3M232.5 220v3M232.5 229v3M232.5 241v3M232.5 247v3M232.5 354v3M233.5 205v3M233.5 214v3M233.5 223v6M233.5 253v3M235.5 184v3M237.5 229v3M237.5 244v3M238.5 229v3M238.5 259v3M239.5 202v6M239.5 235v3M239.5 271v3M239.5 277v3M239.5 289v3M240.5 199v3M240.5 214v9M240.5 244v3M240.5 253v6M241.5 193v3M241.5 202v3M241.5 208v3M241.5 220v3M241.5 226v3M241.5 238v3M241.5 253v3M241.5 265v3M241.5 283v3M241.5 289v3M241.5 301v3M242.5 205v3M242.5 375v3M243.5 178v6M243.5 217v3M243.5 247v3M243.5 253v6M243.5 280v3M244.5 208v3M244.5 214v3M244.5 223v3M244.5 286v3M245.5 241v6M245.5 253v3M245.5 262v3M245.5 274v3M245.5 283v3M245.5 375v3M246.5 196v3M246.5 220v3M246.5 226v3M246.5 241v3M246.5 247v3M246.5 253v3M246.5 315v3M246.5 321v3M247.5 217v3M247.5 229v3M247.5 262v3M247.5 268v9M248.5 202v3M248.5 208v3M248.5 217v3M248.5 235v3M248.5 289v3M248.5 318v3M248.5 333v3M248.5 351v6M248.5 381v3M249.5 187v9M249.5 202v3M249.5 211v3M249.5 217v3M249.5 244v3M249.5 259v3M249.5 265v3M249.5 289v6M249.5 301v3M249.5 318v3M249.5 324v3M249.5 396v3M250.5 241v3M250.5 292v3M250.5 304v2M250.5 312v3M250.5 333v3M251.5 217v3M251.5 256v3M251.5 265v6M251.5 274v3M251.5 280v3M251.5 292v3M251.5 312v3M251.5 318v3M251.5 327v3M252.5 220v6M252.5 232v3M252.5 286v3M252.5 292v3M252.5 312v3M253.5 268v3M253.5 274v3M253.5 289v3M253.5 312v3M253.5 330v3M254.5 253v3M254.5 265v3M254.5 271v3M254.5 315v9M255.5 298v6M255.5 324v3M255.5 330v3M255.5 342v3M255.5 348v3M256.5 312v3M256.5 318v3M257.5 271v3M257.5 277v6M257.5 295v3M258.5 295v3M258.5 312v3M258.5 336v3M259.5 253v3M259.5 268v6M259.5 345v3M260.5 304v2M261.5 256v3M261.5 327v3M261.5 378v3M261.5 399v3M262.5 253v3M262.5 318v3M262.5 348v3M262.5 366v3M263.5 253v3M263.5 271v3M263.5 298v3M263.5 312v3M263.5 318v3M263.5 324v3M263.5 330v6M263.5 342v9M263.5 363v3M263.5 369v3M263.5 375v3M263.5 381v6M264.5 244v3M264.5 256v3M264.5 274v3M264.5 339v3M265.5 241v3M265.5 256v3M265.5 265v6M265.5 295v3M265.5 345v6M265.5 381v3M266.5 402v3M267.5 265v3M267.5 351v6M268.5 244v6M268.5 256v3M268.5 363v3M269.5 253v3M269.5 351v3M269.5 360v3M269.5 384v3M271.5 244v3M271.5 250v3M271.5 354v3M271.5 360v3M271.5 372v3M271.5 399v3M272.5 238v3M272.5 256v3M272.5 402v3M274.5 193v3M274.5 345v3M274.5 369v6M274.5 378v3M275.5 205v6M275.5 372v3M275.5 378v3M275.5 384v3M275.5 390v3M275.5 396v3M276.5 211v6M276.5 229v12M276.5 253v3M276.5 351v3M276.5 357v3M276.5 372v12M277.5 205v3M277.5 223v3M277.5 241v3M277.5 259v3M277.5 277v3M277.5 295v6M277.5 304v2M277.5 351v6M277.5 369v3M277.5 375v6M278.5 256v3M278.5 354v3M278.5 372v3M279.5 253v3M279.5 280v6M279.5 372v3M280.5 205v3M280.5 250v3M280.5 259v3M280.5 274v3M280.5 292v3M281.5 205v3M281.5 253v3M281.5 262v3M281.5 274v3M281.5 286v3M281.5 304v2M281.5 402v3M282.5 250v9M282.5 262v3M282.5 271v3M282.5 280v3M282.5 295v3M282.5 301v3M282.5 372v6M282.5 390v3M283.5 259v6M283.5 277v3M283.5 304v2M283.5 351v3M283.5 399v3M284.5 196v3M284.5 235v3M284.5 244v3M284.5 259v3M284.5 271v6M284.5 351v3M285.5 208v3M285.5 220v3M285.5 256v6M285.5 339v3M285.5 363v3M286.5 217v9M286.5 229v3M286.5 235v3M286.5 247v3M286.5 262v3M286.5 268v3M286.5 324v3M286.5 330v3M286.5 387v3M287.5 211v3M287.5 226v3M287.5 244v3M287.5 259v3M287.5 280v3M287.5 351v3M287.5 363v3M287.5 381v3M287.5 393v3M287.5 402v3M288.5 196v3M288.5 226v3M288.5 241v3M288.5 250v3M288.5 268v6M288.5 280v6M288.5 342v9M288.5 354v3M288.5 369v3M288.5 390v3M288.5 396v3M288.5 402v3M289.5 187v6M289.5 196v3M289.5 208v3M289.5 271v9M289.5 366v6M289.5 375v3M289.5 384v3M289.5 390v3M290.5 202v3M290.5 214v3M290.5 262v3M290.5 280v3M290.5 301v3M290.5 333v6M290.5 381v6M290.5 390v6M291.5 259v3M291.5 286v3M291.5 292v6M291.5 315v3M291.5 321v3M291.5 327v3M291.5 366v3M291.5 390v6M292.5 208v3M292.5 217v3M292.5 226v3M292.5 304v2M292.5 381v3M292.5 396v3M292.5 402v3M293.5 220v3M293.5 226v3M293.5 247v6M293.5 271v6M293.5 286v3M293.5 292v3M293.5 304v2M294.5 220v3M294.5 256v3M294.5 268v3M295.5 184v3M295.5 190v3M295.5 196v3M295.5 253v3M296.5 208v9M296.5 229v3M296.5 262v6M297.5 184v3M297.5 196v3M297.5 229v3M297.5 259v3M298.5 217v3M298.5 226v3M298.5 247v6M299.5 220v3M299.5 235v3M300.5 202v3M300.5 223v3M300.5 235v6M300.5 381v3M301.5 196v3M302.5 232v3M302.5 244v3M303.5 190v3M303.5 226v6M303.5 372v3M303.5 384v3M304.5 208v3M304.5 217v3M304.5 226v3M305.5 208v3M305.5 235v6M305.5 247v3M306.5 217v6M306.5 399v3M307.5 211v3M307.5 226v3M307.5 244v3M308.5 184v3M308.5 190v3M309.5 226v3M309.5 238v3M309.5 253v3M309.5 259v6M310.5 196v3M310.5 202v3M310.5 208v6M310.5 220v3M310.5 232v6M310.5 304v2M311.5 205v6M311.5 220v3M312.5 223v3M312.5 238v3M313.5 214v6M313.5 241v3M314.5 202v3M314.5 244v3M315.5 199v6M315.5 217v6M315.5 229v3M316.5 229v6M316.5 247v3M317.5 223v3M317.5 235v3M318.5 199v3M318.5 238v3M318.5 244v3M319.5 217v6M319.5 289v3M320.5 229v3M320.5 304v2M321.5 193v3M321.5 202v6M321.5 214v3M321.5 229v3M321.5 238v3M321.5 244v6M321.5 259v3M322.5 223v3M322.5 238v3M323.5 211v3M323.5 220v3M323.5 253v3M323.5 259v3M323.5 301v5M324.5 190v3M324.5 205v3M325.5 259v3M325.5 265v3M325.5 286v6M325.5 304v2M326.5 217v12M326.5 235v3M326.5 256v3M327.5 226v3M327.5 286v3M327.5 292v3M327.5 298v3M327.5 304v2M328.5 226v6M328.5 277v3M328.5 283v3M328.5 295v9M329.5 259v3M329.5 268v3M329.5 277v3M330.5 211v6M330.5 226v3M330.5 277v3M331.5 217v6M331.5 238v3M331.5 253v3M331.5 265v3M332.5 292v3M333.5 214v3M333.5 223v3M333.5 265v3M333.5 283v3M333.5 292v3M333.5 304v2M334.5 220v3M334.5 229v3M334.5 241v6M334.5 298v6M334.5 312v3M334.5 378v3M335.5 259v3M335.5 265v3M335.5 289v3M335.5 304v2M335.5 315v3M335.5 321v3M335.5 330v3M335.5 345v3M336.5 211v6M336.5 223v3M336.5 229v6M336.5 244v3M336.5 280v3M336.5 318v3M336.5 333v3M336.5 345v3M337.5 241v3M337.5 304v2M337.5 399v3M338.5 241v3M338.5 247v3M338.5 256v3M338.5 277v6M338.5 318v3M338.5 327v3M338.5 381v3M339.5 253v3M339.5 271v6M339.5 283v3M339.5 289v3M339.5 301v3M339.5 363v9M339.5 399v6M340.5 274v3M340.5 280v3M340.5 298v6M340.5 333v3M340.5 351v3M340.5 399v6M341.5 256v3M341.5 265v3M341.5 271v3M341.5 295v6M341.5 304v2M341.5 327v3M341.5 345v6M341.5 360v6M341.5 375v3M342.5 295v3M342.5 318v9M342.5 330v9M342.5 354v3M342.5 381v3M343.5 259v3M343.5 274v12M343.5 330v3M343.5 342v3M343.5 390v3M344.5 280v6M344.5 292v3M344.5 327v3M344.5 384v6M344.5 393v3M157.5 428v6M178.5 428v6M183.5 428v6M185.5 428v6M228.5 434v10M231.5 428v6M232.5 434v10M252.5 428v6"/>
<path stroke="#00ff18" stroke-width="2" fill="none" d="M146 64v3M146 295v11M148 64v3M148 295v11M150 64v3M150 295v11M346 271v3M346 286v3M346 369v6M346 390v6M348 286v12M348 327v3M348 372v3M348 378v3M348 384v6M348 399v3M350 289v3M350 345v3M350 357v3M352 262v3M352 271v3M352 298v3M352 339v6M352 351v6M354 295v3M354 342v12M354 402v3M356 333v3M356 351v6M356 372v6M356 393v3M356 399v3M358 327v6M358 390v3M360 360v6M360 402v3M364 327v3M364 396v6M366 330v3M366 381v3M368 327v3M368 363v3M368 369v3M368 375v6M370 372v3M370 378v3M372 330v3M374 363v3M378 375v3M380 327v3M380 378v3M384 366v3M386 366v3M386 372v3M388 369v3M390 363v3M390 369v3M392 330v3M392 363v3M394 327v3M394 360v3M396 354v3M396 369v3M398 327v3M398 363v3M404 366v6M406 330v3M406 360v3M412 357v3M414 360v3M416 357v3M416 363v3M416 369v3M418 366v3M420 357v3M424 357v3M426 327v6M426 360v6M426 369v3M428 327v3M428 360v6M428 369v3M430 327v3M430 363v3M432 363v6M436 354v3M440 327v3M440 363v3M442 363v3M444 363v3M446 369v3M450 324v3M452 327v3M458 327v3M460 366v3M462 366v6M464 360v3M466 369v3M468 327v3M470 327v3M470 363v6M474 366v3M476 369v3M478 363v3M480 366v3M490 363v3M494 327v3M496 357v3M498 327v3M498 354v6M498 363v3M500 327v3M504 327v3M504 351v3M504 363v3M506 360v3M512 357v6M512 366v3M514 345v3M514 360v3M516 330v3M516 369v6M518 327v3M518 336v3M520 324v3M522 327v3M522 348v6M524 348v3M524 360v3M526 324v3M528 324v3M528 342v6M528 366v3M532 330v3M532 336v6M532 354v3M534 327v3M534 360v3M536 339v3M536 357v3M536 363v3M538 327v6M538 351v3M538 357v9M538 369v3M540 339v9M540 360v3M542 327v3M542 333v3M542 360v3M542 369v3M544 330v3M544 336v3M546 324v3M546 330v9M546 363v3M548 351v6M550 330v3M550 345v3M550 354v6M550 366v3M552 360v3M554 330v3M554 360v3M556 330v3M556 339v3M556 360v3M558 330v6M558 339v3M558 348v3M560 360v3M562 336v3M562 351v3M562 360v3M564 339v3M564 354v3M564 360v3M566 327v3M566 348v3M566 357v12M568 333v3M568 342v3M570 327v3M570 336v6M572 327v3M572 354v3M572 360v3M574 327v3M576 336v3M576 363v3M578 327v3M578 342v3M578 348v3M578 354v3M578 360v3M580 333v3M580 348v3M580 363v3M582 330v3M582 339v3M582 357v3M582 366v3M584 339v3M584 351v6M586 333v6M586 345v3M586 357v3M586 363v3M588 336v3M588 348v3M588 360v3M590 330v3M590 345v3M590 357v3M592 342v6M592 351v9M594 339v3M594 363v3M598 327v3M598 336v3M600 330v3M600 336v3M600 363v6M602 330v3M602 342v3M602 360v3M602 366v3M606 345v3M606 357v3M608 357v3M610 345v6M612 339v3M612 345v3M616 327v3M616 336v6M616 354v3M618 330v3M618 336v3M618 342v3M618 357v3M620 333v3M620 348v3M620 357v3M624 330v3M624 336v3M624 342v6M624 357v3M626 333v6M626 345v6M628 336v3M628 351v3M630 330v6M630 345v3M630 360v3M632 333v6M632 351v3M632 357v3M634 339v3M634 357v3M634 363v3M636 330v3M146 428v6M146 444v11M148 428v6M148 444v11M150 428v6M150 444v11M348 428v6M352 444v11M354 444v11M360 434v10M366 444v11M368 455v9M370 444v20M372 455v9M374 444v20M376 455v9M378 444v20M382 455v9M384 455v9M386 444v11M392 455v9M402 444v11M404 444v11M406 455v9M408 455v9M410 455v9M412 455v9M416 455v9M418 444v20M420 455v9M424 455v9M426 455v9M428 455v9M430 455v9M432 455v9M436 455v9M438 455v9M440 455v9M442 455v9M446 455v9M448 455v9M452 455v9M454 455v9M456 455v9M458 455v9M464 455v9M466 455v9M468 455v9M470 455v9M478 455v9M482 455v9M486 455v9M488 455v9M490 455v9M492 455v9M494 455v9M496 455v9M498 455v9M502 455v9M506 455v9M508 455v9M510 455v9M512 455v9M518 455v9M522 455v9M524 455v9M528 455v9M530 455v9M532 455v9M534 455v9M536 455v9M538 455v9M540 455v9M542 455v9M544 455v9M546 455v9M548 455v9M550 455v9M554 455v9M556 455v9M558 455v9M560 455v9M562 455v9M564 455v9M566 455v9M568 455v9M570 455v9M572 455v9M574 455v9M576 455v9M578 455v9M580 455v9M582 455v9M584 455v9M586 455v9M588 455v9M594 455v9M596 455v9M600 455v9M604 455v9M606 455v9M608 455v9M612 455v9M616 455v9M618 455v9M620 455v9M622 455v9M626 455v9M632 455v21M634 455v9M636 455v9M638 455v9M640 455v9"/>
<path stroke="#0f0" stroke-width="1" fill="none" d="M153.5 357v3M153.5 372v3M153.5 381v9M153.5 393v12M154.5 393v3M154.5 402v3M155.5 372v6M155.5 387v3M156.5 372v3M156.5 378v9M156.5 399v6M157.5 351v3M157.5 363v3M157.5 387v3M158.5 369v3M158.5 381v3M158.5 393v3M158.5 402v3M159.5 253v3M159.5 259v3M159.5 357v3M159.5 378v3M159.5 390v3M160.5 277v3M160.5 348v3M160.5 363v3M160.5 372v3M160.5 390v3M161.5 247v3M161.5 253v6M161.5 283v3M161.5 351v6M162.5 238v3M162.5 253v3M162.5 280v3M162.5 348v3M162.5 363v3M162.5 384v3M163.5 235v3M163.5 250v6M163.5 277v3M163.5 292v3M163.5 348v3M163.5 363v3M164.5 229v3M164.5 262v3M164.5 268v3M164.5 283v6M164.5 292v3M164.5 360v3M165.5 148v3M165.5 226v3M165.5 253v3M165.5 277v3M165.5 283v3M166.5 196v3M166.5 259v6M166.5 274v3M166.5 283v6M166.5 295v6M167.5 157v3M167.5 163v3M167.5 190v3M167.5 259v3M167.5 268v6M168.5 160v3M168.5 271v3M169.5 151v3M169.5 190v3M169.5 241v3M170.5 169v9M170.5 366v6M170.5 387v3M171.5 157v3M171.5 184v3M171.5 199v3M171.5 357v3M171.5 369v6M171.5 378v6M172.5 163v3M172.5 184v3M172.5 190v3M173.5 226v3M173.5 235v3M173.5 253v3M173.5 259v3M173.5 265v3M173.5 271v3M173.5 298v3M174.5 301v3M175.5 259v6M175.5 271v3M176.5 223v3M176.5 250v3M176.5 274v3M176.5 289v3M176.5 298v6M176.5 321v6M177.5 268v3M178.5 250v3M178.5 265v3M178.5 283v9M179.5 277v3M179.5 295v3M180.5 271v3M180.5 277v6M181.5 280v6M182.5 295v3M184.5 253v3M184.5 265v3M184.5 274v3M185.5 280v3M185.5 292v3M186.5 253v3M187.5 277v3M187.5 298v3M188.5 286v3M189.5 280v3M189.5 295v3M189.5 301v3M190.5 256v3M190.5 283v3M191.5 241v3M191.5 256v3M192.5 244v3M192.5 259v3M192.5 265v6M193.5 265v3M193.5 280v3M194.5 268v3M194.5 286v3M195.5 253v3M195.5 286v3M195.5 295v9M195.5 387v3M195.5 393v3M196.5 253v3M196.5 268v3M196.5 315v9M196.5 330v3M196.5 336v3M196.5 345v3M196.5 357v3M196.5 378v3M196.5 384v3M196.5 396v3M197.5 274v3M197.5 298v3M199.5 286v3M200.5 247v6M200.5 262v3M202.5 256v3M202.5 265v3M202.5 280v3M202.5 301v3M203.5 283v3M203.5 333v3M204.5 283v3M204.5 289v6M204.5 330v3M205.5 259v3M205.5 375v3M205.5 384v9M205.5 396v6M206.5 390v6M207.5 262v6M207.5 369v3M207.5 381v6M209.5 244v3M209.5 262v3M209.5 274v3M210.5 283v3M210.5 298v3M210.5 402v3M212.5 259v3M212.5 289v3M212.5 298v3M212.5 351v3M212.5 372v3M212.5 387v6M213.5 250v3M213.5 259v3M213.5 351v3M214.5 327v3M214.5 333v3M216.5 238v3M216.5 262v3M216.5 271v3M216.5 312v3M217.5 253v3M217.5 259v3M217.5 265v3M217.5 298v3M217.5 312v3M217.5 324v9M218.5 280v3M218.5 357v3M218.5 375v6M219.5 253v3M219.5 265v3M219.5 283v3M219.5 295v3M219.5 345v12M219.5 369v6M220.5 274v9M220.5 286v3M220.5 298v3M221.5 238v3M221.5 268v6M221.5 286v3M223.5 292v3M223.5 298v3M224.5 265v3M225.5 256v3M225.5 271v3M225.5 277v3M225.5 283v6M226.5 235v3M226.5 247v3M226.5 253v3M226.5 298v6M227.5 202v3M227.5 235v3M227.5 256v6M227.5 268v3M227.5 277v3M227.5 321v3M228.5 202v3M228.5 247v3M228.5 259v3M228.5 265v6M229.5 181v3M229.5 202v3M229.5 226v3M229.5 235v3M229.5 241v3M230.5 190v3M230.5 208v6M230.5 229v3M231.5 181v3M231.5 190v3M231.5 196v3M231.5 202v3M231.5 217v3M231.5 229v3M231.5 247v3M232.5 184v9M232.5 199v6M232.5 211v3M232.5 223v3M232.5 250v3M233.5 199v3M235.5 187v9M235.5 205v3M235.5 226v3M236.5 202v3M237.5 360v3M238.5 253v3M239.5 196v3M239.5 238v6M239.5 247v3M239.5 274v3M239.5 283v3M239.5 298v3M240.5 190v3M240.5 196v3M240.5 223v3M240.5 229v6M240.5 241v3M240.5 247v3M241.5 205v3M241.5 217v3M241.5 223v3M241.5 247v3M241.5 262v3M242.5 292v3M243.5 187v3M243.5 226v3M243.5 235v3M243.5 244v3M243.5 259v3M243.5 265v3M243.5 274v3M243.5 286v3M243.5 295v3M244.5 205v3M244.5 229v6M244.5 238v3M244.5 250v3M244.5 262v3M244.5 295v3M245.5 202v3M245.5 214v3M245.5 232v3M245.5 247v3M245.5 256v3M245.5 268v3M245.5 280v3M245.5 301v5M245.5 366v3M246.5 199v3M246.5 211v3M246.5 229v3M246.5 235v3M246.5 244v3M246.5 265v3M246.5 277v6M246.5 295v3M246.5 304v2M247.5 202v3M247.5 208v3M247.5 244v3M247.5 250v3M247.5 277v6M247.5 298v3M248.5 193v6M248.5 238v3M248.5 247v3M248.5 262v3M248.5 280v3M248.5 298v6M248.5 324v3M248.5 396v6M249.5 208v3M249.5 223v3M249.5 268v3M249.5 321v3M249.5 369v3M249.5 375v3M249.5 384v6M249.5 399v3M250.5 211v3M250.5 223v6M250.5 232v6M250.5 244v3M250.5 265v3M250.5 315v9M250.5 327v6M250.5 336v3M250.5 342v3M251.5 208v3M251.5 214v3M251.5 241v3M251.5 259v6M251.5 277v3M251.5 315v3M251.5 324v3M251.5 330v3M252.5 211v6M252.5 247v3M252.5 259v3M252.5 268v3M252.5 295v3M252.5 315v3M253.5 259v3M253.5 277v6M253.5 298v3M253.5 315v3M253.5 324v3M253.5 333v3M255.5 250v3M255.5 312v3M255.5 333v3M255.5 351v3M256.5 268v3M256.5 274v3M256.5 315v3M256.5 333v3M257.5 312v3M258.5 262v3M258.5 318v3M258.5 324v3M259.5 256v3M259.5 327v3M259.5 336v3M259.5 357v6M260.5 345v3M261.5 253v3M261.5 318v3M261.5 339v6M261.5 348v3M261.5 354v6M261.5 375v3M261.5 381v3M262.5 283v3M262.5 321v3M262.5 330v3M262.5 336v9M262.5 351v3M262.5 363v3M262.5 375v3M262.5 402v3M263.5 241v6M263.5 250v3M263.5 321v3M263.5 366v3M263.5 387v6M264.5 253v3M264.5 283v3M265.5 244v3M265.5 253v3M265.5 274v3M265.5 375v3M268.5 241v3M269.5 247v3M272.5 244v3M274.5 256v3M274.5 348v3M274.5 357v3M275.5 357v12M275.5 375v3M275.5 381v3M275.5 387v3M276.5 244v3M276.5 250v3M276.5 259v9M277.5 208v3M277.5 214v3M277.5 220v3M277.5 229v3M277.5 244v3M277.5 286v3M277.5 372v3M277.5 390v3M278.5 226v12M278.5 250v6M278.5 369v3M278.5 375v3M279.5 190v3M279.5 235v3M279.5 241v3M279.5 268v6M279.5 286v3M279.5 295v3M279.5 301v3M279.5 351v3M279.5 381v3M280.5 253v3M280.5 265v3M280.5 301v3M281.5 265v3M281.5 280v3M281.5 295v3M281.5 301v3M282.5 208v3M282.5 229v3M282.5 238v3M282.5 286v6M283.5 268v3M283.5 283v6M284.5 232v3M284.5 238v3M284.5 250v3M284.5 262v3M284.5 283v3M284.5 301v5M285.5 214v3M285.5 229v3M285.5 327v3M286.5 244v3M286.5 280v3M286.5 327v3M287.5 205v3M287.5 250v6M287.5 265v6M287.5 348v3M287.5 354v3M287.5 375v3M287.5 384v6M287.5 396v6M288.5 193v3M288.5 208v3M288.5 229v3M288.5 238v3M288.5 265v3M288.5 351v3M288.5 366v3M288.5 372v3M288.5 393v3M288.5 399v3M289.5 202v3M289.5 262v3M289.5 280v6M289.5 292v3M289.5 381v3M289.5 387v3M289.5 393v3M289.5 399v3M290.5 211v3M290.5 217v3M290.5 271v3M290.5 283v3M290.5 295v3M290.5 339v3M291.5 196v3M291.5 333v6M291.5 348v3M292.5 211v3M292.5 268v6M292.5 283v3M292.5 321v3M292.5 360v3M292.5 372v3M293.5 223v3M293.5 241v3M293.5 280v6M293.5 298v3M293.5 312v3M293.5 324v3M293.5 336v3M293.5 375v3M294.5 214v6M294.5 226v3M294.5 238v3M294.5 244v6M295.5 199v6M295.5 232v6M295.5 262v9M295.5 280v3M296.5 202v6M296.5 259v3M296.5 312v3M296.5 369v9M297.5 199v3M297.5 208v3M297.5 220v3M297.5 232v3M297.5 238v3M297.5 262v3M297.5 396v3M299.5 223v3M299.5 229v6M299.5 241v6M299.5 250v6M299.5 318v3M299.5 384v3M300.5 208v3M300.5 214v3M300.5 220v3M300.5 232v3M300.5 304v2M301.5 223v3M302.5 190v6M302.5 199v3M302.5 268v3M303.5 217v3M303.5 235v3M303.5 375v3M303.5 381v3M303.5 393v3M304.5 214v3M304.5 220v3M304.5 229v3M304.5 241v3M304.5 247v6M304.5 256v3M304.5 399v3M305.5 205v3M305.5 214v3M305.5 229v3M306.5 211v3M306.5 223v3M306.5 241v3M306.5 348v3M307.5 214v9M307.5 259v3M308.5 193v3M308.5 199v3M308.5 205v3M308.5 214v3M308.5 232v3M308.5 384v3M309.5 214v3M309.5 220v3M309.5 250v3M310.5 193v3M310.5 223v3M310.5 229v3M310.5 247v3M310.5 253v3M311.5 226v3M311.5 232v3M312.5 211v3M312.5 226v3M312.5 235v3M313.5 223v6M313.5 232v3M313.5 247v3M314.5 247v3M315.5 205v3M315.5 214v3M315.5 235v6M315.5 304v2M317.5 244v3M318.5 232v3M319.5 247v3M319.5 280v3M319.5 298v3M320.5 199v3M320.5 208v6M320.5 244v3M321.5 211v3M321.5 220v3M321.5 241v3M321.5 262v9M321.5 318v3M322.5 220v3M322.5 226v6M322.5 235v3M322.5 259v3M322.5 312v3M322.5 330v6M322.5 342v3M322.5 351v3M323.5 223v3M323.5 247v3M323.5 298v3M324.5 187v3M324.5 196v3M324.5 202v3M324.5 208v9M324.5 223v3M324.5 229v6M324.5 241v3M324.5 298v6M324.5 315v3M325.5 229v3M325.5 238v3M325.5 253v3M325.5 262v3M325.5 268v3M325.5 277v3M325.5 292v3M325.5 301v3M326.5 229v3M326.5 268v3M326.5 283v3M326.5 295v3M326.5 312v3M326.5 321v3M327.5 223v3M327.5 229v3M327.5 289v3M328.5 199v3M328.5 205v6M328.5 217v3M328.5 247v6M328.5 280v3M329.5 214v3M329.5 220v3M329.5 265v3M329.5 274v3M329.5 283v3M329.5 289v3M329.5 301v5M330.5 229v3M330.5 253v3M330.5 268v3M330.5 283v6M330.5 304v2M330.5 312v3M330.5 318v3M331.5 208v6M331.5 226v3M331.5 241v3M331.5 250v3M331.5 256v3M331.5 262v3M331.5 286v3M331.5 304v2M331.5 312v3M331.5 402v3M332.5 277v3M332.5 286v3M332.5 301v3M333.5 220v3M333.5 238v3M333.5 247v3M333.5 253v6M333.5 277v3M333.5 286v3M333.5 295v9M334.5 238v3M334.5 289v3M334.5 345v6M335.5 250v6M335.5 262v3M335.5 268v3M335.5 277v6M335.5 286v3M335.5 298v3M335.5 324v6M335.5 342v3M335.5 348v3M335.5 381v3M336.5 193v3M336.5 220v3M336.5 226v3M336.5 253v3M336.5 298v8M336.5 324v3M336.5 330v3M336.5 348v3M337.5 250v3M337.5 265v3M337.5 271v3M337.5 315v3M337.5 324v3M337.5 333v6M337.5 342v6M337.5 363v3M337.5 390v6M338.5 232v3M338.5 265v6M338.5 274v3M338.5 321v6M338.5 357v3M338.5 363v6M338.5 378v3M339.5 262v3M339.5 295v6M339.5 304v2M339.5 318v3M339.5 357v3M339.5 375v9M339.5 390v6M340.5 289v6M340.5 330v3M340.5 336v3M340.5 345v6M340.5 372v6M340.5 381v3M340.5 390v3M340.5 396v3M341.5 250v3M341.5 268v3M341.5 274v3M341.5 280v3M341.5 321v3M341.5 333v3M341.5 339v6M341.5 351v3M341.5 381v6M341.5 390v3M342.5 327v3M342.5 339v3M342.5 348v6M342.5 360v3M342.5 366v3M342.5 390v9M342.5 402v3M343.5 253v3M343.5 295v6M344.5 321v3M344.5 345v3M156.5 428v6M161.5 428v6M172.5 428v6M173.5 428v6M174.5 428v6M177.5 428v6M195.5 428v6M220.5 434v10M221.5 428v6M223.5 428v6M224.5 434v10M237.5 434v10M247.5 428v6M274.5 428v6M275.5 428v6M339.5 428v6M343.5 428v6M344.5 428v6"/>
<path stroke="#0f0" stroke-width="2" fill="none" d="M146 226v18M146 312v3M146 318v3M146 324v3M146 330v3M146 336v3M146 342v3M146 348v3M146 354v3M146 360v3M146 366v3M146 372v3M146 378v3M146 384v3M146 390v3M146 396v9M148 226v18M148 312v3M148 318v3M148 324v3M148 330v3M148 336v3M148 342v3M148 348v3M148 354v3M148 360v3M148 366v3M148 372v3M148 378v3M148 384v3M148 390v3M148 396v9M150 226v18M150 312v3M150 318v3M150 324v3M150 330v3M150 336v3M150 342v3M150 348v3M150 354v3M150 360v3M150 366v3M150 372v3M150 378v3M150 384v3M150 390v3M150 396v9M346 330v3M346 336v6M346 357v9M348 330v3M348 336v6M348 348v3M348 354v9M348 375v3M350 295v3M350 339v6M350 351v6M352 333v6M352 348v3M352 402v3M354 333v6M354 357v6M356 363v3M356 369v3M356 378v3M358 333v3M358 366v6M360 339v3M362 333v3M364 360v3M368 372v3M370 333v3M370 369v3M370 375v3M372 360v3M374 327v3M374 360v3M376 330v3M376 363v9M378 327v3M378 366v3M378 372v3M378 402v3M380 330v3M382 363v6M384 363v3M388 330v3M388 360v3M390 330v3M390 366v3M396 357v6M396 366v3M396 372v3M400 360v3M402 330v3M402 357v3M404 330v3M404 363v3M408 360v3M410 357v3M410 363v3M412 330v3M416 354v3M416 360v3M416 366v3M418 357v3M418 363v3M420 354v3M424 360v3M426 366v3M428 366v3M430 357v3M430 366v3M432 330v3M434 330v3M434 357v3M436 327v3M438 330v3M440 360v3M442 357v3M444 330v3M446 363v3M448 363v3M450 327v3M452 366v3M456 327v3M458 360v6M460 363v3M466 327v3M466 363v3M468 360v6M472 363v3M474 327v3M474 360v6M478 324v3M478 366v3M480 327v3M482 360v6M484 366v3M486 327v3M486 363v3M488 366v3M490 330v3M492 324v3M492 363v3M498 360v3M500 360v3M502 357v9M506 357v3M506 363v3M508 327v6M508 360v3M512 354v3M512 363v3M514 339v3M516 336v6M516 348v6M516 360v3M518 357v3M520 351v6M522 330v6M522 360v3M524 351v3M524 357v3M526 339v3M526 357v3M528 327v6M530 327v6M530 339v3M530 357v3M530 369v3M532 357v3M534 342v3M534 348v6M536 354v3M536 366v3M538 333v3M538 345v3M538 354v3M540 348v3M544 333v3M544 342v3M544 357v3M546 327v3M546 339v3M546 348v3M548 342v3M550 333v3M550 342v3M550 348v3M552 327v3M552 357v3M554 345v3M554 354v6M556 354v3M560 333v3M560 363v3M560 369v3M562 339v9M562 354v6M564 330v3M564 348v6M566 330v6M566 351v3M568 336v3M568 345v3M568 366v3M570 342v3M570 354v3M572 351v3M574 336v6M574 351v6M576 330v3M576 342v3M576 360v3M578 330v3M578 339v3M578 345v3M580 330v3M580 336v12M582 333v6M582 348v3M584 345v3M588 330v3M588 345v3M588 357v3M590 342v3M590 351v3M590 360v3M592 333v9M594 342v3M594 354v3M596 342v6M596 360v3M598 357v3M600 342v9M600 357v6M602 333v3M602 339v3M602 354v6M604 333v3M604 342v6M604 351v6M606 336v9M606 360v6M608 339v3M610 339v6M612 342v3M612 351v3M612 363v3M614 330v3M614 336v12M614 366v6M616 333v3M616 342v12M616 357v6M618 351v3M620 336v9M620 354v3M622 339v9M622 357v3M624 348v3M624 360v3M626 342v3M628 342v3M628 348v3M630 327v3M632 354v3M632 360v3M634 330v3M634 336v3M634 342v3M636 327v3M636 339v3M638 327v12M638 357v9M640 327v12M640 357v9M642 327v12M642 357v9M346 428v6M348 434v10M350 444v11M354 455v9M356 455v9M358 444v11M362 444v20M364 455v9M366 455v9M380 455v9M386 455v9M388 455v9M390 455v9M394 455v9M398 455v9M400 455v9M410 464v12M414 464v12M422 455v9M430 464v12M434 455v9M444 455v9M450 464v12M454 464v12M460 455v9M462 455v9M466 464v12M470 464v12M472 455v9M474 464v12M476 455v9M480 464v12M484 464v12M488 464v12M490 464v12M494 464v12M498 464v12M500 464v12M502 464v12M504 455v9M508 464v12M510 464v12M514 455v9M516 455v9M518 464v12M520 455v9M526 455v21M528 464v12M536 464v12M552 464v12M556 464v12M558 464v12M570 464v12M572 464v12M578 464v12M580 464v12M582 464v12M588 464v12M590 455v9M592 455v9M594 464v12M596 464v12M598 455v9M602 464v12M604 464v12M606 464v12M610 455v9M612 464v12M614 455v9M616 464v12M618 464v12M620 464v12M624 455v21M626 464v12M628 464v12M630 464v12M640 464v12M642 455v9"/>
<path stroke="#2aff00" stroke-width="1" fill="none" d="M151.5 393v3M153.5 360v6M153.5 375v3M154.5 52v3M154.5 64v72M155.5 52v3M155.5 64v72M155.5 390v6M155.5 399v6M156.5 375v3M156.5 393v3M157.5 393v3M157.5 399v6M158.5 357v3M158.5 378v3M159.5 262v3M160.5 259v3M160.5 354v3M161.5 265v3M161.5 274v3M162.5 289v3M162.5 295v3M162.5 304v2M162.5 351v6M162.5 381v3M163.5 256v6M163.5 286v3M163.5 402v3M164.5 256v3M164.5 274v3M164.5 354v6M164.5 366v6M164.5 384v3M164.5 396v3M164.5 402v3M165.5 289v3M165.5 298v3M165.5 330v3M165.5 336v6M165.5 390v3M165.5 402v3M166.5 223v3M166.5 229v3M166.5 247v3M166.5 265v3M166.5 289v6M166.5 301v3M166.5 336v3M167.5 160v3M167.5 175v3M167.5 181v3M167.5 214v3M167.5 244v3M168.5 157v3M168.5 166v3M168.5 175v3M168.5 217v3M168.5 232v3M169.5 184v3M169.5 265v3M170.5 178v3M170.5 187v3M170.5 304v2M170.5 312v3M170.5 333v3M170.5 354v6M170.5 372v3M170.5 396v3M171.5 262v3M171.5 321v3M171.5 375v3M172.5 211v3M172.5 220v3M172.5 235v3M172.5 253v3M172.5 262v3M172.5 277v3M172.5 301v5M173.5 229v3M173.5 241v3M173.5 301v5M174.5 253v3M174.5 265v3M175.5 277v3M176.5 235v3M176.5 292v3M177.5 262v3M177.5 280v3M178.5 259v3M181.5 277v3M182.5 229v3M185.5 301v3M187.5 289v3M189.5 271v6M190.5 244v3M190.5 259v3M192.5 256v3M192.5 292v3M193.5 259v6M193.5 274v6M196.5 348v6M196.5 381v3M196.5 387v9M196.5 402v3M198.5 298v3M200.5 312v3M202.5 259v3M202.5 283v3M203.5 292v3M203.5 301v3M203.5 336v6M204.5 238v3M204.5 250v3M204.5 336v3M205.5 378v3M205.5 393v3M206.5 396v9M210.5 253v3M210.5 274v3M210.5 292v3M210.5 301v3M212.5 292v3M212.5 402v3M213.5 339v3M213.5 348v3M214.5 253v3M214.5 268v3M214.5 330v3M214.5 336v3M214.5 396v6M215.5 312v3M216.5 250v3M216.5 256v3M216.5 268v3M216.5 315v3M217.5 262v3M217.5 283v3M217.5 292v3M217.5 301v3M217.5 333v6M218.5 274v3M218.5 295v6M218.5 318v3M218.5 333v3M218.5 363v3M218.5 384v3M219.5 256v3M219.5 274v3M219.5 286v3M219.5 366v3M220.5 292v6M221.5 289v3M221.5 375v3M223.5 295v3M225.5 259v6M225.5 280v3M225.5 292v6M227.5 199v3M227.5 289v3M228.5 211v3M228.5 256v3M229.5 184v6M229.5 193v3M230.5 193v3M230.5 202v3M230.5 220v3M230.5 244v3M230.5 277v3M231.5 184v3M231.5 214v3M232.5 208v3M232.5 232v3M232.5 244v3M232.5 253v3M233.5 184v3M233.5 202v3M233.5 217v3M235.5 229v3M238.5 190v9M238.5 232v6M239.5 232v3M239.5 250v6M240.5 202v3M240.5 211v3M240.5 250v3M241.5 199v3M241.5 232v3M241.5 280v3M242.5 289v3M242.5 378v3M243.5 184v3M243.5 199v3M243.5 238v6M243.5 250v3M243.5 289v3M244.5 220v3M244.5 247v3M245.5 265v3M245.5 271v3M245.5 292v9M245.5 378v6M246.5 190v3M246.5 208v3M246.5 217v3M246.5 232v3M246.5 283v3M246.5 289v3M246.5 298v6M247.5 223v3M247.5 253v3M247.5 259v3M247.5 265v3M247.5 372v3M248.5 205v3M248.5 211v6M248.5 229v3M248.5 259v3M248.5 268v3M248.5 274v3M248.5 321v3M249.5 253v3M249.5 280v3M249.5 298v3M249.5 372v3M249.5 390v6M249.5 402v3M250.5 214v3M250.5 220v3M250.5 280v3M250.5 339v3M250.5 402v3M251.5 286v3M251.5 321v3M251.5 336v3M252.5 217v3M252.5 229v3M252.5 238v9M252.5 301v3M252.5 327v3M253.5 271v3M253.5 286v3M253.5 292v3M253.5 327v3M254.5 324v9M255.5 336v3M256.5 256v3M256.5 321v3M256.5 327v3M256.5 336v3M257.5 315v3M257.5 321v3M257.5 336v3M258.5 315v3M258.5 321v3M258.5 330v6M258.5 342v18M259.5 324v3M259.5 330v6M259.5 342v3M259.5 351v6M260.5 315v3M260.5 333v3M260.5 342v3M260.5 348v6M260.5 378v3M261.5 315v3M261.5 330v9M261.5 351v3M261.5 363v12M261.5 390v9M262.5 312v3M262.5 327v3M262.5 333v3M263.5 259v3M263.5 315v3M263.5 378v3M265.5 271v3M265.5 378v3M272.5 241v3M272.5 250v6M272.5 372v3M275.5 193v6M276.5 268v3M277.5 226v3M277.5 363v3M277.5 387v3M278.5 199v3M278.5 268v3M278.5 289v3M278.5 366v3M279.5 193v3M279.5 205v3M279.5 250v3M279.5 274v3M279.5 289v3M279.5 348v3M279.5 360v3M280.5 244v3M281.5 208v3M281.5 256v3M281.5 277v3M281.5 289v3M282.5 214v6M282.5 232v3M282.5 247v3M282.5 292v3M283.5 235v3M284.5 253v3M284.5 277v6M284.5 286v6M285.5 238v3M285.5 262v3M285.5 268v3M285.5 330v3M286.5 256v3M286.5 283v3M286.5 295v6M287.5 223v3M287.5 232v6M287.5 286v3M287.5 357v3M288.5 214v6M288.5 223v3M289.5 217v3M289.5 223v3M289.5 259v3M289.5 396v3M289.5 402v3M290.5 187v3M290.5 196v3M290.5 205v6M290.5 220v3M290.5 286v3M290.5 330v3M290.5 378v3M291.5 351v9M291.5 402v3M292.5 202v3M292.5 220v3M292.5 241v9M292.5 253v3M292.5 265v3M292.5 318v3M292.5 345v3M292.5 375v6M292.5 399v3M293.5 321v3M293.5 333v3M294.5 235v3M294.5 289v3M294.5 304v2M294.5 312v3M295.5 217v3M295.5 229v3M295.5 247v3M295.5 304v2M295.5 312v3M295.5 324v3M295.5 381v6M296.5 217v3M296.5 223v3M296.5 268v3M296.5 274v6M296.5 304v2M296.5 324v3M296.5 351v3M296.5 378v3M296.5 384v3M297.5 193v3M297.5 214v3M297.5 226v3M297.5 241v18M297.5 268v3M297.5 280v3M298.5 253v6M298.5 268v3M298.5 387v3M299.5 187v12M299.5 205v3M299.5 211v3M299.5 217v3M299.5 226v3M299.5 372v3M299.5 387v3M300.5 244v3M300.5 256v3M300.5 375v6M300.5 396v3M301.5 211v3M301.5 232v3M301.5 238v6M301.5 250v3M302.5 202v3M302.5 220v6M302.5 229v3M302.5 238v3M302.5 289v3M302.5 301v5M302.5 363v6M303.5 202v3M303.5 232v3M303.5 244v3M303.5 366v3M303.5 390v3M304.5 211v3M304.5 235v3M304.5 265v3M304.5 274v3M304.5 304v2M304.5 396v3M304.5 402v3M305.5 199v3M305.5 226v3M305.5 232v3M305.5 339v3M306.5 235v3M306.5 244v3M306.5 345v3M306.5 390v3M307.5 238v3M307.5 247v3M307.5 253v3M307.5 301v3M308.5 196v3M308.5 220v3M308.5 226v3M308.5 396v3M309.5 217v3M309.5 229v3M309.5 235v3M309.5 256v3M310.5 214v6M310.5 250v3M310.5 268v3M310.5 292v3M310.5 301v3M312.5 241v6M312.5 304v2M313.5 220v3M313.5 235v6M313.5 244v3M313.5 304v2M314.5 304v2M315.5 223v3M315.5 241v3M317.5 304v2M317.5 348v3M318.5 214v3M319.5 304v2M320.5 190v3M320.5 220v3M320.5 226v3M320.5 232v3M320.5 247v3M320.5 327v3M321.5 271v3M321.5 301v3M321.5 312v3M322.5 232v3M322.5 271v3M322.5 301v3M322.5 327v3M322.5 336v6M322.5 354v3M323.5 202v3M323.5 208v3M323.5 262v6M323.5 280v6M323.5 292v3M323.5 312v6M324.5 289v3M324.5 318v6M325.5 271v3M325.5 298v3M326.5 244v3M326.5 262v3M326.5 271v3M326.5 292v3M326.5 301v3M326.5 324v3M326.5 330v3M327.5 199v6M327.5 208v3M327.5 217v6M327.5 232v3M327.5 238v3M327.5 295v3M328.5 220v6M328.5 256v3M328.5 271v3M328.5 286v6M328.5 312v3M329.5 211v3M329.5 262v3M330.5 220v6M330.5 232v3M330.5 238v3M330.5 244v3M330.5 256v3M330.5 262v6M330.5 271v3M330.5 289v3M330.5 315v3M330.5 321v3M330.5 327v3M331.5 205v3M331.5 223v3M331.5 229v3M331.5 235v3M331.5 271v6M331.5 292v3M331.5 315v6M331.5 324v6M331.5 339v3M332.5 289v3M332.5 298v3M332.5 324v3M333.5 226v3M333.5 262v3M333.5 268v6M333.5 280v3M333.5 312v3M334.5 274v3M334.5 283v3M334.5 295v3M334.5 315v12M334.5 330v9M334.5 375v3M335.5 283v3M335.5 295v3M335.5 318v3M335.5 333v9M335.5 357v3M335.5 375v6M336.5 250v3M336.5 262v6M336.5 289v3M336.5 321v3M336.5 336v9M336.5 360v3M336.5 378v6M337.5 327v3M337.5 339v3M337.5 348v3M337.5 366v3M337.5 387v3M337.5 396v3M337.5 402v3M338.5 250v6M338.5 333v3M338.5 354v3M338.5 360v3M338.5 384v3M339.5 354v3M339.5 360v3M339.5 384v6M339.5 396v3M340.5 339v3M340.5 357v3M340.5 369v3M340.5 387v3M341.5 277v3M341.5 336v3M342.5 298v3M342.5 363v3M342.5 369v6M342.5 387v3M342.5 399v3M343.5 286v6M344.5 324v3M344.5 336v6M344.5 354v3M344.5 399v6M154.5 428v6M162.5 428v6M164.5 428v6M194.5 428v6M196.5 428v6M205.5 428v6M219.5 434v10M233.5 428v6M242.5 434v10M243.5 434v10M245.5 434v10M250.5 434v10M275.5 444v11M344.5 434v10"/>
<path stroke="#2aff00" stroke-width="2" fill="none" d="M346 327v3M346 366v3M346 396v3M346 402v3M348 333v3M348 351v3M352 345v3M354 339v3M356 336v3M356 342v6M356 357v6M356 366v3M356 396v3M358 339v3M358 363v3M358 393v3M360 333v3M360 342v3M360 351v3M360 357v3M362 336v6M362 348v6M364 351v9M366 336v3M366 348v3M366 366v3M368 333v3M368 351v6M368 366v3M372 333v6M376 333v3M376 354v3M376 360v3M378 330v3M378 369v3M380 354v3M380 363v3M382 327v3M384 330v3M384 354v3M384 360v3M386 330v3M386 363v3M388 354v6M390 333v3M390 360v3M392 360v3M394 324v3M396 330v3M396 363v3M400 330v3M408 354v3M410 354v3M412 351v6M414 330v3M416 330v3M418 354v3M418 360v3M420 327v6M422 354v6M424 330v3M426 357v3M430 330v3M430 360v3M434 354v3M436 330v3M438 357v6M440 330v3M440 357v3M442 360v3M444 354v6M446 327v3M446 366v3M454 363v6M460 330v3M460 369v3M464 330v3M466 324v3M466 330v3M470 330v3M472 330v3M476 330v3M476 360v6M478 327v3M478 360v3M480 363v3M482 330v3M482 354v6M484 363v3M488 327v6M490 333v3M490 360v3M492 327v3M494 363v3M496 327v3M496 333v3M498 330v3M500 330v3M500 363v6M502 366v3M506 327v3M508 357v3M510 351v3M510 360v6M514 342v3M514 348v3M518 360v3M520 327v3M520 345v6M520 357v3M522 357v3M524 333v3M524 345v3M524 354v3M526 330v3M526 354v3M530 342v6M530 354v3M530 360v3M534 336v3M534 354v6M536 351v3M538 336v3M540 351v6M542 330v3M542 336v6M544 351v3M546 342v3M548 345v6M550 327v3M550 339v3M550 360v3M552 342v3M554 333v3M554 348v6M556 351v3M558 336v3M560 327v6M560 366v3M562 330v3M564 327v3M566 336v3M568 360v6M570 348v6M572 330v3M572 357v3M574 330v3M574 357v6M576 339v3M576 345v6M576 354v6M578 333v3M578 357v3M582 351v6M584 342v3M586 360v3M588 333v3M590 354v3M594 345v9M596 330v12M598 339v3M598 348v3M600 339v3M600 351v6M602 345v3M602 351v3M604 336v3M604 348v3M604 357v3M606 330v6M606 348v3M608 327v3M608 336v3M608 342v3M610 351v6M612 327v3M614 354v3M614 363v3M618 333v3M622 351v6M628 339v3M630 339v6M630 348v3M630 354v3M634 333v3M634 345v3M636 342v3M636 354v3M638 339v3M638 354v3M640 339v3M640 354v3M642 339v3M642 354v3M346 434v10M350 455v9M352 455v9M360 444v20M364 464v12M370 464v12M372 464v12M376 464v12M392 464v12M402 455v9M404 455v9M406 464v12M408 464v12M416 464v12M420 464v12M422 464v12M424 464v12M426 464v12M436 464v12M438 464v12M440 464v12M442 464v12M446 464v12M448 464v12M452 464v12M456 464v12M458 464v12M462 464v12M464 464v12M468 464v12M472 464v12M476 464v12M478 464v12M482 464v12M486 464v12M492 464v12M496 464v12M504 464v12M506 464v12M512 464v12M514 464v12M516 464v12M520 464v12M522 464v12M524 464v12M530 464v12M532 464v12M534 464v12M538 464v12M540 464v12M542 464v12M544 464v12M546 464v12M548 464v12M550 464v12M554 464v12M560 464v12M562 464v12M564 464v12M566 464v12M568 464v12M574 464v12M576 464v12M584 464v12M586 464v12M590 464v12M598 464v12M600 464v12M608 464v12M610 464v12M614 464v12M622 464v12M634 464v12M636 464v12M638 464v12M642 464v12"/>
<path stroke="#5f0" stroke-width="1" fill="none" d="M151.5 396v6M154.5 55v3M155.5 55v3M156.5 396v3M158.5 351v6M158.5 366v3M159.5 393v3M160.5 357v6M162.5 369v6M162.5 387v6M162.5 402v3M163.5 280v3M163.5 351v3M164.5 363v3M164.5 372v3M164.5 381v3M164.5 387v6M165.5 271v3M165.5 315v6M165.5 327v3M165.5 342v3M165.5 384v3M165.5 393v3M166.5 211v6M166.5 220v3M166.5 256v3M166.5 271v3M166.5 280v3M166.5 339v3M167.5 166v3M167.5 199v3M167.5 247v3M167.5 298v3M168.5 151v3M168.5 184v3M168.5 193v3M168.5 253v3M168.5 265v3M168.5 295v3M168.5 304v2M169.5 154v3M169.5 178v6M169.5 199v3M169.5 238v3M169.5 268v3M169.5 304v2M170.5 190v3M170.5 315v3M170.5 324v3M170.5 336v6M170.5 348v3M170.5 402v3M171.5 160v3M171.5 211v6M171.5 244v3M171.5 259v3M172.5 223v3M172.5 241v3M172.5 268v3M173.5 244v6M173.5 292v3M174.5 283v3M174.5 295v3M175.5 256v3M176.5 253v3M176.5 286v3M176.5 295v3M180.5 256v3M181.5 265v3M184.5 259v3M185.5 265v3M185.5 274v3M189.5 289v3M193.5 268v3M195.5 354v3M196.5 339v3M196.5 369v3M196.5 399v3M197.5 312v3M197.5 336v3M201.5 312v3M203.5 330v3M204.5 339v3M205.5 402v3M209.5 253v3M209.5 271v3M212.5 277v3M212.5 286v3M213.5 342v3M213.5 354v3M213.5 369v3M214.5 265v3M214.5 283v3M215.5 318v3M216.5 277v3M216.5 318v3M216.5 333v9M217.5 280v3M217.5 295v3M218.5 315v3M218.5 369v6M218.5 393v3M218.5 402v3M219.5 259v3M220.5 283v3M221.5 253v3M221.5 378v3M221.5 384v6M225.5 241v3M225.5 253v3M226.5 238v3M227.5 265v3M227.5 274v3M229.5 211v3M230.5 199v3M230.5 217v3M230.5 235v3M232.5 205v3M232.5 217v3M233.5 193v3M235.5 211v3M235.5 217v3M239.5 208v6M239.5 223v3M240.5 193v3M240.5 205v3M240.5 295v3M243.5 190v3M244.5 217v3M244.5 244v3M245.5 286v3M246.5 286v3M247.5 220v3M247.5 226v3M247.5 232v3M247.5 238v3M247.5 256v3M247.5 286v3M247.5 292v6M247.5 375v3M248.5 232v3M248.5 253v6M248.5 402v3M249.5 378v6M250.5 345v6M250.5 393v6M251.5 289v3M251.5 298v6M251.5 390v3M252.5 262v3M252.5 289v3M252.5 318v3M252.5 324v3M252.5 330v6M252.5 363v3M252.5 375v3M252.5 387v6M253.5 339v3M253.5 345v3M254.5 333v6M255.5 315v3M255.5 321v3M255.5 339v3M255.5 354v3M255.5 402v3M256.5 330v3M256.5 345v3M257.5 318v3M257.5 324v3M257.5 333v3M257.5 339v9M258.5 327v3M259.5 315v6M259.5 348v3M259.5 381v3M260.5 312v3M260.5 318v6M260.5 354v3M260.5 402v3M261.5 360v3M261.5 384v6M262.5 315v3M262.5 324v3M265.5 247v3M265.5 259v3M268.5 253v3M276.5 220v3M276.5 226v3M276.5 241v3M277.5 217v3M278.5 211v3M278.5 244v6M278.5 357v6M279.5 214v3M279.5 229v6M279.5 369v3M280.5 223v3M281.5 214v3M281.5 247v3M282.5 220v3M282.5 241v3M283.5 199v3M283.5 220v3M283.5 226v9M283.5 238v3M283.5 244v3M283.5 301v3M284.5 199v3M284.5 226v6M284.5 241v3M284.5 268v3M284.5 298v3M285.5 211v3M285.5 226v3M285.5 232v3M285.5 244v3M285.5 253v3M286.5 238v3M286.5 271v3M287.5 262v3M288.5 202v3M288.5 220v3M288.5 235v3M289.5 214v3M290.5 229v3M290.5 342v3M290.5 360v3M290.5 369v9M291.5 298v3M291.5 318v3M291.5 339v3M292.5 223v3M292.5 229v6M292.5 238v3M292.5 259v3M292.5 274v3M292.5 312v3M292.5 324v3M292.5 330v3M292.5 342v3M292.5 348v9M292.5 363v3M292.5 369v3M293.5 217v3M293.5 265v3M293.5 315v6M293.5 327v3M293.5 339v3M293.5 357v18M293.5 378v3M293.5 390v3M294.5 223v3M294.5 232v3M294.5 253v3M294.5 271v3M294.5 298v3M295.5 193v3M295.5 250v3M295.5 256v3M295.5 289v3M295.5 321v3M295.5 387v6M296.5 247v3M296.5 286v3M296.5 301v3M296.5 327v3M296.5 336v6M296.5 381v3M296.5 387v3M297.5 202v3M297.5 211v3M297.5 235v3M297.5 271v3M297.5 304v2M297.5 330v3M297.5 345v3M297.5 360v9M297.5 375v3M297.5 381v6M297.5 393v3M297.5 399v6M298.5 205v3M298.5 265v3M298.5 286v3M298.5 381v6M298.5 390v3M299.5 199v6M299.5 214v3M299.5 304v2M299.5 312v3M299.5 369v3M299.5 381v3M299.5 390v3M300.5 226v3M300.5 259v3M300.5 280v3M300.5 295v3M300.5 301v3M300.5 312v3M300.5 384v3M301.5 214v3M301.5 220v3M301.5 304v2M301.5 402v3M302.5 211v9M302.5 247v3M302.5 259v3M302.5 274v3M302.5 312v3M302.5 336v3M302.5 354v3M302.5 360v3M302.5 369v6M303.5 247v3M303.5 312v3M303.5 354v3M303.5 360v6M303.5 378v3M303.5 399v6M304.5 259v6M304.5 280v3M304.5 381v3M304.5 390v3M305.5 250v3M305.5 304v2M305.5 351v3M305.5 393v3M306.5 232v3M306.5 259v3M306.5 342v3M306.5 393v6M307.5 295v3M307.5 304v2M307.5 375v6M307.5 402v3M308.5 202v3M308.5 208v3M308.5 223v3M308.5 229v3M308.5 235v6M308.5 244v3M308.5 304v2M308.5 372v6M308.5 399v3M309.5 232v3M309.5 247v3M309.5 304v2M310.5 259v3M310.5 274v3M310.5 295v6M310.5 321v3M311.5 229v3M311.5 235v3M312.5 256v3M312.5 312v3M313.5 277v3M315.5 244v3M316.5 259v3M316.5 283v6M316.5 304v2M317.5 229v3M317.5 241v3M317.5 283v3M317.5 345v3M317.5 351v6M317.5 366v3M318.5 247v3M318.5 321v6M319.5 259v3M319.5 268v3M319.5 283v3M319.5 301v3M320.5 214v3M320.5 253v3M320.5 292v3M320.5 301v3M320.5 312v3M320.5 321v6M321.5 226v3M321.5 250v3M321.5 274v3M321.5 280v6M321.5 298v3M321.5 304v2M321.5 315v3M321.5 327v3M322.5 214v3M322.5 241v3M322.5 247v3M322.5 292v3M322.5 298v3M322.5 315v3M323.5 250v3M323.5 274v3M323.5 318v9M324.5 193v3M324.5 226v3M324.5 235v3M324.5 244v3M324.5 250v6M324.5 271v18M326.5 250v3M326.5 265v3M326.5 274v3M326.5 280v3M326.5 315v3M326.5 327v3M327.5 214v3M328.5 202v3M328.5 238v6M328.5 262v3M328.5 268v3M328.5 292v3M328.5 318v3M329.5 229v3M329.5 298v3M329.5 312v3M330.5 241v3M330.5 247v6M330.5 259v3M330.5 280v3M330.5 301v3M330.5 324v3M330.5 330v3M331.5 232v3M331.5 244v3M331.5 268v3M331.5 289v3M331.5 301v3M331.5 321v3M331.5 342v3M332.5 312v3M332.5 318v6M333.5 372v3M334.5 327v3M334.5 339v3M335.5 274v3M335.5 292v3M335.5 301v3M335.5 372v3M336.5 268v3M336.5 274v3M336.5 366v6M336.5 375v3M337.5 330v3M337.5 351v6M337.5 360v3M337.5 369v3M338.5 238v3M338.5 271v3M338.5 336v6M338.5 348v6M338.5 372v6M338.5 396v3M339.5 321v3M339.5 336v3M339.5 342v3M340.5 342v3M340.5 354v3M340.5 360v3M340.5 384v3M340.5 393v3M341.5 324v3M341.5 366v6M341.5 378v3M341.5 387v3M344.5 330v6M344.5 342v3M344.5 351v3M344.5 357v3M344.5 366v12M344.5 381v3M152.5 428v6M155.5 428v6M159.5 428v6M173.5 434v10M177.5 434v10M181.5 434v10M183.5 434v10M188.5 434v10M193.5 428v6M209.5 428v6M217.5 428v6M218.5 434v10M225.5 434v10M226.5 434v10M230.5 434v10M231.5 434v10M234.5 434v10M238.5 428v6M249.5 434v10M264.5 428v6M270.5 428v6M273.5 428v6M276.5 434v10M337.5 428v6M338.5 428v6M340.5 428v6M342.5 428v6M343.5 434v10M343.5 455v9"/>
<path stroke="#5f0" stroke-width="2" fill="none" d="M146 55v3M148 55v3M150 55v3M346 342v6M346 399v3M348 342v6M350 348v3M358 336v3M358 342v9M358 357v3M360 336v3M360 345v6M360 354v3M362 342v6M364 333v3M364 342v3M366 333v3M366 339v3M366 351v3M366 360v3M368 339v6M368 360v3M372 357v3M374 330v3M374 348v3M374 354v6M376 336v3M376 351v3M378 357v3M378 363v3M380 351v3M382 360v3M390 336v3M390 357v3M392 333v3M394 330v3M394 357v3M396 351v3M398 330v3M402 333v9M402 351v6M404 357v6M408 330v3M410 360v3M412 339v3M414 357v3M416 333v3M418 327v3M418 336v3M422 348v3M424 354v3M426 333v3M428 330v6M430 351v3M432 333v3M432 354v3M432 360v3M438 351v6M440 354v3M442 330v3M446 357v6M448 357v6M450 330v3M450 357v3M452 330v3M454 330v3M454 360v3M456 360v3M458 330v3M468 330v3M470 360v3M472 360v3M476 357v3M478 357v3M480 330v3M480 360v3M486 357v6M486 366v3M488 360v6M490 351v3M492 360v3M494 360v3M496 330v3M496 348v3M496 354v3M498 351v3M500 357v3M504 348v3M504 354v3M504 360v3M506 354v3M508 345v3M510 327v12M510 354v6M512 330v3M512 336v3M512 351v3M514 327v3M514 333v6M514 351v3M516 333v3M516 342v3M516 354v6M518 333v3M518 339v3M518 354v3M520 330v3M520 342v3M522 336v6M522 345v3M524 339v3M526 342v12M528 333v3M530 348v6M534 330v6M534 345v3M536 342v3M536 348v3M542 348v3M544 345v6M544 354v3M546 345v3M550 351v3M550 363v3M552 330v3M552 336v3M552 348v6M556 342v3M556 348v3M560 339v6M560 357v3M566 342v6M566 354v3M572 333v9M574 333v3M574 342v3M574 348v3M576 351v3M578 336v3M582 342v3M596 351v6M598 342v6M604 339v3M608 330v3M608 351v6M614 348v3M618 360v3M636 333v3M638 342v12M640 342v12M642 342v12M146 455v9M148 455v9M150 455v9M348 455v9M354 464v12M356 464v12M358 455v9M366 464v12M368 464v12M374 464v12M378 464v12M380 464v12M382 464v12M384 464v12M388 464v12M390 464v12M394 464v12M396 464v12M398 464v12M400 464v12M404 464v12M412 464v12M418 464v12M428 464v12M432 464v12M434 464v12M444 464v12M460 464v12M592 464v12M630 476v10"/>
<path stroke="#80ff00" stroke-width="1" fill="none" d="M151.5 402v3M154.5 61v3M155.5 61v3M157.5 390v3M164.5 375v6M164.5 393v3M165.5 321v3M165.5 372v3M165.5 387v3M165.5 396v6M166.5 208v3M166.5 312v3M166.5 330v3M167.5 151v3M167.5 169v3M167.5 193v3M167.5 211v3M167.5 217v3M167.5 235v6M167.5 253v6M167.5 262v3M167.5 280v6M167.5 327v6M168.5 154v3M168.5 181v3M168.5 238v3M168.5 247v3M168.5 259v6M168.5 274v3M168.5 283v3M168.5 298v6M169.5 169v3M169.5 226v3M169.5 232v3M169.5 247v3M169.5 312v3M170.5 181v6M170.5 208v6M170.5 274v3M170.5 327v3M170.5 351v3M170.5 399v3M171.5 181v3M171.5 250v3M172.5 232v3M172.5 244v3M172.5 250v3M172.5 274v3M173.5 238v3M173.5 274v3M173.5 289v3M180.5 259v3M181.5 259v3M188.5 295v3M190.5 262v3M193.5 271v3M196.5 327v3M196.5 372v3M197.5 318v3M197.5 327v3M197.5 333v3M197.5 339v3M198.5 312v3M199.5 312v3M200.5 256v3M201.5 318v3M203.5 312v3M203.5 318v3M203.5 324v3M205.5 292v3M210.5 289v3M212.5 280v3M212.5 295v3M213.5 345v3M213.5 360v9M214.5 259v3M214.5 390v3M214.5 402v3M217.5 339v3M218.5 339v6M218.5 354v3M218.5 360v3M218.5 387v6M218.5 396v6M219.5 298v3M220.5 289v3M225.5 289v3M226.5 250v3M227.5 271v3M231.5 199v3M232.5 214v3M235.5 199v3M235.5 214v3M239.5 217v3M239.5 244v3M240.5 238v3M241.5 196v3M241.5 211v3M245.5 277v3M246.5 238v3M246.5 292v3M247.5 247v3M247.5 301v3M250.5 351v18M250.5 390v3M250.5 399v3M251.5 372v3M251.5 393v12M252.5 250v3M252.5 321v3M252.5 336v3M252.5 360v3M252.5 384v3M252.5 393v3M252.5 399v6M253.5 283v3M253.5 336v3M253.5 342v3M253.5 348v3M253.5 354v3M253.5 369v3M255.5 318v3M255.5 357v3M255.5 393v6M256.5 324v3M256.5 351v3M257.5 327v3M257.5 348v3M259.5 372v9M259.5 384v3M260.5 327v6M260.5 336v6M260.5 375v3M260.5 387v3M260.5 399v3M274.5 351v6M276.5 247v3M277.5 211v3M277.5 366v3M278.5 205v6M278.5 220v3M278.5 363v3M279.5 202v3M279.5 208v3M279.5 226v3M279.5 238v3M279.5 247v3M280.5 208v6M280.5 235v3M280.5 247v3M281.5 217v3M281.5 250v3M282.5 223v3M282.5 235v3M282.5 298v3M283.5 196v3M283.5 211v3M283.5 223v3M283.5 241v3M284.5 205v3M284.5 223v3M284.5 295v3M285.5 235v3M285.5 241v3M285.5 247v6M287.5 241v3M288.5 211v3M290.5 348v6M290.5 357v3M290.5 363v3M292.5 235v3M292.5 250v3M292.5 286v3M292.5 301v3M292.5 315v3M292.5 333v3M292.5 357v3M292.5 366v3M293.5 330v3M293.5 348v9M293.5 387v3M293.5 396v3M294.5 229v3M294.5 265v3M294.5 274v9M294.5 301v3M294.5 375v3M294.5 384v6M295.5 205v3M295.5 286v3M295.5 315v3M295.5 327v3M295.5 378v3M295.5 393v3M296.5 220v3M296.5 244v3M296.5 283v3M296.5 289v3M296.5 295v3M296.5 315v3M296.5 345v6M296.5 354v3M296.5 366v3M296.5 402v3M297.5 190v3M297.5 205v3M297.5 265v3M297.5 274v3M297.5 292v6M297.5 312v3M297.5 321v6M297.5 342v3M297.5 357v3M297.5 378v3M298.5 262v3M298.5 280v3M298.5 304v2M298.5 312v3M298.5 372v6M298.5 399v3M299.5 208v3M299.5 292v3M299.5 315v3M299.5 321v3M299.5 327v3M299.5 366v3M299.5 375v6M299.5 396v3M300.5 241v3M300.5 253v3M300.5 268v6M300.5 283v3M300.5 366v9M300.5 393v3M301.5 226v6M301.5 244v3M301.5 265v3M301.5 399v3M302.5 226v3M302.5 235v3M302.5 253v3M302.5 262v3M302.5 277v3M302.5 283v3M302.5 292v3M302.5 298v3M302.5 333v3M302.5 351v3M303.5 253v12M303.5 280v3M303.5 292v3M303.5 342v6M303.5 357v3M303.5 387v3M303.5 396v3M304.5 268v3M304.5 277v3M304.5 387v3M304.5 393v3M305.5 253v3M305.5 259v3M305.5 280v3M305.5 312v6M305.5 342v3M305.5 366v3M305.5 390v3M306.5 247v3M306.5 253v3M306.5 262v3M306.5 312v3M306.5 318v3M306.5 327v3M306.5 351v3M307.5 223v3M307.5 229v3M307.5 250v3M307.5 262v3M307.5 312v3M307.5 381v6M307.5 393v9M308.5 253v3M308.5 274v3M308.5 312v3M308.5 351v3M308.5 369v3M308.5 378v6M308.5 387v3M309.5 265v9M309.5 321v3M309.5 333v3M309.5 354v3M310.5 262v3M310.5 283v3M310.5 312v9M311.5 268v3M311.5 274v3M312.5 253v3M313.5 271v3M314.5 259v3M315.5 247v3M316.5 250v9M316.5 262v3M316.5 277v3M317.5 238v3M317.5 247v6M317.5 339v6M317.5 357v6M318.5 250v3M318.5 268v3M318.5 304v2M318.5 312v3M319.5 250v9M319.5 265v3M319.5 277v3M319.5 286v3M319.5 292v6M319.5 312v3M320.5 193v3M320.5 289v3M320.5 330v3M321.5 277v3M321.5 324v3M322.5 250v3M322.5 256v3M322.5 283v6M322.5 318v3M322.5 324v3M322.5 357v3M322.5 363v3M322.5 369v3M323.5 268v3M323.5 286v6M323.5 330v3M324.5 247v3M324.5 259v6M324.5 324v9M325.5 312v3M326.5 238v3M326.5 298v3M326.5 318v3M326.5 342v3M327.5 312v3M327.5 318v12M328.5 253v3M328.5 265v3M328.5 315v3M329.5 208v3M329.5 256v3M329.5 280v3M329.5 286v3M329.5 324v6M330.5 235v3M330.5 274v3M330.5 292v9M331.5 280v3M331.5 330v3M331.5 399v3M332.5 315v3M332.5 333v3M332.5 351v3M333.5 217v3M333.5 274v3M333.5 339v9M334.5 286v3M334.5 292v3M334.5 342v3M334.5 372v3M334.5 381v3M335.5 351v6M335.5 384v3M335.5 393v3M336.5 259v3M336.5 351v3M336.5 363v3M336.5 384v6M337.5 357v3M337.5 372v3M338.5 259v6M338.5 342v6M338.5 393v3M338.5 399v6M339.5 324v12M339.5 339v3M339.5 345v9M344.5 348v3M344.5 363v3M344.5 378v3M158.5 434v10M170.5 428v6M179.5 428v6M180.5 434v10M182.5 434v10M186.5 428v6M189.5 428v6M192.5 428v6M206.5 428v6M229.5 434v10M233.5 434v10M235.5 434v10M237.5 444v11M239.5 434v10M244.5 434v10M246.5 434v10M248.5 434v10M251.5 434v10M252.5 434v10M264.5 444v11M266.5 428v6M267.5 428v6M268.5 428v6M274.5 444v11M278.5 428v16M283.5 428v6M335.5 434v10M339.5 455v9M343.5 444v11M344.5 444v11"/>
<path stroke="#80ff00" stroke-width="2" fill="none" d="M346 354v3M356 339v3M356 348v3M358 351v6M358 360v3M364 339v3M366 342v3M366 357v3M366 363v3M368 336v3M368 345v3M368 357v3M370 336v3M370 363v3M372 354v3M374 345v3M376 339v3M376 348v3M376 357v3M378 351v3M378 360v3M380 348v3M380 357v6M384 333v6M384 357v3M386 333v6M390 339v3M392 348v6M392 357v3M396 333v6M396 348v3M398 360v3M400 333v3M400 342v3M400 357v3M406 357v3M410 330v9M412 333v3M412 342v3M412 348v3M416 336v3M416 351v3M418 351v3M422 330v3M422 345v3M422 351v3M424 333v3M424 345v6M426 351v3M428 357v3M432 357v3M434 333v3M434 348v6M436 339v3M438 333v3M442 354v3M446 354v3M450 354v3M452 363v3M458 357v3M460 357v6M462 360v3M464 357v3M466 360v3M468 357v3M472 351v3M476 366v3M484 330v6M488 333v3M490 354v6M492 330v3M492 357v3M494 330v3M494 348v3M494 354v6M498 348v3M500 333v3M502 330v3M502 354v3M504 342v6M506 351v3M508 333v3M508 348v3M508 354v3M510 339v3M510 348v3M512 339v9M514 330v3M514 354v6M518 330v3M520 333v3M522 354v3M524 342v3M526 327v3M526 333v6M536 345v3M542 345v3M542 351v3M542 357v3M550 336v3M552 333v3M552 339v3M552 354v3M556 345v3M560 336v3M560 345v9M562 333v3M572 348v3M574 345v3M596 348v3M598 351v3M608 333v3M614 351v3M622 348v3M630 351v3M636 336v3M636 345v6M346 444v11M348 444v11M402 464v12M500 476v10M502 476v10M508 476v10M510 476v10M518 476v10M552 476v10M596 476v10M602 476v10M604 476v10M606 476v10M616 476v10M618 476v10M620 476v10M626 476v10M628 476v10M632 476v10M634 476v10M640 476v10"/>
<path stroke="#af0" stroke-width="1" fill="none" d="M151.5 58v3M152.5 58v3M153.5 58v3M154.5 58v3M155.5 58v3M156.5 58v3M157.5 58v3M158.5 58v3M159.5 58v3M162.5 393v9M164.5 280v3M165.5 324v3M165.5 333v3M165.5 345v3M165.5 378v6M166.5 226v3M166.5 268v3M166.5 318v3M166.5 324v3M166.5 333v3M166.5 360v6M166.5 402v3M167.5 196v3M167.5 202v9M167.5 250v3M167.5 274v3M167.5 301v3M167.5 339v3M168.5 196v6M168.5 214v3M168.5 229v3M168.5 235v3M168.5 268v3M168.5 280v3M168.5 289v6M169.5 205v6M169.5 223v3M169.5 244v3M169.5 253v6M169.5 271v3M169.5 277v3M169.5 286v3M169.5 357v6M169.5 381v6M170.5 229v3M170.5 238v6M170.5 256v12M170.5 318v6M170.5 330v3M170.5 342v6M171.5 202v3M171.5 208v3M171.5 220v6M171.5 229v9M171.5 268v9M171.5 304v2M172.5 247v3M172.5 259v3M172.5 283v6M173.5 256v3M173.5 268v3M180.5 262v3M196.5 324v3M197.5 324v3M197.5 345v6M201.5 321v3M201.5 333v6M202.5 312v3M202.5 333v9M203.5 315v3M203.5 321v3M203.5 342v3M204.5 342v3M214.5 262v3M214.5 387v3M214.5 393v3M215.5 315v3M216.5 259v3M218.5 351v3M218.5 366v3M235.5 202v3M235.5 208v3M235.5 220v3M238.5 244v6M239.5 214v3M247.5 235v3M247.5 241v3M250.5 259v3M250.5 369v3M250.5 381v3M251.5 345v3M251.5 369v3M251.5 381v3M252.5 351v3M252.5 396v3M253.5 295v3M253.5 351v3M253.5 372v3M253.5 384v3M253.5 399v3M254.5 339v3M254.5 396v6M255.5 360v3M255.5 369v3M255.5 384v3M255.5 399v3M256.5 339v6M256.5 348v3M256.5 354v6M256.5 372v3M257.5 330v3M257.5 351v3M258.5 360v3M259.5 321v3M259.5 339v3M259.5 363v3M259.5 369v3M259.5 399v3M260.5 324v3M260.5 357v12M260.5 381v3M260.5 390v3M260.5 396v3M272.5 247v3M278.5 202v3M278.5 223v3M279.5 211v3M279.5 223v3M279.5 244v3M279.5 292v3M280.5 220v3M280.5 229v6M280.5 238v3M281.5 220v9M281.5 241v3M283.5 205v3M283.5 217v3M284.5 214v3M284.5 220v3M288.5 232v3M288.5 244v3M290.5 190v3M290.5 298v3M290.5 366v3M292.5 262v3M292.5 277v3M292.5 289v12M292.5 327v3M293.5 342v6M293.5 381v6M293.5 393v3M294.5 259v6M294.5 283v6M294.5 292v6M294.5 339v3M294.5 351v3M294.5 363v3M295.5 277v3M295.5 283v3M295.5 298v6M295.5 318v3M295.5 336v3M295.5 342v6M295.5 360v6M295.5 375v3M295.5 399v6M296.5 235v6M296.5 253v6M296.5 280v3M296.5 321v3M296.5 330v6M296.5 342v3M296.5 357v6M296.5 399v3M297.5 217v3M297.5 277v3M297.5 283v3M297.5 289v3M297.5 301v3M297.5 327v3M297.5 333v3M297.5 339v3M297.5 348v3M297.5 369v6M297.5 387v6M298.5 271v3M298.5 277v3M298.5 292v3M298.5 298v6M298.5 366v3M298.5 378v3M298.5 402v3M299.5 256v3M299.5 330v3M299.5 399v3M300.5 247v3M300.5 262v6M300.5 274v6M300.5 292v3M300.5 315v3M301.5 217v3M301.5 235v3M301.5 247v3M301.5 286v3M301.5 292v3M301.5 298v3M301.5 312v3M301.5 381v6M301.5 393v3M302.5 205v3M302.5 256v3M302.5 265v3M302.5 327v3M302.5 339v6M302.5 357v3M303.5 241v3M303.5 271v3M303.5 286v3M303.5 301v5M303.5 348v6M304.5 301v3M304.5 312v3M304.5 366v9M304.5 378v3M304.5 384v3M305.5 289v3M305.5 295v3M305.5 301v3M305.5 336v3M305.5 360v6M305.5 369v6M305.5 402v3M306.5 250v3M306.5 256v3M306.5 268v3M306.5 304v2M306.5 363v9M307.5 268v6M307.5 286v3M307.5 315v3M307.5 372v3M308.5 262v3M308.5 283v3M308.5 295v3M308.5 301v3M308.5 315v3M308.5 348v3M308.5 354v3M308.5 360v9M308.5 393v3M308.5 402v3M309.5 274v3M309.5 312v3M309.5 318v3M309.5 324v3M309.5 330v3M309.5 336v6M309.5 345v6M310.5 277v6M310.5 286v3M311.5 238v9M311.5 253v3M311.5 259v3M311.5 277v3M311.5 292v6M311.5 304v2M311.5 312v3M312.5 247v3M312.5 280v3M312.5 301v3M313.5 256v3M313.5 262v6M313.5 312v3M314.5 250v6M314.5 298v3M315.5 289v3M315.5 336v3M315.5 393v3M316.5 271v6M316.5 298v3M316.5 312v3M316.5 318v3M317.5 259v3M317.5 268v3M317.5 295v3M317.5 312v3M317.5 336v3M317.5 363v3M318.5 253v6M318.5 262v3M318.5 315v3M318.5 327v3M318.5 399v3M319.5 274v3M319.5 378v6M320.5 202v3M320.5 256v3M320.5 295v6M320.5 336v3M321.5 289v3M321.5 321v3M321.5 336v6M322.5 280v3M322.5 321v3M322.5 360v3M323.5 271v3M323.5 327v3M323.5 333v3M324.5 238v3M324.5 256v3M324.5 268v3M325.5 274v3M325.5 283v3M325.5 315v3M326.5 333v3M327.5 330v3M328.5 235v3M328.5 244v3M328.5 259v3M328.5 274v3M328.5 321v6M329.5 295v3M331.5 214v3M331.5 295v6M332.5 327v6M332.5 372v3M332.5 381v3M333.5 315v3M333.5 330v6M333.5 360v3M333.5 369v3M333.5 375v6M334.5 369v3M334.5 387v6M335.5 360v3M335.5 387v6M335.5 396v6M336.5 354v3M336.5 390v3M337.5 381v6M338.5 369v3M340.5 363v3M344.5 360v3M151.5 428v6M154.5 434v10M157.5 434v10M160.5 444v11M161.5 434v10M163.5 434v10M171.5 434v10M172.5 434v10M176.5 428v6M185.5 434v10M190.5 434v10M195.5 434v10M197.5 428v6M207.5 428v6M208.5 428v6M209.5 434v10M210.5 428v6M222.5 434v10M223.5 434v10M228.5 444v11M232.5 444v11M238.5 434v10M247.5 434v10M263.5 444v11M264.5 434v10M264.5 476v10M265.5 455v9M274.5 434v10M274.5 455v21M275.5 434v10M276.5 428v6M276.5 476v10M283.5 434v10M335.5 444v32M339.5 464v12M341.5 428v6M342.5 434v10M344.5 455v9"/>
<path stroke="#af0" stroke-width="2" fill="none" d="M146 61v3M146 315v3M146 321v3M146 327v3M146 333v3M146 339v3M146 345v3M146 351v3M146 357v3M146 363v3M146 369v3M146 375v3M146 381v3M146 387v3M146 393v3M148 61v3M148 315v3M148 321v3M148 327v3M148 333v3M148 339v3M148 345v3M148 351v3M148 357v3M148 363v3M148 369v3M148 375v3M148 381v3M148 387v3M148 393v3M150 61v3M150 315v3M150 321v3M150 327v3M150 333v3M150 339v3M150 345v3M150 351v3M150 357v3M150 363v3M150 369v3M150 375v3M150 381v3M150 387v3M150 393v3M346 348v6M364 336v3M364 345v6M366 345v3M368 348v3M370 339v6M370 351v3M370 360v3M370 366v3M372 339v3M372 351v3M374 333v3M378 333v6M378 354v3M380 333v3M382 330v3M382 348v3M384 339v3M386 357v3M388 351v3M390 345v3M390 354v3M396 339v3M398 333v3M400 345v12M404 354v3M406 333v3M406 354v3M408 351v3M410 339v3M410 351v3M414 348v9M416 345v6M418 333v3M420 339v3M420 345v3M420 351v3M424 336v3M424 351v3M426 348v3M426 354v3M428 351v3M430 333v3M430 345v3M432 351v3M434 345v3M436 333v3M436 351v3M438 336v6M438 345v6M440 339v3M442 333v3M442 348v3M444 333v3M444 351v3M444 360v3M446 330v3M448 330v3M452 333v3M452 339v3M452 351v12M454 354v6M456 357v3M458 333v3M462 330v3M464 333v3M464 354v3M466 354v6M468 354v3M470 357v3M472 333v3M474 330v3M474 357v3M478 339v3M482 333v3M482 351v3M484 336v3M484 360v3M488 354v3M490 336v3M490 342v3M492 345v3M492 354v3M494 333v3M494 351v3M496 342v6M496 351v3M498 345v3M500 336v3M500 354v3M502 351v3M504 330v3M504 357v3M506 330v3M506 348v3M508 342v3M508 351v3M512 333v3M512 348v3M516 345v3M518 342v3M518 348v6M522 342v3M542 342v3M560 354v3M566 339v3M572 342v6M582 345v3M596 357v3M598 354v3M602 348v3M608 348v3M636 351v3M146 464v12M148 464v12M150 464v12M346 455v9M350 464v12M352 464v12M358 464v12M360 464v12M362 464v12M386 464v12M450 476v10M452 476v10M454 476v10M458 476v10M462 476v10M464 476v10M466 476v10M468 476v10M470 476v10M476 476v10M478 476v10M480 476v10M482 476v10M484 476v10M486 476v10M488 476v10M490 476v10M492 476v10M494 476v10M496 476v10M498 476v10M512 476v10M514 476v10M516 476v10M520 476v10M522 476v10M524 476v10M526 476v10M528 476v10M530 476v10M532 476v10M534 476v10M536 476v10M538 476v10M540 476v10M542 476v10M546 476v10M548 476v10M550 476v10M554 476v10M556 476v10M558 476v10M560 476v10M562 476v10M564 476v10M566 476v10M568 476v10M570 476v10M572 476v10M574 476v10M576 476v10M578 476v10M580 476v10M582 476v10M584 476v10M586 476v10M588 476v10M590 476v10M594 476v10M598 476v10M600 476v10M608 476v10M610 476v10M612 476v10M614 476v10M622 476v10M624 476v10M636 476v10M638 476v10"/>
<path stroke="#d4ff00" stroke-width="1" fill="none" d="M165.5 357v3M165.5 369v3M166.5 321v3M166.5 327v3M166.5 351v9M166.5 390v6M167.5 220v3M167.5 226v6M167.5 286v6M167.5 312v3M167.5 324v3M167.5 342v3M167.5 351v3M168.5 178v3M168.5 202v12M168.5 250v3M168.5 256v3M169.5 235v3M169.5 259v3M169.5 274v3M169.5 301v3M169.5 363v3M169.5 369v6M170.5 226v3M170.5 235v3M170.5 250v6M170.5 277v3M171.5 217v3M171.5 226v3M171.5 241v3M171.5 247v3M171.5 256v3M171.5 280v3M172.5 256v3M172.5 280v3M172.5 295v3M173.5 262v3M173.5 280v6M173.5 295v3M197.5 321v3M197.5 330v3M197.5 342v3M197.5 372v3M198.5 324v3M198.5 330v3M200.5 315v6M200.5 327v3M201.5 315v3M201.5 330v3M201.5 339v3M202.5 315v3M202.5 324v3M202.5 342v3M203.5 327v3M203.5 348v3M213.5 357v3M213.5 372v3M213.5 378v3M213.5 387v3M214.5 339v6M216.5 265v3M217.5 378v6M218.5 345v6M226.5 241v3M227.5 262v3M229.5 190v3M239.5 220v3M239.5 229v3M247.5 283v3M247.5 289v3M250.5 372v9M250.5 384v6M251.5 339v3M251.5 366v3M251.5 375v6M251.5 387v3M252.5 345v3M252.5 372v3M252.5 378v6M253.5 357v3M253.5 366v3M253.5 381v3M253.5 387v3M254.5 402v3M255.5 378v6M255.5 387v6M256.5 399v3M257.5 354v6M257.5 363v6M257.5 372v3M257.5 381v3M257.5 393v3M258.5 387v9M258.5 399v3M259.5 387v12M259.5 402v3M260.5 369v3M260.5 393v3M278.5 217v3M279.5 217v3M280.5 226v3M281.5 232v6M281.5 244v3M283.5 202v3M283.5 208v3M283.5 214v3M284.5 208v6M284.5 217v3M284.5 292v3M285.5 223v3M290.5 345v3M290.5 354v3M292.5 336v6M293.5 399v6M294.5 250v3M294.5 315v3M294.5 324v3M294.5 330v6M294.5 342v3M294.5 348v3M294.5 354v3M294.5 360v3M294.5 372v3M294.5 378v6M294.5 390v3M294.5 396v6M295.5 214v3M295.5 295v3M295.5 330v3M295.5 339v3M295.5 348v6M295.5 366v3M295.5 396v3M296.5 226v3M296.5 292v3M296.5 318v3M296.5 363v3M296.5 390v3M296.5 396v3M297.5 336v3M297.5 351v6M298.5 283v3M298.5 295v3M298.5 315v3M298.5 330v3M298.5 393v6M299.5 247v3M299.5 259v3M299.5 298v6M299.5 393v3M300.5 250v3M300.5 286v6M300.5 318v3M300.5 387v3M301.5 253v6M301.5 268v3M301.5 274v3M301.5 289v3M301.5 360v3M301.5 390v3M301.5 396v3M302.5 208v3M302.5 271v3M302.5 286v3M302.5 330v3M302.5 348v3M302.5 381v9M302.5 393v3M302.5 399v6M303.5 250v3M303.5 265v3M303.5 289v3M303.5 336v3M304.5 253v3M304.5 298v3M304.5 318v3M304.5 327v9M305.5 262v3M305.5 271v3M305.5 298v3M305.5 318v3M305.5 330v6M305.5 345v6M305.5 381v3M305.5 396v6M306.5 280v3M306.5 286v3M306.5 315v3M306.5 321v3M306.5 336v6M306.5 354v3M306.5 372v3M306.5 381v3M307.5 241v3M307.5 265v3M307.5 274v6M307.5 298v3M307.5 318v3M307.5 327v6M307.5 363v9M307.5 387v6M308.5 241v3M308.5 265v3M308.5 277v3M308.5 289v3M308.5 298v3M308.5 339v9M308.5 357v3M309.5 286v3M309.5 315v3M309.5 342v3M309.5 351v3M310.5 256v3M310.5 265v3M310.5 271v3M310.5 289v3M310.5 324v3M310.5 339v3M310.5 348v3M310.5 363v3M310.5 372v3M311.5 250v3M311.5 265v3M312.5 250v3M312.5 286v3M312.5 298v3M313.5 250v6M313.5 259v3M313.5 268v3M314.5 256v3M314.5 265v3M314.5 295v3M314.5 301v3M314.5 312v3M315.5 226v3M315.5 253v3M315.5 265v3M315.5 301v3M315.5 369v3M316.5 268v3M316.5 280v3M316.5 292v3M316.5 301v3M316.5 315v3M316.5 327v6M317.5 253v6M317.5 265v3M317.5 271v3M317.5 327v3M317.5 375v3M318.5 259v3M318.5 295v6M318.5 318v3M318.5 354v3M318.5 384v3M319.5 262v3M319.5 339v3M319.5 363v3M319.5 396v3M320.5 196v3M320.5 250v3M320.5 265v3M320.5 315v6M320.5 333v3M320.5 339v6M321.5 286v3M321.5 292v6M321.5 330v3M322.5 253v3M322.5 268v3M322.5 274v3M322.5 289v3M322.5 366v3M322.5 372v3M323.5 205v3M323.5 214v3M323.5 277v3M323.5 295v3M323.5 342v3M324.5 265v3M325.5 280v3M325.5 318v3M325.5 324v3M325.5 384v3M326.5 253v3M326.5 345v3M327.5 211v3M327.5 315v3M327.5 393v3M328.5 327v6M329.5 271v3M329.5 292v3M329.5 315v3M329.5 321v3M330.5 333v6M331.5 333v6M331.5 366v6M331.5 375v3M332.5 295v3M332.5 339v6M332.5 348v3M332.5 354v3M332.5 375v3M332.5 390v3M333.5 336v3M333.5 354v3M333.5 363v3M333.5 381v9M333.5 399v3M334.5 351v6M334.5 360v3M334.5 366v3M334.5 384v3M334.5 393v12M335.5 363v9M335.5 402v3M336.5 357v3M336.5 372v3M336.5 396v3M337.5 378v3M338.5 387v3M340.5 366v3M153.5 428v6M158.5 444v11M160.5 434v10M169.5 428v6M171.5 444v11M174.5 434v10M188.5 444v11M193.5 434v10M205.5 444v11M206.5 434v21M210.5 434v10M217.5 434v10M226.5 444v20M229.5 444v11M236.5 434v10M237.5 455v9M241.5 434v10M250.5 444v11M260.5 434v10M261.5 434v21M263.5 428v6M267.5 434v10M267.5 455v9M268.5 434v10M274.5 476v10M275.5 464v22M276.5 444v11M277.5 434v10M278.5 444v11M283.5 444v11M292.5 428v6M333.5 428v6M334.5 428v6M336.5 428v6M339.5 434v21M342.5 455v9"/>
<path stroke="#d4ff00" stroke-width="2" fill="none" d="M370 348v3M370 354v3M372 342v9M374 336v3M374 342v3M374 351v3M378 339v3M378 348v3M380 336v6M380 345v3M382 336v6M382 345v3M382 357v3M384 351v3M386 354v3M386 360v3M390 342v3M392 336v3M392 342v3M392 354v3M394 333v3M394 345v3M394 351v6M396 342v6M398 336v3M398 357v3M402 342v3M402 348v3M404 339v6M408 333v18M412 336v3M412 345v3M414 333v3M414 345v3M416 339v6M418 330v3M418 339v3M420 333v3M420 342v3M422 333v9M424 339v3M428 348v3M428 354v3M430 348v3M432 345v3M436 336v3M440 333v3M440 342v3M442 351v3M444 348v3M448 351v6M452 336v3M456 330v3M458 348v9M460 333v3M464 351v3M468 333v3M478 330v3M478 336v3M478 354v3M480 357v3M486 330v3M486 354v3M488 342v3M488 357v3M490 339v3M490 345v3M492 333v3M492 339v3M492 348v6M494 336v3M494 345v3M498 333v6M500 348v6M502 336v3M502 348v3M504 336v3M506 342v6M508 336v6M518 345v3M520 336v6M542 354v3M376 476v10M392 476v10M410 476v10M412 476v10M424 476v10M426 476v10M428 476v10M430 476v10M434 476v10M436 476v10M440 476v10M442 476v10M444 476v10M446 476v10M448 476v10M456 476v10M460 476v10M472 476v10M474 476v10M504 476v10M506 476v10M544 476v10M592 476v10M628 486v10M642 476v10"/>
<path stroke="#ff0" stroke-width="1" fill="none" d="M165.5 348v6M165.5 360v3M166.5 217v3M166.5 315v3M166.5 345v6M166.5 366v9M166.5 396v6M167.5 292v6M167.5 333v3M167.5 345v3M167.5 354v6M168.5 223v3M168.5 241v6M168.5 312v3M169.5 187v3M169.5 217v6M169.5 229v3M169.5 250v3M169.5 262v3M169.5 280v3M169.5 289v9M169.5 315v3M169.5 351v6M169.5 366v3M169.5 375v3M169.5 387v3M169.5 402v3M170.5 193v3M170.5 205v3M170.5 232v3M170.5 244v3M170.5 268v6M170.5 289v3M170.5 295v3M170.5 301v3M171.5 238v3M171.5 301v3M173.5 277v3M173.5 286v3M197.5 315v3M197.5 363v3M197.5 399v3M198.5 327v3M199.5 315v3M200.5 324v3M200.5 330v6M201.5 324v6M201.5 345v3M202.5 327v3M203.5 345v3M203.5 393v3M204.5 375v6M213.5 381v3M213.5 390v3M214.5 363v9M214.5 384v3M215.5 321v3M215.5 330v6M251.5 342v3M251.5 348v3M251.5 363v3M251.5 384v3M252.5 339v3M252.5 348v3M252.5 354v6M252.5 366v6M253.5 363v3M253.5 390v3M254.5 384v3M254.5 390v6M255.5 363v6M255.5 372v6M256.5 360v3M256.5 369v3M256.5 375v3M257.5 360v3M257.5 375v3M257.5 390v3M257.5 402v3M258.5 363v9M258.5 402v3M259.5 366v3M260.5 372v3M260.5 384v3M276.5 256v3M279.5 199v3M280.5 214v6M281.5 211v3M281.5 238v3M284.5 202v3M294.5 318v6M294.5 327v3M294.5 336v3M294.5 345v3M294.5 357v3M294.5 366v3M294.5 393v3M294.5 402v3M295.5 274v3M295.5 292v3M295.5 333v3M295.5 354v3M295.5 372v3M296.5 232v3M296.5 241v3M296.5 250v3M296.5 298v3M296.5 393v3M297.5 318v3M298.5 274v3M298.5 357v3M298.5 363v3M298.5 369v3M299.5 324v3M299.5 333v9M299.5 357v3M299.5 363v3M299.5 402v3M300.5 298v3M300.5 363v3M300.5 390v3M300.5 399v3M301.5 262v3M301.5 280v3M301.5 301v3M301.5 315v3M301.5 336v3M301.5 348v3M301.5 378v3M301.5 387v3M302.5 315v3M302.5 324v3M302.5 345v3M302.5 378v3M302.5 390v3M302.5 396v3M303.5 274v3M303.5 283v3M303.5 295v6M303.5 315v3M303.5 333v3M303.5 339v3M304.5 271v3M304.5 283v3M304.5 292v3M304.5 315v3M304.5 321v6M304.5 375v3M305.5 265v6M305.5 274v3M305.5 324v3M305.5 354v3M305.5 375v3M305.5 384v6M306.5 271v3M306.5 324v3M306.5 330v6M306.5 357v6M306.5 384v6M307.5 256v3M307.5 280v6M307.5 289v6M307.5 321v6M307.5 333v3M307.5 357v3M308.5 256v3M308.5 280v3M308.5 286v3M308.5 327v9M308.5 390v3M309.5 280v3M309.5 289v3M309.5 298v3M309.5 327v3M309.5 357v3M310.5 333v6M310.5 342v3M310.5 351v3M310.5 366v6M310.5 375v3M310.5 384v6M311.5 247v3M311.5 283v3M311.5 289v3M311.5 301v3M311.5 321v3M311.5 375v3M312.5 262v3M312.5 289v3M312.5 318v6M312.5 327v3M313.5 283v9M313.5 295v3M313.5 301v3M313.5 348v3M314.5 286v6M315.5 256v3M315.5 277v3M315.5 283v3M315.5 339v3M315.5 390v3M316.5 295v3M316.5 321v6M316.5 384v3M317.5 280v3M317.5 289v6M317.5 301v3M317.5 330v6M317.5 369v3M317.5 384v3M317.5 402v3M318.5 265v3M318.5 286v3M318.5 301v3M318.5 339v3M318.5 348v3M318.5 357v3M318.5 372v12M318.5 396v3M318.5 402v3M319.5 271v3M319.5 336v3M319.5 342v3M319.5 360v3M319.5 369v9M319.5 384v3M319.5 399v6M320.5 262v3M320.5 274v3M320.5 283v3M321.5 333v3M321.5 348v3M322.5 265v3M322.5 277v3M322.5 390v6M324.5 333v6M325.5 321v3M325.5 327v6M325.5 402v3M326.5 336v6M328.5 345v3M328.5 375v3M328.5 393v9M329.5 318v3M329.5 336v3M329.5 348v3M330.5 339v3M331.5 345v3M331.5 357v6M331.5 372v3M331.5 381v12M331.5 396v3M332.5 345v3M332.5 363v3M332.5 378v3M332.5 384v6M333.5 318v12M333.5 348v3M333.5 357v3M333.5 366v3M333.5 402v3M334.5 357v3M334.5 363v3M336.5 393v3M337.5 375v3M338.5 390v3M159.5 434v10M165.5 428v6M175.5 434v10M178.5 434v10M181.5 444v11M184.5 434v10M187.5 428v6M194.5 434v10M206.5 455v9M220.5 444v20M221.5 434v10M230.5 444v11M234.5 444v11M240.5 434v10M246.5 444v11M260.5 455v9M262.5 428v6M263.5 434v10M264.5 455v21M265.5 428v6M266.5 455v21M268.5 444v11M269.5 428v6M270.5 434v21M270.5 464v12M273.5 464v12M275.5 455v9M276.5 455v9M280.5 444v11M281.5 428v6M283.5 455v9M284.5 434v10M288.5 428v6M290.5 434v10M291.5 428v6M298.5 428v6M299.5 428v6M303.5 428v6M339.5 476v10M340.5 434v10M342.5 444v11M342.5 464v12M343.5 464v12M344.5 464v12"/>
<path stroke="#ff0" stroke-width="2" fill="none" d="M366 354v3M370 345v3M374 339v3M376 345v3M380 342v3M382 333v3M382 342v3M382 351v6M384 342v3M388 333v3M388 342v9M392 339v3M392 345v3M394 336v3M394 348v3M400 336v3M404 333v3M404 351v3M406 339v6M406 351v3M414 339v3M418 348v3M420 336v3M420 348v3M422 342v3M424 342v3M428 342v3M430 342v3M432 336v3M432 348v3M434 342v3M436 342v3M436 348v3M438 342v3M440 351v3M442 336v6M442 345v3M446 333v3M446 345v3M446 351v3M448 333v3M450 351v3M452 345v6M454 351v3M458 345v3M460 351v6M462 333v6M462 357v3M464 342v3M464 348v3M470 354v3M472 336v3M472 348v3M472 354v3M476 354v3M478 333v3M478 342v9M480 351v6M482 348v3M484 351v9M488 336v3M490 348v3M492 336v3M492 342v3M496 336v6M498 342v3M502 339v3M504 333v3M506 333v3M510 342v3M608 345v3M146 476v10M148 476v10M150 476v10M348 464v12M354 476v10M364 476v10M368 476v10M370 476v10M372 476v10M382 476v10M390 476v10M396 476v20M398 476v10M400 476v10M406 476v10M408 476v20M410 486v10M414 476v20M416 476v10M418 476v10M420 476v10M422 476v10M430 486v10M432 476v10M438 476v10M440 486v10M448 486v10M450 486v10M458 486v10M474 486v10M478 486v10M480 486v10M484 486v10M490 486v10M492 486v10M494 486v10M496 486v10M500 486v10M502 486v10M508 486v10M510 486v10M512 486v10M514 486v10M522 486v10M524 486v10M528 486v10M530 486v10M538 486v10M548 486v10M550 486v10M552 486v10M556 486v10M570 486v10M572 486v10M576 486v10M580 486v10M586 486v10M588 486v10M590 486v10M594 486v10M598 486v10M602 486v10M604 486v10M606 486v10M608 486v10M616 486v10M618 486v10M620 486v10M622 486v10M626 486v10M630 486v10M632 486v10M634 486v10M640 486v10"/>
<path stroke="#fff100" stroke-width="1" fill="none" d="M165.5 354v3M165.5 363v3M165.5 375v3M166.5 342v3M166.5 375v15M167.5 223v3M167.5 232v3M167.5 318v6M167.5 348v3M167.5 360v6M168.5 220v3M168.5 277v3M168.5 286v3M168.5 348v3M169.5 196v3M169.5 211v6M169.5 298v3M169.5 378v3M169.5 390v3M170.5 199v3M170.5 217v9M170.5 247v3M170.5 292v3M170.5 298v3M171.5 205v3M171.5 277v3M171.5 283v3M171.5 289v3M172.5 289v3M197.5 351v3M197.5 366v6M197.5 381v3M197.5 396v3M198.5 315v3M198.5 321v3M198.5 333v6M198.5 342v3M199.5 318v3M199.5 327v3M200.5 321v3M201.5 342v3M202.5 321v3M202.5 330v3M203.5 351v9M203.5 363v6M204.5 345v3M204.5 363v6M204.5 372v3M204.5 387v3M204.5 399v3M213.5 375v3M213.5 384v3M213.5 399v3M214.5 345v3M214.5 351v9M215.5 327v3M215.5 336v3M216.5 342v3M217.5 369v9M217.5 387v6M217.5 396v9M239.5 226v3M252.5 342v3M253.5 360v3M253.5 378v3M253.5 402v3M254.5 342v3M254.5 381v3M254.5 387v3M256.5 363v6M256.5 378v6M256.5 390v3M256.5 396v3M256.5 402v3M257.5 369v3M257.5 378v3M257.5 384v3M257.5 396v3M258.5 381v6M258.5 396v3M279.5 220v3M281.5 229v3M294.5 369v3M295.5 357v3M295.5 369v3M297.5 298v3M297.5 315v3M298.5 289v3M298.5 333v3M298.5 354v3M298.5 360v3M299.5 262v3M299.5 268v3M299.5 274v9M299.5 286v3M299.5 295v3M300.5 324v6M300.5 342v3M300.5 402v3M301.5 259v3M301.5 271v3M301.5 283v3M301.5 295v3M301.5 324v3M301.5 333v3M301.5 351v3M301.5 363v3M301.5 369v9M302.5 280v3M302.5 321v3M302.5 375v3M303.5 268v3M303.5 324v6M304.5 345v3M304.5 360v6M305.5 256v3M305.5 286v3M305.5 292v3M305.5 357v3M305.5 378v3M306.5 274v6M306.5 298v3M306.5 378v3M307.5 342v6M307.5 354v3M307.5 360v3M308.5 247v6M308.5 259v3M308.5 318v3M308.5 336v3M309.5 277v3M309.5 301v3M309.5 363v3M309.5 369v3M310.5 327v6M310.5 345v3M310.5 378v6M310.5 390v3M311.5 271v3M311.5 286v3M311.5 324v3M311.5 330v3M311.5 372v3M311.5 381v3M312.5 259v3M312.5 265v3M312.5 277v3M312.5 315v3M312.5 324v3M312.5 330v3M312.5 393v3M313.5 280v3M313.5 292v3M313.5 315v12M313.5 336v3M313.5 402v3M314.5 271v3M314.5 277v3M314.5 283v3M314.5 292v3M315.5 262v3M315.5 268v6M315.5 286v3M315.5 295v3M315.5 333v3M315.5 342v3M315.5 351v3M315.5 366v3M315.5 375v3M315.5 381v3M315.5 396v3M315.5 402v3M316.5 265v3M316.5 333v9M316.5 366v3M316.5 381v3M316.5 387v3M317.5 274v3M317.5 286v3M317.5 298v3M317.5 324v3M317.5 378v6M317.5 387v3M317.5 399v3M318.5 277v3M318.5 330v9M318.5 342v6M318.5 351v3M318.5 360v3M318.5 369v3M319.5 315v3M319.5 333v3M319.5 354v6M319.5 366v3M319.5 393v3M320.5 271v3M320.5 277v6M320.5 345v3M320.5 396v3M321.5 345v3M321.5 354v9M322.5 262v3M322.5 295v3M322.5 375v3M323.5 336v6M323.5 345v3M323.5 378v6M323.5 399v3M324.5 339v3M325.5 333v3M325.5 381v3M325.5 387v3M326.5 348v6M326.5 372v3M327.5 333v3M327.5 396v6M328.5 333v3M328.5 402v3M329.5 330v3M329.5 393v3M329.5 402v3M330.5 348v3M330.5 363v3M330.5 369v3M331.5 348v3M331.5 363v3M331.5 378v3M331.5 393v3M332.5 336v3M332.5 357v3M332.5 369v3M333.5 351v3M336.5 399v3M152.5 444v11M154.5 444v11M156.5 434v10M163.5 444v11M170.5 434v10M176.5 434v10M190.5 444v11M191.5 434v10M192.5 434v10M205.5 434v10M207.5 434v21M208.5 434v10M209.5 444v11M213.5 428v6M218.5 444v11M224.5 444v11M228.5 455v9M229.5 455v9M235.5 444v11M239.5 444v11M243.5 444v11M252.5 444v11M260.5 428v6M260.5 444v11M260.5 464v12M265.5 464v12M266.5 434v21M267.5 444v11M267.5 464v12M268.5 476v10M269.5 455v9M270.5 455v9M272.5 428v16M273.5 434v21M276.5 464v12M278.5 455v31M280.5 428v16M283.5 464v12M284.5 428v6M288.5 434v21M290.5 428v6M291.5 434v10M301.5 428v6M332.5 428v6M334.5 455v9M335.5 476v20M336.5 464v12M338.5 434v21M340.5 444v20"/>
<path stroke="#fff100" stroke-width="2" fill="none" d="M370 357v3M376 342v3M378 345v3M384 348v3M386 339v6M386 351v3M388 336v6M390 348v6M398 354v3M404 336v3M404 348v3M406 336v3M410 342v9M414 336v3M426 336v3M426 345v3M428 336v3M428 345v3M430 336v3M432 342v3M434 336v6M436 345v3M440 345v6M444 336v3M444 345v3M446 348v3M450 348v3M452 342v3M454 333v9M456 333v3M456 351v6M458 336v3M458 342v3M460 348v3M464 336v6M466 333v3M466 339v3M466 351v3M468 351v3M470 351v3M472 339v3M474 333v6M474 345v12M476 333v6M476 348v6M478 351v3M482 336v12M484 339v9M486 345v9M488 339v3M488 345v3M488 351v3M494 342v3M498 339v3M500 345v3M502 333v3M502 345v3M504 339v3M506 336v6M346 464v12M356 476v20M364 486v10M366 476v10M368 486v10M372 486v10M376 486v10M378 476v10M380 476v10M382 486v10M384 476v20M386 476v10M388 476v10M390 486v10M392 486v10M394 476v10M400 486v10M402 476v10M404 476v10M412 486v10M416 486v10M420 486v10M424 486v10M428 486v10M432 486v10M434 486v10M436 486v10M438 486v10M442 486v10M446 486v10M452 486v10M454 486v10M456 486v10M460 486v10M462 486v10M464 486v10M466 486v10M468 486v10M470 486v10M472 486v10M476 486v10M482 486v10M486 486v10M488 486v10M498 486v10M506 486v10M516 486v10M518 486v10M520 486v10M526 486v10M532 486v10M534 486v10M536 486v10M540 486v10M544 486v10M546 486v10M554 486v10M558 486v10M560 486v10M562 486v10M564 486v10M566 486v10M568 486v10M574 486v10M578 486v10M582 486v10M584 486v10M592 486v10M596 486v10M600 486v10M610 486v10M612 486v10M614 486v10M624 486v10M636 486v10M638 486v10M642 486v10"/>
<path stroke="#ffe300" stroke-width="1" fill="none" d="M167.5 315v3M167.5 336v3M167.5 387v3M168.5 226v3M169.5 202v3M169.5 283v3M169.5 324v9M169.5 336v3M170.5 196v3M170.5 202v3M170.5 280v9M171.5 265v3M171.5 286v3M171.5 298v3M197.5 360v3M197.5 375v3M197.5 402v3M198.5 339v3M199.5 324v3M199.5 339v3M203.5 360v3M203.5 390v3M204.5 360v3M204.5 369v3M204.5 384v3M204.5 390v3M204.5 402v3M214.5 360v3M214.5 372v12M215.5 324v3M215.5 345v3M216.5 357v3M217.5 384v3M217.5 393v3M251.5 357v6M253.5 375v3M253.5 393v6M254.5 354v3M254.5 363v3M254.5 369v12M256.5 387v3M257.5 399v3M258.5 378v3M280.5 241v3M297.5 286v3M298.5 345v3M299.5 265v3M299.5 289v3M299.5 351v3M299.5 360v3M300.5 321v3M300.5 330v12M301.5 277v3M301.5 318v6M301.5 339v3M301.5 366v3M302.5 295v3M302.5 318v3M303.5 277v3M303.5 330v3M304.5 286v6M304.5 336v3M304.5 348v6M304.5 357v3M305.5 277v3M305.5 321v3M306.5 265v3M306.5 283v3M306.5 295v3M306.5 301v3M307.5 336v6M307.5 348v6M308.5 268v6M308.5 292v3M309.5 292v3M309.5 360v3M309.5 396v3M309.5 402v3M310.5 360v3M310.5 393v3M310.5 399v6M311.5 262v3M311.5 298v3M311.5 315v6M311.5 363v3M311.5 369v3M311.5 378v3M311.5 384v3M312.5 271v6M312.5 283v3M312.5 336v6M312.5 396v3M313.5 298v3M313.5 330v6M313.5 339v3M313.5 360v3M313.5 399v3M314.5 315v3M314.5 330v6M315.5 259v3M315.5 312v3M315.5 354v12M315.5 372v3M315.5 378v3M315.5 384v6M316.5 289v3M316.5 342v3M316.5 390v3M317.5 262v3M317.5 277v3M317.5 315v9M317.5 372v3M317.5 390v6M318.5 280v3M318.5 289v3M318.5 387v3M318.5 393v3M319.5 318v3M319.5 330v3M319.5 387v6M320.5 259v3M320.5 348v3M320.5 393v3M321.5 342v3M322.5 378v6M322.5 396v3M323.5 375v3M324.5 342v3M325.5 336v6M325.5 375v6M325.5 390v12M326.5 366v3M326.5 384v3M327.5 375v3M327.5 387v6M328.5 336v3M328.5 348v3M328.5 372v3M328.5 378v3M328.5 390v3M329.5 333v3M329.5 339v3M329.5 345v3M329.5 387v3M329.5 396v6M330.5 342v3M330.5 366v3M330.5 372v3M330.5 378v3M332.5 366v3M332.5 393v3M152.5 434v10M157.5 444v11M158.5 455v9M160.5 455v9M161.5 444v11M162.5 434v10M164.5 444v11M171.5 455v9M177.5 444v11M179.5 434v10M182.5 444v11M183.5 444v11M184.5 444v11M185.5 444v11M188.5 455v9M189.5 434v10M196.5 434v10M204.5 428v6M210.5 444v11M212.5 428v6M222.5 455v9M225.5 444v20M227.5 455v9M230.5 455v9M231.5 444v11M232.5 455v9M234.5 455v9M235.5 455v9M242.5 444v11M244.5 444v20M245.5 444v11M248.5 444v11M249.5 444v11M250.5 455v9M251.5 444v20M260.5 476v10M261.5 455v9M262.5 434v10M263.5 455v21M264.5 486v10M265.5 434v10M267.5 476v10M269.5 434v10M271.5 428v6M271.5 444v20M273.5 455v9M273.5 476v10M277.5 428v6M277.5 444v11M279.5 444v11M282.5 428v6M282.5 444v20M284.5 444v11M285.5 428v6M287.5 434v10M288.5 455v9M291.5 455v9M292.5 434v10M292.5 455v9M297.5 428v6M298.5 434v21M300.5 428v6M301.5 434v10M301.5 455v9M307.5 428v6M329.5 428v6M334.5 444v11M335.5 496v8M336.5 434v10M336.5 455v9M337.5 434v30M338.5 455v21M339.5 486v10M340.5 464v12M341.5 434v21M341.5 464v12"/>
<path stroke="#ffe300" stroke-width="2" fill="none" d="M384 345v3M394 342v3M398 339v3M400 339v3M402 345v3M404 345v3M406 348v3M414 342v3M418 345v3M426 342v3M430 339v3M432 339v3M440 336v3M442 342v3M446 336v3M446 342v3M448 345v6M450 333v3M454 342v9M456 336v6M458 339v3M460 336v3M462 345v3M464 345v3M466 336v3M468 336v9M470 333v3M470 339v3M470 348v3M472 345v3M472 357v3M474 339v6M476 345v3M480 333v6M480 348v3M484 348v3M486 333v6M488 348v3M494 339v3M500 339v6M510 345v3M146 486v10M148 486v10M150 486v10M350 476v10M352 476v20M354 486v10M358 476v10M360 476v10M362 476v10M366 486v10M370 486v10M374 476v10M378 486v10M380 486v10M386 486v10M388 486v10M394 486v10M398 486v10M404 486v10M406 486v10M418 486v10M422 486v10M426 486v10M444 486v10M500 496v8M504 486v10M542 486v10M602 496v8M628 496v8M630 496v8M632 496v8M638 496v8"/>
<path stroke="#ffd500" stroke-width="1" fill="none" d="M165.5 366v3M167.5 390v6M169.5 318v6M169.5 333v3M169.5 339v3M169.5 345v6M169.5 399v3M170.5 214v3M171.5 295v3M172.5 292v3M197.5 357v3M197.5 378v3M197.5 384v3M197.5 393v3M198.5 360v3M199.5 321v3M199.5 330v3M200.5 342v3M201.5 348v3M202.5 318v3M202.5 345v3M203.5 396v3M203.5 402v3M204.5 357v3M213.5 396v3M214.5 348v3M215.5 339v3M216.5 348v3M216.5 360v3M251.5 351v6M254.5 348v6M254.5 360v3M256.5 384v3M256.5 393v3M257.5 387v3M258.5 372v3M278.5 214v3M298.5 318v3M298.5 327v3M298.5 342v3M298.5 348v3M299.5 342v6M299.5 354v3M300.5 345v3M300.5 351v3M300.5 357v3M301.5 330v3M301.5 342v3M301.5 357v3M304.5 339v3M304.5 354v3M305.5 283v3M305.5 327v3M306.5 375v3M308.5 324v3M309.5 366v3M309.5 390v3M309.5 399v3M310.5 354v6M310.5 396v3M311.5 256v3M311.5 327v3M311.5 333v3M311.5 339v3M311.5 357v6M311.5 366v3M311.5 387v3M312.5 268v3M312.5 295v3M312.5 333v3M313.5 274v3M313.5 327v3M313.5 342v6M313.5 351v9M313.5 396v3M314.5 262v3M314.5 274v3M314.5 280v3M314.5 321v9M314.5 336v3M314.5 390v9M314.5 402v3M315.5 250v3M315.5 280v3M315.5 345v6M315.5 399v3M316.5 354v6M316.5 363v3M316.5 369v3M316.5 399v3M317.5 396v3M318.5 271v3M318.5 283v3M318.5 363v6M318.5 390v3M319.5 324v6M319.5 345v3M320.5 399v6M321.5 384v9M321.5 396v6M322.5 384v6M323.5 348v3M323.5 357v15M323.5 384v3M323.5 390v3M323.5 402v3M324.5 345v3M324.5 366v3M324.5 375v6M324.5 390v3M325.5 357v6M326.5 354v3M326.5 363v3M326.5 369v3M326.5 375v6M326.5 387v3M326.5 402v3M327.5 351v3M327.5 378v3M327.5 384v3M327.5 402v3M328.5 339v6M328.5 354v3M328.5 369v3M328.5 381v3M329.5 351v3M329.5 384v3M329.5 390v3M330.5 345v3M330.5 357v6M330.5 375v3M330.5 384v6M330.5 396v3M331.5 351v6M332.5 399v6M333.5 390v3M336.5 402v3M154.5 455v9M155.5 434v21M156.5 444v11M159.5 444v11M160.5 464v12M162.5 444v20M163.5 455v9M169.5 434v10M174.5 444v11M180.5 444v11M181.5 455v9M183.5 455v9M185.5 455v9M186.5 434v10M187.5 434v10M191.5 444v11M195.5 444v11M197.5 434v10M204.5 434v10M205.5 455v9M208.5 444v11M210.5 455v9M213.5 434v10M214.5 428v6M219.5 444v20M227.5 444v11M227.5 464v12M228.5 464v12M231.5 455v9M232.5 464v12M237.5 464v12M241.5 444v11M247.5 455v9M253.5 428v6M261.5 428v6M262.5 444v20M265.5 444v11M265.5 476v10M266.5 476v10M268.5 455v21M269.5 444v11M269.5 464v12M271.5 434v10M272.5 444v20M275.5 486v10M277.5 464v12M279.5 455v9M281.5 444v11M281.5 464v12M282.5 434v10M283.5 476v10M284.5 455v9M287.5 428v6M289.5 444v11M290.5 444v20M295.5 428v6M296.5 428v16M299.5 434v10M302.5 434v10M303.5 434v10M310.5 428v6M315.5 428v6M321.5 428v6M325.5 428v6M329.5 434v10M334.5 464v12M337.5 464v12M338.5 486v10M340.5 476v20M341.5 455v9M341.5 476v10M342.5 476v10M343.5 486v10"/>
<path stroke="#ffd500" stroke-width="2" fill="none" d="M146 58v3M148 58v3M150 58v3M378 342v3M386 345v6M394 339v3M398 351v3M418 342v3M426 339v3M428 339v3M444 339v6M448 336v3M448 342v3M450 336v6M456 342v3M460 345v3M462 339v3M462 348v3M462 354v3M466 342v3M468 345v6M470 336v3M470 342v3M472 342v3M476 342v3M480 339v9M486 342v3M502 342v3M348 476v10M350 486v10M358 486v10M362 486v10M364 496v8M368 496v8M374 486v10M396 496v8M402 486v10M438 496v8M440 496v8M450 496v8M456 496v8M458 496v8M470 496v8M480 496v8M484 496v8M488 496v8M492 496v8M494 496v8M496 496v8M502 496v8M508 496v8M510 496v8M512 496v8M518 496v8M522 496v8M524 496v8M528 496v8M530 496v8M536 496v8M538 496v8M540 496v8M544 496v8M548 496v8M550 496v8M552 496v8M556 496v8M560 496v8M566 496v8M568 496v8M570 496v8M572 496v8M574 496v8M576 496v8M580 496v8M582 496v8M586 496v8M594 496v8M604 496v8M606 496v8M612 496v8M616 496v8M618 496v8M620 496v8M624 496v8M626 496v8M634 496v8M640 496v8M642 496v8"/>
<path stroke="#ffc700" stroke-width="1" fill="none" d="M167.5 366v3M167.5 384v3M168.5 330v6M168.5 342v6M168.5 351v3M168.5 357v6M169.5 393v6M171.5 292v3M172.5 298v3M197.5 354v3M198.5 318v3M198.5 345v6M198.5 357v3M198.5 363v3M199.5 333v3M199.5 342v3M200.5 336v3M201.5 360v3M202.5 363v6M204.5 348v3M204.5 381v3M204.5 393v6M213.5 393v3M213.5 402v3M215.5 342v3M215.5 348v3M215.5 363v3M215.5 372v3M215.5 390v12M216.5 354v3M216.5 363v3M217.5 342v3M217.5 357v3M254.5 345v3M254.5 357v3M254.5 366v3M258.5 375v3M298.5 336v6M298.5 351v3M299.5 271v3M299.5 283v3M300.5 348v3M300.5 354v3M300.5 360v3M301.5 327v3M301.5 345v3M301.5 354v3M303.5 318v3M304.5 295v3M306.5 289v6M308.5 321v3M309.5 295v3M309.5 372v3M309.5 393v3M311.5 280v3M311.5 336v3M311.5 390v3M311.5 399v3M312.5 292v3M312.5 369v12M312.5 384v9M312.5 399v3M313.5 363v3M313.5 369v6M314.5 268v3M314.5 318v3M314.5 342v6M314.5 381v3M314.5 387v3M315.5 274v3M315.5 292v3M315.5 298v3M315.5 315v3M315.5 321v6M315.5 330v3M316.5 345v3M316.5 351v3M316.5 360v3M316.5 372v9M316.5 402v3M318.5 292v3M319.5 321v3M319.5 351v3M320.5 286v3M320.5 354v3M320.5 387v6M321.5 351v3M321.5 363v9M321.5 378v6M321.5 393v3M321.5 402v3M322.5 402v3M323.5 351v6M323.5 372v3M323.5 387v3M323.5 396v3M324.5 348v6M324.5 357v3M324.5 369v3M324.5 381v3M324.5 387v3M324.5 396v3M324.5 402v3M325.5 342v6M325.5 354v3M325.5 372v3M326.5 381v3M326.5 393v9M327.5 354v3M327.5 366v9M328.5 351v3M328.5 384v3M329.5 342v3M329.5 357v3M329.5 366v3M330.5 351v3M330.5 381v3M330.5 390v6M330.5 399v3M332.5 360v3M332.5 396v3M333.5 393v3M151.5 434v10M152.5 455v9M159.5 455v9M164.5 434v10M173.5 444v11M175.5 455v9M177.5 455v9M180.5 455v9M182.5 455v9M184.5 455v9M189.5 444v11M194.5 444v11M196.5 444v11M204.5 444v11M207.5 455v9M208.5 455v9M209.5 455v9M211.5 428v6M212.5 444v11M216.5 428v6M218.5 455v9M220.5 464v12M222.5 444v11M224.5 455v21M233.5 455v9M236.5 455v9M238.5 444v11M239.5 455v9M240.5 444v20M242.5 455v9M245.5 455v9M246.5 455v9M248.5 455v9M249.5 455v9M253.5 434v10M259.5 428v6M262.5 464v22M263.5 476v10M267.5 486v10M269.5 476v10M271.5 476v10M272.5 476v10M273.5 486v10M274.5 486v10M276.5 486v10M279.5 428v16M279.5 464v22M280.5 455v9M280.5 476v10M281.5 476v10M282.5 464v22M284.5 464v12M285.5 434v21M286.5 428v6M287.5 444v11M289.5 428v6M292.5 444v11M293.5 428v27M298.5 455v9M300.5 434v10M301.5 464v12M302.5 428v6M308.5 428v6M310.5 434v10M319.5 428v6M328.5 428v16M333.5 455v21M333.5 486v10M334.5 434v10M336.5 476v10M338.5 476v10M342.5 486v10M343.5 476v10M344.5 476v10"/>
<path stroke="#ffc700" stroke-width="2" fill="none" d="M398 348v3M406 345v3M446 339v3M448 339v3M450 345v3M456 345v6M460 339v3M462 342v3M466 345v3M470 345v3M486 339v3M354 496v8M356 496v8M360 486v10M370 496v8M372 496v8M374 496v8M376 496v8M384 496v8M390 496v8M398 496v8M400 496v8M406 496v8M408 496v8M410 496v8M412 496v8M414 496v8M418 496v8M420 496v8M422 496v8M424 496v8M426 496v8M428 496v8M430 496v8M432 496v8M434 496v8M436 496v8M442 496v8M444 496v8M446 496v8M448 496v8M452 496v8M454 496v8M460 496v8M462 496v8M464 496v8M466 496v8M468 496v8M472 496v8M474 496v8M476 496v8M478 496v8M482 496v8M486 496v8M490 496v8M498 496v8M506 496v8M514 496v8M516 496v8M520 496v8M526 496v8M532 496v8M534 496v8M542 496v8M546 496v8M554 496v8M558 496v8M562 496v8M564 496v8M578 496v8M584 496v8M588 496v8M590 496v8M592 496v8M596 496v8M598 496v8M600 496v8M608 496v8M610 496v8M614 496v8M622 496v8M636 496v8"/>
<path stroke="#ffb900" stroke-width="1" fill="none" d="M167.5 369v12M167.5 396v3M167.5 402v3M168.5 315v9M168.5 336v6M168.5 363v3M168.5 402v3M169.5 342v3M197.5 390v3M198.5 351v6M198.5 396v3M199.5 336v3M200.5 339v3M201.5 354v6M201.5 366v3M201.5 375v3M202.5 351v6M202.5 360v3M203.5 369v3M203.5 378v6M203.5 399v3M204.5 351v6M215.5 351v6M215.5 366v3M215.5 402v3M216.5 345v3M216.5 366v3M217.5 348v3M217.5 354v3M217.5 360v3M217.5 366v3M298.5 321v6M299.5 348v3M303.5 321v3M304.5 342v3M309.5 283v3M309.5 375v3M309.5 387v3M311.5 354v3M312.5 342v9M312.5 354v3M312.5 381v3M312.5 402v3M313.5 387v3M313.5 393v3M314.5 348v3M314.5 360v9M314.5 375v3M314.5 384v3M314.5 399v3M315.5 327v3M316.5 348v3M316.5 393v6M318.5 274v3M319.5 348v3M320.5 268v3M320.5 351v3M320.5 357v3M320.5 363v3M320.5 369v3M321.5 372v6M322.5 399v3M323.5 393v3M324.5 354v3M324.5 363v3M324.5 372v3M324.5 384v3M324.5 393v3M324.5 399v3M325.5 351v3M325.5 363v3M326.5 357v6M327.5 336v3M327.5 357v3M327.5 363v3M327.5 381v3M328.5 357v3M328.5 363v6M328.5 387v3M329.5 360v3M329.5 369v6M330.5 402v3M333.5 396v3M151.5 444v11M153.5 434v10M160.5 486v10M161.5 455v9M165.5 434v10M166.5 428v6M170.5 444v11M172.5 444v11M177.5 464v12M178.5 444v11M183.5 464v12M190.5 455v9M192.5 444v11M193.5 444v11M198.5 428v6M217.5 444v20M218.5 464v12M222.5 464v12M223.5 444v11M226.5 464v12M228.5 476v10M229.5 464v12M233.5 444v11M234.5 464v12M235.5 464v12M238.5 455v9M239.5 464v12M241.5 455v9M243.5 455v21M259.5 434v10M261.5 464v12M266.5 486v10M270.5 476v20M271.5 464v12M272.5 464v12M277.5 455v9M278.5 486v10M280.5 464v12M283.5 486v10M288.5 464v12M289.5 434v10M290.5 464v12M291.5 444v11M291.5 464v12M299.5 444v11M301.5 444v11M302.5 444v11M306.5 428v6M311.5 434v10M318.5 434v10M320.5 428v6M330.5 428v16M331.5 428v16M332.5 434v10M333.5 434v21M334.5 476v10M336.5 444v11M337.5 476v20M339.5 496v8M344.5 486v10"/>
<path stroke="#ffb900" stroke-width="2" fill="none" d="M398 342v6M450 342v3M460 342v3M462 351v3M466 348v3M476 339v3M146 496v8M148 496v8M150 496v8M346 476v20M348 486v10M350 496v8M352 496v8M358 496v8M360 496v8M362 496v8M366 496v8M378 496v8M380 496v8M382 496v8M386 496v8M388 496v8M392 496v8M394 496v8M402 496v8M404 496v8M416 496v8M504 496v8"/>
<path stroke="#ffa400" stroke-width="1" fill="none" d="M167.5 381v3M167.5 399v3M168.5 324v6M168.5 354v3M168.5 378v3M168.5 399v3M197.5 387v3M198.5 366v3M198.5 372v3M198.5 393v3M198.5 399v3M201.5 363v3M201.5 372v3M202.5 348v3M203.5 372v6M203.5 384v6M215.5 357v6M215.5 369v3M215.5 375v9M215.5 387v3M216.5 351v3M217.5 345v3M217.5 351v3M311.5 342v3M311.5 351v3M312.5 351v3M312.5 357v6M312.5 366v3M313.5 378v6M313.5 390v3M314.5 339v3M314.5 378v3M315.5 318v3M320.5 360v3M320.5 366v3M320.5 372v3M325.5 348v3M325.5 366v6M326.5 390v3M327.5 339v12M327.5 360v3M328.5 360v3M329.5 354v3M329.5 363v3M329.5 378v6M153.5 444v11M154.5 464v12M156.5 455v9M157.5 455v9M158.5 464v12M163.5 464v12M164.5 455v9M168.5 428v6M175.5 444v11M176.5 444v11M181.5 464v12M187.5 444v11M190.5 464v12M194.5 455v9M195.5 464v12M204.5 455v9M205.5 476v10M206.5 464v12M209.5 464v12M210.5 464v12M212.5 434v10M213.5 455v9M221.5 444v11M222.5 476v10M223.5 455v9M225.5 464v12M230.5 464v12M231.5 464v12M236.5 464v12M244.5 464v12M245.5 464v12M247.5 444v11M251.5 464v12M252.5 455v21M259.5 444v20M261.5 476v10M263.5 486v10M265.5 486v10M275.5 496v8M277.5 486v10M281.5 434v10M281.5 455v9M282.5 486v10M285.5 455v9M294.5 434v10M296.5 455v9M297.5 434v21M299.5 464v12M300.5 444v11M302.5 455v9M304.5 434v10M305.5 428v6M311.5 428v6M314.5 434v10M315.5 434v21M317.5 434v10M318.5 428v6M319.5 434v10M321.5 434v10M323.5 428v6M326.5 428v6M327.5 428v6M334.5 486v10M336.5 486v10M341.5 486v10M342.5 496v8"/>
<path stroke="#ff8f00" stroke-width="1" fill="none" d="M168.5 369v3M168.5 396v3M198.5 369v3M198.5 375v3M198.5 387v3M198.5 402v3M199.5 345v3M199.5 369v3M200.5 345v3M200.5 366v3M201.5 351v3M201.5 369v3M201.5 378v3M202.5 357v3M202.5 369v3M215.5 384v3M216.5 369v6M216.5 381v6M217.5 363v3M309.5 378v9M311.5 345v6M311.5 396v3M311.5 402v3M313.5 366v3M313.5 375v3M313.5 384v3M314.5 354v3M314.5 372v3M320.5 375v3M320.5 381v6M324.5 360v3M329.5 375v3M330.5 354v3M151.5 455v9M153.5 455v9M155.5 455v9M158.5 486v10M160.5 476v10M161.5 464v12M172.5 455v9M173.5 455v9M179.5 444v20M180.5 464v12M182.5 464v12M183.5 476v10M185.5 464v12M186.5 444v11M188.5 464v12M192.5 455v9M195.5 455v9M196.5 464v12M198.5 434v10M200.5 428v6M208.5 464v12M211.5 434v21M212.5 455v9M213.5 444v11M214.5 434v30M215.5 428v6M216.5 434v21M219.5 464v12M221.5 455v9M228.5 486v10M229.5 476v10M230.5 476v10M232.5 476v10M234.5 476v10M236.5 444v11M237.5 476v10M238.5 464v12M241.5 464v12M260.5 486v10M261.5 486v10M268.5 486v10M269.5 486v10M274.5 496v8M277.5 476v10M287.5 455v21M289.5 455v21M290.5 476v10M292.5 464v12M293.5 455v9M294.5 444v11M295.5 444v11M296.5 464v12M297.5 455v9M298.5 464v12M299.5 455v9M300.5 455v9M302.5 464v12M303.5 444v11M306.5 434v10M308.5 434v10M314.5 428v6M317.5 428v6M322.5 428v6M324.5 428v6M325.5 434v10M327.5 434v10M332.5 444v11M333.5 476v10M334.5 496v8M340.5 496v8M343.5 496v8M344.5 496v8"/>
<path stroke="#ff8f00" stroke-width="2" fill="none" d="M348 496v8"/>
<path stroke="#ff7a00" stroke-width="1" fill="none" d="M168.5 366v3M168.5 381v3M198.5 378v3M198.5 390v3M199.5 348v3M199.5 357v6M199.5 372v3M200.5 360v6M200.5 399v6M201.5 381v6M202.5 378v3M216.5 375v6M216.5 387v3M216.5 399v3M311.5 393v3M312.5 363v3M314.5 351v3M314.5 357v3M314.5 369v3M320.5 378v3M157.5 464v12M165.5 444v20M169.5 444v11M171.5 476v10M174.5 455v9M188.5 476v10M191.5 464v12M193.5 455v9M196.5 455v9M204.5 464v12M205.5 464v12M206.5 476v10M208.5 476v10M209.5 476v10M211.5 455v9M215.5 434v10M226.5 476v10M227.5 476v10M233.5 464v12M235.5 476v10M243.5 476v10M246.5 464v12M247.5 464v12M248.5 464v12M249.5 464v12M250.5 476v10M253.5 455v9M255.5 455v9M256.5 464v12M257.5 428v6M258.5 434v21M259.5 464v22M278.5 496v8M283.5 496v8M286.5 434v21M291.5 476v10M294.5 428v6M295.5 434v10M295.5 455v9M304.5 428v6M307.5 434v10M312.5 428v6M313.5 434v10M315.5 455v9M320.5 434v10M322.5 434v10M329.5 444v11M332.5 476v10M336.5 496v8M338.5 496v8M341.5 496v8"/>
<path stroke="#ff7a00" stroke-width="2" fill="none" d="M346 496v8"/>
<path stroke="#ff6500" stroke-width="1" fill="none" d="M168.5 372v6M198.5 381v6M199.5 351v3M199.5 363v6M199.5 384v3M200.5 351v9M200.5 369v3M201.5 390v12M202.5 372v3M202.5 387v9M202.5 399v3M216.5 393v6M216.5 402v3M152.5 476v10M154.5 476v10M156.5 464v12M159.5 464v12M160.5 496v8M162.5 464v12M163.5 476v20M166.5 434v10M167.5 428v16M168.5 434v10M169.5 455v9M171.5 464v12M174.5 464v12M175.5 464v12M176.5 455v9M178.5 455v9M181.5 476v10M184.5 464v12M185.5 476v10M187.5 455v9M189.5 455v9M191.5 455v9M192.5 464v12M198.5 455v9M199.5 428v6M203.5 428v16M207.5 464v22M213.5 464v12M214.5 464v12M215.5 444v11M216.5 455v21M218.5 476v10M220.5 476v10M223.5 464v12M226.5 486v10M237.5 486v10M239.5 476v10M242.5 464v22M244.5 476v20M246.5 476v10M248.5 476v10M250.5 464v12M252.5 476v10M253.5 444v11M253.5 464v12M255.5 428v16M256.5 434v10M257.5 434v10M258.5 464v12M260.5 496v8M262.5 486v10M263.5 496v8M264.5 496v8M271.5 486v10M272.5 486v10M280.5 486v10M286.5 455v21M293.5 464v12M296.5 444v11M300.5 464v12M305.5 434v10M309.5 428v6M311.5 444v11M313.5 428v6M314.5 444v11M316.5 428v6M320.5 444v11M321.5 444v11M323.5 434v21M324.5 434v10M325.5 444v11M328.5 444v11M337.5 496v8"/>
<path stroke="#ff5200" stroke-width="1" fill="none" d="M168.5 384v12M199.5 354v3M199.5 378v3M200.5 348v3M200.5 384v3M200.5 396v3M201.5 387v3M201.5 402v3M202.5 375v3M202.5 396v3M202.5 402v3M216.5 390v3M152.5 464v12M156.5 476v10M161.5 486v10M164.5 464v12M165.5 464v12M168.5 444v20M170.5 455v9M173.5 464v12M178.5 464v12M181.5 486v10M187.5 464v12M188.5 486v10M189.5 464v12M193.5 464v12M194.5 464v12M195.5 476v20M197.5 444v32M198.5 444v11M200.5 434v10M200.5 455v9M202.5 428v6M204.5 476v10M209.5 486v10M212.5 464v12M215.5 455v21M217.5 476v10M219.5 476v10M220.5 486v10M221.5 464v12M225.5 476v10M231.5 476v10M232.5 486v10M235.5 486v10M240.5 476v10M245.5 476v10M246.5 486v10M251.5 476v10M254.5 428v6M256.5 444v20M257.5 455v31M258.5 428v6M258.5 455v9M265.5 496v8M267.5 496v8M273.5 496v8M276.5 496v8M281.5 486v10M284.5 476v20M285.5 464v12M294.5 455v9M295.5 464v12M297.5 464v12M298.5 476v10M303.5 455v9M306.5 444v11M307.5 444v11M309.5 434v10M310.5 444v20M311.5 455v9M312.5 434v10M314.5 455v9M316.5 434v10M317.5 455v9M321.5 455v9M326.5 434v10M328.5 464v12M329.5 455v9M330.5 455v9M331.5 444v20M332.5 455v9"/>
<path stroke="#ff4300" stroke-width="1" fill="none" d="M199.5 402v3M200.5 372v3M202.5 381v3M151.5 464v12M152.5 486v10M154.5 496v8M157.5 476v20M158.5 476v10M159.5 476v10M161.5 476v10M163.5 496v8M164.5 476v10M165.5 476v10M170.5 464v12M172.5 464v12M173.5 476v10M175.5 476v10M177.5 476v10M180.5 476v10M182.5 476v10M183.5 486v10M186.5 455v9M193.5 476v10M199.5 434v21M200.5 444v11M200.5 464v12M201.5 434v10M203.5 444v11M205.5 486v10M206.5 486v18M208.5 496v8M210.5 476v10M212.5 476v10M213.5 476v10M214.5 476v10M216.5 476v10M217.5 464v12M224.5 476v20M225.5 486v10M229.5 486v10M230.5 486v10M237.5 496v8M243.5 486v10M250.5 486v10M252.5 486v10M253.5 476v20M254.5 464v12M255.5 444v11M255.5 464v22M256.5 428v6M256.5 486v10M270.5 496v8M271.5 496v8M279.5 486v10M288.5 476v10M294.5 464v12M298.5 496v8M300.5 476v10M301.5 476v10M303.5 464v12M305.5 444v11M307.5 455v9M310.5 464v12M313.5 444v11M317.5 444v11M319.5 444v11M320.5 455v21M321.5 464v12M322.5 444v11M325.5 455v9M325.5 476v10M327.5 444v11M328.5 455v9M328.5 486v10M329.5 464v22M329.5 496v8M330.5 444v11M330.5 476v10M331.5 476v10M333.5 496v8"/>
<path stroke="#ff3400" stroke-width="1" fill="none" d="M199.5 375v3M199.5 381v3M199.5 387v3M199.5 399v3M200.5 375v9M200.5 393v3M202.5 384v3M153.5 464v12M155.5 464v12M158.5 496v8M159.5 496v8M166.5 444v11M167.5 444v11M167.5 464v12M169.5 464v12M171.5 486v18M172.5 476v28M173.5 496v8M174.5 476v10M179.5 464v12M180.5 486v18M181.5 496v8M183.5 496v8M184.5 476v10M185.5 486v18M186.5 464v12M190.5 476v20M191.5 486v10M194.5 476v10M196.5 476v10M198.5 464v12M201.5 428v6M201.5 455v9M203.5 455v21M205.5 496v8M208.5 486v10M211.5 464v12M219.5 486v10M221.5 476v10M227.5 486v10M228.5 496v8M232.5 496v8M234.5 486v18M238.5 476v10M240.5 464v12M245.5 486v10M248.5 486v10M249.5 476v10M254.5 476v10M256.5 476v10M256.5 496v8M257.5 444v11M257.5 486v10M258.5 476v10M259.5 486v10M261.5 496v8M266.5 496v8M269.5 496v8M272.5 496v8M287.5 476v10M288.5 496v8M289.5 476v10M299.5 486v10M302.5 476v10M303.5 476v10M304.5 444v11M306.5 455v9M307.5 486v10M310.5 476v10M312.5 464v12M315.5 464v22M318.5 444v11M319.5 455v9M324.5 444v11M326.5 444v11M328.5 476v10M328.5 496v8M330.5 464v12M332.5 464v12M332.5 486v18"/>
<path stroke="#ff2500" stroke-width="1" fill="none" d="M200.5 387v3M154.5 486v10M155.5 476v10M156.5 486v10M157.5 496v8M159.5 486v10M161.5 496v8M162.5 476v20M164.5 486v10M166.5 464v12M168.5 464v12M175.5 486v10M176.5 464v12M178.5 476v10M179.5 476v10M182.5 486v18M186.5 476v10M190.5 496v8M191.5 476v10M192.5 476v10M195.5 496v8M197.5 476v10M199.5 455v9M201.5 464v12M202.5 434v10M202.5 455v9M207.5 486v18M209.5 496v8M211.5 476v10M213.5 486v10M214.5 486v10M215.5 486v10M216.5 486v10M218.5 496v8M220.5 496v8M222.5 486v10M225.5 496v8M229.5 496v8M230.5 496v8M231.5 486v10M236.5 486v10M239.5 496v8M241.5 476v10M242.5 486v10M244.5 496v8M247.5 476v10M249.5 486v10M252.5 496v8M253.5 496v8M254.5 434v30M255.5 496v8M258.5 486v10M259.5 496v8M268.5 496v8M279.5 496v8M282.5 496v8M284.5 496v8M285.5 476v10M286.5 476v10M288.5 486v10M290.5 496v8M291.5 486v10M292.5 476v10M293.5 476v10M298.5 486v10M299.5 476v10M301.5 486v10M303.5 486v10M304.5 464v12M304.5 496v8M307.5 476v10M308.5 444v32M311.5 464v12M312.5 444v11M314.5 464v22M318.5 455v31M321.5 476v10M322.5 455v21M323.5 455v9M325.5 464v12M329.5 486v10M330.5 486v10M331.5 496v8"/>
<path stroke="#ff1600" stroke-width="1" fill="none" d="M199.5 390v3M199.5 396v3M200.5 390v3M151.5 486v10M166.5 476v10M167.5 455v9M167.5 476v10M170.5 476v10M174.5 486v18M177.5 486v18M184.5 486v18M186.5 486v10M188.5 496v8M192.5 486v10M194.5 486v18M199.5 476v10M200.5 476v10M200.5 496v8M201.5 444v11M201.5 496v8M203.5 476v10M204.5 486v10M210.5 486v18M214.5 496v8M215.5 476v10M217.5 486v18M219.5 496v8M222.5 496v8M226.5 496v8M227.5 496v8M233.5 476v20M236.5 476v10M238.5 486v10M239.5 486v10M241.5 486v18M242.5 496v8M245.5 496v8M248.5 496v8M250.5 496v8M251.5 486v10M255.5 486v10M258.5 496v8M262.5 496v8M277.5 496v8M280.5 496v8M285.5 486v10M287.5 486v10M289.5 486v10M290.5 486v10M292.5 486v18M294.5 476v10M295.5 486v10M296.5 476v10M297.5 476v10M299.5 496v8M300.5 486v10M302.5 496v8M303.5 496v8M305.5 476v10M305.5 496v8M306.5 476v10M306.5 496v8M307.5 464v12M308.5 476v10M309.5 455v9M310.5 486v10M312.5 455v9M313.5 455v21M314.5 486v18M315.5 486v18M316.5 444v11M317.5 476v10M319.5 464v12M319.5 486v10M320.5 476v10M321.5 486v10M323.5 464v12M324.5 464v12M325.5 486v10M326.5 455v21M330.5 496v8M331.5 464v12"/>
<path stroke="#ff0700" stroke-width="1" fill="none" d="M199.5 393v3M151.5 476v10M151.5 496v8M152.5 496v8M153.5 476v28M155.5 486v18M156.5 496v8M162.5 496v8M164.5 496v8M165.5 486v18M166.5 455v9M166.5 486v18M167.5 486v18M168.5 476v28M169.5 476v28M170.5 486v18M173.5 486v10M175.5 496v8M176.5 476v28M178.5 486v18M179.5 486v18M186.5 496v8M187.5 476v28M189.5 476v28M191.5 496v8M192.5 496v8M193.5 486v18M196.5 486v18M197.5 486v18M198.5 476v28M199.5 464v12M199.5 486v18M200.5 486v10M201.5 476v20M202.5 444v11M202.5 464v40M203.5 486v18M204.5 496v8M211.5 486v18M212.5 486v18M213.5 496v8M215.5 496v8M216.5 496v8M218.5 486v10M221.5 486v18M223.5 476v28M224.5 496v8M231.5 496v8M233.5 496v8M235.5 496v8M236.5 496v8M238.5 496v8M240.5 486v18M243.5 496v8M246.5 496v8M247.5 486v18M249.5 496v8M251.5 496v8M254.5 486v18M257.5 496v8M281.5 496v8M285.5 496v8M286.5 486v18M287.5 496v8M289.5 496v8M291.5 496v8M293.5 486v18M294.5 486v18M295.5 476v10M295.5 496v8M296.5 486v18M297.5 486v18M300.5 496v8M301.5 496v8M302.5 486v10M304.5 455v9M304.5 476v20M305.5 455v21M305.5 486v10M306.5 464v12M306.5 486v10M307.5 496v8M308.5 486v18M309.5 444v11M309.5 464v40M310.5 496v8M311.5 476v28M312.5 476v28M313.5 476v28M316.5 455v49M317.5 464v12M317.5 486v18M318.5 486v18M319.5 476v10M319.5 496v8M320.5 486v18M321.5 496v8M322.5 476v28M323.5 476v28M324.5 455v9M324.5 476v28M325.5 496v8M326.5 476v28M327.5 455v49M331.5 486v10"/>
<polyline fill="none" stroke="#ff00ff" stroke-width="1.7" stroke-linejoin="round" shape-rendering="geometricPrecision" points="147.5,69.1 153.5,74.5 159.5,79.8 165.5,85.0 171.5,90.1 177.5,95.1 183.5,100.0 189.5,104.5 195.5,108.6 201.5,112.5 207.5,116.2 213.5,119.8 219.5,123.4 225.5,127.0 231.5,130.4 237.5,133.7 243.5,136.6 249.5,139.4 255.5,142.0 261.5,144.6 267.5,147.0 273.5,149.5 279.5,151.9 285.5,154.3 291.5,156.7 297.5,159.0 303.5,161.1 309.5,163.0 315.5,164.9 321.5,166.8 327.5,168.7 333.5,170.6 339.5,172.5 345.5,174.3 351.5,175.9 357.5,177.3 363.5,178.6 369.5,179.8 375.5,181.0 381.5,182.1 387.5,183.2 393.5,184.2 399.5,185.2 405.5,186.2 411.5,187.2 417.5,188.1 423.5,188.9 429.5,189.8 435.5,190.6 441.5,191.4 447.5,192.1 453.5,192.9 459.5,193.6 465.5,194.3 471.5,194.9 477.5,195.6 483.5,196.2 489.5,196.7 495.5,197.2 500,197.6 514,197.6 515,198.5 531,198.5 532,199.2 555,199.2 556,200.0 575,200.0 576,200.5 618,200.5 620,199.8 638.8,199.8"/>
<defs><linearGradient id="cw" x1="0" y1="1" x2="0" y2="0">
<stop offset="0" stop-color="#000089"/><stop offset="0.1176" stop-color="#0000ff"/><stop offset="0.2471" stop-color="#00ffff"/>
<stop offset="0.4941" stop-color="#00ff00"/><stop offset="0.6353" stop-color="#ffff00"/><stop offset="0.7529" stop-color="#ffb900"/>
<stop offset="0.8667" stop-color="#ff5400"/><stop offset="1" stop-color="#ff0000"/></linearGradient></defs>
<rect x="966" y="53" width="13" height="353" fill="url(#cw)"/>
<rect x="966" y="429" width="13" height="76" fill="url(#cw)"/>
<g fill="#000">
<rect x="90" y="51" width="864" height="1"/>
<rect x="90" y="405" width="864" height="1"/>
<rect x="90" y="51" width="1" height="355"/>
<rect x="953" y="51" width="1" height="355"/>
<rect x="90" y="427" width="864" height="1"/>
<rect x="90" y="504" width="864" height="1"/>
<rect x="90" y="427" width="1" height="78"/>
<rect x="953" y="427" width="1" height="78"/>
<rect x="81" y="405" width="9" height="1"/>
<rect x="86" y="376" width="4" height="1"/>
<rect x="86" y="359" width="4" height="1"/>
<rect x="86" y="346" width="4" height="1"/>
<rect x="86" y="337" width="4" height="1"/>
<rect x="86" y="329" width="4" height="1"/>
<rect x="86" y="322" width="4" height="1"/>
<rect x="86" y="317" width="4" height="1"/>
<rect x="86" y="312" width="4" height="1"/>
<rect x="81" y="307" width="9" height="1"/>
<rect x="86" y="278" width="4" height="1"/>
<rect x="86" y="261" width="4" height="1"/>
<rect x="86" y="248" width="4" height="1"/>
<rect x="86" y="239" width="4" height="1"/>
<rect x="86" y="231" width="4" height="1"/>
<rect x="86" y="224" width="4" height="1"/>
<rect x="86" y="219" width="4" height="1"/>
<rect x="86" y="214" width="4" height="1"/>
<rect x="81" y="209" width="9" height="1"/>
<rect x="86" y="180" width="4" height="1"/>
<rect x="86" y="163" width="4" height="1"/>
<rect x="86" y="150" width="4" height="1"/>
<rect x="86" y="141" width="4" height="1"/>
<rect x="86" y="133" width="4" height="1"/>
<rect x="86" y="126" width="4" height="1"/>
<rect x="86" y="121" width="4" height="1"/>
<rect x="86" y="116" width="4" height="1"/>
<rect x="81" y="111" width="9" height="1"/>
<rect x="86" y="82" width="4" height="1"/>
<rect x="86" y="65" width="4" height="1"/>
<rect x="86" y="52" width="4" height="1"/>
<rect x="81" y="428" width="9" height="1"/>
<rect x="81" y="470" width="9" height="1"/>
<rect x="86" y="430" width="4" height="1"/>
<rect x="86" y="432" width="4" height="1"/>
<rect x="86" y="434" width="4" height="1"/>
<rect x="86" y="437" width="4" height="1"/>
<rect x="86" y="440" width="4" height="1"/>
<rect x="86" y="444" width="4" height="1"/>
<rect x="86" y="450" width="4" height="1"/>
<rect x="86" y="458" width="4" height="1"/>
<rect x="86" y="472" width="4" height="1"/>
<rect x="86" y="473" width="4" height="1"/>
<rect x="86" y="476" width="4" height="1"/>
<rect x="86" y="479" width="4" height="1"/>
<rect x="86" y="483" width="4" height="1"/>
<rect x="86" y="487" width="4" height="1"/>
<rect x="86" y="492" width="4" height="1"/>
<rect x="86" y="498" width="4" height="1"/>
<rect x="116" y="505" width="1" height="9"/>
<rect x="147" y="505" width="1" height="4"/>
<rect x="179" y="505" width="1" height="4"/>
<rect x="210" y="505" width="1" height="4"/>
<rect x="242" y="505" width="1" height="9"/>
<rect x="273" y="505" width="1" height="4"/>
<rect x="305" y="505" width="1" height="4"/>
<rect x="336" y="505" width="1" height="4"/>
<rect x="368" y="505" width="1" height="9"/>
<rect x="399" y="505" width="1" height="4"/>
<rect x="430" y="505" width="1" height="4"/>
<rect x="462" y="505" width="1" height="4"/>
<rect x="493" y="505" width="1" height="9"/>
<rect x="525" y="505" width="1" height="4"/>
<rect x="556" y="505" width="1" height="4"/>
<rect x="588" y="505" width="1" height="4"/>
<rect x="619" y="505" width="1" height="9"/>
<rect x="651" y="505" width="1" height="4"/>
<rect x="682" y="505" width="1" height="4"/>
<rect x="713" y="505" width="1" height="4"/>
<rect x="745" y="505" width="1" height="9"/>
<rect x="776" y="505" width="1" height="4"/>
<rect x="808" y="505" width="1" height="4"/>
<rect x="839" y="505" width="1" height="4"/>
<rect x="871" y="505" width="1" height="9"/>
<rect x="902" y="505" width="1" height="4"/>
<rect x="934" y="505" width="1" height="4"/>
<rect x="979" y="52" width="1" height="354"/>
<rect x="979" y="428" width="1" height="77"/>
<rect x="980" y="52" width="9" height="1"/>
<rect x="980" y="87" width="4" height="1"/>
<rect x="980" y="123" width="9" height="1"/>
<rect x="980" y="158" width="4" height="1"/>
<rect x="980" y="193" width="9" height="1"/>
<rect x="980" y="228" width="4" height="1"/>
<rect x="980" y="264" width="9" height="1"/>
<rect x="980" y="299" width="4" height="1"/>
<rect x="980" y="334" width="9" height="1"/>
<rect x="980" y="370" width="4" height="1"/>
<rect x="980" y="405" width="9" height="1"/>
<rect x="980" y="428" width="4" height="1"/>
<rect x="980" y="435" width="4" height="1"/>
<rect x="980" y="443" width="4" height="1"/>
<rect x="980" y="450" width="4" height="1"/>
<rect x="980" y="458" width="9" height="1"/>
<rect x="980" y="466" width="4" height="1"/>
<rect x="980" y="473" width="4" height="1"/>
<rect x="980" y="481" width="4" height="1"/>
<rect x="980" y="488" width="4" height="1"/>
<rect x="980" y="496" width="9" height="1"/>
<rect x="980" y="504" width="4" height="1"/>
</g>
<g text-rendering="geometricPrecision">
<text x="55.8" y="413">10<tspan dx="-0.8" dy="-6">2</tspan></text>
<text x="55.8" y="315">10<tspan dx="-0.8" dy="-6">3</tspan></text>
<text x="55.8" y="217">10<tspan dx="-0.8" dy="-6">4</tspan></text>
<text x="55.8" y="119">10<tspan dx="-0.8" dy="-6">5</tspan></text>
<text x="55.8" y="436">10<tspan dx="-0.8" dy="-6">2</tspan></text>
<text x="55.8" y="478">10<tspan dx="-0.8" dy="-6">1</tspan></text>
<text x="991.6" y="60">10<tspan dx="-0.8" dy="-6">-6</tspan></text>
<text x="991.6" y="131">10<tspan dx="-0.8" dy="-6">-8</tspan></text>
<text x="991.6" y="201">10<tspan dx="-0.8" dy="-6">-10</tspan></text>
<text x="991.6" y="272">10<tspan dx="-0.8" dy="-6">-12</tspan></text>
<text x="991.6" y="342">10<tspan dx="-0.8" dy="-6">-14</tspan></text>
<text x="991.6" y="413">10<tspan dx="-0.8" dy="-6">-16</tspan></text>
<text x="991.6" y="466">10<tspan dx="-0.8" dy="-6">-10</tspan></text>
<text x="991.6" y="504">10<tspan dx="-0.8" dy="-6">-15</tspan></text>
<text x="521.3" y="30.8" text-anchor="middle" textLength="483.5" lengthAdjust="spacing" xml:space="preserve" style="white-space:pre">DE 1/PWI-SFC  Spin Plane E-Field Spectra, 200 meter antenna, 104 Hz to 409 kHz</text>
<text x="521.5" y="44" text-anchor="middle" font-size="9" font-weight="bold" textLength="123" lengthAdjust="spacing">(Magenta Line: Fce in Hz)</text>
<text x="521.7" y="418.6" text-anchor="middle" textLength="478.5" lengthAdjust="spacing" xml:space="preserve" style="white-space:pre">DE 1/PWI-LFC  Spin Plane E-Field Spectra, 200 meter antenna, 1.78 Hz to 100 Hz</text>
<text transform="translate(46.5,228) rotate(-90)" text-anchor="middle">Frequency (Hz)</text>
<text transform="translate(46.5,465.5) rotate(-90)" text-anchor="middle">Freq (Hz)</text>
<text transform="translate(1049,228.5) rotate(-90)" text-anchor="middle">Ex (V<tspan dy="-7">2</tspan><tspan dy="7"> m</tspan><tspan dy="-7">-2</tspan><tspan dy="7"> Hz</tspan><tspan dy="-7">-1</tspan><tspan dy="7">)</tspan></text>
<text transform="translate(1042,465.8) rotate(-90)" text-anchor="middle">LFC Ex</text>
<text x="131.6" y="530" text-anchor="end">02:00</text>
<text x="257.4" y="530" text-anchor="end">03:00</text>
<text x="257.4" y="546" text-anchor="end">3.117</text>
<text x="257.4" y="562" text-anchor="end">****</text>
<text x="257.4" y="577.5" text-anchor="end">10.731</text>
<text x="257.4" y="593.5" text-anchor="end">81.449</text>
<text x="383.2" y="530" text-anchor="end">04:00</text>
<text x="383.2" y="546" text-anchor="end">4.210</text>
<text x="383.2" y="562" text-anchor="end">15.602</text>
<text x="383.2" y="577.5" text-anchor="end">9.744</text>
<text x="383.2" y="593.5" text-anchor="end">58.057</text>
<text x="509.0" y="530" text-anchor="end">05:00</text>
<text x="509.0" y="546" text-anchor="end">4.636</text>
<text x="509.0" y="562" text-anchor="end">8.718</text>
<text x="509.0" y="577.5" text-anchor="end">9.576</text>
<text x="509.0" y="593.5" text-anchor="end">42.975</text>
<text x="634.8" y="530" text-anchor="end">06:00</text>
<text x="634.8" y="546" text-anchor="end">4.479</text>
<text x="634.8" y="562" text-anchor="end">5.872</text>
<text x="634.8" y="577.5" text-anchor="end">9.396</text>
<text x="634.8" y="593.5" text-anchor="end">29.453</text>
<text x="760.6" y="530" text-anchor="end">07:00</text>
<text x="886.4" y="530" text-anchor="end">08:00</text>
<text x="59.3" y="546" text-anchor="end">R<tspan font-size="7.5" dy="3">e</tspan></text>
<text x="59.3" y="562" text-anchor="end">L</text>
<text x="59.3" y="577.5" text-anchor="end">M<tspan font-size="7.5" dy="3">LT</tspan></text>
<text x="59.3" y="593.5" text-anchor="end">M<tspan font-size="7.5" dy="3">LAT</tspan></text>
<text x="522" y="611.8" text-anchor="middle" textLength="169.2" lengthAdjust="spacing">1984-04-17 (108) 1:48 to 8:39</text>
</g>
</svg>
</body></html>
